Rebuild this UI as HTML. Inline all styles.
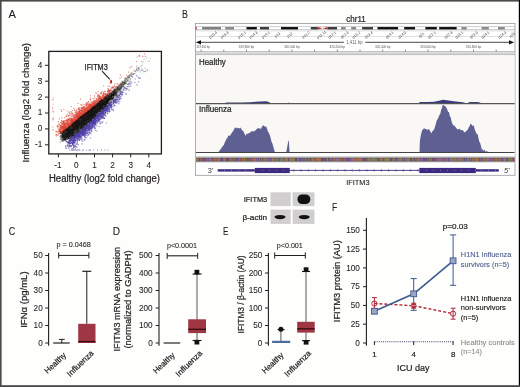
<!DOCTYPE html>
<html><head><meta charset="utf-8"><style>
html,body{margin:0;padding:0;background:#fff;}
svg{display:block;font-family:"Liberation Sans", sans-serif;will-change:transform;}
</style></head><body>
<svg width="520" height="387" viewBox="0 0 520 387">
<rect width="520" height="387" fill="#fefefd"/>
<text x="8.6" y="17.6" font-size="11.4" text-anchor="start" fill="#231f20" stroke="#231f20" stroke-width="0.1" textLength="7.4" lengthAdjust="spacingAndGlyphs" >A</text>
<rect x="48.8" y="51.4" width="112.6" height="102.5" fill="none" stroke="#231f20" stroke-width="1.3"/>
<line x1="45" y1="65.3" x2="48.8" y2="65.3" stroke="#231f20" stroke-width="1" />
<text x="42.3" y="67.75" font-size="8.2" text-anchor="end" fill="#231f20" stroke="#231f20" stroke-width="0.08" >4</text>
<line x1="45" y1="81.2" x2="48.8" y2="81.2" stroke="#231f20" stroke-width="1" />
<text x="42.3" y="83.65" font-size="8.2" text-anchor="end" fill="#231f20" stroke="#231f20" stroke-width="0.08" >3</text>
<line x1="45" y1="97.1" x2="48.8" y2="97.1" stroke="#231f20" stroke-width="1" />
<text x="42.3" y="99.55" font-size="8.2" text-anchor="end" fill="#231f20" stroke="#231f20" stroke-width="0.08" >2</text>
<line x1="45" y1="113.0" x2="48.8" y2="113.0" stroke="#231f20" stroke-width="1" />
<text x="42.3" y="115.45" font-size="8.2" text-anchor="end" fill="#231f20" stroke="#231f20" stroke-width="0.08" >1</text>
<line x1="45" y1="128.9" x2="48.8" y2="128.9" stroke="#231f20" stroke-width="1" />
<text x="42.3" y="131.35" font-size="8.2" text-anchor="end" fill="#231f20" stroke="#231f20" stroke-width="0.08" >0</text>
<line x1="45" y1="144.8" x2="48.8" y2="144.8" stroke="#231f20" stroke-width="1" />
<text x="42.3" y="147.25" font-size="8.2" text-anchor="end" fill="#231f20" stroke="#231f20" stroke-width="0.08" >-1</text>
<line x1="58.4" y1="153.7" x2="58.4" y2="157.4" stroke="#231f20" stroke-width="1" />
<text x="57.8" y="167.6" font-size="8.2" text-anchor="middle" fill="#231f20" stroke="#231f20" stroke-width="0.08" >-1</text>
<line x1="76.4" y1="153.7" x2="76.4" y2="157.4" stroke="#231f20" stroke-width="1" />
<text x="76.4" y="167.6" font-size="8.2" text-anchor="middle" fill="#231f20" stroke="#231f20" stroke-width="0.08" >0</text>
<line x1="94.5" y1="153.7" x2="94.5" y2="157.4" stroke="#231f20" stroke-width="1" />
<text x="94.5" y="167.6" font-size="8.2" text-anchor="middle" fill="#231f20" stroke="#231f20" stroke-width="0.08" >1</text>
<line x1="112.6" y1="153.7" x2="112.6" y2="157.4" stroke="#231f20" stroke-width="1" />
<text x="112.6" y="167.6" font-size="8.2" text-anchor="middle" fill="#231f20" stroke="#231f20" stroke-width="0.08" >2</text>
<line x1="130.7" y1="153.7" x2="130.7" y2="157.4" stroke="#231f20" stroke-width="1" />
<text x="130.7" y="167.6" font-size="8.2" text-anchor="middle" fill="#231f20" stroke="#231f20" stroke-width="0.08" >3</text>
<line x1="148.8" y1="153.7" x2="148.8" y2="157.4" stroke="#231f20" stroke-width="1" />
<text x="148.8" y="167.6" font-size="8.2" text-anchor="middle" fill="#231f20" stroke="#231f20" stroke-width="0.08" >4</text>
<text x="49" y="181.9" font-size="10.0" text-anchor="start" fill="#231f20" stroke="#231f20" stroke-width="0.22" textLength="111" lengthAdjust="spacingAndGlyphs" >Healthy (log2 fold change)</text>
<text x="0" y="0" font-size="9.6" text-anchor="middle" fill="#231f20" stroke="#231f20" stroke-width="0.22" textLength="119.5" lengthAdjust="spacingAndGlyphs" transform="translate(28.6,102.7) rotate(-90)">Influenza (log2 fold change)</text>
<path d="M143.6 58.8h1.1v1.1h-1.1zM128.5 76.0h1.1v1.1h-1.1zM129.4 75.0h1.1v1.1h-1.1zM133.5 69.8h1.1v1.1h-1.1zM132.8 73.2h1.1v1.1h-1.1zM148.8 60.5h1.1v1.1h-1.1zM120.6 88.8h1.1v1.1h-1.1zM129.7 78.2h1.1v1.1h-1.1zM132.7 73.9h1.1v1.1h-1.1zM136.1 65.4h1.1v1.1h-1.1zM129.3 79.5h1.1v1.1h-1.1zM142.5 61.1h1.1v1.1h-1.1zM128.7 75.2h1.1v1.1h-1.1zM128.3 76.8h1.1v1.1h-1.1zM127.2 76.1h1.1v1.1h-1.1zM120.9 83.9h1.1v1.1h-1.1zM136.0 69.3h1.1v1.1h-1.1zM124.4 82.1h1.1v1.1h-1.1zM131.1 73.6h1.1v1.1h-1.1zM128.7 76.9h1.1v1.1h-1.1zM116.0 94.7h1.1v1.1h-1.1zM124.2 82.3h1.1v1.1h-1.1zM133.7 71.2h1.1v1.1h-1.1zM124.8 82.6h1.1v1.1h-1.1zM137.5 68.4h1.1v1.1h-1.1zM138.5 67.6h1.1v1.1h-1.1zM136.6 70.1h1.1v1.1h-1.1zM137.5 67.6h1.1v1.1h-1.1zM124.5 79.9h1.1v1.1h-1.1zM132.1 76.0h1.1v1.1h-1.1zM119.0 89.8h1.1v1.1h-1.1zM126.6 80.2h1.1v1.1h-1.1zM127.7 78.4h1.1v1.1h-1.1zM138.2 70.3h1.1v1.1h-1.1zM127.2 79.0h1.1v1.1h-1.1zM122.4 85.3h1.1v1.1h-1.1zM121.0 87.0h1.1v1.1h-1.1zM128.6 86.2h1.1v1.1h-1.1zM135.0 70.6h1.1v1.1h-1.1zM132.4 73.7h1.1v1.1h-1.1zM130.8 72.3h1.1v1.1h-1.1zM149.5 57.7h1.1v1.1h-1.1zM126.2 78.3h1.1v1.1h-1.1zM121.9 83.7h1.1v1.1h-1.1zM129.2 73.9h1.1v1.1h-1.1zM130.0 73.3h1.1v1.1h-1.1zM144.4 67.4h1.1v1.1h-1.1zM122.5 84.1h1.1v1.1h-1.1zM147.4 60.9h1.1v1.1h-1.1zM133.3 71.5h1.1v1.1h-1.1zM120.3 87.7h1.1v1.1h-1.1zM133.6 72.9h1.1v1.1h-1.1zM131.9 74.1h1.1v1.1h-1.1z" fill="#6a6a6a" fill-opacity="0.45"/>
<path d="M127.6 80.9h1.1v1.1h-1.1zM120.2 86.9h1.1v1.1h-1.1zM136.8 68.9h1.1v1.1h-1.1zM131.8 74.0h1.1v1.1h-1.1zM140.7 65.6h1.1v1.1h-1.1zM133.2 73.4h1.1v1.1h-1.1zM126.5 80.6h1.1v1.1h-1.1zM134.4 73.0h1.1v1.1h-1.1zM128.4 75.8h1.1v1.1h-1.1zM135.9 68.5h1.1v1.1h-1.1zM119.9 83.7h1.1v1.1h-1.1zM138.4 68.2h1.1v1.1h-1.1zM127.6 79.5h1.1v1.1h-1.1zM146.1 57.3h1.1v1.1h-1.1zM132.5 73.8h1.1v1.1h-1.1zM132.0 73.6h1.1v1.1h-1.1zM146.6 68.9h1.1v1.1h-1.1zM131.7 75.9h1.1v1.1h-1.1zM128.5 74.7h1.1v1.1h-1.1zM141.0 61.0h1.1v1.1h-1.1zM124.0 81.9h1.1v1.1h-1.1zM137.8 67.3h1.1v1.1h-1.1zM138.9 69.0h1.1v1.1h-1.1zM135.1 71.2h1.1v1.1h-1.1zM122.7 81.6h1.1v1.1h-1.1zM134.9 70.2h1.1v1.1h-1.1zM136.0 67.3h1.1v1.1h-1.1zM123.7 83.2h1.1v1.1h-1.1zM130.8 75.3h1.1v1.1h-1.1zM139.8 71.4h1.1v1.1h-1.1zM131.1 72.4h1.1v1.1h-1.1zM130.2 74.5h1.1v1.1h-1.1zM138.4 66.8h1.1v1.1h-1.1zM129.1 76.8h1.1v1.1h-1.1zM137.6 69.6h1.1v1.1h-1.1zM137.8 67.9h1.1v1.1h-1.1zM122.7 85.9h1.1v1.1h-1.1zM129.8 73.9h1.1v1.1h-1.1zM124.3 82.2h1.1v1.1h-1.1zM124.5 83.0h1.1v1.1h-1.1zM122.8 82.2h1.1v1.1h-1.1zM124.6 83.5h1.1v1.1h-1.1zM136.3 69.7h1.1v1.1h-1.1zM140.8 64.9h1.1v1.1h-1.1zM132.0 76.5h1.1v1.1h-1.1zM141.2 68.1h1.1v1.1h-1.1zM129.4 80.4h1.1v1.1h-1.1zM131.7 73.5h1.1v1.1h-1.1zM125.5 82.0h1.1v1.1h-1.1zM118.4 89.0h1.1v1.1h-1.1zM124.4 82.9h1.1v1.1h-1.1zM118.0 88.5h1.1v1.1h-1.1zM141.9 63.4h1.1v1.1h-1.1z" fill="#6a6a6a" fill-opacity="0.45"/>
<path d="M83.6 130.2h1.1v1.1h-1.1zM84.7 133.4h1.1v1.1h-1.1zM80.4 130.5h1.1v1.1h-1.1zM118.8 94.7h1.1v1.1h-1.1zM100.9 111.6h1.1v1.1h-1.1zM117.1 95.5h1.1v1.1h-1.1zM99.9 113.5h1.1v1.1h-1.1zM101.5 113.1h1.1v1.1h-1.1zM93.2 118.1h1.1v1.1h-1.1zM107.6 105.4h1.1v1.1h-1.1zM84.2 131.5h1.1v1.1h-1.1zM89.3 126.2h1.1v1.1h-1.1zM102.0 112.0h1.1v1.1h-1.1zM119.9 93.1h1.1v1.1h-1.1zM89.4 123.2h1.1v1.1h-1.1zM84.5 133.3h1.1v1.1h-1.1zM81.8 129.1h1.1v1.1h-1.1zM95.1 120.7h1.1v1.1h-1.1zM83.5 139.3h1.1v1.1h-1.1zM96.6 121.0h1.1v1.1h-1.1zM82.6 133.7h1.1v1.1h-1.1zM102.9 110.6h1.1v1.1h-1.1zM94.0 122.9h1.1v1.1h-1.1zM73.8 137.4h1.1v1.1h-1.1zM93.5 119.2h1.1v1.1h-1.1zM102.2 110.4h1.1v1.1h-1.1zM81.8 129.2h1.1v1.1h-1.1zM83.0 131.3h1.1v1.1h-1.1zM101.5 111.2h1.1v1.1h-1.1zM97.1 118.2h1.1v1.1h-1.1zM94.1 120.1h1.1v1.1h-1.1zM93.4 120.6h1.1v1.1h-1.1zM74.3 140.2h1.1v1.1h-1.1zM69.0 143.1h1.1v1.1h-1.1zM103.5 107.9h1.1v1.1h-1.1zM85.0 129.3h1.1v1.1h-1.1zM75.1 139.9h1.1v1.1h-1.1zM74.9 140.5h1.1v1.1h-1.1zM97.7 121.2h1.1v1.1h-1.1zM79.8 132.0h1.1v1.1h-1.1zM119.2 92.1h1.1v1.1h-1.1zM83.1 130.1h1.1v1.1h-1.1zM111.5 101.1h1.1v1.1h-1.1zM101.1 116.8h1.1v1.1h-1.1zM88.5 124.9h1.1v1.1h-1.1zM79.2 130.5h1.1v1.1h-1.1zM95.6 119.3h1.1v1.1h-1.1zM89.0 125.5h1.1v1.1h-1.1zM113.3 98.8h1.1v1.1h-1.1zM83.2 128.5h1.1v1.1h-1.1zM101.6 116.9h1.1v1.1h-1.1zM71.4 139.8h1.1v1.1h-1.1zM81.4 129.5h1.1v1.1h-1.1zM88.9 128.0h1.1v1.1h-1.1zM73.4 139.0h1.1v1.1h-1.1zM93.5 120.1h1.1v1.1h-1.1zM121.6 92.2h1.1v1.1h-1.1zM104.6 112.2h1.1v1.1h-1.1zM71.5 141.8h1.1v1.1h-1.1zM96.7 116.0h1.1v1.1h-1.1zM127.3 88.4h1.1v1.1h-1.1zM104.3 108.7h1.1v1.1h-1.1zM90.4 120.7h1.1v1.1h-1.1zM112.9 101.4h1.1v1.1h-1.1zM65.1 145.4h1.1v1.1h-1.1zM85.3 128.1h1.1v1.1h-1.1zM91.8 127.2h1.1v1.1h-1.1zM86.4 124.7h1.1v1.1h-1.1zM114.5 105.3h1.1v1.1h-1.1zM108.3 106.1h1.1v1.1h-1.1zM90.2 128.1h1.1v1.1h-1.1zM72.7 140.6h1.1v1.1h-1.1zM108.8 109.5h1.1v1.1h-1.1zM74.7 139.4h1.1v1.1h-1.1zM100.4 112.0h1.1v1.1h-1.1zM95.2 118.2h1.1v1.1h-1.1zM93.3 120.4h1.1v1.1h-1.1zM91.8 123.0h1.1v1.1h-1.1zM77.1 133.8h1.1v1.1h-1.1zM73.6 137.5h1.1v1.1h-1.1zM95.6 117.9h1.1v1.1h-1.1zM136.4 84.3h1.1v1.1h-1.1zM103.0 111.4h1.1v1.1h-1.1zM114.1 99.6h1.1v1.1h-1.1zM86.5 132.2h1.1v1.1h-1.1zM69.7 139.3h1.1v1.1h-1.1zM66.1 141.4h1.1v1.1h-1.1zM91.6 123.7h1.1v1.1h-1.1zM94.8 121.5h1.1v1.1h-1.1zM99.3 112.4h1.1v1.1h-1.1zM98.9 118.4h1.1v1.1h-1.1zM85.6 127.0h1.1v1.1h-1.1zM86.2 125.8h1.1v1.1h-1.1zM92.3 128.3h1.1v1.1h-1.1zM83.5 128.3h1.1v1.1h-1.1zM103.7 118.0h1.1v1.1h-1.1zM95.7 121.2h1.1v1.1h-1.1zM106.3 105.8h1.1v1.1h-1.1zM92.9 124.1h1.1v1.1h-1.1zM77.9 135.5h1.1v1.1h-1.1zM106.1 106.1h1.1v1.1h-1.1zM90.4 121.9h1.1v1.1h-1.1zM91.8 126.8h1.1v1.1h-1.1zM86.2 127.9h1.1v1.1h-1.1zM70.8 137.4h1.1v1.1h-1.1zM89.3 122.6h1.1v1.1h-1.1zM76.3 132.7h1.1v1.1h-1.1zM70.7 142.0h1.1v1.1h-1.1zM79.0 135.7h1.1v1.1h-1.1zM88.8 123.7h1.1v1.1h-1.1zM87.4 128.4h1.1v1.1h-1.1zM108.8 108.1h1.1v1.1h-1.1zM99.0 117.8h1.1v1.1h-1.1zM78.6 133.7h1.1v1.1h-1.1zM76.9 138.9h1.1v1.1h-1.1zM89.6 124.1h1.1v1.1h-1.1zM92.5 124.8h1.1v1.1h-1.1zM96.3 116.4h1.1v1.1h-1.1zM117.3 94.2h1.1v1.1h-1.1zM99.3 113.5h1.1v1.1h-1.1zM108.3 104.2h1.1v1.1h-1.1zM78.4 131.6h1.1v1.1h-1.1zM78.5 134.0h1.1v1.1h-1.1zM87.0 125.1h1.1v1.1h-1.1zM81.2 134.6h1.1v1.1h-1.1zM77.3 136.0h1.1v1.1h-1.1zM82.6 132.6h1.1v1.1h-1.1zM86.6 125.0h1.1v1.1h-1.1zM97.1 115.6h1.1v1.1h-1.1zM89.6 127.4h1.1v1.1h-1.1zM134.6 78.4h1.1v1.1h-1.1zM75.9 136.0h1.1v1.1h-1.1zM84.8 127.6h1.1v1.1h-1.1zM90.3 133.3h1.1v1.1h-1.1zM85.0 131.6h1.1v1.1h-1.1zM76.9 133.8h1.1v1.1h-1.1zM86.1 127.0h1.1v1.1h-1.1zM86.0 127.6h1.1v1.1h-1.1zM101.2 112.1h1.1v1.1h-1.1zM91.8 125.6h1.1v1.1h-1.1zM102.5 112.8h1.1v1.1h-1.1zM105.9 107.0h1.1v1.1h-1.1zM75.2 147.7h1.1v1.1h-1.1zM106.9 108.1h1.1v1.1h-1.1zM74.9 134.7h1.1v1.1h-1.1zM85.1 128.0h1.1v1.1h-1.1zM73.9 142.5h1.1v1.1h-1.1zM88.1 123.9h1.1v1.1h-1.1zM102.2 110.5h1.1v1.1h-1.1zM71.9 142.3h1.1v1.1h-1.1zM81.4 132.2h1.1v1.1h-1.1zM85.8 127.5h1.1v1.1h-1.1zM119.3 101.2h1.1v1.1h-1.1zM106.1 107.0h1.1v1.1h-1.1zM98.5 116.0h1.1v1.1h-1.1zM91.7 124.0h1.1v1.1h-1.1zM93.8 118.7h1.1v1.1h-1.1zM73.7 139.1h1.1v1.1h-1.1zM73.2 145.1h1.1v1.1h-1.1zM89.5 125.7h1.1v1.1h-1.1zM83.7 127.7h1.1v1.1h-1.1zM112.8 106.4h1.1v1.1h-1.1zM114.4 100.0h1.1v1.1h-1.1zM67.6 141.8h1.1v1.1h-1.1zM78.4 135.3h1.1v1.1h-1.1zM100.7 114.7h1.1v1.1h-1.1zM78.8 131.4h1.1v1.1h-1.1zM100.6 115.4h1.1v1.1h-1.1zM109.8 102.5h1.1v1.1h-1.1zM79.4 130.5h1.1v1.1h-1.1zM85.9 128.1h1.1v1.1h-1.1zM77.9 144.2h1.1v1.1h-1.1zM93.3 122.6h1.1v1.1h-1.1zM95.8 117.5h1.1v1.1h-1.1zM110.9 105.4h1.1v1.1h-1.1zM86.7 135.5h1.1v1.1h-1.1zM83.8 130.5h1.1v1.1h-1.1zM127.9 83.7h1.1v1.1h-1.1zM94.8 122.5h1.1v1.1h-1.1zM94.0 118.1h1.1v1.1h-1.1zM86.2 129.3h1.1v1.1h-1.1zM74.1 135.8h1.1v1.1h-1.1zM71.6 142.8h1.1v1.1h-1.1zM110.1 107.3h1.1v1.1h-1.1zM106.6 109.0h1.1v1.1h-1.1zM100.8 111.0h1.1v1.1h-1.1zM103.2 108.8h1.1v1.1h-1.1zM83.9 130.7h1.1v1.1h-1.1zM106.0 109.2h1.1v1.1h-1.1zM104.5 112.9h1.1v1.1h-1.1zM89.6 124.1h1.1v1.1h-1.1zM74.2 140.8h1.1v1.1h-1.1zM96.4 130.4h1.1v1.1h-1.1zM75.9 133.7h1.1v1.1h-1.1zM73.4 134.8h1.1v1.1h-1.1zM80.8 137.3h1.1v1.1h-1.1zM104.4 114.2h1.1v1.1h-1.1zM107.9 104.8h1.1v1.1h-1.1zM102.8 114.3h1.1v1.1h-1.1zM126.8 88.4h1.1v1.1h-1.1zM109.6 103.9h1.1v1.1h-1.1zM90.7 130.6h1.1v1.1h-1.1zM100.6 121.5h1.1v1.1h-1.1zM90.6 128.4h1.1v1.1h-1.1zM86.3 129.8h1.1v1.1h-1.1zM89.1 128.8h1.1v1.1h-1.1zM104.4 107.2h1.1v1.1h-1.1zM65.6 147.6h1.1v1.1h-1.1zM102.5 117.4h1.1v1.1h-1.1zM72.8 147.7h1.1v1.1h-1.1zM91.7 122.2h1.1v1.1h-1.1zM84.1 128.0h1.1v1.1h-1.1zM81.8 130.3h1.1v1.1h-1.1zM109.4 107.0h1.1v1.1h-1.1zM88.2 123.8h1.1v1.1h-1.1zM95.4 116.5h1.1v1.1h-1.1zM68.8 143.6h1.1v1.1h-1.1zM103.9 108.0h1.1v1.1h-1.1zM84.0 130.2h1.1v1.1h-1.1zM115.3 103.0h1.1v1.1h-1.1zM74.0 137.6h1.1v1.1h-1.1zM76.0 133.3h1.1v1.1h-1.1zM82.2 140.7h1.1v1.1h-1.1zM76.9 132.9h1.1v1.1h-1.1zM95.8 120.5h1.1v1.1h-1.1zM103.8 110.7h1.1v1.1h-1.1zM127.0 83.9h1.1v1.1h-1.1zM90.9 128.0h1.1v1.1h-1.1zM106.4 106.6h1.1v1.1h-1.1zM88.8 122.8h1.1v1.1h-1.1zM93.3 118.5h1.1v1.1h-1.1zM94.6 116.7h1.1v1.1h-1.1zM100.0 112.8h1.1v1.1h-1.1zM105.6 109.7h1.1v1.1h-1.1zM91.2 120.1h1.1v1.1h-1.1zM102.1 110.5h1.1v1.1h-1.1zM83.0 127.8h1.1v1.1h-1.1zM87.2 125.2h1.1v1.1h-1.1zM102.2 110.2h1.1v1.1h-1.1zM91.6 122.1h1.1v1.1h-1.1zM81.5 143.3h1.1v1.1h-1.1zM81.2 133.2h1.1v1.1h-1.1zM85.9 125.5h1.1v1.1h-1.1zM91.2 121.8h1.1v1.1h-1.1zM85.8 134.3h1.1v1.1h-1.1zM82.9 128.7h1.1v1.1h-1.1zM98.3 120.5h1.1v1.1h-1.1zM72.5 143.3h1.1v1.1h-1.1zM84.3 126.9h1.1v1.1h-1.1zM81.8 131.5h1.1v1.1h-1.1zM92.4 120.5h1.1v1.1h-1.1zM96.1 117.4h1.1v1.1h-1.1zM78.3 133.9h1.1v1.1h-1.1zM84.1 135.7h1.1v1.1h-1.1zM93.1 125.4h1.1v1.1h-1.1zM113.7 99.0h1.1v1.1h-1.1zM99.9 114.1h1.1v1.1h-1.1zM71.1 137.3h1.1v1.1h-1.1zM102.2 110.8h1.1v1.1h-1.1zM71.8 142.2h1.1v1.1h-1.1zM93.8 120.3h1.1v1.1h-1.1zM91.6 120.1h1.1v1.1h-1.1zM89.4 123.7h1.1v1.1h-1.1zM94.6 117.0h1.1v1.1h-1.1zM97.1 115.6h1.1v1.1h-1.1zM87.6 125.6h1.1v1.1h-1.1zM99.0 118.6h1.1v1.1h-1.1zM101.0 110.9h1.1v1.1h-1.1zM107.3 107.4h1.1v1.1h-1.1zM115.3 99.3h1.1v1.1h-1.1zM87.6 125.8h1.1v1.1h-1.1zM110.2 104.8h1.1v1.1h-1.1zM84.3 134.2h1.1v1.1h-1.1zM81.2 132.9h1.1v1.1h-1.1zM93.3 122.6h1.1v1.1h-1.1zM82.2 129.9h1.1v1.1h-1.1zM110.5 104.3h1.1v1.1h-1.1zM103.3 110.8h1.1v1.1h-1.1zM87.5 124.2h1.1v1.1h-1.1zM83.8 131.3h1.1v1.1h-1.1zM98.8 113.5h1.1v1.1h-1.1zM100.6 110.8h1.1v1.1h-1.1zM87.5 126.0h1.1v1.1h-1.1zM85.7 131.7h1.1v1.1h-1.1zM81.3 131.7h1.1v1.1h-1.1zM78.0 134.6h1.1v1.1h-1.1zM103.7 117.1h1.1v1.1h-1.1zM82.5 131.7h1.1v1.1h-1.1zM98.6 113.1h1.1v1.1h-1.1zM96.1 116.9h1.1v1.1h-1.1zM87.5 128.6h1.1v1.1h-1.1zM96.9 115.4h1.1v1.1h-1.1zM105.2 108.7h1.1v1.1h-1.1zM101.6 116.4h1.1v1.1h-1.1zM92.6 121.1h1.1v1.1h-1.1zM93.5 124.1h1.1v1.1h-1.1zM104.6 114.6h1.1v1.1h-1.1zM71.7 143.3h1.1v1.1h-1.1zM90.4 123.2h1.1v1.1h-1.1zM84.4 127.1h1.1v1.1h-1.1zM96.9 116.1h1.1v1.1h-1.1zM85.9 127.2h1.1v1.1h-1.1zM70.6 139.1h1.1v1.1h-1.1zM113.1 100.1h1.1v1.1h-1.1zM70.2 138.7h1.1v1.1h-1.1zM75.9 139.8h1.1v1.1h-1.1zM83.1 128.5h1.1v1.1h-1.1zM100.7 111.4h1.1v1.1h-1.1zM109.3 103.9h1.1v1.1h-1.1zM93.0 121.2h1.1v1.1h-1.1zM75.2 135.9h1.1v1.1h-1.1zM76.7 138.5h1.1v1.1h-1.1zM110.6 101.7h1.1v1.1h-1.1zM100.5 115.7h1.1v1.1h-1.1zM79.8 136.7h1.1v1.1h-1.1zM87.5 123.6h1.1v1.1h-1.1zM97.1 116.3h1.1v1.1h-1.1zM102.2 114.2h1.1v1.1h-1.1zM70.1 138.5h1.1v1.1h-1.1zM96.4 117.4h1.1v1.1h-1.1zM91.7 119.6h1.1v1.1h-1.1zM69.8 146.0h1.1v1.1h-1.1zM107.1 107.0h1.1v1.1h-1.1zM79.3 131.1h1.1v1.1h-1.1zM87.0 125.4h1.1v1.1h-1.1zM89.2 125.1h1.1v1.1h-1.1zM79.3 135.5h1.1v1.1h-1.1zM88.9 130.3h1.1v1.1h-1.1zM85.0 125.4h1.1v1.1h-1.1zM73.4 140.7h1.1v1.1h-1.1zM94.1 118.1h1.1v1.1h-1.1zM73.0 135.8h1.1v1.1h-1.1zM70.3 137.9h1.1v1.1h-1.1zM99.6 114.6h1.1v1.1h-1.1zM74.0 135.1h1.1v1.1h-1.1zM83.3 126.9h1.1v1.1h-1.1zM74.4 134.0h1.1v1.1h-1.1zM78.4 134.3h1.1v1.1h-1.1zM118.1 101.1h1.1v1.1h-1.1zM96.6 117.4h1.1v1.1h-1.1zM110.8 102.5h1.1v1.1h-1.1zM105.2 108.3h1.1v1.1h-1.1zM101.6 110.5h1.1v1.1h-1.1zM81.9 128.3h1.1v1.1h-1.1zM109.7 106.4h1.1v1.1h-1.1zM104.7 109.5h1.1v1.1h-1.1zM114.6 98.2h1.1v1.1h-1.1zM74.6 135.0h1.1v1.1h-1.1zM99.1 116.6h1.1v1.1h-1.1zM80.5 130.8h1.1v1.1h-1.1zM81.7 129.7h1.1v1.1h-1.1zM107.0 105.0h1.1v1.1h-1.1zM71.5 137.3h1.1v1.1h-1.1zM97.5 121.0h1.1v1.1h-1.1zM96.3 117.1h1.1v1.1h-1.1zM76.9 133.3h1.1v1.1h-1.1zM83.8 132.2h1.1v1.1h-1.1zM97.9 115.6h1.1v1.1h-1.1zM67.3 145.7h1.1v1.1h-1.1zM74.1 137.8h1.1v1.1h-1.1zM81.8 133.6h1.1v1.1h-1.1zM106.2 109.8h1.1v1.1h-1.1zM96.1 116.5h1.1v1.1h-1.1zM70.0 139.1h1.1v1.1h-1.1zM77.4 136.0h1.1v1.1h-1.1zM71.6 137.5h1.1v1.1h-1.1zM87.3 125.9h1.1v1.1h-1.1zM89.6 129.2h1.1v1.1h-1.1zM85.2 128.4h1.1v1.1h-1.1zM77.3 132.8h1.1v1.1h-1.1zM66.6 142.0h1.1v1.1h-1.1zM79.6 130.0h1.1v1.1h-1.1zM78.8 131.3h1.1v1.1h-1.1zM95.0 118.7h1.1v1.1h-1.1zM76.6 132.9h1.1v1.1h-1.1zM73.9 146.9h1.1v1.1h-1.1zM73.9 137.0h1.1v1.1h-1.1zM88.4 123.4h1.1v1.1h-1.1zM73.2 145.5h1.1v1.1h-1.1zM119.0 98.6h1.1v1.1h-1.1zM69.9 143.1h1.1v1.1h-1.1zM113.0 99.5h1.1v1.1h-1.1zM91.5 120.2h1.1v1.1h-1.1zM73.6 142.3h1.1v1.1h-1.1zM95.7 117.4h1.1v1.1h-1.1zM72.6 143.6h1.1v1.1h-1.1zM73.8 136.0h1.1v1.1h-1.1zM86.2 132.5h1.1v1.1h-1.1zM108.9 104.9h1.1v1.1h-1.1zM97.4 113.8h1.1v1.1h-1.1zM102.1 109.3h1.1v1.1h-1.1zM93.4 124.7h1.1v1.1h-1.1zM94.7 127.9h1.1v1.1h-1.1zM81.9 128.9h1.1v1.1h-1.1zM75.9 133.1h1.1v1.1h-1.1zM85.2 130.5h1.1v1.1h-1.1zM138.9 77.8h1.1v1.1h-1.1zM86.4 124.8h1.1v1.1h-1.1zM95.3 117.6h1.1v1.1h-1.1zM96.4 117.4h1.1v1.1h-1.1zM93.6 121.4h1.1v1.1h-1.1zM84.4 128.8h1.1v1.1h-1.1zM93.2 123.0h1.1v1.1h-1.1zM92.0 120.7h1.1v1.1h-1.1zM95.1 116.1h1.1v1.1h-1.1zM74.4 140.9h1.1v1.1h-1.1zM70.8 136.9h1.1v1.1h-1.1zM108.1 106.0h1.1v1.1h-1.1zM67.4 141.9h1.1v1.1h-1.1zM76.5 139.1h1.1v1.1h-1.1zM102.5 115.8h1.1v1.1h-1.1zM88.1 124.0h1.1v1.1h-1.1zM82.5 129.3h1.1v1.1h-1.1zM74.5 142.3h1.1v1.1h-1.1zM76.9 133.1h1.1v1.1h-1.1zM94.0 117.0h1.1v1.1h-1.1zM82.4 127.7h1.1v1.1h-1.1zM125.5 93.5h1.1v1.1h-1.1zM80.4 139.5h1.1v1.1h-1.1zM104.8 107.3h1.1v1.1h-1.1zM85.9 125.0h1.1v1.1h-1.1zM108.2 104.8h1.1v1.1h-1.1zM94.3 120.8h1.1v1.1h-1.1zM71.3 139.4h1.1v1.1h-1.1zM101.2 110.2h1.1v1.1h-1.1zM106.8 106.8h1.1v1.1h-1.1zM98.5 114.8h1.1v1.1h-1.1zM84.9 126.7h1.1v1.1h-1.1zM92.7 125.0h1.1v1.1h-1.1zM98.3 119.4h1.1v1.1h-1.1zM120.1 91.8h1.1v1.1h-1.1zM82.0 134.3h1.1v1.1h-1.1zM88.0 125.1h1.1v1.1h-1.1zM104.9 112.2h1.1v1.1h-1.1zM95.3 122.6h1.1v1.1h-1.1zM81.2 137.8h1.1v1.1h-1.1zM96.1 116.5h1.1v1.1h-1.1zM81.1 134.3h1.1v1.1h-1.1zM86.5 124.6h1.1v1.1h-1.1zM105.2 107.8h1.1v1.1h-1.1zM72.3 143.9h1.1v1.1h-1.1zM85.1 135.0h1.1v1.1h-1.1zM87.8 125.8h1.1v1.1h-1.1zM85.3 131.2h1.1v1.1h-1.1zM97.5 118.2h1.1v1.1h-1.1zM93.1 120.0h1.1v1.1h-1.1zM94.1 128.1h1.1v1.1h-1.1zM84.5 130.7h1.1v1.1h-1.1zM96.4 114.9h1.1v1.1h-1.1zM68.4 147.6h1.1v1.1h-1.1zM75.6 136.2h1.1v1.1h-1.1zM80.3 132.8h1.1v1.1h-1.1zM74.3 136.2h1.1v1.1h-1.1zM102.0 113.4h1.1v1.1h-1.1zM67.0 145.3h1.1v1.1h-1.1zM81.5 128.7h1.1v1.1h-1.1zM67.7 142.5h1.1v1.1h-1.1zM104.9 108.0h1.1v1.1h-1.1zM90.3 122.3h1.1v1.1h-1.1zM111.0 101.6h1.1v1.1h-1.1zM96.1 117.1h1.1v1.1h-1.1zM88.6 131.8h1.1v1.1h-1.1zM88.3 124.1h1.1v1.1h-1.1zM79.8 131.0h1.1v1.1h-1.1zM105.9 110.0h1.1v1.1h-1.1zM79.7 131.2h1.1v1.1h-1.1zM108.2 105.0h1.1v1.1h-1.1zM90.7 125.5h1.1v1.1h-1.1zM98.5 114.8h1.1v1.1h-1.1zM117.0 101.7h1.1v1.1h-1.1zM123.3 88.9h1.1v1.1h-1.1zM102.5 113.1h1.1v1.1h-1.1zM94.1 119.6h1.1v1.1h-1.1zM116.0 98.8h1.1v1.1h-1.1zM86.7 126.0h1.1v1.1h-1.1zM88.8 126.9h1.1v1.1h-1.1zM97.7 115.1h1.1v1.1h-1.1zM104.6 109.6h1.1v1.1h-1.1zM105.4 109.1h1.1v1.1h-1.1zM79.6 135.0h1.1v1.1h-1.1zM92.0 119.9h1.1v1.1h-1.1zM101.3 110.7h1.1v1.1h-1.1zM75.9 134.4h1.1v1.1h-1.1zM101.4 110.8h1.1v1.1h-1.1zM92.5 123.3h1.1v1.1h-1.1zM91.3 122.0h1.1v1.1h-1.1zM94.5 118.6h1.1v1.1h-1.1zM107.6 109.4h1.1v1.1h-1.1zM83.1 134.7h1.1v1.1h-1.1zM82.6 130.6h1.1v1.1h-1.1zM108.9 104.0h1.1v1.1h-1.1zM83.5 133.8h1.1v1.1h-1.1zM102.4 117.7h1.1v1.1h-1.1zM84.5 137.3h1.1v1.1h-1.1zM81.7 131.4h1.1v1.1h-1.1zM122.7 91.7h1.1v1.1h-1.1zM93.7 119.5h1.1v1.1h-1.1zM89.9 127.8h1.1v1.1h-1.1zM87.8 127.4h1.1v1.1h-1.1zM85.3 128.2h1.1v1.1h-1.1zM99.8 114.9h1.1v1.1h-1.1zM80.3 131.6h1.1v1.1h-1.1zM96.7 116.3h1.1v1.1h-1.1zM105.0 109.3h1.1v1.1h-1.1zM114.7 101.8h1.1v1.1h-1.1zM95.1 120.4h1.1v1.1h-1.1zM137.7 76.8h1.1v1.1h-1.1zM94.3 123.3h1.1v1.1h-1.1zM115.0 100.6h1.1v1.1h-1.1zM109.9 106.9h1.1v1.1h-1.1zM90.0 122.7h1.1v1.1h-1.1zM105.7 109.6h1.1v1.1h-1.1zM92.0 123.1h1.1v1.1h-1.1zM102.9 117.5h1.1v1.1h-1.1zM69.7 140.5h1.1v1.1h-1.1zM113.6 98.6h1.1v1.1h-1.1zM100.6 116.2h1.1v1.1h-1.1zM99.7 114.6h1.1v1.1h-1.1zM100.0 113.4h1.1v1.1h-1.1zM84.9 129.6h1.1v1.1h-1.1zM104.1 109.7h1.1v1.1h-1.1zM123.3 90.0h1.1v1.1h-1.1zM92.3 126.5h1.1v1.1h-1.1zM79.7 134.3h1.1v1.1h-1.1zM91.9 121.5h1.1v1.1h-1.1zM76.2 133.6h1.1v1.1h-1.1zM76.0 135.0h1.1v1.1h-1.1zM86.6 127.8h1.1v1.1h-1.1zM98.2 116.0h1.1v1.1h-1.1zM68.4 142.3h1.1v1.1h-1.1zM77.1 134.5h1.1v1.1h-1.1zM128.9 82.6h1.1v1.1h-1.1zM75.5 136.7h1.1v1.1h-1.1zM94.0 126.4h1.1v1.1h-1.1zM103.8 109.8h1.1v1.1h-1.1zM128.5 82.8h1.1v1.1h-1.1zM119.6 93.2h1.1v1.1h-1.1zM78.1 135.4h1.1v1.1h-1.1zM113.9 104.5h1.1v1.1h-1.1zM93.7 122.4h1.1v1.1h-1.1zM113.0 102.3h1.1v1.1h-1.1zM81.8 129.7h1.1v1.1h-1.1zM65.3 140.5h1.1v1.1h-1.1zM77.4 137.4h1.1v1.1h-1.1zM104.3 113.7h1.1v1.1h-1.1zM89.0 129.5h1.1v1.1h-1.1zM91.7 120.6h1.1v1.1h-1.1zM105.4 108.1h1.1v1.1h-1.1zM84.7 129.6h1.1v1.1h-1.1zM85.1 126.2h1.1v1.1h-1.1zM120.5 90.7h1.1v1.1h-1.1zM75.4 133.6h1.1v1.1h-1.1zM75.6 136.3h1.1v1.1h-1.1zM93.0 120.5h1.1v1.1h-1.1zM92.0 121.0h1.1v1.1h-1.1zM109.6 110.8h1.1v1.1h-1.1zM88.9 125.5h1.1v1.1h-1.1zM77.7 137.5h1.1v1.1h-1.1zM98.0 120.1h1.1v1.1h-1.1zM84.7 133.2h1.1v1.1h-1.1zM102.2 121.3h1.1v1.1h-1.1zM103.2 113.6h1.1v1.1h-1.1zM108.8 104.5h1.1v1.1h-1.1zM72.7 137.2h1.1v1.1h-1.1zM67.0 142.5h1.1v1.1h-1.1zM98.7 125.9h1.1v1.1h-1.1zM88.9 124.2h1.1v1.1h-1.1zM85.1 126.9h1.1v1.1h-1.1zM85.0 133.0h1.1v1.1h-1.1z" fill="#35259a" fill-opacity="0.55"/>
<path d="M92.6 122.4h1.1v1.1h-1.1zM91.4 120.0h1.1v1.1h-1.1zM77.1 133.1h1.1v1.1h-1.1zM77.6 137.3h1.1v1.1h-1.1zM111.2 107.4h1.1v1.1h-1.1zM98.3 120.2h1.1v1.1h-1.1zM110.1 105.9h1.1v1.1h-1.1zM86.8 132.6h1.1v1.1h-1.1zM86.8 127.7h1.1v1.1h-1.1zM81.4 133.4h1.1v1.1h-1.1zM125.2 87.8h1.1v1.1h-1.1zM103.4 109.4h1.1v1.1h-1.1zM89.3 125.0h1.1v1.1h-1.1zM87.9 128.8h1.1v1.1h-1.1zM79.6 134.9h1.1v1.1h-1.1zM83.8 128.7h1.1v1.1h-1.1zM87.8 130.1h1.1v1.1h-1.1zM71.1 137.8h1.1v1.1h-1.1zM80.4 130.6h1.1v1.1h-1.1zM88.7 128.0h1.1v1.1h-1.1zM91.9 119.5h1.1v1.1h-1.1zM84.1 130.9h1.1v1.1h-1.1zM93.9 118.4h1.1v1.1h-1.1zM94.9 117.0h1.1v1.1h-1.1zM69.4 144.9h1.1v1.1h-1.1zM93.9 126.2h1.1v1.1h-1.1zM82.3 134.8h1.1v1.1h-1.1zM109.0 109.1h1.1v1.1h-1.1zM75.5 137.0h1.1v1.1h-1.1zM101.0 111.2h1.1v1.1h-1.1zM102.8 108.8h1.1v1.1h-1.1zM70.3 145.4h1.1v1.1h-1.1zM92.5 122.2h1.1v1.1h-1.1zM95.4 115.9h1.1v1.1h-1.1zM76.8 140.3h1.1v1.1h-1.1zM107.3 106.0h1.1v1.1h-1.1zM116.4 96.8h1.1v1.1h-1.1zM96.5 120.0h1.1v1.1h-1.1zM99.3 114.1h1.1v1.1h-1.1zM89.9 121.2h1.1v1.1h-1.1zM90.0 137.5h1.1v1.1h-1.1zM111.0 104.6h1.1v1.1h-1.1zM68.9 139.2h1.1v1.1h-1.1zM95.9 119.8h1.1v1.1h-1.1zM75.9 136.6h1.1v1.1h-1.1zM105.5 106.5h1.1v1.1h-1.1zM83.2 127.5h1.1v1.1h-1.1zM108.4 111.1h1.1v1.1h-1.1zM98.4 114.8h1.1v1.1h-1.1zM97.0 119.7h1.1v1.1h-1.1zM99.1 112.3h1.1v1.1h-1.1zM98.8 117.8h1.1v1.1h-1.1zM108.2 109.4h1.1v1.1h-1.1zM75.0 135.5h1.1v1.1h-1.1zM116.5 99.1h1.1v1.1h-1.1zM110.9 106.2h1.1v1.1h-1.1zM69.0 138.5h1.1v1.1h-1.1zM120.4 93.8h1.1v1.1h-1.1zM73.8 136.6h1.1v1.1h-1.1zM95.5 118.5h1.1v1.1h-1.1zM85.2 125.6h1.1v1.1h-1.1zM103.4 108.1h1.1v1.1h-1.1zM84.6 129.1h1.1v1.1h-1.1zM76.2 132.8h1.1v1.1h-1.1zM78.6 134.2h1.1v1.1h-1.1zM98.2 114.1h1.1v1.1h-1.1zM102.3 110.1h1.1v1.1h-1.1zM111.1 106.4h1.1v1.1h-1.1zM71.9 142.9h1.1v1.1h-1.1zM82.5 128.0h1.1v1.1h-1.1zM91.4 130.4h1.1v1.1h-1.1zM96.5 119.8h1.1v1.1h-1.1zM104.6 109.2h1.1v1.1h-1.1zM87.3 124.8h1.1v1.1h-1.1zM96.4 118.1h1.1v1.1h-1.1zM76.6 146.4h1.1v1.1h-1.1zM136.1 75.1h1.1v1.1h-1.1zM91.2 122.4h1.1v1.1h-1.1zM86.7 126.9h1.1v1.1h-1.1zM78.3 131.7h1.1v1.1h-1.1zM102.7 116.7h1.1v1.1h-1.1zM88.3 125.1h1.1v1.1h-1.1zM106.5 107.7h1.1v1.1h-1.1zM98.0 116.0h1.1v1.1h-1.1zM69.4 143.2h1.1v1.1h-1.1zM86.4 126.2h1.1v1.1h-1.1zM72.0 141.3h1.1v1.1h-1.1zM80.7 132.3h1.1v1.1h-1.1zM88.5 123.8h1.1v1.1h-1.1zM89.0 124.0h1.1v1.1h-1.1zM95.3 121.7h1.1v1.1h-1.1zM79.3 135.0h1.1v1.1h-1.1zM105.8 122.4h1.1v1.1h-1.1zM108.5 105.7h1.1v1.1h-1.1zM101.6 116.2h1.1v1.1h-1.1zM95.3 117.3h1.1v1.1h-1.1zM70.9 139.6h1.1v1.1h-1.1zM80.9 130.4h1.1v1.1h-1.1zM105.7 110.0h1.1v1.1h-1.1zM104.8 109.4h1.1v1.1h-1.1zM86.8 130.4h1.1v1.1h-1.1zM84.3 129.9h1.1v1.1h-1.1zM80.5 136.1h1.1v1.1h-1.1zM87.3 128.3h1.1v1.1h-1.1zM115.5 96.6h1.1v1.1h-1.1zM99.8 112.6h1.1v1.1h-1.1zM72.9 140.7h1.1v1.1h-1.1zM76.2 133.8h1.1v1.1h-1.1zM121.5 94.7h1.1v1.1h-1.1zM73.4 140.3h1.1v1.1h-1.1zM78.1 135.3h1.1v1.1h-1.1zM78.4 133.0h1.1v1.1h-1.1zM72.5 137.3h1.1v1.1h-1.1zM70.8 136.6h1.1v1.1h-1.1zM105.7 108.7h1.1v1.1h-1.1zM90.2 123.7h1.1v1.1h-1.1zM98.6 119.2h1.1v1.1h-1.1zM114.5 99.0h1.1v1.1h-1.1zM89.4 127.9h1.1v1.1h-1.1zM90.3 120.8h1.1v1.1h-1.1zM114.5 100.0h1.1v1.1h-1.1zM88.6 129.5h1.1v1.1h-1.1zM87.4 131.4h1.1v1.1h-1.1zM71.8 141.2h1.1v1.1h-1.1zM112.6 102.6h1.1v1.1h-1.1zM79.5 132.4h1.1v1.1h-1.1zM95.5 115.6h1.1v1.1h-1.1zM70.2 139.2h1.1v1.1h-1.1zM82.2 132.9h1.1v1.1h-1.1zM97.6 116.9h1.1v1.1h-1.1zM103.1 108.5h1.1v1.1h-1.1zM93.0 121.0h1.1v1.1h-1.1zM100.8 115.5h1.1v1.1h-1.1zM71.2 136.9h1.1v1.1h-1.1zM106.7 113.4h1.1v1.1h-1.1zM92.4 121.3h1.1v1.1h-1.1zM97.4 114.3h1.1v1.1h-1.1zM73.2 143.1h1.1v1.1h-1.1zM76.3 142.8h1.1v1.1h-1.1zM116.9 96.6h1.1v1.1h-1.1zM114.4 101.3h1.1v1.1h-1.1zM78.8 137.1h1.1v1.1h-1.1zM84.1 132.5h1.1v1.1h-1.1zM112.6 109.0h1.1v1.1h-1.1zM88.4 131.8h1.1v1.1h-1.1zM102.4 112.6h1.1v1.1h-1.1zM111.2 108.8h1.1v1.1h-1.1zM78.9 139.8h1.1v1.1h-1.1zM105.4 111.2h1.1v1.1h-1.1zM105.0 112.8h1.1v1.1h-1.1zM87.5 133.4h1.1v1.1h-1.1zM79.0 130.8h1.1v1.1h-1.1zM82.0 129.3h1.1v1.1h-1.1zM73.4 137.5h1.1v1.1h-1.1zM95.1 117.9h1.1v1.1h-1.1zM69.2 139.3h1.1v1.1h-1.1zM99.9 117.8h1.1v1.1h-1.1zM81.2 133.6h1.1v1.1h-1.1zM100.9 110.7h1.1v1.1h-1.1zM99.6 113.4h1.1v1.1h-1.1zM107.5 109.8h1.1v1.1h-1.1zM101.8 116.6h1.1v1.1h-1.1zM79.4 130.4h1.1v1.1h-1.1zM103.7 107.9h1.1v1.1h-1.1zM74.6 133.9h1.1v1.1h-1.1zM91.4 126.1h1.1v1.1h-1.1zM75.4 137.3h1.1v1.1h-1.1zM83.9 127.8h1.1v1.1h-1.1zM107.1 111.1h1.1v1.1h-1.1zM81.0 136.5h1.1v1.1h-1.1zM112.9 100.5h1.1v1.1h-1.1zM76.6 136.0h1.1v1.1h-1.1zM84.7 128.7h1.1v1.1h-1.1zM94.5 127.1h1.1v1.1h-1.1zM91.7 124.9h1.1v1.1h-1.1zM79.5 134.7h1.1v1.1h-1.1zM106.9 111.3h1.1v1.1h-1.1zM87.6 125.6h1.1v1.1h-1.1zM90.3 126.3h1.1v1.1h-1.1zM101.8 111.8h1.1v1.1h-1.1zM92.5 119.8h1.1v1.1h-1.1zM98.0 120.5h1.1v1.1h-1.1zM102.6 110.7h1.1v1.1h-1.1zM106.8 105.0h1.1v1.1h-1.1zM146.8 69.9h1.1v1.1h-1.1zM79.1 132.2h1.1v1.1h-1.1zM88.3 126.6h1.1v1.1h-1.1zM97.6 117.2h1.1v1.1h-1.1zM102.8 111.0h1.1v1.1h-1.1zM89.3 124.6h1.1v1.1h-1.1zM96.4 115.3h1.1v1.1h-1.1zM110.7 101.4h1.1v1.1h-1.1zM82.7 129.9h1.1v1.1h-1.1zM84.6 128.9h1.1v1.1h-1.1zM105.5 109.8h1.1v1.1h-1.1zM76.2 137.9h1.1v1.1h-1.1zM105.7 106.3h1.1v1.1h-1.1zM73.4 141.1h1.1v1.1h-1.1zM112.6 102.1h1.1v1.1h-1.1zM93.2 119.8h1.1v1.1h-1.1zM117.3 100.5h1.1v1.1h-1.1zM89.7 123.1h1.1v1.1h-1.1zM106.5 109.4h1.1v1.1h-1.1zM68.3 141.0h1.1v1.1h-1.1zM120.3 91.4h1.1v1.1h-1.1zM131.2 81.4h1.1v1.1h-1.1zM86.9 128.0h1.1v1.1h-1.1zM79.4 131.0h1.1v1.1h-1.1zM79.3 133.6h1.1v1.1h-1.1zM124.2 86.7h1.1v1.1h-1.1zM72.8 140.0h1.1v1.1h-1.1zM112.3 105.4h1.1v1.1h-1.1zM83.5 130.6h1.1v1.1h-1.1zM99.8 116.0h1.1v1.1h-1.1zM69.0 142.2h1.1v1.1h-1.1zM94.7 124.2h1.1v1.1h-1.1zM80.2 133.1h1.1v1.1h-1.1zM73.7 141.9h1.1v1.1h-1.1zM103.8 114.4h1.1v1.1h-1.1zM97.5 113.9h1.1v1.1h-1.1zM99.0 113.3h1.1v1.1h-1.1zM92.1 120.5h1.1v1.1h-1.1zM82.2 129.4h1.1v1.1h-1.1zM111.1 106.7h1.1v1.1h-1.1zM95.0 117.6h1.1v1.1h-1.1zM128.8 89.8h1.1v1.1h-1.1zM89.6 125.9h1.1v1.1h-1.1zM74.8 139.4h1.1v1.1h-1.1zM70.6 140.4h1.1v1.1h-1.1zM88.8 127.6h1.1v1.1h-1.1zM105.5 109.8h1.1v1.1h-1.1zM84.8 132.6h1.1v1.1h-1.1zM82.1 133.2h1.1v1.1h-1.1zM91.1 125.6h1.1v1.1h-1.1zM99.1 112.0h1.1v1.1h-1.1zM94.7 118.1h1.1v1.1h-1.1zM83.4 129.1h1.1v1.1h-1.1zM88.4 128.6h1.1v1.1h-1.1zM82.5 128.1h1.1v1.1h-1.1zM134.3 81.8h1.1v1.1h-1.1zM75.0 140.4h1.1v1.1h-1.1zM70.5 146.2h1.1v1.1h-1.1zM106.7 108.1h1.1v1.1h-1.1zM79.0 131.2h1.1v1.1h-1.1zM103.1 111.8h1.1v1.1h-1.1zM108.8 103.1h1.1v1.1h-1.1zM76.8 141.2h1.1v1.1h-1.1zM82.1 132.5h1.1v1.1h-1.1zM95.9 117.2h1.1v1.1h-1.1zM97.8 119.7h1.1v1.1h-1.1zM74.6 137.7h1.1v1.1h-1.1zM71.7 143.0h1.1v1.1h-1.1zM87.2 125.0h1.1v1.1h-1.1zM76.1 133.7h1.1v1.1h-1.1zM72.2 137.2h1.1v1.1h-1.1zM100.4 113.7h1.1v1.1h-1.1zM94.3 117.5h1.1v1.1h-1.1zM106.1 107.1h1.1v1.1h-1.1zM84.9 132.7h1.1v1.1h-1.1zM82.6 132.8h1.1v1.1h-1.1zM90.8 127.3h1.1v1.1h-1.1zM103.7 112.1h1.1v1.1h-1.1zM76.8 138.9h1.1v1.1h-1.1zM70.5 138.8h1.1v1.1h-1.1zM74.3 142.0h1.1v1.1h-1.1zM88.3 125.6h1.1v1.1h-1.1zM74.8 134.1h1.1v1.1h-1.1zM74.1 146.0h1.1v1.1h-1.1zM94.6 122.1h1.1v1.1h-1.1zM67.6 141.0h1.1v1.1h-1.1zM118.8 96.9h1.1v1.1h-1.1zM77.8 132.1h1.1v1.1h-1.1zM83.9 127.5h1.1v1.1h-1.1zM125.8 88.0h1.1v1.1h-1.1zM107.2 105.7h1.1v1.1h-1.1zM73.5 134.7h1.1v1.1h-1.1zM72.4 140.2h1.1v1.1h-1.1zM93.4 119.4h1.1v1.1h-1.1zM81.5 133.5h1.1v1.1h-1.1zM98.6 117.8h1.1v1.1h-1.1zM115.3 101.8h1.1v1.1h-1.1zM93.6 122.7h1.1v1.1h-1.1zM73.3 135.6h1.1v1.1h-1.1zM77.6 133.7h1.1v1.1h-1.1zM90.9 120.1h1.1v1.1h-1.1zM82.0 132.4h1.1v1.1h-1.1zM72.9 139.3h1.1v1.1h-1.1zM80.5 132.6h1.1v1.1h-1.1zM80.8 130.9h1.1v1.1h-1.1zM101.7 111.6h1.1v1.1h-1.1zM78.7 134.0h1.1v1.1h-1.1zM81.8 134.9h1.1v1.1h-1.1zM86.8 127.1h1.1v1.1h-1.1zM98.4 113.0h1.1v1.1h-1.1zM72.9 136.4h1.1v1.1h-1.1zM103.1 114.1h1.1v1.1h-1.1zM79.8 137.6h1.1v1.1h-1.1zM70.6 139.5h1.1v1.1h-1.1zM115.8 98.9h1.1v1.1h-1.1zM94.5 123.8h1.1v1.1h-1.1zM67.9 141.2h1.1v1.1h-1.1zM98.7 119.5h1.1v1.1h-1.1zM86.5 124.6h1.1v1.1h-1.1zM108.9 105.4h1.1v1.1h-1.1zM129.8 81.3h1.1v1.1h-1.1zM98.6 114.3h1.1v1.1h-1.1zM81.9 128.9h1.1v1.1h-1.1zM73.3 139.1h1.1v1.1h-1.1zM76.2 135.4h1.1v1.1h-1.1zM77.0 139.5h1.1v1.1h-1.1zM95.9 117.3h1.1v1.1h-1.1zM84.1 129.1h1.1v1.1h-1.1zM118.9 95.5h1.1v1.1h-1.1zM94.9 121.5h1.1v1.1h-1.1zM121.3 93.4h1.1v1.1h-1.1zM75.0 135.5h1.1v1.1h-1.1zM74.0 139.7h1.1v1.1h-1.1zM76.8 133.1h1.1v1.1h-1.1zM94.2 120.7h1.1v1.1h-1.1zM69.4 138.1h1.1v1.1h-1.1zM95.7 118.8h1.1v1.1h-1.1zM104.9 110.6h1.1v1.1h-1.1zM145.0 71.0h1.1v1.1h-1.1zM102.7 111.7h1.1v1.1h-1.1zM78.7 139.1h1.1v1.1h-1.1zM107.6 109.2h1.1v1.1h-1.1zM110.7 105.1h1.1v1.1h-1.1zM107.9 108.1h1.1v1.1h-1.1zM81.3 130.5h1.1v1.1h-1.1zM88.3 125.4h1.1v1.1h-1.1zM76.8 141.7h1.1v1.1h-1.1zM83.0 133.8h1.1v1.1h-1.1zM80.7 130.9h1.1v1.1h-1.1zM91.6 120.0h1.1v1.1h-1.1zM92.9 120.8h1.1v1.1h-1.1zM79.1 132.1h1.1v1.1h-1.1zM125.2 89.5h1.1v1.1h-1.1zM78.8 133.6h1.1v1.1h-1.1zM84.6 133.2h1.1v1.1h-1.1zM107.6 104.5h1.1v1.1h-1.1zM87.8 125.9h1.1v1.1h-1.1zM114.4 101.9h1.1v1.1h-1.1zM79.0 131.4h1.1v1.1h-1.1zM88.6 128.9h1.1v1.1h-1.1zM94.1 120.5h1.1v1.1h-1.1zM114.6 99.3h1.1v1.1h-1.1zM76.2 135.4h1.1v1.1h-1.1zM71.9 138.7h1.1v1.1h-1.1zM121.6 90.4h1.1v1.1h-1.1zM106.1 105.8h1.1v1.1h-1.1zM70.3 142.3h1.1v1.1h-1.1zM76.8 132.4h1.1v1.1h-1.1zM75.4 134.9h1.1v1.1h-1.1zM96.9 122.5h1.1v1.1h-1.1zM84.4 127.3h1.1v1.1h-1.1zM91.8 121.7h1.1v1.1h-1.1zM103.3 109.0h1.1v1.1h-1.1zM102.8 113.1h1.1v1.1h-1.1zM100.8 116.7h1.1v1.1h-1.1zM82.8 133.8h1.1v1.1h-1.1zM68.7 140.0h1.1v1.1h-1.1zM100.5 110.9h1.1v1.1h-1.1zM78.1 134.2h1.1v1.1h-1.1zM83.6 135.2h1.1v1.1h-1.1zM68.2 142.1h1.1v1.1h-1.1zM69.7 140.2h1.1v1.1h-1.1zM103.1 108.7h1.1v1.1h-1.1zM76.3 134.9h1.1v1.1h-1.1zM113.9 100.1h1.1v1.1h-1.1zM93.0 121.8h1.1v1.1h-1.1zM94.8 118.9h1.1v1.1h-1.1zM109.8 102.2h1.1v1.1h-1.1zM107.6 107.0h1.1v1.1h-1.1zM103.3 109.6h1.1v1.1h-1.1zM87.3 128.1h1.1v1.1h-1.1zM72.3 138.0h1.1v1.1h-1.1zM108.5 104.0h1.1v1.1h-1.1zM97.7 113.6h1.1v1.1h-1.1zM81.8 130.0h1.1v1.1h-1.1zM73.6 134.9h1.1v1.1h-1.1zM78.2 131.4h1.1v1.1h-1.1zM105.2 108.2h1.1v1.1h-1.1zM73.0 146.9h1.1v1.1h-1.1zM87.3 126.7h1.1v1.1h-1.1zM71.1 138.1h1.1v1.1h-1.1zM97.3 116.0h1.1v1.1h-1.1zM99.0 119.5h1.1v1.1h-1.1zM94.1 123.3h1.1v1.1h-1.1zM68.8 138.9h1.1v1.1h-1.1zM91.8 122.4h1.1v1.1h-1.1zM78.0 135.0h1.1v1.1h-1.1zM84.4 131.1h1.1v1.1h-1.1zM99.2 119.2h1.1v1.1h-1.1zM82.8 131.3h1.1v1.1h-1.1zM96.0 115.2h1.1v1.1h-1.1zM77.7 134.6h1.1v1.1h-1.1zM98.8 114.0h1.1v1.1h-1.1zM125.4 93.5h1.1v1.1h-1.1zM74.3 135.8h1.1v1.1h-1.1zM99.2 114.4h1.1v1.1h-1.1zM105.4 110.3h1.1v1.1h-1.1zM118.2 99.6h1.1v1.1h-1.1zM77.4 134.4h1.1v1.1h-1.1zM75.1 139.4h1.1v1.1h-1.1zM90.3 125.4h1.1v1.1h-1.1zM97.5 116.1h1.1v1.1h-1.1zM83.5 130.2h1.1v1.1h-1.1zM97.4 119.1h1.1v1.1h-1.1zM82.7 132.4h1.1v1.1h-1.1zM75.0 144.9h1.1v1.1h-1.1zM79.0 131.4h1.1v1.1h-1.1zM77.1 138.0h1.1v1.1h-1.1zM102.1 112.5h1.1v1.1h-1.1zM80.9 131.8h1.1v1.1h-1.1zM85.5 132.7h1.1v1.1h-1.1zM115.3 97.7h1.1v1.1h-1.1zM71.2 138.9h1.1v1.1h-1.1zM84.9 130.4h1.1v1.1h-1.1zM77.2 134.8h1.1v1.1h-1.1zM86.5 126.1h1.1v1.1h-1.1zM83.5 128.0h1.1v1.1h-1.1zM90.0 128.0h1.1v1.1h-1.1zM81.3 130.9h1.1v1.1h-1.1zM73.4 137.4h1.1v1.1h-1.1zM72.4 144.1h1.1v1.1h-1.1zM94.2 118.7h1.1v1.1h-1.1zM97.1 116.5h1.1v1.1h-1.1zM65.6 140.4h1.1v1.1h-1.1zM83.9 132.4h1.1v1.1h-1.1zM95.4 118.2h1.1v1.1h-1.1zM73.0 139.2h1.1v1.1h-1.1zM90.6 125.4h1.1v1.1h-1.1zM83.0 127.9h1.1v1.1h-1.1zM99.1 113.3h1.1v1.1h-1.1zM92.9 118.4h1.1v1.1h-1.1zM105.1 106.4h1.1v1.1h-1.1zM118.3 103.1h1.1v1.1h-1.1zM73.0 145.7h1.1v1.1h-1.1zM92.7 118.7h1.1v1.1h-1.1zM88.9 127.3h1.1v1.1h-1.1zM86.6 126.5h1.1v1.1h-1.1zM74.6 138.9h1.1v1.1h-1.1zM78.6 136.1h1.1v1.1h-1.1zM80.3 132.5h1.1v1.1h-1.1zM104.9 111.3h1.1v1.1h-1.1zM101.2 112.9h1.1v1.1h-1.1zM85.9 129.7h1.1v1.1h-1.1zM92.8 119.9h1.1v1.1h-1.1zM94.6 117.4h1.1v1.1h-1.1zM91.1 121.8h1.1v1.1h-1.1zM79.2 133.6h1.1v1.1h-1.1zM92.0 124.0h1.1v1.1h-1.1zM93.6 125.3h1.1v1.1h-1.1zM96.2 117.4h1.1v1.1h-1.1zM96.2 118.1h1.1v1.1h-1.1zM101.1 114.0h1.1v1.1h-1.1zM68.0 143.0h1.1v1.1h-1.1zM81.1 138.4h1.1v1.1h-1.1zM130.2 85.7h1.1v1.1h-1.1zM94.7 120.9h1.1v1.1h-1.1zM93.4 118.3h1.1v1.1h-1.1zM97.3 118.1h1.1v1.1h-1.1zM74.5 144.5h1.1v1.1h-1.1zM79.4 138.8h1.1v1.1h-1.1zM102.5 111.5h1.1v1.1h-1.1zM97.2 117.7h1.1v1.1h-1.1zM102.9 109.3h1.1v1.1h-1.1zM80.6 132.1h1.1v1.1h-1.1zM100.7 112.1h1.1v1.1h-1.1zM100.8 113.4h1.1v1.1h-1.1zM79.9 136.2h1.1v1.1h-1.1zM82.7 127.9h1.1v1.1h-1.1zM77.2 132.3h1.1v1.1h-1.1zM72.9 142.3h1.1v1.1h-1.1zM77.4 138.3h1.1v1.1h-1.1zM77.8 139.5h1.1v1.1h-1.1zM99.1 114.7h1.1v1.1h-1.1zM75.9 135.4h1.1v1.1h-1.1zM113.4 100.1h1.1v1.1h-1.1zM95.6 121.3h1.1v1.1h-1.1zM112.6 103.2h1.1v1.1h-1.1zM86.2 127.1h1.1v1.1h-1.1zM94.3 119.7h1.1v1.1h-1.1zM89.3 123.0h1.1v1.1h-1.1zM110.8 105.7h1.1v1.1h-1.1zM69.2 141.4h1.1v1.1h-1.1zM70.3 142.2h1.1v1.1h-1.1zM90.1 121.9h1.1v1.1h-1.1zM84.7 125.7h1.1v1.1h-1.1zM106.2 108.3h1.1v1.1h-1.1zM114.8 99.0h1.1v1.1h-1.1zM97.9 117.7h1.1v1.1h-1.1zM93.0 122.0h1.1v1.1h-1.1zM99.6 113.4h1.1v1.1h-1.1zM116.3 96.2h1.1v1.1h-1.1zM139.9 77.5h1.1v1.1h-1.1zM104.1 109.5h1.1v1.1h-1.1zM91.6 119.9h1.1v1.1h-1.1zM77.4 136.2h1.1v1.1h-1.1zM97.3 119.7h1.1v1.1h-1.1zM68.5 144.2h1.1v1.1h-1.1zM75.5 146.4h1.1v1.1h-1.1zM69.0 140.6h1.1v1.1h-1.1zM100.0 116.6h1.1v1.1h-1.1zM85.1 130.6h1.1v1.1h-1.1zM90.1 121.3h1.1v1.1h-1.1zM77.7 135.3h1.1v1.1h-1.1zM122.8 88.4h1.1v1.1h-1.1zM107.6 109.6h1.1v1.1h-1.1zM100.6 111.4h1.1v1.1h-1.1zM78.7 132.2h1.1v1.1h-1.1zM67.7 142.2h1.1v1.1h-1.1zM128.5 85.5h1.1v1.1h-1.1zM82.6 134.4h1.1v1.1h-1.1zM74.1 135.1h1.1v1.1h-1.1zM101.5 116.8h1.1v1.1h-1.1zM83.1 127.8h1.1v1.1h-1.1zM78.0 133.1h1.1v1.1h-1.1zM85.4 127.8h1.1v1.1h-1.1zM106.5 109.7h1.1v1.1h-1.1zM85.5 125.6h1.1v1.1h-1.1zM89.1 126.6h1.1v1.1h-1.1zM104.2 110.8h1.1v1.1h-1.1zM76.1 134.9h1.1v1.1h-1.1zM68.1 141.2h1.1v1.1h-1.1zM110.0 104.9h1.1v1.1h-1.1zM79.5 134.1h1.1v1.1h-1.1zM102.0 110.5h1.1v1.1h-1.1zM85.6 127.1h1.1v1.1h-1.1zM70.1 139.9h1.1v1.1h-1.1zM72.4 144.6h1.1v1.1h-1.1zM118.5 94.1h1.1v1.1h-1.1zM79.5 134.0h1.1v1.1h-1.1zM98.5 114.7h1.1v1.1h-1.1zM76.8 134.6h1.1v1.1h-1.1zM77.8 132.3h1.1v1.1h-1.1zM95.9 117.4h1.1v1.1h-1.1zM86.4 124.5h1.1v1.1h-1.1zM83.6 126.7h1.1v1.1h-1.1zM101.0 115.4h1.1v1.1h-1.1zM82.9 129.7h1.1v1.1h-1.1zM103.3 110.9h1.1v1.1h-1.1zM138.1 81.3h1.1v1.1h-1.1zM82.2 131.5h1.1v1.1h-1.1zM94.2 122.0h1.1v1.1h-1.1zM70.3 138.7h1.1v1.1h-1.1zM72.5 139.6h1.1v1.1h-1.1zM73.0 141.9h1.1v1.1h-1.1zM120.5 92.7h1.1v1.1h-1.1zM71.5 139.4h1.1v1.1h-1.1zM85.0 132.7h1.1v1.1h-1.1zM79.8 130.4h1.1v1.1h-1.1zM70.9 146.0h1.1v1.1h-1.1zM73.8 135.3h1.1v1.1h-1.1zM86.3 130.0h1.1v1.1h-1.1zM77.1 132.5h1.1v1.1h-1.1zM99.1 113.0h1.1v1.1h-1.1zM83.5 128.6h1.1v1.1h-1.1zM74.3 135.9h1.1v1.1h-1.1zM85.7 129.3h1.1v1.1h-1.1zM120.4 98.1h1.1v1.1h-1.1zM70.1 137.5h1.1v1.1h-1.1zM87.6 123.7h1.1v1.1h-1.1zM110.6 103.5h1.1v1.1h-1.1zM112.3 103.4h1.1v1.1h-1.1zM92.1 125.1h1.1v1.1h-1.1zM101.3 118.2h1.1v1.1h-1.1zM72.6 139.3h1.1v1.1h-1.1zM106.8 107.2h1.1v1.1h-1.1z" fill="#35259a" fill-opacity="0.55"/>
<path d="M128.6 83.4h1.1v1.1h-1.1zM98.9 113.0h1.1v1.1h-1.1zM101.8 111.8h1.1v1.1h-1.1zM77.0 143.5h1.1v1.1h-1.1zM126.1 88.3h1.1v1.1h-1.1zM84.7 128.4h1.1v1.1h-1.1zM102.4 111.3h1.1v1.1h-1.1zM101.9 112.8h1.1v1.1h-1.1zM122.0 93.7h1.1v1.1h-1.1zM85.2 127.6h1.1v1.1h-1.1zM105.7 106.6h1.1v1.1h-1.1zM86.4 127.3h1.1v1.1h-1.1zM81.6 129.5h1.1v1.1h-1.1zM105.7 106.6h1.1v1.1h-1.1zM105.3 115.9h1.1v1.1h-1.1zM113.8 101.7h1.1v1.1h-1.1zM96.7 115.1h1.1v1.1h-1.1zM104.8 115.0h1.1v1.1h-1.1zM90.8 126.9h1.1v1.1h-1.1zM100.2 112.3h1.1v1.1h-1.1zM98.1 117.2h1.1v1.1h-1.1zM74.1 137.7h1.1v1.1h-1.1zM104.0 114.5h1.1v1.1h-1.1zM103.8 109.8h1.1v1.1h-1.1zM87.3 125.3h1.1v1.1h-1.1zM94.8 119.5h1.1v1.1h-1.1zM94.8 121.1h1.1v1.1h-1.1zM111.6 109.3h1.1v1.1h-1.1zM89.3 132.4h1.1v1.1h-1.1zM103.1 117.4h1.1v1.1h-1.1zM68.8 139.6h1.1v1.1h-1.1zM94.4 124.3h1.1v1.1h-1.1zM72.6 139.9h1.1v1.1h-1.1zM77.6 136.5h1.1v1.1h-1.1zM74.0 135.8h1.1v1.1h-1.1zM85.1 128.1h1.1v1.1h-1.1zM93.9 117.4h1.1v1.1h-1.1zM73.1 135.5h1.1v1.1h-1.1zM96.0 116.6h1.1v1.1h-1.1zM73.3 137.7h1.1v1.1h-1.1zM94.3 118.7h1.1v1.1h-1.1zM113.7 105.0h1.1v1.1h-1.1zM124.1 87.8h1.1v1.1h-1.1zM78.1 135.0h1.1v1.1h-1.1zM91.1 122.9h1.1v1.1h-1.1zM101.4 115.8h1.1v1.1h-1.1zM112.8 101.7h1.1v1.1h-1.1zM105.7 111.3h1.1v1.1h-1.1zM94.7 119.6h1.1v1.1h-1.1zM88.2 126.7h1.1v1.1h-1.1zM78.8 132.9h1.1v1.1h-1.1zM98.2 118.0h1.1v1.1h-1.1zM85.6 125.8h1.1v1.1h-1.1zM82.8 131.5h1.1v1.1h-1.1zM82.1 128.5h1.1v1.1h-1.1zM83.9 130.7h1.1v1.1h-1.1zM88.9 123.0h1.1v1.1h-1.1zM102.2 109.8h1.1v1.1h-1.1zM90.8 130.2h1.1v1.1h-1.1zM106.4 110.9h1.1v1.1h-1.1zM82.2 128.9h1.1v1.1h-1.1zM97.7 115.4h1.1v1.1h-1.1zM81.3 131.6h1.1v1.1h-1.1zM91.5 120.7h1.1v1.1h-1.1zM109.2 107.4h1.1v1.1h-1.1zM72.5 140.6h1.1v1.1h-1.1zM83.9 126.5h1.1v1.1h-1.1zM78.9 132.7h1.1v1.1h-1.1zM78.7 138.2h1.1v1.1h-1.1zM112.6 102.0h1.1v1.1h-1.1zM79.6 130.7h1.1v1.1h-1.1zM104.9 112.0h1.1v1.1h-1.1zM88.8 126.4h1.1v1.1h-1.1zM78.6 137.3h1.1v1.1h-1.1zM84.7 128.3h1.1v1.1h-1.1zM97.1 119.6h1.1v1.1h-1.1zM110.6 104.0h1.1v1.1h-1.1zM77.8 133.0h1.1v1.1h-1.1zM102.1 114.3h1.1v1.1h-1.1zM96.1 115.8h1.1v1.1h-1.1zM129.6 84.0h1.1v1.1h-1.1zM112.8 100.5h1.1v1.1h-1.1zM77.5 137.3h1.1v1.1h-1.1zM108.2 104.7h1.1v1.1h-1.1zM77.3 136.3h1.1v1.1h-1.1zM100.4 111.8h1.1v1.1h-1.1zM68.0 142.0h1.1v1.1h-1.1zM70.9 144.9h1.1v1.1h-1.1zM74.4 137.4h1.1v1.1h-1.1zM72.3 144.5h1.1v1.1h-1.1zM93.3 126.6h1.1v1.1h-1.1zM92.9 119.1h1.1v1.1h-1.1zM95.5 116.5h1.1v1.1h-1.1zM77.5 136.3h1.1v1.1h-1.1zM100.4 112.2h1.1v1.1h-1.1zM74.5 137.5h1.1v1.1h-1.1zM97.8 118.7h1.1v1.1h-1.1zM87.1 126.1h1.1v1.1h-1.1zM75.4 138.0h1.1v1.1h-1.1zM96.7 116.5h1.1v1.1h-1.1zM73.3 139.7h1.1v1.1h-1.1zM88.3 129.4h1.1v1.1h-1.1zM81.5 139.5h1.1v1.1h-1.1zM93.5 122.4h1.1v1.1h-1.1zM82.4 129.9h1.1v1.1h-1.1zM120.5 94.3h1.1v1.1h-1.1zM76.3 136.9h1.1v1.1h-1.1zM68.0 141.6h1.1v1.1h-1.1zM69.2 141.2h1.1v1.1h-1.1zM79.4 132.3h1.1v1.1h-1.1zM114.2 99.9h1.1v1.1h-1.1zM68.4 142.1h1.1v1.1h-1.1zM78.7 134.3h1.1v1.1h-1.1zM85.9 126.9h1.1v1.1h-1.1zM75.9 135.0h1.1v1.1h-1.1zM94.9 118.5h1.1v1.1h-1.1zM84.7 129.4h1.1v1.1h-1.1zM108.3 105.3h1.1v1.1h-1.1zM77.6 132.7h1.1v1.1h-1.1zM92.8 118.5h1.1v1.1h-1.1zM93.1 118.6h1.1v1.1h-1.1zM81.1 129.0h1.1v1.1h-1.1zM90.2 120.9h1.1v1.1h-1.1zM88.9 125.6h1.1v1.1h-1.1zM102.7 109.3h1.1v1.1h-1.1zM120.5 96.1h1.1v1.1h-1.1zM101.7 112.3h1.1v1.1h-1.1zM92.1 121.5h1.1v1.1h-1.1zM95.7 117.4h1.1v1.1h-1.1zM120.4 93.7h1.1v1.1h-1.1zM92.0 124.2h1.1v1.1h-1.1zM101.9 112.6h1.1v1.1h-1.1zM100.7 114.9h1.1v1.1h-1.1zM73.5 140.9h1.1v1.1h-1.1zM95.3 119.4h1.1v1.1h-1.1zM83.8 130.2h1.1v1.1h-1.1zM101.7 111.7h1.1v1.1h-1.1zM102.1 111.0h1.1v1.1h-1.1zM103.5 109.3h1.1v1.1h-1.1zM103.5 112.8h1.1v1.1h-1.1zM82.1 129.0h1.1v1.1h-1.1zM102.1 111.2h1.1v1.1h-1.1zM67.9 146.6h1.1v1.1h-1.1zM97.4 116.7h1.1v1.1h-1.1zM117.1 96.8h1.1v1.1h-1.1zM99.5 115.8h1.1v1.1h-1.1zM106.4 108.4h1.1v1.1h-1.1zM104.1 118.0h1.1v1.1h-1.1zM65.1 145.6h1.1v1.1h-1.1zM95.6 116.3h1.1v1.1h-1.1zM93.1 120.9h1.1v1.1h-1.1zM109.6 105.3h1.1v1.1h-1.1zM100.1 112.6h1.1v1.1h-1.1zM100.2 112.7h1.1v1.1h-1.1zM88.7 133.5h1.1v1.1h-1.1zM82.0 128.3h1.1v1.1h-1.1zM95.1 129.8h1.1v1.1h-1.1zM96.8 115.6h1.1v1.1h-1.1zM121.7 91.7h1.1v1.1h-1.1zM143.5 71.1h1.1v1.1h-1.1zM72.6 138.0h1.1v1.1h-1.1zM98.9 113.5h1.1v1.1h-1.1zM90.1 123.6h1.1v1.1h-1.1zM81.4 135.7h1.1v1.1h-1.1zM81.2 134.1h1.1v1.1h-1.1zM92.4 122.6h1.1v1.1h-1.1zM66.7 144.8h1.1v1.1h-1.1zM93.8 120.9h1.1v1.1h-1.1zM73.7 136.2h1.1v1.1h-1.1zM80.6 134.0h1.1v1.1h-1.1zM73.1 139.1h1.1v1.1h-1.1zM101.8 112.3h1.1v1.1h-1.1zM92.7 119.2h1.1v1.1h-1.1zM95.9 116.3h1.1v1.1h-1.1zM81.9 134.9h1.1v1.1h-1.1zM88.7 122.6h1.1v1.1h-1.1zM73.1 140.6h1.1v1.1h-1.1zM116.5 95.6h1.1v1.1h-1.1zM102.0 111.7h1.1v1.1h-1.1zM84.5 129.6h1.1v1.1h-1.1zM93.5 119.3h1.1v1.1h-1.1zM91.7 123.6h1.1v1.1h-1.1zM106.3 105.4h1.1v1.1h-1.1zM119.4 97.4h1.1v1.1h-1.1zM67.6 141.6h1.1v1.1h-1.1zM85.2 127.8h1.1v1.1h-1.1zM94.7 124.2h1.1v1.1h-1.1zM113.2 103.0h1.1v1.1h-1.1zM101.0 115.5h1.1v1.1h-1.1zM110.5 103.2h1.1v1.1h-1.1zM69.0 146.0h1.1v1.1h-1.1zM90.7 120.5h1.1v1.1h-1.1zM105.7 109.4h1.1v1.1h-1.1zM110.7 101.9h1.1v1.1h-1.1zM83.8 126.9h1.1v1.1h-1.1zM92.8 121.1h1.1v1.1h-1.1zM85.0 127.6h1.1v1.1h-1.1zM98.8 114.8h1.1v1.1h-1.1zM90.2 131.7h1.1v1.1h-1.1zM101.9 114.8h1.1v1.1h-1.1zM79.5 136.0h1.1v1.1h-1.1zM75.8 143.8h1.1v1.1h-1.1zM71.5 137.4h1.1v1.1h-1.1zM87.1 129.9h1.1v1.1h-1.1zM72.0 143.1h1.1v1.1h-1.1zM70.0 142.8h1.1v1.1h-1.1zM84.8 132.6h1.1v1.1h-1.1zM118.4 98.9h1.1v1.1h-1.1zM74.9 134.3h1.1v1.1h-1.1zM88.8 122.6h1.1v1.1h-1.1zM90.2 121.6h1.1v1.1h-1.1zM83.4 129.5h1.1v1.1h-1.1zM93.0 122.3h1.1v1.1h-1.1zM109.1 104.9h1.1v1.1h-1.1zM91.1 125.9h1.1v1.1h-1.1zM73.1 137.4h1.1v1.1h-1.1zM93.1 119.3h1.1v1.1h-1.1zM94.4 119.0h1.1v1.1h-1.1zM85.2 133.2h1.1v1.1h-1.1zM103.0 114.5h1.1v1.1h-1.1zM119.3 93.6h1.1v1.1h-1.1zM81.6 134.3h1.1v1.1h-1.1zM69.6 145.2h1.1v1.1h-1.1zM83.8 131.7h1.1v1.1h-1.1zM105.8 106.6h1.1v1.1h-1.1zM83.1 132.6h1.1v1.1h-1.1zM85.5 125.4h1.1v1.1h-1.1zM113.1 103.0h1.1v1.1h-1.1zM95.3 119.2h1.1v1.1h-1.1zM106.8 105.5h1.1v1.1h-1.1zM95.4 117.1h1.1v1.1h-1.1zM127.4 86.0h1.1v1.1h-1.1zM70.0 137.9h1.1v1.1h-1.1zM86.9 127.3h1.1v1.1h-1.1zM65.5 147.6h1.1v1.1h-1.1zM74.1 136.2h1.1v1.1h-1.1zM85.4 131.9h1.1v1.1h-1.1zM93.2 120.5h1.1v1.1h-1.1zM90.5 128.5h1.1v1.1h-1.1zM96.9 117.1h1.1v1.1h-1.1zM96.7 121.9h1.1v1.1h-1.1zM94.8 116.7h1.1v1.1h-1.1zM105.0 108.4h1.1v1.1h-1.1zM97.3 116.7h1.1v1.1h-1.1zM90.3 122.8h1.1v1.1h-1.1zM97.9 117.2h1.1v1.1h-1.1zM101.9 111.2h1.1v1.1h-1.1zM74.3 135.3h1.1v1.1h-1.1zM87.6 134.7h1.1v1.1h-1.1zM87.7 126.4h1.1v1.1h-1.1zM109.5 104.2h1.1v1.1h-1.1zM80.4 134.0h1.1v1.1h-1.1zM106.9 106.4h1.1v1.1h-1.1zM103.8 108.1h1.1v1.1h-1.1zM72.9 135.5h1.1v1.1h-1.1zM98.1 116.0h1.1v1.1h-1.1zM96.9 115.2h1.1v1.1h-1.1zM116.3 97.2h1.1v1.1h-1.1zM83.3 129.2h1.1v1.1h-1.1zM73.3 139.8h1.1v1.1h-1.1zM73.0 140.3h1.1v1.1h-1.1zM79.5 132.2h1.1v1.1h-1.1zM73.4 135.1h1.1v1.1h-1.1zM118.0 97.2h1.1v1.1h-1.1zM73.5 139.9h1.1v1.1h-1.1zM85.9 129.0h1.1v1.1h-1.1zM115.6 101.3h1.1v1.1h-1.1zM85.5 128.5h1.1v1.1h-1.1zM80.6 131.4h1.1v1.1h-1.1zM80.1 132.7h1.1v1.1h-1.1zM73.5 135.0h1.1v1.1h-1.1zM100.7 111.3h1.1v1.1h-1.1zM80.9 135.7h1.1v1.1h-1.1zM109.2 103.2h1.1v1.1h-1.1zM106.7 107.0h1.1v1.1h-1.1zM100.9 114.5h1.1v1.1h-1.1zM102.5 115.7h1.1v1.1h-1.1zM105.6 106.8h1.1v1.1h-1.1zM75.6 133.9h1.1v1.1h-1.1zM85.1 125.9h1.1v1.1h-1.1zM75.3 133.9h1.1v1.1h-1.1zM101.2 110.9h1.1v1.1h-1.1zM85.1 128.6h1.1v1.1h-1.1zM100.5 113.6h1.1v1.1h-1.1zM70.5 139.8h1.1v1.1h-1.1zM85.9 131.8h1.1v1.1h-1.1zM87.1 125.4h1.1v1.1h-1.1zM119.4 98.7h1.1v1.1h-1.1zM93.9 118.9h1.1v1.1h-1.1zM83.3 130.1h1.1v1.1h-1.1zM83.1 131.6h1.1v1.1h-1.1zM71.0 141.4h1.1v1.1h-1.1zM93.4 123.5h1.1v1.1h-1.1zM118.1 96.1h1.1v1.1h-1.1zM117.5 97.6h1.1v1.1h-1.1zM75.5 134.2h1.1v1.1h-1.1zM109.1 103.7h1.1v1.1h-1.1zM93.4 118.5h1.1v1.1h-1.1zM90.9 125.7h1.1v1.1h-1.1zM90.5 129.6h1.1v1.1h-1.1zM102.0 112.5h1.1v1.1h-1.1zM91.9 121.0h1.1v1.1h-1.1zM102.7 115.0h1.1v1.1h-1.1zM91.7 125.0h1.1v1.1h-1.1zM106.1 107.3h1.1v1.1h-1.1zM114.1 99.8h1.1v1.1h-1.1zM88.0 126.8h1.1v1.1h-1.1zM99.3 116.0h1.1v1.1h-1.1zM93.3 121.4h1.1v1.1h-1.1zM84.4 134.3h1.1v1.1h-1.1zM94.7 122.0h1.1v1.1h-1.1zM80.1 135.6h1.1v1.1h-1.1zM87.8 134.3h1.1v1.1h-1.1zM103.6 108.2h1.1v1.1h-1.1zM95.4 123.0h1.1v1.1h-1.1zM85.3 128.0h1.1v1.1h-1.1zM98.3 119.7h1.1v1.1h-1.1zM77.5 132.1h1.1v1.1h-1.1zM95.7 115.4h1.1v1.1h-1.1zM89.3 125.0h1.1v1.1h-1.1zM77.3 135.0h1.1v1.1h-1.1zM81.5 129.3h1.1v1.1h-1.1zM109.0 107.7h1.1v1.1h-1.1zM71.5 147.9h1.1v1.1h-1.1zM75.9 133.8h1.1v1.1h-1.1zM95.3 120.0h1.1v1.1h-1.1zM94.6 125.2h1.1v1.1h-1.1zM77.7 132.6h1.1v1.1h-1.1zM74.1 134.3h1.1v1.1h-1.1zM71.6 136.1h1.1v1.1h-1.1zM91.5 123.5h1.1v1.1h-1.1zM95.7 120.0h1.1v1.1h-1.1zM78.2 135.6h1.1v1.1h-1.1zM142.2 69.8h1.1v1.1h-1.1zM88.1 127.7h1.1v1.1h-1.1zM99.2 121.3h1.1v1.1h-1.1zM82.4 129.4h1.1v1.1h-1.1zM90.0 123.3h1.1v1.1h-1.1zM101.3 111.9h1.1v1.1h-1.1zM96.6 116.5h1.1v1.1h-1.1zM77.3 132.6h1.1v1.1h-1.1zM91.0 124.1h1.1v1.1h-1.1zM94.8 122.6h1.1v1.1h-1.1zM87.3 126.2h1.1v1.1h-1.1zM79.3 133.4h1.1v1.1h-1.1zM89.4 125.5h1.1v1.1h-1.1zM106.2 109.4h1.1v1.1h-1.1zM116.1 102.4h1.1v1.1h-1.1zM102.5 109.9h1.1v1.1h-1.1zM78.3 133.8h1.1v1.1h-1.1zM108.0 107.4h1.1v1.1h-1.1zM87.0 125.8h1.1v1.1h-1.1zM94.7 118.1h1.1v1.1h-1.1zM98.3 116.5h1.1v1.1h-1.1zM81.5 130.2h1.1v1.1h-1.1zM77.7 133.0h1.1v1.1h-1.1zM92.3 126.6h1.1v1.1h-1.1zM115.6 100.1h1.1v1.1h-1.1zM81.1 133.5h1.1v1.1h-1.1zM87.7 128.0h1.1v1.1h-1.1zM124.4 87.0h1.1v1.1h-1.1zM112.6 103.6h1.1v1.1h-1.1zM75.4 136.5h1.1v1.1h-1.1zM73.4 144.7h1.1v1.1h-1.1zM77.7 133.9h1.1v1.1h-1.1zM90.0 121.5h1.1v1.1h-1.1zM78.9 136.4h1.1v1.1h-1.1zM83.4 128.1h1.1v1.1h-1.1zM72.2 137.9h1.1v1.1h-1.1zM83.3 133.6h1.1v1.1h-1.1zM84.4 127.2h1.1v1.1h-1.1zM105.5 107.5h1.1v1.1h-1.1zM80.6 131.2h1.1v1.1h-1.1zM103.3 111.4h1.1v1.1h-1.1zM97.6 116.2h1.1v1.1h-1.1zM88.3 123.5h1.1v1.1h-1.1zM81.6 128.7h1.1v1.1h-1.1zM74.9 146.0h1.1v1.1h-1.1zM71.1 142.2h1.1v1.1h-1.1zM88.9 122.0h1.1v1.1h-1.1zM112.5 100.7h1.1v1.1h-1.1zM89.7 122.7h1.1v1.1h-1.1zM89.7 126.5h1.1v1.1h-1.1zM83.4 130.1h1.1v1.1h-1.1zM94.6 116.8h1.1v1.1h-1.1zM72.9 135.4h1.1v1.1h-1.1zM80.2 130.4h1.1v1.1h-1.1zM116.6 98.7h1.1v1.1h-1.1zM109.4 103.1h1.1v1.1h-1.1zM83.9 130.2h1.1v1.1h-1.1zM107.9 107.2h1.1v1.1h-1.1zM77.2 134.4h1.1v1.1h-1.1zM97.6 114.0h1.1v1.1h-1.1zM81.7 130.7h1.1v1.1h-1.1zM72.4 139.3h1.1v1.1h-1.1zM73.9 140.2h1.1v1.1h-1.1zM73.3 141.8h1.1v1.1h-1.1zM122.1 92.2h1.1v1.1h-1.1zM92.8 123.2h1.1v1.1h-1.1zM106.5 108.7h1.1v1.1h-1.1zM95.7 115.8h1.1v1.1h-1.1zM95.4 120.5h1.1v1.1h-1.1zM69.6 138.5h1.1v1.1h-1.1zM111.0 103.7h1.1v1.1h-1.1zM101.4 122.3h1.1v1.1h-1.1zM79.0 132.1h1.1v1.1h-1.1zM102.0 115.3h1.1v1.1h-1.1zM91.3 127.1h1.1v1.1h-1.1zM87.0 133.0h1.1v1.1h-1.1zM82.0 132.2h1.1v1.1h-1.1zM110.8 103.7h1.1v1.1h-1.1zM93.8 119.2h1.1v1.1h-1.1zM69.8 140.7h1.1v1.1h-1.1zM72.8 137.3h1.1v1.1h-1.1zM93.4 118.2h1.1v1.1h-1.1zM104.6 107.9h1.1v1.1h-1.1zM109.9 104.2h1.1v1.1h-1.1zM102.7 109.5h1.1v1.1h-1.1zM108.8 111.3h1.1v1.1h-1.1zM67.1 144.3h1.1v1.1h-1.1zM84.1 134.0h1.1v1.1h-1.1zM103.2 109.7h1.1v1.1h-1.1zM95.5 120.0h1.1v1.1h-1.1zM88.7 132.9h1.1v1.1h-1.1zM68.7 140.5h1.1v1.1h-1.1zM91.4 123.0h1.1v1.1h-1.1zM91.0 122.4h1.1v1.1h-1.1zM77.3 135.7h1.1v1.1h-1.1zM73.3 137.2h1.1v1.1h-1.1zM85.9 126.6h1.1v1.1h-1.1zM94.0 118.3h1.1v1.1h-1.1zM92.0 121.7h1.1v1.1h-1.1zM72.5 136.1h1.1v1.1h-1.1zM81.7 129.1h1.1v1.1h-1.1zM72.8 138.3h1.1v1.1h-1.1zM84.3 139.1h1.1v1.1h-1.1zM91.3 125.4h1.1v1.1h-1.1zM107.0 112.7h1.1v1.1h-1.1zM119.8 96.4h1.1v1.1h-1.1zM130.6 83.0h1.1v1.1h-1.1zM97.7 114.8h1.1v1.1h-1.1zM94.0 119.9h1.1v1.1h-1.1zM79.1 134.8h1.1v1.1h-1.1zM66.0 141.0h1.1v1.1h-1.1zM85.2 125.5h1.1v1.1h-1.1zM86.9 125.0h1.1v1.1h-1.1zM88.6 122.5h1.1v1.1h-1.1zM93.6 119.7h1.1v1.1h-1.1zM93.2 118.7h1.1v1.1h-1.1zM81.2 129.2h1.1v1.1h-1.1zM84.9 136.8h1.1v1.1h-1.1zM91.5 123.0h1.1v1.1h-1.1zM98.2 114.2h1.1v1.1h-1.1zM78.8 139.4h1.1v1.1h-1.1zM120.9 91.2h1.1v1.1h-1.1zM97.5 114.1h1.1v1.1h-1.1zM75.5 138.2h1.1v1.1h-1.1zM88.3 126.8h1.1v1.1h-1.1zM86.0 128.3h1.1v1.1h-1.1zM108.9 109.3h1.1v1.1h-1.1zM117.4 94.9h1.1v1.1h-1.1zM104.5 109.8h1.1v1.1h-1.1zM94.1 119.1h1.1v1.1h-1.1zM80.1 131.8h1.1v1.1h-1.1zM109.0 104.1h1.1v1.1h-1.1zM100.2 118.8h1.1v1.1h-1.1zM72.7 138.1h1.1v1.1h-1.1zM84.1 136.1h1.1v1.1h-1.1zM93.9 120.1h1.1v1.1h-1.1zM117.3 96.0h1.1v1.1h-1.1zM90.6 120.4h1.1v1.1h-1.1zM98.3 118.7h1.1v1.1h-1.1zM80.2 132.7h1.1v1.1h-1.1zM73.9 138.3h1.1v1.1h-1.1zM91.1 121.3h1.1v1.1h-1.1zM89.0 128.5h1.1v1.1h-1.1zM103.8 109.7h1.1v1.1h-1.1zM92.6 121.1h1.1v1.1h-1.1zM88.0 129.1h1.1v1.1h-1.1zM79.8 135.7h1.1v1.1h-1.1zM93.5 118.7h1.1v1.1h-1.1zM71.3 138.5h1.1v1.1h-1.1zM83.6 126.8h1.1v1.1h-1.1zM112.9 99.8h1.1v1.1h-1.1zM126.7 86.1h1.1v1.1h-1.1zM75.9 136.7h1.1v1.1h-1.1zM110.7 107.0h1.1v1.1h-1.1zM109.1 105.7h1.1v1.1h-1.1zM99.5 116.3h1.1v1.1h-1.1zM101.8 111.8h1.1v1.1h-1.1zM86.2 137.2h1.1v1.1h-1.1zM101.2 116.7h1.1v1.1h-1.1zM86.3 127.0h1.1v1.1h-1.1zM98.1 115.9h1.1v1.1h-1.1zM93.4 123.6h1.1v1.1h-1.1zM73.7 142.1h1.1v1.1h-1.1zM103.3 109.9h1.1v1.1h-1.1zM112.9 110.2h1.1v1.1h-1.1zM95.1 116.9h1.1v1.1h-1.1zM71.9 140.3h1.1v1.1h-1.1zM90.2 123.6h1.1v1.1h-1.1zM96.3 125.3h1.1v1.1h-1.1zM77.9 132.2h1.1v1.1h-1.1zM76.8 135.6h1.1v1.1h-1.1zM75.2 136.0h1.1v1.1h-1.1zM85.6 128.3h1.1v1.1h-1.1zM78.0 134.2h1.1v1.1h-1.1zM95.5 123.9h1.1v1.1h-1.1zM86.8 124.1h1.1v1.1h-1.1zM83.4 135.2h1.1v1.1h-1.1zM102.4 109.1h1.1v1.1h-1.1zM116.2 100.8h1.1v1.1h-1.1zM92.3 121.0h1.1v1.1h-1.1zM99.6 122.6h1.1v1.1h-1.1zM83.6 126.7h1.1v1.1h-1.1zM71.6 142.2h1.1v1.1h-1.1zM87.6 134.9h1.1v1.1h-1.1zM71.4 138.0h1.1v1.1h-1.1zM78.9 131.4h1.1v1.1h-1.1zM101.5 115.7h1.1v1.1h-1.1zM79.7 131.5h1.1v1.1h-1.1zM92.6 123.3h1.1v1.1h-1.1zM81.3 131.7h1.1v1.1h-1.1zM100.7 112.4h1.1v1.1h-1.1zM73.2 142.0h1.1v1.1h-1.1zM89.7 123.2h1.1v1.1h-1.1zM123.7 87.4h1.1v1.1h-1.1zM84.7 127.5h1.1v1.1h-1.1zM106.9 105.8h1.1v1.1h-1.1zM84.6 128.0h1.1v1.1h-1.1zM78.5 137.9h1.1v1.1h-1.1zM118.3 95.1h1.1v1.1h-1.1zM69.7 139.9h1.1v1.1h-1.1zM113.6 99.4h1.1v1.1h-1.1zM75.5 136.8h1.1v1.1h-1.1zM107.7 105.3h1.1v1.1h-1.1zM97.5 115.5h1.1v1.1h-1.1zM96.6 114.8h1.1v1.1h-1.1zM113.9 101.2h1.1v1.1h-1.1zM116.2 95.4h1.1v1.1h-1.1zM106.5 107.8h1.1v1.1h-1.1zM86.6 130.3h1.1v1.1h-1.1zM80.2 134.0h1.1v1.1h-1.1zM106.0 106.6h1.1v1.1h-1.1zM74.4 135.5h1.1v1.1h-1.1zM107.9 104.0h1.1v1.1h-1.1zM101.4 117.7h1.1v1.1h-1.1zM70.7 136.7h1.1v1.1h-1.1zM98.7 114.2h1.1v1.1h-1.1zM79.8 136.6h1.1v1.1h-1.1zM91.2 120.6h1.1v1.1h-1.1zM84.3 129.5h1.1v1.1h-1.1zM94.8 119.2h1.1v1.1h-1.1zM97.5 115.1h1.1v1.1h-1.1zM82.2 131.9h1.1v1.1h-1.1zM99.7 123.3h1.1v1.1h-1.1zM116.9 98.8h1.1v1.1h-1.1zM99.3 115.0h1.1v1.1h-1.1zM76.0 133.1h1.1v1.1h-1.1zM107.4 110.7h1.1v1.1h-1.1zM109.0 103.3h1.1v1.1h-1.1zM98.4 112.7h1.1v1.1h-1.1zM68.4 144.9h1.1v1.1h-1.1zM140.8 69.9h1.1v1.1h-1.1zM111.0 105.6h1.1v1.1h-1.1zM83.3 132.8h1.1v1.1h-1.1zM85.5 125.1h1.1v1.1h-1.1zM78.2 136.2h1.1v1.1h-1.1zM78.5 135.9h1.1v1.1h-1.1z" fill="#35259a" fill-opacity="0.55"/>
<path d="M75.9 114.6h1.1v1.1h-1.1zM64.4 124.5h1.1v1.1h-1.1zM67.2 128.8h1.1v1.1h-1.1zM66.8 121.1h1.1v1.1h-1.1zM98.8 95.3h1.1v1.1h-1.1zM97.7 101.6h1.1v1.1h-1.1zM62.4 131.4h1.1v1.1h-1.1zM85.8 112.2h1.1v1.1h-1.1zM87.0 109.4h1.1v1.1h-1.1zM69.1 120.4h1.1v1.1h-1.1zM76.8 117.3h1.1v1.1h-1.1zM64.9 125.7h1.1v1.1h-1.1zM61.1 127.0h1.1v1.1h-1.1zM64.5 127.1h1.1v1.1h-1.1zM80.4 117.6h1.1v1.1h-1.1zM100.6 100.5h1.1v1.1h-1.1zM62.3 121.3h1.1v1.1h-1.1zM93.0 102.9h1.1v1.1h-1.1zM73.6 121.6h1.1v1.1h-1.1zM86.5 103.7h1.1v1.1h-1.1zM84.1 108.9h1.1v1.1h-1.1zM70.8 118.8h1.1v1.1h-1.1zM98.2 103.3h1.1v1.1h-1.1zM81.4 114.7h1.1v1.1h-1.1zM80.1 116.2h1.1v1.1h-1.1zM79.8 117.7h1.1v1.1h-1.1zM104.1 97.4h1.1v1.1h-1.1zM112.4 90.4h1.1v1.1h-1.1zM100.1 97.9h1.1v1.1h-1.1zM60.8 130.7h1.1v1.1h-1.1zM89.4 104.0h1.1v1.1h-1.1zM98.6 94.4h1.1v1.1h-1.1zM74.8 118.1h1.1v1.1h-1.1zM62.5 122.8h1.1v1.1h-1.1zM105.3 92.9h1.1v1.1h-1.1zM90.0 108.1h1.1v1.1h-1.1zM103.6 98.5h1.1v1.1h-1.1zM60.7 131.0h1.1v1.1h-1.1zM69.1 123.8h1.1v1.1h-1.1zM80.6 113.3h1.1v1.1h-1.1zM72.2 118.6h1.1v1.1h-1.1zM76.1 110.4h1.1v1.1h-1.1zM77.8 119.2h1.1v1.1h-1.1zM66.3 127.1h1.1v1.1h-1.1zM90.7 107.8h1.1v1.1h-1.1zM87.5 109.2h1.1v1.1h-1.1zM88.7 104.0h1.1v1.1h-1.1zM80.2 107.3h1.1v1.1h-1.1zM85.3 107.1h1.1v1.1h-1.1zM78.7 111.1h1.1v1.1h-1.1zM68.0 126.2h1.1v1.1h-1.1zM69.6 123.7h1.1v1.1h-1.1zM79.9 109.9h1.1v1.1h-1.1zM78.0 111.2h1.1v1.1h-1.1zM97.3 95.3h1.1v1.1h-1.1zM96.5 102.2h1.1v1.1h-1.1zM60.1 129.5h1.1v1.1h-1.1zM82.5 114.4h1.1v1.1h-1.1zM71.8 119.1h1.1v1.1h-1.1zM114.2 89.1h1.1v1.1h-1.1zM109.0 92.6h1.1v1.1h-1.1zM79.0 113.7h1.1v1.1h-1.1zM77.1 119.1h1.1v1.1h-1.1zM55.7 134.3h1.1v1.1h-1.1zM84.0 112.2h1.1v1.1h-1.1zM83.1 114.5h1.1v1.1h-1.1zM82.1 113.7h1.1v1.1h-1.1zM112.9 90.8h1.1v1.1h-1.1zM106.3 93.7h1.1v1.1h-1.1zM89.9 97.6h1.1v1.1h-1.1zM61.9 130.3h1.1v1.1h-1.1zM92.7 103.7h1.1v1.1h-1.1zM74.3 116.8h1.1v1.1h-1.1zM81.0 115.6h1.1v1.1h-1.1zM85.5 110.9h1.1v1.1h-1.1zM100.9 98.8h1.1v1.1h-1.1zM83.3 110.2h1.1v1.1h-1.1zM74.0 122.3h1.1v1.1h-1.1zM67.2 125.8h1.1v1.1h-1.1zM72.1 123.9h1.1v1.1h-1.1zM67.9 122.7h1.1v1.1h-1.1zM86.3 108.9h1.1v1.1h-1.1zM74.0 121.3h1.1v1.1h-1.1zM76.4 112.7h1.1v1.1h-1.1zM69.8 123.0h1.1v1.1h-1.1zM63.7 126.8h1.1v1.1h-1.1zM98.6 98.7h1.1v1.1h-1.1zM61.9 126.3h1.1v1.1h-1.1zM87.4 102.5h1.1v1.1h-1.1zM101.6 97.2h1.1v1.1h-1.1zM90.0 110.1h1.1v1.1h-1.1zM119.8 82.9h1.1v1.1h-1.1zM97.1 103.4h1.1v1.1h-1.1zM93.7 103.4h1.1v1.1h-1.1zM61.1 127.6h1.1v1.1h-1.1zM73.9 109.4h1.1v1.1h-1.1zM63.8 130.4h1.1v1.1h-1.1zM56.6 125.4h1.1v1.1h-1.1zM79.5 112.0h1.1v1.1h-1.1zM97.0 103.6h1.1v1.1h-1.1zM92.8 107.5h1.1v1.1h-1.1zM64.6 130.2h1.1v1.1h-1.1zM80.0 114.7h1.1v1.1h-1.1zM82.8 115.3h1.1v1.1h-1.1zM62.7 131.3h1.1v1.1h-1.1zM80.6 116.7h1.1v1.1h-1.1zM83.0 108.4h1.1v1.1h-1.1zM91.2 102.7h1.1v1.1h-1.1zM65.0 126.8h1.1v1.1h-1.1zM81.0 110.8h1.1v1.1h-1.1zM75.0 118.5h1.1v1.1h-1.1zM76.5 119.5h1.1v1.1h-1.1zM102.3 96.4h1.1v1.1h-1.1zM92.4 104.9h1.1v1.1h-1.1zM80.0 115.7h1.1v1.1h-1.1zM74.3 120.7h1.1v1.1h-1.1zM84.7 112.1h1.1v1.1h-1.1zM59.1 130.9h1.1v1.1h-1.1zM66.6 126.4h1.1v1.1h-1.1zM89.8 108.9h1.1v1.1h-1.1zM68.9 127.3h1.1v1.1h-1.1zM77.7 116.6h1.1v1.1h-1.1zM98.6 96.2h1.1v1.1h-1.1zM97.1 102.6h1.1v1.1h-1.1zM84.1 111.9h1.1v1.1h-1.1zM84.7 112.3h1.1v1.1h-1.1zM138.6 54.9h1.1v1.1h-1.1zM101.7 99.4h1.1v1.1h-1.1zM91.6 106.2h1.1v1.1h-1.1zM107.0 91.3h1.1v1.1h-1.1zM71.1 123.2h1.1v1.1h-1.1zM111.1 92.5h1.1v1.1h-1.1zM72.6 119.7h1.1v1.1h-1.1zM81.6 116.5h1.1v1.1h-1.1zM92.2 102.8h1.1v1.1h-1.1zM88.7 109.0h1.1v1.1h-1.1zM110.1 89.5h1.1v1.1h-1.1zM88.3 104.0h1.1v1.1h-1.1zM91.6 105.2h1.1v1.1h-1.1zM77.7 118.2h1.1v1.1h-1.1zM76.9 111.0h1.1v1.1h-1.1zM94.5 102.8h1.1v1.1h-1.1zM64.3 123.2h1.1v1.1h-1.1zM78.8 118.8h1.1v1.1h-1.1zM98.8 98.1h1.1v1.1h-1.1zM96.5 102.5h1.1v1.1h-1.1zM65.8 120.3h1.1v1.1h-1.1zM87.0 106.7h1.1v1.1h-1.1zM100.5 92.8h1.1v1.1h-1.1zM78.6 111.7h1.1v1.1h-1.1zM104.9 96.6h1.1v1.1h-1.1zM90.5 108.6h1.1v1.1h-1.1zM83.0 113.0h1.1v1.1h-1.1zM101.3 92.7h1.1v1.1h-1.1zM93.1 107.0h1.1v1.1h-1.1zM81.7 115.3h1.1v1.1h-1.1zM62.1 131.3h1.1v1.1h-1.1zM73.9 120.2h1.1v1.1h-1.1zM91.4 107.7h1.1v1.1h-1.1zM89.1 106.6h1.1v1.1h-1.1zM73.9 121.1h1.1v1.1h-1.1zM74.5 121.0h1.1v1.1h-1.1zM66.0 126.5h1.1v1.1h-1.1zM60.1 132.1h1.1v1.1h-1.1zM84.1 114.4h1.1v1.1h-1.1zM84.9 109.7h1.1v1.1h-1.1zM84.5 112.4h1.1v1.1h-1.1zM74.3 120.9h1.1v1.1h-1.1zM93.1 106.9h1.1v1.1h-1.1zM82.7 112.9h1.1v1.1h-1.1zM76.0 116.9h1.1v1.1h-1.1zM83.3 114.2h1.1v1.1h-1.1zM72.7 120.3h1.1v1.1h-1.1zM89.0 108.5h1.1v1.1h-1.1zM77.8 117.2h1.1v1.1h-1.1zM107.0 93.0h1.1v1.1h-1.1zM78.2 113.4h1.1v1.1h-1.1zM84.2 108.4h1.1v1.1h-1.1zM94.0 95.2h1.1v1.1h-1.1zM97.6 91.0h1.1v1.1h-1.1zM69.5 123.1h1.1v1.1h-1.1zM59.6 130.6h1.1v1.1h-1.1zM66.3 126.4h1.1v1.1h-1.1zM100.5 96.7h1.1v1.1h-1.1zM57.8 133.4h1.1v1.1h-1.1zM84.2 111.7h1.1v1.1h-1.1zM103.8 96.0h1.1v1.1h-1.1zM83.7 109.3h1.1v1.1h-1.1zM81.0 115.8h1.1v1.1h-1.1zM88.1 108.9h1.1v1.1h-1.1zM91.1 101.2h1.1v1.1h-1.1zM90.1 107.0h1.1v1.1h-1.1zM74.8 118.7h1.1v1.1h-1.1zM70.8 120.4h1.1v1.1h-1.1zM70.2 122.9h1.1v1.1h-1.1zM59.6 132.2h1.1v1.1h-1.1zM81.0 104.6h1.1v1.1h-1.1zM94.8 105.9h1.1v1.1h-1.1zM73.7 120.7h1.1v1.1h-1.1zM90.1 110.1h1.1v1.1h-1.1zM69.3 117.4h1.1v1.1h-1.1zM119.4 77.7h1.1v1.1h-1.1zM88.2 103.9h1.1v1.1h-1.1zM89.0 109.2h1.1v1.1h-1.1zM89.5 106.1h1.1v1.1h-1.1zM83.9 114.6h1.1v1.1h-1.1zM69.7 126.0h1.1v1.1h-1.1zM63.7 125.2h1.1v1.1h-1.1zM76.5 115.8h1.1v1.1h-1.1zM67.0 124.2h1.1v1.1h-1.1zM62.7 120.9h1.1v1.1h-1.1zM82.1 114.3h1.1v1.1h-1.1zM76.5 113.8h1.1v1.1h-1.1zM83.3 112.6h1.1v1.1h-1.1zM84.2 111.5h1.1v1.1h-1.1zM70.7 125.3h1.1v1.1h-1.1zM65.9 126.6h1.1v1.1h-1.1zM85.5 111.1h1.1v1.1h-1.1zM106.7 95.2h1.1v1.1h-1.1zM103.1 93.4h1.1v1.1h-1.1zM71.3 121.2h1.1v1.1h-1.1zM66.7 128.7h1.1v1.1h-1.1zM70.6 124.0h1.1v1.1h-1.1zM98.6 94.7h1.1v1.1h-1.1zM59.9 131.1h1.1v1.1h-1.1zM115.7 86.5h1.1v1.1h-1.1zM63.9 130.1h1.1v1.1h-1.1zM90.3 104.2h1.1v1.1h-1.1zM144.0 53.4h1.1v1.1h-1.1zM80.2 98.6h1.1v1.1h-1.1zM62.1 127.3h1.1v1.1h-1.1zM91.9 102.0h1.1v1.1h-1.1zM74.9 121.9h1.1v1.1h-1.1zM68.4 125.9h1.1v1.1h-1.1zM80.8 110.3h1.1v1.1h-1.1zM85.0 109.6h1.1v1.1h-1.1zM107.3 90.7h1.1v1.1h-1.1zM74.8 119.7h1.1v1.1h-1.1zM94.1 103.9h1.1v1.1h-1.1zM79.2 118.4h1.1v1.1h-1.1zM71.9 123.9h1.1v1.1h-1.1zM107.6 90.9h1.1v1.1h-1.1zM83.1 113.0h1.1v1.1h-1.1zM66.2 123.4h1.1v1.1h-1.1zM94.1 99.9h1.1v1.1h-1.1zM96.3 101.1h1.1v1.1h-1.1zM66.5 126.9h1.1v1.1h-1.1zM63.4 127.3h1.1v1.1h-1.1zM103.4 95.4h1.1v1.1h-1.1zM75.2 114.7h1.1v1.1h-1.1zM78.0 118.8h1.1v1.1h-1.1zM69.2 118.7h1.1v1.1h-1.1zM60.6 125.8h1.1v1.1h-1.1zM78.1 114.8h1.1v1.1h-1.1zM58.6 129.5h1.1v1.1h-1.1zM63.5 130.5h1.1v1.1h-1.1zM82.5 110.8h1.1v1.1h-1.1zM73.8 122.3h1.1v1.1h-1.1zM75.3 114.6h1.1v1.1h-1.1zM65.5 127.6h1.1v1.1h-1.1zM70.0 122.4h1.1v1.1h-1.1zM63.2 122.3h1.1v1.1h-1.1zM89.9 105.6h1.1v1.1h-1.1zM72.5 116.5h1.1v1.1h-1.1zM78.6 113.7h1.1v1.1h-1.1zM85.8 112.3h1.1v1.1h-1.1zM63.4 130.7h1.1v1.1h-1.1zM68.6 111.6h1.1v1.1h-1.1zM94.5 101.3h1.1v1.1h-1.1zM71.8 121.1h1.1v1.1h-1.1zM60.0 130.8h1.1v1.1h-1.1zM72.2 123.5h1.1v1.1h-1.1zM62.3 126.5h1.1v1.1h-1.1zM83.7 109.4h1.1v1.1h-1.1zM76.6 117.6h1.1v1.1h-1.1zM87.9 101.2h1.1v1.1h-1.1zM118.2 84.7h1.1v1.1h-1.1zM76.4 115.9h1.1v1.1h-1.1zM76.9 112.9h1.1v1.1h-1.1zM81.5 113.5h1.1v1.1h-1.1zM65.2 128.3h1.1v1.1h-1.1zM97.8 100.8h1.1v1.1h-1.1zM76.2 112.4h1.1v1.1h-1.1zM74.0 119.5h1.1v1.1h-1.1zM85.4 113.1h1.1v1.1h-1.1zM64.5 125.8h1.1v1.1h-1.1zM65.8 115.7h1.1v1.1h-1.1zM71.2 122.0h1.1v1.1h-1.1zM85.3 112.5h1.1v1.1h-1.1zM63.9 126.2h1.1v1.1h-1.1zM71.6 120.2h1.1v1.1h-1.1zM113.4 88.4h1.1v1.1h-1.1zM72.6 122.4h1.1v1.1h-1.1zM108.0 92.1h1.1v1.1h-1.1zM59.4 130.2h1.1v1.1h-1.1zM90.3 107.1h1.1v1.1h-1.1zM100.4 92.3h1.1v1.1h-1.1zM90.0 109.2h1.1v1.1h-1.1zM89.6 106.5h1.1v1.1h-1.1zM91.9 108.3h1.1v1.1h-1.1zM104.1 98.1h1.1v1.1h-1.1zM82.8 110.8h1.1v1.1h-1.1zM65.2 128.1h1.1v1.1h-1.1zM93.8 102.1h1.1v1.1h-1.1zM88.9 110.8h1.1v1.1h-1.1zM72.9 121.3h1.1v1.1h-1.1zM138.6 55.6h1.1v1.1h-1.1zM63.5 121.4h1.1v1.1h-1.1zM69.7 123.1h1.1v1.1h-1.1zM90.5 106.9h1.1v1.1h-1.1zM67.0 124.2h1.1v1.1h-1.1zM60.1 130.4h1.1v1.1h-1.1zM62.8 128.4h1.1v1.1h-1.1zM79.3 117.3h1.1v1.1h-1.1zM74.5 120.8h1.1v1.1h-1.1zM108.7 90.1h1.1v1.1h-1.1zM72.7 115.1h1.1v1.1h-1.1zM94.8 103.2h1.1v1.1h-1.1zM86.2 105.1h1.1v1.1h-1.1zM81.9 113.7h1.1v1.1h-1.1zM83.7 109.8h1.1v1.1h-1.1zM72.3 123.2h1.1v1.1h-1.1zM84.4 114.3h1.1v1.1h-1.1zM72.7 123.1h1.1v1.1h-1.1zM112.5 86.8h1.1v1.1h-1.1zM75.6 119.6h1.1v1.1h-1.1zM90.8 106.7h1.1v1.1h-1.1zM83.8 108.1h1.1v1.1h-1.1zM98.1 101.1h1.1v1.1h-1.1zM89.2 108.7h1.1v1.1h-1.1zM74.5 120.2h1.1v1.1h-1.1zM110.5 90.8h1.1v1.1h-1.1zM70.1 120.2h1.1v1.1h-1.1zM94.7 103.7h1.1v1.1h-1.1zM62.8 121.1h1.1v1.1h-1.1zM73.4 119.1h1.1v1.1h-1.1zM79.2 113.3h1.1v1.1h-1.1zM78.9 114.2h1.1v1.1h-1.1zM64.0 125.4h1.1v1.1h-1.1zM79.3 118.0h1.1v1.1h-1.1zM66.0 124.0h1.1v1.1h-1.1zM81.9 113.2h1.1v1.1h-1.1zM77.3 119.0h1.1v1.1h-1.1zM75.9 121.1h1.1v1.1h-1.1zM97.6 102.2h1.1v1.1h-1.1zM90.2 105.8h1.1v1.1h-1.1zM83.1 106.5h1.1v1.1h-1.1zM79.3 115.3h1.1v1.1h-1.1zM69.4 126.9h1.1v1.1h-1.1zM80.6 114.3h1.1v1.1h-1.1zM71.6 118.9h1.1v1.1h-1.1zM79.7 114.8h1.1v1.1h-1.1zM64.7 129.1h1.1v1.1h-1.1zM83.8 111.6h1.1v1.1h-1.1zM62.7 123.3h1.1v1.1h-1.1zM89.0 105.8h1.1v1.1h-1.1zM98.3 96.8h1.1v1.1h-1.1zM70.9 120.6h1.1v1.1h-1.1zM90.3 105.6h1.1v1.1h-1.1zM89.4 103.6h1.1v1.1h-1.1zM61.8 127.3h1.1v1.1h-1.1zM72.5 117.7h1.1v1.1h-1.1zM88.2 108.3h1.1v1.1h-1.1zM76.8 114.3h1.1v1.1h-1.1zM93.8 101.2h1.1v1.1h-1.1zM74.3 122.0h1.1v1.1h-1.1zM88.4 106.5h1.1v1.1h-1.1zM98.0 99.1h1.1v1.1h-1.1zM76.2 121.0h1.1v1.1h-1.1zM82.3 107.1h1.1v1.1h-1.1zM68.4 118.8h1.1v1.1h-1.1zM82.7 112.3h1.1v1.1h-1.1zM66.6 125.2h1.1v1.1h-1.1zM92.8 101.1h1.1v1.1h-1.1zM76.0 114.0h1.1v1.1h-1.1zM96.1 98.8h1.1v1.1h-1.1zM66.2 127.6h1.1v1.1h-1.1zM86.4 109.9h1.1v1.1h-1.1zM92.6 98.4h1.1v1.1h-1.1zM70.0 119.9h1.1v1.1h-1.1zM100.4 99.7h1.1v1.1h-1.1zM87.5 110.4h1.1v1.1h-1.1zM85.6 113.0h1.1v1.1h-1.1zM102.3 94.4h1.1v1.1h-1.1zM81.1 112.8h1.1v1.1h-1.1zM80.2 113.1h1.1v1.1h-1.1zM88.4 110.3h1.1v1.1h-1.1zM94.5 105.1h1.1v1.1h-1.1zM58.0 134.2h1.1v1.1h-1.1zM92.0 106.7h1.1v1.1h-1.1zM82.3 109.7h1.1v1.1h-1.1zM76.2 117.6h1.1v1.1h-1.1zM102.9 96.3h1.1v1.1h-1.1zM86.5 111.7h1.1v1.1h-1.1zM89.3 107.8h1.1v1.1h-1.1zM84.8 111.1h1.1v1.1h-1.1zM67.7 122.2h1.1v1.1h-1.1zM59.4 125.4h1.1v1.1h-1.1zM69.5 120.5h1.1v1.1h-1.1zM76.3 117.8h1.1v1.1h-1.1zM94.3 102.5h1.1v1.1h-1.1zM91.7 108.6h1.1v1.1h-1.1zM89.6 108.4h1.1v1.1h-1.1zM84.8 113.8h1.1v1.1h-1.1zM79.8 117.3h1.1v1.1h-1.1zM77.6 102.9h1.1v1.1h-1.1zM81.2 108.0h1.1v1.1h-1.1zM63.0 126.0h1.1v1.1h-1.1zM81.5 113.9h1.1v1.1h-1.1zM89.8 108.5h1.1v1.1h-1.1zM60.8 127.0h1.1v1.1h-1.1zM90.9 105.5h1.1v1.1h-1.1zM62.5 131.3h1.1v1.1h-1.1zM78.0 113.5h1.1v1.1h-1.1zM107.3 95.9h1.1v1.1h-1.1zM76.2 120.6h1.1v1.1h-1.1zM90.3 104.7h1.1v1.1h-1.1zM96.8 99.8h1.1v1.1h-1.1zM89.9 107.0h1.1v1.1h-1.1zM82.6 114.4h1.1v1.1h-1.1zM89.9 110.1h1.1v1.1h-1.1zM122.3 81.8h1.1v1.1h-1.1zM93.7 103.2h1.1v1.1h-1.1zM86.0 112.6h1.1v1.1h-1.1zM94.3 96.4h1.1v1.1h-1.1zM94.8 102.4h1.1v1.1h-1.1zM74.8 116.2h1.1v1.1h-1.1zM105.7 95.3h1.1v1.1h-1.1zM86.6 111.0h1.1v1.1h-1.1zM100.9 97.8h1.1v1.1h-1.1zM102.6 94.8h1.1v1.1h-1.1zM61.4 123.3h1.1v1.1h-1.1zM86.4 112.6h1.1v1.1h-1.1zM79.7 116.3h1.1v1.1h-1.1zM95.8 101.1h1.1v1.1h-1.1zM126.2 74.6h1.1v1.1h-1.1zM83.5 110.0h1.1v1.1h-1.1zM89.3 105.2h1.1v1.1h-1.1zM79.7 116.8h1.1v1.1h-1.1zM64.1 127.6h1.1v1.1h-1.1zM74.5 120.7h1.1v1.1h-1.1zM95.5 103.6h1.1v1.1h-1.1zM78.4 113.9h1.1v1.1h-1.1zM70.2 123.0h1.1v1.1h-1.1zM77.8 112.9h1.1v1.1h-1.1zM70.2 123.2h1.1v1.1h-1.1zM72.3 115.4h1.1v1.1h-1.1zM58.5 133.0h1.1v1.1h-1.1zM64.7 129.6h1.1v1.1h-1.1zM91.9 105.5h1.1v1.1h-1.1zM106.4 94.4h1.1v1.1h-1.1zM85.9 113.3h1.1v1.1h-1.1zM66.2 123.4h1.1v1.1h-1.1zM85.4 108.1h1.1v1.1h-1.1zM96.2 102.4h1.1v1.1h-1.1zM68.6 124.9h1.1v1.1h-1.1zM68.8 124.8h1.1v1.1h-1.1zM70.8 122.7h1.1v1.1h-1.1zM91.5 105.9h1.1v1.1h-1.1zM82.5 113.0h1.1v1.1h-1.1zM78.9 108.7h1.1v1.1h-1.1zM66.3 126.6h1.1v1.1h-1.1zM78.1 114.2h1.1v1.1h-1.1zM59.0 125.6h1.1v1.1h-1.1zM90.1 106.3h1.1v1.1h-1.1zM70.4 117.7h1.1v1.1h-1.1zM90.2 108.6h1.1v1.1h-1.1zM67.1 126.2h1.1v1.1h-1.1zM84.4 104.0h1.1v1.1h-1.1zM90.2 109.8h1.1v1.1h-1.1zM87.8 109.2h1.1v1.1h-1.1zM74.4 122.5h1.1v1.1h-1.1zM80.4 107.4h1.1v1.1h-1.1zM63.3 124.0h1.1v1.1h-1.1zM113.0 88.7h1.1v1.1h-1.1zM58.0 131.4h1.1v1.1h-1.1zM97.6 103.8h1.1v1.1h-1.1zM58.7 133.0h1.1v1.1h-1.1zM89.3 110.3h1.1v1.1h-1.1zM80.7 114.8h1.1v1.1h-1.1zM86.0 102.3h1.1v1.1h-1.1zM77.9 108.7h1.1v1.1h-1.1zM85.7 110.6h1.1v1.1h-1.1zM55.6 135.4h1.1v1.1h-1.1zM66.3 126.3h1.1v1.1h-1.1zM77.4 116.4h1.1v1.1h-1.1zM77.6 118.6h1.1v1.1h-1.1zM77.8 119.3h1.1v1.1h-1.1zM67.0 124.7h1.1v1.1h-1.1zM74.6 119.2h1.1v1.1h-1.1zM70.1 122.1h1.1v1.1h-1.1zM63.0 123.8h1.1v1.1h-1.1zM86.0 108.9h1.1v1.1h-1.1zM100.3 93.5h1.1v1.1h-1.1zM67.2 123.5h1.1v1.1h-1.1zM82.8 113.5h1.1v1.1h-1.1zM81.4 109.5h1.1v1.1h-1.1zM64.6 122.3h1.1v1.1h-1.1zM68.6 117.7h1.1v1.1h-1.1zM77.5 119.0h1.1v1.1h-1.1zM88.8 103.0h1.1v1.1h-1.1zM77.3 113.5h1.1v1.1h-1.1zM98.8 97.8h1.1v1.1h-1.1zM67.4 121.6h1.1v1.1h-1.1zM69.5 121.7h1.1v1.1h-1.1zM74.3 114.6h1.1v1.1h-1.1zM82.4 104.3h1.1v1.1h-1.1zM76.9 117.5h1.1v1.1h-1.1zM90.0 104.6h1.1v1.1h-1.1zM68.0 124.5h1.1v1.1h-1.1zM100.0 95.7h1.1v1.1h-1.1zM71.1 121.1h1.1v1.1h-1.1zM61.0 110.8h1.1v1.1h-1.1zM75.1 115.6h1.1v1.1h-1.1zM97.1 101.9h1.1v1.1h-1.1zM77.9 117.3h1.1v1.1h-1.1zM92.7 105.0h1.1v1.1h-1.1zM82.7 113.8h1.1v1.1h-1.1zM65.9 122.9h1.1v1.1h-1.1zM59.8 129.0h1.1v1.1h-1.1zM59.3 124.2h1.1v1.1h-1.1zM67.9 128.2h1.1v1.1h-1.1zM88.2 108.0h1.1v1.1h-1.1zM73.6 123.1h1.1v1.1h-1.1zM79.1 110.9h1.1v1.1h-1.1zM83.9 111.7h1.1v1.1h-1.1zM67.5 118.3h1.1v1.1h-1.1zM68.3 127.7h1.1v1.1h-1.1zM65.9 123.6h1.1v1.1h-1.1zM79.9 113.5h1.1v1.1h-1.1zM63.9 127.5h1.1v1.1h-1.1zM60.0 130.1h1.1v1.1h-1.1zM68.3 125.0h1.1v1.1h-1.1zM98.0 101.2h1.1v1.1h-1.1zM71.0 121.1h1.1v1.1h-1.1zM69.3 122.4h1.1v1.1h-1.1zM75.8 118.2h1.1v1.1h-1.1zM88.1 111.5h1.1v1.1h-1.1zM80.9 114.7h1.1v1.1h-1.1zM89.7 106.5h1.1v1.1h-1.1zM65.1 130.1h1.1v1.1h-1.1zM63.8 127.3h1.1v1.1h-1.1zM103.0 85.5h1.1v1.1h-1.1zM86.2 112.7h1.1v1.1h-1.1zM90.5 105.1h1.1v1.1h-1.1zM84.7 109.0h1.1v1.1h-1.1zM109.6 82.7h1.1v1.1h-1.1zM62.1 129.7h1.1v1.1h-1.1zM80.5 112.9h1.1v1.1h-1.1zM93.0 106.7h1.1v1.1h-1.1zM74.2 121.0h1.1v1.1h-1.1zM93.5 98.1h1.1v1.1h-1.1zM77.3 119.6h1.1v1.1h-1.1zM99.0 100.6h1.1v1.1h-1.1zM83.7 114.4h1.1v1.1h-1.1zM77.9 116.7h1.1v1.1h-1.1zM72.7 123.1h1.1v1.1h-1.1zM67.0 123.8h1.1v1.1h-1.1zM77.0 114.9h1.1v1.1h-1.1zM75.0 116.1h1.1v1.1h-1.1zM69.7 124.2h1.1v1.1h-1.1zM74.0 119.3h1.1v1.1h-1.1zM78.2 108.6h1.1v1.1h-1.1zM66.8 126.4h1.1v1.1h-1.1zM105.4 94.1h1.1v1.1h-1.1zM64.4 125.5h1.1v1.1h-1.1zM71.8 118.3h1.1v1.1h-1.1zM75.3 118.1h1.1v1.1h-1.1zM86.1 103.3h1.1v1.1h-1.1zM95.2 100.2h1.1v1.1h-1.1zM129.4 67.1h1.1v1.1h-1.1z" fill="#d82c1c" fill-opacity="0.55"/>
<path d="M69.0 123.2h1.1v1.1h-1.1zM81.8 114.0h1.1v1.1h-1.1zM78.9 114.7h1.1v1.1h-1.1zM77.7 114.1h1.1v1.1h-1.1zM80.2 117.1h1.1v1.1h-1.1zM71.2 123.3h1.1v1.1h-1.1zM87.0 106.5h1.1v1.1h-1.1zM81.7 107.3h1.1v1.1h-1.1zM77.8 119.3h1.1v1.1h-1.1zM71.6 121.2h1.1v1.1h-1.1zM76.6 118.3h1.1v1.1h-1.1zM100.1 97.7h1.1v1.1h-1.1zM71.1 123.6h1.1v1.1h-1.1zM63.2 125.2h1.1v1.1h-1.1zM80.0 115.7h1.1v1.1h-1.1zM78.8 110.9h1.1v1.1h-1.1zM87.6 109.8h1.1v1.1h-1.1zM68.3 119.5h1.1v1.1h-1.1zM61.5 128.7h1.1v1.1h-1.1zM119.9 74.6h1.1v1.1h-1.1zM73.9 115.1h1.1v1.1h-1.1zM86.2 104.6h1.1v1.1h-1.1zM102.5 95.0h1.1v1.1h-1.1zM68.3 120.4h1.1v1.1h-1.1zM76.5 108.5h1.1v1.1h-1.1zM70.7 116.4h1.1v1.1h-1.1zM87.3 111.6h1.1v1.1h-1.1zM63.5 120.3h1.1v1.1h-1.1zM81.1 107.1h1.1v1.1h-1.1zM62.5 129.3h1.1v1.1h-1.1zM83.9 111.3h1.1v1.1h-1.1zM131.1 66.1h1.1v1.1h-1.1zM60.3 126.1h1.1v1.1h-1.1zM59.5 128.6h1.1v1.1h-1.1zM69.7 124.0h1.1v1.1h-1.1zM62.3 128.9h1.1v1.1h-1.1zM65.8 115.3h1.1v1.1h-1.1zM101.4 91.0h1.1v1.1h-1.1zM81.0 109.6h1.1v1.1h-1.1zM65.4 125.2h1.1v1.1h-1.1zM68.3 126.1h1.1v1.1h-1.1zM59.3 130.9h1.1v1.1h-1.1zM58.2 129.2h1.1v1.1h-1.1zM88.7 106.6h1.1v1.1h-1.1zM90.9 106.3h1.1v1.1h-1.1zM76.3 112.1h1.1v1.1h-1.1zM71.0 116.5h1.1v1.1h-1.1zM69.6 121.9h1.1v1.1h-1.1zM84.6 113.0h1.1v1.1h-1.1zM82.5 115.5h1.1v1.1h-1.1zM119.9 83.9h1.1v1.1h-1.1zM80.5 115.5h1.1v1.1h-1.1zM79.2 111.1h1.1v1.1h-1.1zM88.3 104.5h1.1v1.1h-1.1zM81.3 109.8h1.1v1.1h-1.1zM75.5 119.3h1.1v1.1h-1.1zM82.2 114.2h1.1v1.1h-1.1zM83.0 112.5h1.1v1.1h-1.1zM76.4 120.8h1.1v1.1h-1.1zM89.8 107.6h1.1v1.1h-1.1zM97.3 103.2h1.1v1.1h-1.1zM93.3 103.3h1.1v1.1h-1.1zM62.5 125.8h1.1v1.1h-1.1zM81.8 113.7h1.1v1.1h-1.1zM101.6 99.8h1.1v1.1h-1.1zM79.2 112.8h1.1v1.1h-1.1zM66.5 127.7h1.1v1.1h-1.1zM71.5 123.4h1.1v1.1h-1.1zM91.0 109.3h1.1v1.1h-1.1zM60.4 131.5h1.1v1.1h-1.1zM79.5 115.4h1.1v1.1h-1.1zM75.2 119.4h1.1v1.1h-1.1zM76.6 117.5h1.1v1.1h-1.1zM87.8 110.8h1.1v1.1h-1.1zM102.5 96.1h1.1v1.1h-1.1zM94.0 103.9h1.1v1.1h-1.1zM66.7 126.3h1.1v1.1h-1.1zM75.2 121.1h1.1v1.1h-1.1zM70.6 121.0h1.1v1.1h-1.1zM61.0 127.5h1.1v1.1h-1.1zM108.1 94.7h1.1v1.1h-1.1zM78.9 114.2h1.1v1.1h-1.1zM79.7 116.3h1.1v1.1h-1.1zM93.5 103.1h1.1v1.1h-1.1zM60.3 128.7h1.1v1.1h-1.1zM105.1 94.8h1.1v1.1h-1.1zM73.2 123.4h1.1v1.1h-1.1zM85.8 110.2h1.1v1.1h-1.1zM87.9 106.4h1.1v1.1h-1.1zM97.7 102.2h1.1v1.1h-1.1zM76.6 113.5h1.1v1.1h-1.1zM79.8 114.1h1.1v1.1h-1.1zM58.2 129.6h1.1v1.1h-1.1zM77.6 119.7h1.1v1.1h-1.1zM65.8 120.0h1.1v1.1h-1.1zM67.8 118.7h1.1v1.1h-1.1zM72.0 120.0h1.1v1.1h-1.1zM63.6 125.7h1.1v1.1h-1.1zM90.7 107.4h1.1v1.1h-1.1zM60.7 122.3h1.1v1.1h-1.1zM91.4 107.2h1.1v1.1h-1.1zM86.7 109.2h1.1v1.1h-1.1zM71.9 124.3h1.1v1.1h-1.1zM91.9 105.9h1.1v1.1h-1.1zM59.2 130.8h1.1v1.1h-1.1zM65.0 125.8h1.1v1.1h-1.1zM92.1 105.3h1.1v1.1h-1.1zM76.5 119.1h1.1v1.1h-1.1zM80.8 113.2h1.1v1.1h-1.1zM78.8 114.2h1.1v1.1h-1.1zM64.3 128.5h1.1v1.1h-1.1zM87.1 107.4h1.1v1.1h-1.1zM105.1 93.4h1.1v1.1h-1.1zM55.7 134.0h1.1v1.1h-1.1zM65.7 127.7h1.1v1.1h-1.1zM97.6 103.9h1.1v1.1h-1.1zM62.7 120.7h1.1v1.1h-1.1zM144.7 55.8h1.1v1.1h-1.1zM68.4 125.1h1.1v1.1h-1.1zM107.4 87.9h1.1v1.1h-1.1zM110.6 92.8h1.1v1.1h-1.1zM99.0 98.3h1.1v1.1h-1.1zM66.9 120.7h1.1v1.1h-1.1zM80.3 112.2h1.1v1.1h-1.1zM71.2 121.6h1.1v1.1h-1.1zM80.1 117.3h1.1v1.1h-1.1zM93.9 106.6h1.1v1.1h-1.1zM95.0 105.1h1.1v1.1h-1.1zM88.0 109.1h1.1v1.1h-1.1zM89.9 98.9h1.1v1.1h-1.1zM90.7 106.5h1.1v1.1h-1.1zM95.2 105.4h1.1v1.1h-1.1zM81.6 107.7h1.1v1.1h-1.1zM84.4 113.8h1.1v1.1h-1.1zM73.6 116.9h1.1v1.1h-1.1zM70.4 125.8h1.1v1.1h-1.1zM102.9 94.3h1.1v1.1h-1.1zM97.0 103.2h1.1v1.1h-1.1zM75.2 113.7h1.1v1.1h-1.1zM64.4 127.1h1.1v1.1h-1.1zM70.6 119.2h1.1v1.1h-1.1zM69.3 124.4h1.1v1.1h-1.1zM66.1 127.6h1.1v1.1h-1.1zM74.1 117.3h1.1v1.1h-1.1zM102.3 95.7h1.1v1.1h-1.1zM63.1 129.7h1.1v1.1h-1.1zM59.6 132.2h1.1v1.1h-1.1zM68.7 123.1h1.1v1.1h-1.1zM87.4 107.3h1.1v1.1h-1.1zM89.2 107.6h1.1v1.1h-1.1zM77.1 116.7h1.1v1.1h-1.1zM91.9 107.6h1.1v1.1h-1.1zM88.2 108.6h1.1v1.1h-1.1zM60.0 132.4h1.1v1.1h-1.1zM104.6 96.7h1.1v1.1h-1.1zM84.3 110.5h1.1v1.1h-1.1zM107.6 93.1h1.1v1.1h-1.1zM63.4 123.6h1.1v1.1h-1.1zM62.8 129.3h1.1v1.1h-1.1zM70.8 121.7h1.1v1.1h-1.1zM63.9 125.0h1.1v1.1h-1.1zM114.6 86.8h1.1v1.1h-1.1zM66.3 126.5h1.1v1.1h-1.1zM92.1 107.3h1.1v1.1h-1.1zM77.7 108.7h1.1v1.1h-1.1zM105.5 96.4h1.1v1.1h-1.1zM78.8 111.1h1.1v1.1h-1.1zM72.0 120.4h1.1v1.1h-1.1zM62.6 130.4h1.1v1.1h-1.1zM74.4 120.2h1.1v1.1h-1.1zM92.2 104.2h1.1v1.1h-1.1zM81.9 114.1h1.1v1.1h-1.1zM107.6 90.3h1.1v1.1h-1.1zM57.6 130.9h1.1v1.1h-1.1zM64.9 120.2h1.1v1.1h-1.1zM74.2 109.8h1.1v1.1h-1.1zM78.7 118.0h1.1v1.1h-1.1zM88.4 107.3h1.1v1.1h-1.1zM76.2 115.2h1.1v1.1h-1.1zM57.0 134.7h1.1v1.1h-1.1zM93.8 106.5h1.1v1.1h-1.1zM79.3 110.1h1.1v1.1h-1.1zM104.2 90.8h1.1v1.1h-1.1zM79.0 110.7h1.1v1.1h-1.1zM61.0 125.9h1.1v1.1h-1.1zM69.1 125.6h1.1v1.1h-1.1zM84.2 105.8h1.1v1.1h-1.1zM73.7 122.6h1.1v1.1h-1.1zM81.4 109.9h1.1v1.1h-1.1zM87.0 109.3h1.1v1.1h-1.1zM70.8 111.3h1.1v1.1h-1.1zM62.3 125.5h1.1v1.1h-1.1zM68.5 124.9h1.1v1.1h-1.1zM86.3 105.5h1.1v1.1h-1.1zM60.4 125.5h1.1v1.1h-1.1zM90.4 106.4h1.1v1.1h-1.1zM100.2 98.9h1.1v1.1h-1.1zM106.8 93.6h1.1v1.1h-1.1zM81.6 108.8h1.1v1.1h-1.1zM81.5 113.0h1.1v1.1h-1.1zM68.6 111.4h1.1v1.1h-1.1zM80.7 112.1h1.1v1.1h-1.1zM92.7 106.5h1.1v1.1h-1.1zM86.4 111.8h1.1v1.1h-1.1zM88.5 107.7h1.1v1.1h-1.1zM97.2 98.3h1.1v1.1h-1.1zM107.8 89.6h1.1v1.1h-1.1zM120.7 82.4h1.1v1.1h-1.1zM65.1 126.7h1.1v1.1h-1.1zM64.8 129.2h1.1v1.1h-1.1zM77.7 119.7h1.1v1.1h-1.1zM60.2 127.4h1.1v1.1h-1.1zM69.7 125.3h1.1v1.1h-1.1zM78.5 115.7h1.1v1.1h-1.1zM82.6 111.4h1.1v1.1h-1.1zM65.0 123.4h1.1v1.1h-1.1zM61.0 130.5h1.1v1.1h-1.1zM79.6 114.6h1.1v1.1h-1.1zM62.7 127.4h1.1v1.1h-1.1zM92.4 106.3h1.1v1.1h-1.1zM109.3 86.0h1.1v1.1h-1.1zM81.2 114.4h1.1v1.1h-1.1zM78.4 116.4h1.1v1.1h-1.1zM61.4 130.5h1.1v1.1h-1.1zM112.8 87.2h1.1v1.1h-1.1zM73.6 121.7h1.1v1.1h-1.1zM84.8 111.9h1.1v1.1h-1.1zM85.7 112.2h1.1v1.1h-1.1zM93.7 105.7h1.1v1.1h-1.1zM65.0 124.1h1.1v1.1h-1.1zM78.6 115.8h1.1v1.1h-1.1zM55.9 130.9h1.1v1.1h-1.1zM80.4 115.3h1.1v1.1h-1.1zM94.5 103.2h1.1v1.1h-1.1zM76.7 115.9h1.1v1.1h-1.1zM70.6 123.8h1.1v1.1h-1.1zM73.7 114.8h1.1v1.1h-1.1zM120.9 76.7h1.1v1.1h-1.1zM112.9 87.5h1.1v1.1h-1.1zM62.1 131.5h1.1v1.1h-1.1zM104.4 93.8h1.1v1.1h-1.1zM94.9 92.5h1.1v1.1h-1.1zM79.7 115.0h1.1v1.1h-1.1zM71.3 123.7h1.1v1.1h-1.1zM78.9 115.0h1.1v1.1h-1.1zM67.1 122.5h1.1v1.1h-1.1zM79.0 116.6h1.1v1.1h-1.1zM78.7 111.8h1.1v1.1h-1.1zM79.2 114.9h1.1v1.1h-1.1zM69.5 125.9h1.1v1.1h-1.1zM78.1 115.8h1.1v1.1h-1.1zM97.7 102.1h1.1v1.1h-1.1zM92.6 102.9h1.1v1.1h-1.1zM65.2 125.2h1.1v1.1h-1.1zM77.8 113.0h1.1v1.1h-1.1zM93.6 102.3h1.1v1.1h-1.1zM87.4 108.1h1.1v1.1h-1.1zM75.0 121.8h1.1v1.1h-1.1zM77.5 116.7h1.1v1.1h-1.1zM67.2 123.3h1.1v1.1h-1.1zM78.7 109.5h1.1v1.1h-1.1zM62.0 125.0h1.1v1.1h-1.1zM92.6 104.6h1.1v1.1h-1.1zM100.4 93.4h1.1v1.1h-1.1zM86.3 111.6h1.1v1.1h-1.1zM81.8 110.7h1.1v1.1h-1.1zM81.9 113.9h1.1v1.1h-1.1zM58.9 131.5h1.1v1.1h-1.1zM62.3 124.9h1.1v1.1h-1.1zM98.2 100.8h1.1v1.1h-1.1zM97.7 100.3h1.1v1.1h-1.1zM63.1 125.3h1.1v1.1h-1.1zM64.7 129.4h1.1v1.1h-1.1zM78.9 118.5h1.1v1.1h-1.1zM98.0 100.7h1.1v1.1h-1.1zM79.5 116.5h1.1v1.1h-1.1zM97.9 98.3h1.1v1.1h-1.1zM80.0 114.2h1.1v1.1h-1.1zM82.4 114.1h1.1v1.1h-1.1zM64.9 119.8h1.1v1.1h-1.1zM94.2 104.8h1.1v1.1h-1.1zM103.8 97.7h1.1v1.1h-1.1zM68.6 114.6h1.1v1.1h-1.1zM71.9 120.7h1.1v1.1h-1.1zM81.8 107.3h1.1v1.1h-1.1zM111.0 90.0h1.1v1.1h-1.1zM67.9 114.9h1.1v1.1h-1.1zM99.0 98.0h1.1v1.1h-1.1zM69.6 125.1h1.1v1.1h-1.1zM72.2 122.3h1.1v1.1h-1.1zM71.0 125.3h1.1v1.1h-1.1zM80.0 113.9h1.1v1.1h-1.1zM74.1 120.2h1.1v1.1h-1.1zM87.8 110.0h1.1v1.1h-1.1zM63.7 128.9h1.1v1.1h-1.1zM74.4 115.3h1.1v1.1h-1.1zM87.7 109.5h1.1v1.1h-1.1zM62.7 122.9h1.1v1.1h-1.1zM62.8 127.0h1.1v1.1h-1.1zM90.0 105.8h1.1v1.1h-1.1zM66.7 127.3h1.1v1.1h-1.1zM60.5 109.3h1.1v1.1h-1.1zM73.9 118.4h1.1v1.1h-1.1zM61.5 130.3h1.1v1.1h-1.1zM93.8 105.4h1.1v1.1h-1.1zM109.9 92.8h1.1v1.1h-1.1zM71.2 122.2h1.1v1.1h-1.1zM60.5 122.1h1.1v1.1h-1.1zM80.2 104.3h1.1v1.1h-1.1zM96.4 100.9h1.1v1.1h-1.1zM65.8 124.6h1.1v1.1h-1.1zM57.2 126.0h1.1v1.1h-1.1zM87.8 111.3h1.1v1.1h-1.1zM103.1 96.8h1.1v1.1h-1.1zM80.0 114.9h1.1v1.1h-1.1zM114.1 89.3h1.1v1.1h-1.1zM70.6 120.2h1.1v1.1h-1.1zM63.3 127.5h1.1v1.1h-1.1zM98.9 97.0h1.1v1.1h-1.1zM62.1 124.3h1.1v1.1h-1.1zM93.6 101.7h1.1v1.1h-1.1zM61.4 126.9h1.1v1.1h-1.1zM81.5 115.2h1.1v1.1h-1.1zM88.4 105.4h1.1v1.1h-1.1zM83.0 109.5h1.1v1.1h-1.1zM79.1 115.1h1.1v1.1h-1.1zM64.6 128.0h1.1v1.1h-1.1zM75.7 115.7h1.1v1.1h-1.1zM89.2 107.8h1.1v1.1h-1.1zM63.7 129.7h1.1v1.1h-1.1zM76.3 119.1h1.1v1.1h-1.1zM74.1 120.3h1.1v1.1h-1.1zM94.9 103.8h1.1v1.1h-1.1zM80.1 114.2h1.1v1.1h-1.1zM110.2 93.0h1.1v1.1h-1.1zM82.8 109.1h1.1v1.1h-1.1zM78.6 114.8h1.1v1.1h-1.1zM72.7 122.1h1.1v1.1h-1.1zM59.7 132.6h1.1v1.1h-1.1zM75.3 121.5h1.1v1.1h-1.1zM69.6 119.9h1.1v1.1h-1.1zM75.3 120.0h1.1v1.1h-1.1zM74.1 121.1h1.1v1.1h-1.1zM77.0 118.2h1.1v1.1h-1.1zM81.7 112.6h1.1v1.1h-1.1zM81.9 113.3h1.1v1.1h-1.1zM89.5 108.3h1.1v1.1h-1.1zM97.1 94.5h1.1v1.1h-1.1zM79.0 116.3h1.1v1.1h-1.1zM101.1 92.2h1.1v1.1h-1.1zM75.0 110.6h1.1v1.1h-1.1zM84.0 112.0h1.1v1.1h-1.1zM65.2 124.8h1.1v1.1h-1.1zM68.7 124.3h1.1v1.1h-1.1zM68.7 120.7h1.1v1.1h-1.1zM66.5 120.5h1.1v1.1h-1.1zM98.3 101.7h1.1v1.1h-1.1zM103.1 95.7h1.1v1.1h-1.1zM75.9 116.3h1.1v1.1h-1.1zM73.6 122.5h1.1v1.1h-1.1zM70.3 122.4h1.1v1.1h-1.1zM109.2 89.6h1.1v1.1h-1.1zM98.8 102.3h1.1v1.1h-1.1zM77.3 118.0h1.1v1.1h-1.1zM89.2 108.4h1.1v1.1h-1.1zM86.5 110.0h1.1v1.1h-1.1zM91.6 106.1h1.1v1.1h-1.1zM61.3 125.2h1.1v1.1h-1.1zM80.5 114.4h1.1v1.1h-1.1zM107.6 85.7h1.1v1.1h-1.1zM103.2 95.2h1.1v1.1h-1.1zM96.9 101.1h1.1v1.1h-1.1zM57.1 125.3h1.1v1.1h-1.1zM100.2 100.7h1.1v1.1h-1.1zM89.6 108.2h1.1v1.1h-1.1zM78.6 114.9h1.1v1.1h-1.1zM87.1 107.7h1.1v1.1h-1.1zM86.1 113.0h1.1v1.1h-1.1zM69.0 127.5h1.1v1.1h-1.1zM80.0 113.5h1.1v1.1h-1.1zM60.1 125.3h1.1v1.1h-1.1zM68.6 125.1h1.1v1.1h-1.1zM94.1 101.2h1.1v1.1h-1.1zM72.0 122.0h1.1v1.1h-1.1zM73.0 122.0h1.1v1.1h-1.1zM88.6 108.1h1.1v1.1h-1.1zM62.7 121.4h1.1v1.1h-1.1zM83.8 108.6h1.1v1.1h-1.1zM77.8 118.1h1.1v1.1h-1.1zM85.7 112.4h1.1v1.1h-1.1zM73.6 120.9h1.1v1.1h-1.1zM83.9 107.4h1.1v1.1h-1.1zM89.9 103.8h1.1v1.1h-1.1zM101.2 98.4h1.1v1.1h-1.1zM77.8 119.2h1.1v1.1h-1.1zM70.5 115.5h1.1v1.1h-1.1zM90.3 105.0h1.1v1.1h-1.1zM86.1 107.3h1.1v1.1h-1.1zM71.2 122.9h1.1v1.1h-1.1zM99.8 98.9h1.1v1.1h-1.1zM99.7 96.8h1.1v1.1h-1.1zM71.4 118.0h1.1v1.1h-1.1zM69.5 121.6h1.1v1.1h-1.1zM86.4 110.0h1.1v1.1h-1.1zM90.7 104.6h1.1v1.1h-1.1zM90.5 105.1h1.1v1.1h-1.1zM98.8 99.6h1.1v1.1h-1.1zM80.9 115.2h1.1v1.1h-1.1zM94.5 105.0h1.1v1.1h-1.1zM73.9 117.3h1.1v1.1h-1.1zM66.8 126.5h1.1v1.1h-1.1zM83.2 108.5h1.1v1.1h-1.1zM71.7 122.3h1.1v1.1h-1.1zM77.9 112.9h1.1v1.1h-1.1zM73.6 117.0h1.1v1.1h-1.1zM106.0 94.4h1.1v1.1h-1.1zM84.0 111.5h1.1v1.1h-1.1zM87.9 106.6h1.1v1.1h-1.1zM82.8 110.9h1.1v1.1h-1.1zM85.5 107.3h1.1v1.1h-1.1zM70.7 120.9h1.1v1.1h-1.1zM90.3 105.5h1.1v1.1h-1.1zM61.3 117.1h1.1v1.1h-1.1zM102.9 92.9h1.1v1.1h-1.1zM84.0 109.8h1.1v1.1h-1.1zM80.2 115.3h1.1v1.1h-1.1zM91.9 103.1h1.1v1.1h-1.1zM57.7 125.4h1.1v1.1h-1.1zM115.1 86.2h1.1v1.1h-1.1zM60.1 128.2h1.1v1.1h-1.1zM102.0 95.3h1.1v1.1h-1.1zM57.3 126.3h1.1v1.1h-1.1zM78.3 107.8h1.1v1.1h-1.1zM84.0 112.7h1.1v1.1h-1.1zM70.2 125.3h1.1v1.1h-1.1zM78.1 119.2h1.1v1.1h-1.1zM64.7 122.5h1.1v1.1h-1.1zM83.5 111.3h1.1v1.1h-1.1zM105.6 94.1h1.1v1.1h-1.1zM79.9 116.0h1.1v1.1h-1.1zM97.7 93.7h1.1v1.1h-1.1zM71.2 121.3h1.1v1.1h-1.1zM90.7 106.3h1.1v1.1h-1.1zM76.5 120.5h1.1v1.1h-1.1zM87.1 108.1h1.1v1.1h-1.1zM81.5 112.7h1.1v1.1h-1.1zM64.2 123.4h1.1v1.1h-1.1zM66.7 128.1h1.1v1.1h-1.1zM78.2 114.5h1.1v1.1h-1.1zM102.7 97.8h1.1v1.1h-1.1zM66.2 127.2h1.1v1.1h-1.1zM64.2 129.3h1.1v1.1h-1.1zM59.0 129.0h1.1v1.1h-1.1zM63.1 128.3h1.1v1.1h-1.1zM66.8 126.1h1.1v1.1h-1.1zM108.9 90.5h1.1v1.1h-1.1zM84.8 110.1h1.1v1.1h-1.1zM84.8 114.2h1.1v1.1h-1.1zM92.0 105.1h1.1v1.1h-1.1zM88.4 110.2h1.1v1.1h-1.1zM97.8 96.8h1.1v1.1h-1.1zM81.0 114.5h1.1v1.1h-1.1zM95.2 103.6h1.1v1.1h-1.1zM87.3 106.1h1.1v1.1h-1.1zM104.0 96.7h1.1v1.1h-1.1zM72.0 113.2h1.1v1.1h-1.1zM74.7 121.1h1.1v1.1h-1.1zM73.1 118.9h1.1v1.1h-1.1zM66.7 124.7h1.1v1.1h-1.1zM90.1 108.9h1.1v1.1h-1.1zM98.0 98.8h1.1v1.1h-1.1zM84.9 108.5h1.1v1.1h-1.1zM106.9 94.5h1.1v1.1h-1.1zM102.0 96.5h1.1v1.1h-1.1zM101.0 99.3h1.1v1.1h-1.1zM61.5 120.9h1.1v1.1h-1.1zM81.9 114.4h1.1v1.1h-1.1zM64.5 123.8h1.1v1.1h-1.1zM102.8 96.3h1.1v1.1h-1.1zM65.4 122.8h1.1v1.1h-1.1zM104.2 92.9h1.1v1.1h-1.1zM79.3 116.1h1.1v1.1h-1.1zM90.0 105.2h1.1v1.1h-1.1zM68.8 127.1h1.1v1.1h-1.1zM92.6 104.2h1.1v1.1h-1.1zM64.0 129.3h1.1v1.1h-1.1zM70.8 124.4h1.1v1.1h-1.1zM88.3 110.5h1.1v1.1h-1.1zM101.3 98.3h1.1v1.1h-1.1zM61.2 127.6h1.1v1.1h-1.1zM96.2 101.5h1.1v1.1h-1.1zM58.4 129.8h1.1v1.1h-1.1zM85.9 104.8h1.1v1.1h-1.1zM80.5 117.1h1.1v1.1h-1.1zM89.9 110.0h1.1v1.1h-1.1zM58.7 127.5h1.1v1.1h-1.1zM70.5 124.7h1.1v1.1h-1.1zM95.1 102.0h1.1v1.1h-1.1zM63.7 127.9h1.1v1.1h-1.1zM76.0 116.5h1.1v1.1h-1.1zM77.6 119.2h1.1v1.1h-1.1zM85.3 106.5h1.1v1.1h-1.1zM63.5 130.7h1.1v1.1h-1.1zM71.1 120.6h1.1v1.1h-1.1zM68.1 124.9h1.1v1.1h-1.1zM90.9 106.3h1.1v1.1h-1.1zM61.5 126.3h1.1v1.1h-1.1zM90.3 107.0h1.1v1.1h-1.1zM107.2 95.3h1.1v1.1h-1.1zM107.0 95.4h1.1v1.1h-1.1zM111.4 87.1h1.1v1.1h-1.1zM108.2 94.6h1.1v1.1h-1.1zM103.0 91.8h1.1v1.1h-1.1zM105.8 97.1h1.1v1.1h-1.1zM66.7 120.2h1.1v1.1h-1.1zM77.1 113.7h1.1v1.1h-1.1zM65.2 127.0h1.1v1.1h-1.1zM70.7 106.0h1.1v1.1h-1.1zM78.3 118.9h1.1v1.1h-1.1zM64.9 125.9h1.1v1.1h-1.1zM71.6 124.5h1.1v1.1h-1.1zM65.2 128.9h1.1v1.1h-1.1zM63.3 129.9h1.1v1.1h-1.1zM106.1 95.6h1.1v1.1h-1.1zM78.1 117.6h1.1v1.1h-1.1zM128.1 71.6h1.1v1.1h-1.1zM61.1 120.4h1.1v1.1h-1.1zM100.9 97.9h1.1v1.1h-1.1zM67.5 126.8h1.1v1.1h-1.1zM71.0 118.9h1.1v1.1h-1.1zM71.8 110.1h1.1v1.1h-1.1zM67.0 113.4h1.1v1.1h-1.1zM61.7 128.3h1.1v1.1h-1.1zM76.1 121.0h1.1v1.1h-1.1zM101.4 96.6h1.1v1.1h-1.1zM85.1 112.9h1.1v1.1h-1.1zM70.5 122.9h1.1v1.1h-1.1zM68.6 126.6h1.1v1.1h-1.1zM94.3 103.1h1.1v1.1h-1.1zM78.6 118.1h1.1v1.1h-1.1zM77.1 113.3h1.1v1.1h-1.1zM110.6 91.9h1.1v1.1h-1.1zM64.9 127.3h1.1v1.1h-1.1zM64.9 122.6h1.1v1.1h-1.1zM63.7 123.6h1.1v1.1h-1.1zM79.7 116.0h1.1v1.1h-1.1zM70.6 119.6h1.1v1.1h-1.1zM68.1 127.0h1.1v1.1h-1.1zM95.9 100.8h1.1v1.1h-1.1zM77.5 116.5h1.1v1.1h-1.1zM94.6 102.2h1.1v1.1h-1.1zM66.5 120.6h1.1v1.1h-1.1zM67.7 128.5h1.1v1.1h-1.1zM73.3 118.6h1.1v1.1h-1.1zM62.9 128.0h1.1v1.1h-1.1zM73.6 119.9h1.1v1.1h-1.1zM89.7 110.2h1.1v1.1h-1.1zM62.9 130.7h1.1v1.1h-1.1zM75.6 113.1h1.1v1.1h-1.1zM79.4 117.1h1.1v1.1h-1.1zM85.2 111.8h1.1v1.1h-1.1zM86.3 111.4h1.1v1.1h-1.1zM102.2 99.0h1.1v1.1h-1.1zM109.5 90.8h1.1v1.1h-1.1zM69.3 124.6h1.1v1.1h-1.1zM79.3 117.5h1.1v1.1h-1.1zM95.8 100.7h1.1v1.1h-1.1zM64.4 129.3h1.1v1.1h-1.1zM70.2 126.1h1.1v1.1h-1.1zM76.1 110.6h1.1v1.1h-1.1zM112.3 86.1h1.1v1.1h-1.1z" fill="#d82c1c" fill-opacity="0.55"/>
<path d="M55.4 131.1h1.1v1.1h-1.1zM60.9 123.6h1.1v1.1h-1.1zM82.5 112.8h1.1v1.1h-1.1zM89.1 110.3h1.1v1.1h-1.1zM73.2 123.4h1.1v1.1h-1.1zM88.3 105.9h1.1v1.1h-1.1zM65.2 128.3h1.1v1.1h-1.1zM80.6 113.9h1.1v1.1h-1.1zM69.9 121.6h1.1v1.1h-1.1zM77.7 118.2h1.1v1.1h-1.1zM74.8 120.2h1.1v1.1h-1.1zM71.6 124.2h1.1v1.1h-1.1zM70.2 118.8h1.1v1.1h-1.1zM77.6 117.3h1.1v1.1h-1.1zM111.8 87.6h1.1v1.1h-1.1zM88.3 105.0h1.1v1.1h-1.1zM77.6 115.8h1.1v1.1h-1.1zM84.2 113.9h1.1v1.1h-1.1zM62.5 126.8h1.1v1.1h-1.1zM82.0 106.4h1.1v1.1h-1.1zM86.4 112.7h1.1v1.1h-1.1zM74.4 117.5h1.1v1.1h-1.1zM104.0 97.8h1.1v1.1h-1.1zM83.1 106.0h1.1v1.1h-1.1zM75.5 115.7h1.1v1.1h-1.1zM97.7 100.7h1.1v1.1h-1.1zM99.4 100.9h1.1v1.1h-1.1zM77.7 119.4h1.1v1.1h-1.1zM82.4 115.0h1.1v1.1h-1.1zM62.9 125.8h1.1v1.1h-1.1zM91.7 107.5h1.1v1.1h-1.1zM62.7 125.6h1.1v1.1h-1.1zM59.1 130.3h1.1v1.1h-1.1zM69.8 126.6h1.1v1.1h-1.1zM78.5 109.6h1.1v1.1h-1.1zM82.8 112.2h1.1v1.1h-1.1zM87.9 106.5h1.1v1.1h-1.1zM66.7 121.6h1.1v1.1h-1.1zM67.9 122.7h1.1v1.1h-1.1zM66.2 122.1h1.1v1.1h-1.1zM108.6 91.3h1.1v1.1h-1.1zM70.5 125.3h1.1v1.1h-1.1zM61.0 126.0h1.1v1.1h-1.1zM80.7 113.4h1.1v1.1h-1.1zM93.9 106.6h1.1v1.1h-1.1zM63.2 129.0h1.1v1.1h-1.1zM76.3 119.7h1.1v1.1h-1.1zM67.6 119.7h1.1v1.1h-1.1zM83.9 107.0h1.1v1.1h-1.1zM67.0 123.5h1.1v1.1h-1.1zM76.4 114.8h1.1v1.1h-1.1zM66.0 126.6h1.1v1.1h-1.1zM65.4 129.2h1.1v1.1h-1.1zM79.8 112.2h1.1v1.1h-1.1zM63.8 123.9h1.1v1.1h-1.1zM77.0 117.4h1.1v1.1h-1.1zM74.7 116.5h1.1v1.1h-1.1zM71.9 121.9h1.1v1.1h-1.1zM99.5 98.7h1.1v1.1h-1.1zM64.1 128.9h1.1v1.1h-1.1zM92.2 106.8h1.1v1.1h-1.1zM69.4 118.3h1.1v1.1h-1.1zM71.6 120.0h1.1v1.1h-1.1zM74.8 121.3h1.1v1.1h-1.1zM83.9 111.1h1.1v1.1h-1.1zM85.1 111.0h1.1v1.1h-1.1zM81.8 113.9h1.1v1.1h-1.1zM91.4 107.1h1.1v1.1h-1.1zM63.3 129.8h1.1v1.1h-1.1zM60.2 126.8h1.1v1.1h-1.1zM58.9 131.0h1.1v1.1h-1.1zM73.4 114.0h1.1v1.1h-1.1zM103.0 93.2h1.1v1.1h-1.1zM62.6 128.8h1.1v1.1h-1.1zM76.3 119.2h1.1v1.1h-1.1zM64.7 124.6h1.1v1.1h-1.1zM78.5 107.0h1.1v1.1h-1.1zM71.5 112.2h1.1v1.1h-1.1zM75.7 120.8h1.1v1.1h-1.1zM64.3 127.1h1.1v1.1h-1.1zM85.3 110.7h1.1v1.1h-1.1zM74.9 117.2h1.1v1.1h-1.1zM57.8 121.1h1.1v1.1h-1.1zM105.1 94.6h1.1v1.1h-1.1zM86.6 103.6h1.1v1.1h-1.1zM82.2 116.3h1.1v1.1h-1.1zM118.8 84.6h1.1v1.1h-1.1zM83.8 107.2h1.1v1.1h-1.1zM74.1 120.0h1.1v1.1h-1.1zM62.9 127.3h1.1v1.1h-1.1zM76.3 116.2h1.1v1.1h-1.1zM91.0 105.4h1.1v1.1h-1.1zM71.0 122.1h1.1v1.1h-1.1zM73.2 107.9h1.1v1.1h-1.1zM81.2 111.5h1.1v1.1h-1.1zM92.9 106.1h1.1v1.1h-1.1zM104.7 91.3h1.1v1.1h-1.1zM59.4 127.5h1.1v1.1h-1.1zM60.2 128.6h1.1v1.1h-1.1zM56.5 131.6h1.1v1.1h-1.1zM81.3 116.5h1.1v1.1h-1.1zM80.3 111.3h1.1v1.1h-1.1zM70.0 123.5h1.1v1.1h-1.1zM63.5 121.0h1.1v1.1h-1.1zM93.1 100.8h1.1v1.1h-1.1zM75.8 117.6h1.1v1.1h-1.1zM99.4 97.5h1.1v1.1h-1.1zM72.7 121.4h1.1v1.1h-1.1zM67.6 120.7h1.1v1.1h-1.1zM67.2 127.0h1.1v1.1h-1.1zM83.1 115.4h1.1v1.1h-1.1zM89.8 105.8h1.1v1.1h-1.1zM79.8 116.2h1.1v1.1h-1.1zM81.7 107.9h1.1v1.1h-1.1zM86.1 107.9h1.1v1.1h-1.1zM90.4 108.5h1.1v1.1h-1.1zM86.3 112.3h1.1v1.1h-1.1zM87.1 108.6h1.1v1.1h-1.1zM98.5 102.4h1.1v1.1h-1.1zM88.8 103.4h1.1v1.1h-1.1zM60.9 127.5h1.1v1.1h-1.1zM105.3 95.9h1.1v1.1h-1.1zM74.2 121.1h1.1v1.1h-1.1zM67.3 127.5h1.1v1.1h-1.1zM99.6 96.0h1.1v1.1h-1.1zM88.3 105.0h1.1v1.1h-1.1zM82.0 115.1h1.1v1.1h-1.1zM87.1 112.4h1.1v1.1h-1.1zM69.1 124.2h1.1v1.1h-1.1zM86.0 112.2h1.1v1.1h-1.1zM87.3 112.4h1.1v1.1h-1.1zM108.0 90.3h1.1v1.1h-1.1zM80.8 110.7h1.1v1.1h-1.1zM60.4 131.7h1.1v1.1h-1.1zM84.8 113.4h1.1v1.1h-1.1zM67.0 128.5h1.1v1.1h-1.1zM74.3 119.1h1.1v1.1h-1.1zM95.3 100.6h1.1v1.1h-1.1zM100.3 98.6h1.1v1.1h-1.1zM61.5 127.8h1.1v1.1h-1.1zM72.0 121.9h1.1v1.1h-1.1zM89.3 104.0h1.1v1.1h-1.1zM58.0 123.5h1.1v1.1h-1.1zM77.5 117.0h1.1v1.1h-1.1zM63.3 122.5h1.1v1.1h-1.1zM79.2 118.5h1.1v1.1h-1.1zM91.5 108.4h1.1v1.1h-1.1zM59.7 133.0h1.1v1.1h-1.1zM84.7 109.9h1.1v1.1h-1.1zM104.0 98.3h1.1v1.1h-1.1zM136.1 60.9h1.1v1.1h-1.1zM86.9 107.8h1.1v1.1h-1.1zM88.3 109.4h1.1v1.1h-1.1zM89.6 99.6h1.1v1.1h-1.1zM86.1 111.7h1.1v1.1h-1.1zM89.9 109.4h1.1v1.1h-1.1zM98.8 96.6h1.1v1.1h-1.1zM86.6 109.6h1.1v1.1h-1.1zM83.1 113.8h1.1v1.1h-1.1zM92.2 107.9h1.1v1.1h-1.1zM73.7 121.2h1.1v1.1h-1.1zM80.6 113.4h1.1v1.1h-1.1zM75.0 119.7h1.1v1.1h-1.1zM109.4 92.9h1.1v1.1h-1.1zM81.9 116.4h1.1v1.1h-1.1zM90.6 105.3h1.1v1.1h-1.1zM66.8 128.0h1.1v1.1h-1.1zM76.5 116.7h1.1v1.1h-1.1zM95.5 102.8h1.1v1.1h-1.1zM92.0 104.7h1.1v1.1h-1.1zM89.9 110.3h1.1v1.1h-1.1zM82.9 113.4h1.1v1.1h-1.1zM86.1 111.1h1.1v1.1h-1.1zM96.9 96.1h1.1v1.1h-1.1zM61.0 119.8h1.1v1.1h-1.1zM96.2 97.9h1.1v1.1h-1.1zM76.4 119.0h1.1v1.1h-1.1zM65.4 121.4h1.1v1.1h-1.1zM85.0 110.3h1.1v1.1h-1.1zM60.7 131.6h1.1v1.1h-1.1zM77.4 115.5h1.1v1.1h-1.1zM77.3 112.1h1.1v1.1h-1.1zM73.7 122.6h1.1v1.1h-1.1zM70.2 123.8h1.1v1.1h-1.1zM82.5 109.5h1.1v1.1h-1.1zM67.0 124.2h1.1v1.1h-1.1zM64.0 126.3h1.1v1.1h-1.1zM73.4 117.0h1.1v1.1h-1.1zM95.5 103.2h1.1v1.1h-1.1zM75.5 113.3h1.1v1.1h-1.1zM77.2 118.3h1.1v1.1h-1.1zM111.4 86.7h1.1v1.1h-1.1zM88.3 111.2h1.1v1.1h-1.1zM90.7 104.1h1.1v1.1h-1.1zM136.7 56.5h1.1v1.1h-1.1zM67.9 122.6h1.1v1.1h-1.1zM74.4 120.7h1.1v1.1h-1.1zM99.9 101.2h1.1v1.1h-1.1zM81.9 114.6h1.1v1.1h-1.1zM106.0 95.0h1.1v1.1h-1.1zM75.6 114.7h1.1v1.1h-1.1zM85.5 110.4h1.1v1.1h-1.1zM57.5 127.7h1.1v1.1h-1.1zM78.3 116.0h1.1v1.1h-1.1zM88.5 109.9h1.1v1.1h-1.1zM71.7 120.4h1.1v1.1h-1.1zM87.7 104.4h1.1v1.1h-1.1zM102.2 98.7h1.1v1.1h-1.1zM58.6 123.4h1.1v1.1h-1.1zM88.0 111.7h1.1v1.1h-1.1zM91.5 104.1h1.1v1.1h-1.1zM110.7 89.6h1.1v1.1h-1.1zM84.4 112.8h1.1v1.1h-1.1zM91.0 105.6h1.1v1.1h-1.1zM86.4 109.2h1.1v1.1h-1.1zM124.5 77.3h1.1v1.1h-1.1zM86.5 107.3h1.1v1.1h-1.1zM73.0 116.0h1.1v1.1h-1.1zM71.5 120.9h1.1v1.1h-1.1zM77.6 118.7h1.1v1.1h-1.1zM61.8 131.8h1.1v1.1h-1.1zM89.9 95.2h1.1v1.1h-1.1zM79.0 115.2h1.1v1.1h-1.1zM78.6 107.6h1.1v1.1h-1.1zM112.1 90.4h1.1v1.1h-1.1zM83.7 110.9h1.1v1.1h-1.1zM101.9 98.3h1.1v1.1h-1.1zM97.1 102.5h1.1v1.1h-1.1zM114.1 83.8h1.1v1.1h-1.1zM61.5 127.1h1.1v1.1h-1.1zM75.8 116.1h1.1v1.1h-1.1zM91.1 103.6h1.1v1.1h-1.1zM77.7 115.7h1.1v1.1h-1.1zM75.3 121.3h1.1v1.1h-1.1zM64.5 125.7h1.1v1.1h-1.1zM102.9 99.1h1.1v1.1h-1.1zM87.8 107.2h1.1v1.1h-1.1zM81.5 116.2h1.1v1.1h-1.1zM90.1 104.4h1.1v1.1h-1.1zM91.1 108.6h1.1v1.1h-1.1zM87.0 108.1h1.1v1.1h-1.1zM66.6 118.8h1.1v1.1h-1.1zM85.1 109.9h1.1v1.1h-1.1zM70.5 119.4h1.1v1.1h-1.1zM85.4 103.3h1.1v1.1h-1.1zM61.8 123.2h1.1v1.1h-1.1zM110.4 87.9h1.1v1.1h-1.1zM62.4 128.9h1.1v1.1h-1.1zM94.4 103.9h1.1v1.1h-1.1zM95.6 101.0h1.1v1.1h-1.1zM75.4 119.1h1.1v1.1h-1.1zM69.7 126.4h1.1v1.1h-1.1zM61.5 130.2h1.1v1.1h-1.1zM86.6 111.3h1.1v1.1h-1.1zM95.8 103.0h1.1v1.1h-1.1zM62.9 122.1h1.1v1.1h-1.1zM79.2 113.8h1.1v1.1h-1.1zM109.2 90.5h1.1v1.1h-1.1zM64.3 130.4h1.1v1.1h-1.1zM92.7 105.4h1.1v1.1h-1.1zM82.0 107.7h1.1v1.1h-1.1zM75.8 117.4h1.1v1.1h-1.1zM92.6 101.2h1.1v1.1h-1.1zM66.5 110.2h1.1v1.1h-1.1zM66.5 127.4h1.1v1.1h-1.1zM82.3 112.5h1.1v1.1h-1.1zM77.2 116.5h1.1v1.1h-1.1zM91.0 109.1h1.1v1.1h-1.1zM99.5 97.2h1.1v1.1h-1.1zM72.7 121.4h1.1v1.1h-1.1zM97.7 100.5h1.1v1.1h-1.1zM69.4 112.8h1.1v1.1h-1.1zM67.9 126.6h1.1v1.1h-1.1zM95.8 98.1h1.1v1.1h-1.1zM67.3 119.4h1.1v1.1h-1.1zM67.9 125.2h1.1v1.1h-1.1zM80.8 115.8h1.1v1.1h-1.1zM67.7 123.2h1.1v1.1h-1.1zM84.1 114.8h1.1v1.1h-1.1zM63.3 130.0h1.1v1.1h-1.1zM63.5 125.0h1.1v1.1h-1.1zM90.5 105.6h1.1v1.1h-1.1zM66.0 115.5h1.1v1.1h-1.1zM71.2 119.9h1.1v1.1h-1.1zM69.4 126.6h1.1v1.1h-1.1zM95.8 102.7h1.1v1.1h-1.1zM74.2 116.4h1.1v1.1h-1.1zM72.4 112.9h1.1v1.1h-1.1zM60.4 128.7h1.1v1.1h-1.1zM87.3 111.8h1.1v1.1h-1.1zM67.9 123.3h1.1v1.1h-1.1zM71.3 113.7h1.1v1.1h-1.1zM85.9 110.0h1.1v1.1h-1.1zM87.1 107.6h1.1v1.1h-1.1zM66.3 127.4h1.1v1.1h-1.1zM83.9 114.0h1.1v1.1h-1.1zM93.2 101.9h1.1v1.1h-1.1zM69.8 121.4h1.1v1.1h-1.1zM92.8 101.7h1.1v1.1h-1.1zM65.0 125.0h1.1v1.1h-1.1zM101.8 95.1h1.1v1.1h-1.1zM58.9 131.0h1.1v1.1h-1.1zM98.8 95.2h1.1v1.1h-1.1zM78.4 118.8h1.1v1.1h-1.1zM68.3 119.0h1.1v1.1h-1.1zM81.8 111.2h1.1v1.1h-1.1zM80.6 117.2h1.1v1.1h-1.1zM63.8 127.8h1.1v1.1h-1.1zM60.4 131.6h1.1v1.1h-1.1zM94.6 105.4h1.1v1.1h-1.1zM65.4 129.4h1.1v1.1h-1.1zM85.3 108.6h1.1v1.1h-1.1zM76.1 118.8h1.1v1.1h-1.1zM106.5 94.6h1.1v1.1h-1.1zM78.5 112.9h1.1v1.1h-1.1zM92.5 103.3h1.1v1.1h-1.1zM76.6 120.2h1.1v1.1h-1.1zM72.9 121.8h1.1v1.1h-1.1zM109.1 89.8h1.1v1.1h-1.1zM83.9 111.7h1.1v1.1h-1.1zM71.2 125.5h1.1v1.1h-1.1zM67.1 124.0h1.1v1.1h-1.1zM64.1 122.7h1.1v1.1h-1.1zM81.5 114.7h1.1v1.1h-1.1zM57.4 125.5h1.1v1.1h-1.1zM70.2 114.5h1.1v1.1h-1.1zM72.2 119.9h1.1v1.1h-1.1zM86.4 111.6h1.1v1.1h-1.1zM62.2 130.5h1.1v1.1h-1.1zM89.7 105.7h1.1v1.1h-1.1zM75.0 121.6h1.1v1.1h-1.1zM73.3 121.2h1.1v1.1h-1.1zM63.3 108.9h1.1v1.1h-1.1zM113.2 90.8h1.1v1.1h-1.1zM86.4 104.0h1.1v1.1h-1.1zM91.1 105.9h1.1v1.1h-1.1zM61.7 127.5h1.1v1.1h-1.1zM68.6 125.7h1.1v1.1h-1.1zM78.0 115.1h1.1v1.1h-1.1zM69.0 126.3h1.1v1.1h-1.1zM87.9 110.9h1.1v1.1h-1.1zM77.5 119.8h1.1v1.1h-1.1zM74.2 116.4h1.1v1.1h-1.1zM74.2 122.4h1.1v1.1h-1.1zM95.3 104.4h1.1v1.1h-1.1zM64.6 129.4h1.1v1.1h-1.1zM74.1 121.9h1.1v1.1h-1.1zM142.3 55.8h1.1v1.1h-1.1zM74.1 120.6h1.1v1.1h-1.1zM99.0 100.0h1.1v1.1h-1.1zM85.6 104.8h1.1v1.1h-1.1zM116.9 83.1h1.1v1.1h-1.1zM72.5 120.6h1.1v1.1h-1.1zM113.6 85.9h1.1v1.1h-1.1zM94.0 99.9h1.1v1.1h-1.1zM88.9 105.6h1.1v1.1h-1.1zM75.6 111.9h1.1v1.1h-1.1zM78.5 112.3h1.1v1.1h-1.1zM60.0 127.6h1.1v1.1h-1.1zM85.8 108.0h1.1v1.1h-1.1zM76.3 117.9h1.1v1.1h-1.1zM55.9 134.0h1.1v1.1h-1.1zM64.4 125.7h1.1v1.1h-1.1zM81.4 108.4h1.1v1.1h-1.1zM69.2 123.5h1.1v1.1h-1.1zM87.5 107.3h1.1v1.1h-1.1zM107.7 88.8h1.1v1.1h-1.1zM93.0 104.5h1.1v1.1h-1.1zM69.5 125.7h1.1v1.1h-1.1zM113.8 85.6h1.1v1.1h-1.1zM74.1 118.5h1.1v1.1h-1.1zM90.5 105.7h1.1v1.1h-1.1zM65.2 127.2h1.1v1.1h-1.1zM59.6 128.9h1.1v1.1h-1.1zM80.5 116.7h1.1v1.1h-1.1zM66.1 122.9h1.1v1.1h-1.1zM62.8 126.2h1.1v1.1h-1.1zM71.1 121.7h1.1v1.1h-1.1zM87.7 110.4h1.1v1.1h-1.1zM68.2 124.3h1.1v1.1h-1.1zM88.2 101.4h1.1v1.1h-1.1zM68.2 119.7h1.1v1.1h-1.1zM63.5 119.9h1.1v1.1h-1.1zM139.0 55.3h1.1v1.1h-1.1zM75.2 121.1h1.1v1.1h-1.1zM83.0 106.1h1.1v1.1h-1.1zM73.9 116.2h1.1v1.1h-1.1zM95.0 103.3h1.1v1.1h-1.1zM71.5 118.1h1.1v1.1h-1.1zM116.4 83.5h1.1v1.1h-1.1zM87.9 109.6h1.1v1.1h-1.1zM103.8 94.3h1.1v1.1h-1.1zM67.3 127.7h1.1v1.1h-1.1zM79.4 116.5h1.1v1.1h-1.1zM95.5 100.4h1.1v1.1h-1.1zM73.0 121.8h1.1v1.1h-1.1zM92.0 105.0h1.1v1.1h-1.1zM67.4 121.8h1.1v1.1h-1.1zM101.9 97.9h1.1v1.1h-1.1zM66.9 119.5h1.1v1.1h-1.1zM97.0 102.8h1.1v1.1h-1.1zM80.0 109.7h1.1v1.1h-1.1zM87.1 110.8h1.1v1.1h-1.1zM83.9 110.7h1.1v1.1h-1.1zM74.2 119.5h1.1v1.1h-1.1zM77.9 115.4h1.1v1.1h-1.1zM89.2 108.3h1.1v1.1h-1.1zM72.3 122.8h1.1v1.1h-1.1zM85.9 112.5h1.1v1.1h-1.1zM63.7 128.3h1.1v1.1h-1.1zM108.9 91.0h1.1v1.1h-1.1zM63.2 128.0h1.1v1.1h-1.1zM69.3 123.7h1.1v1.1h-1.1zM79.1 115.8h1.1v1.1h-1.1zM89.8 110.4h1.1v1.1h-1.1zM85.7 112.6h1.1v1.1h-1.1zM78.6 114.4h1.1v1.1h-1.1zM64.7 129.8h1.1v1.1h-1.1zM74.4 116.4h1.1v1.1h-1.1zM73.6 118.7h1.1v1.1h-1.1zM79.4 115.9h1.1v1.1h-1.1zM74.5 111.9h1.1v1.1h-1.1zM102.4 97.4h1.1v1.1h-1.1zM70.9 125.1h1.1v1.1h-1.1zM85.7 112.9h1.1v1.1h-1.1zM106.3 94.7h1.1v1.1h-1.1zM60.2 124.8h1.1v1.1h-1.1zM87.3 110.9h1.1v1.1h-1.1zM72.4 114.7h1.1v1.1h-1.1zM82.7 111.6h1.1v1.1h-1.1zM62.5 127.4h1.1v1.1h-1.1zM87.3 109.4h1.1v1.1h-1.1zM65.0 129.3h1.1v1.1h-1.1zM92.7 103.9h1.1v1.1h-1.1zM105.0 96.3h1.1v1.1h-1.1zM78.9 116.7h1.1v1.1h-1.1zM69.4 125.3h1.1v1.1h-1.1zM61.9 129.7h1.1v1.1h-1.1zM90.5 106.8h1.1v1.1h-1.1zM66.0 119.3h1.1v1.1h-1.1zM58.8 118.1h1.1v1.1h-1.1zM67.3 124.3h1.1v1.1h-1.1zM107.1 90.8h1.1v1.1h-1.1zM66.6 124.3h1.1v1.1h-1.1zM93.0 106.3h1.1v1.1h-1.1zM82.8 114.5h1.1v1.1h-1.1zM81.1 111.3h1.1v1.1h-1.1zM98.1 102.2h1.1v1.1h-1.1zM67.2 123.0h1.1v1.1h-1.1zM77.5 114.9h1.1v1.1h-1.1zM71.6 120.3h1.1v1.1h-1.1zM93.2 101.2h1.1v1.1h-1.1zM77.8 117.3h1.1v1.1h-1.1zM71.8 124.3h1.1v1.1h-1.1zM89.2 103.5h1.1v1.1h-1.1zM66.8 123.6h1.1v1.1h-1.1zM85.4 110.5h1.1v1.1h-1.1zM89.5 109.1h1.1v1.1h-1.1zM82.5 111.9h1.1v1.1h-1.1zM79.6 116.2h1.1v1.1h-1.1zM97.4 99.0h1.1v1.1h-1.1zM62.7 129.5h1.1v1.1h-1.1zM95.5 100.2h1.1v1.1h-1.1zM64.1 117.1h1.1v1.1h-1.1zM101.4 100.1h1.1v1.1h-1.1zM73.7 120.7h1.1v1.1h-1.1zM92.3 105.8h1.1v1.1h-1.1zM73.6 122.7h1.1v1.1h-1.1zM78.2 118.0h1.1v1.1h-1.1zM108.4 92.8h1.1v1.1h-1.1zM62.4 128.0h1.1v1.1h-1.1zM79.9 109.3h1.1v1.1h-1.1zM89.6 104.7h1.1v1.1h-1.1zM86.1 111.4h1.1v1.1h-1.1zM96.0 92.6h1.1v1.1h-1.1zM94.8 106.1h1.1v1.1h-1.1zM92.4 103.0h1.1v1.1h-1.1zM83.4 114.4h1.1v1.1h-1.1zM90.1 107.2h1.1v1.1h-1.1zM85.0 110.1h1.1v1.1h-1.1zM87.0 101.9h1.1v1.1h-1.1zM71.5 122.9h1.1v1.1h-1.1zM79.2 117.0h1.1v1.1h-1.1zM60.2 129.7h1.1v1.1h-1.1zM72.0 121.9h1.1v1.1h-1.1zM63.0 129.8h1.1v1.1h-1.1zM64.8 122.3h1.1v1.1h-1.1zM100.5 97.6h1.1v1.1h-1.1zM69.9 125.6h1.1v1.1h-1.1zM63.5 126.6h1.1v1.1h-1.1zM74.4 121.3h1.1v1.1h-1.1zM68.1 128.2h1.1v1.1h-1.1zM78.5 118.1h1.1v1.1h-1.1zM72.0 118.9h1.1v1.1h-1.1zM77.8 112.8h1.1v1.1h-1.1zM89.8 106.7h1.1v1.1h-1.1zM75.2 121.1h1.1v1.1h-1.1zM82.6 112.8h1.1v1.1h-1.1zM63.0 121.7h1.1v1.1h-1.1zM60.4 122.1h1.1v1.1h-1.1zM69.1 124.5h1.1v1.1h-1.1zM96.3 104.5h1.1v1.1h-1.1zM71.3 122.2h1.1v1.1h-1.1zM90.6 108.1h1.1v1.1h-1.1zM69.1 125.9h1.1v1.1h-1.1zM99.7 99.3h1.1v1.1h-1.1zM92.7 106.2h1.1v1.1h-1.1zM70.3 112.9h1.1v1.1h-1.1zM68.7 114.7h1.1v1.1h-1.1zM92.6 106.2h1.1v1.1h-1.1zM70.1 122.5h1.1v1.1h-1.1zM83.8 112.5h1.1v1.1h-1.1zM61.7 121.2h1.1v1.1h-1.1zM101.5 98.8h1.1v1.1h-1.1zM86.7 112.4h1.1v1.1h-1.1zM65.4 129.8h1.1v1.1h-1.1zM66.2 126.6h1.1v1.1h-1.1zM67.6 115.8h1.1v1.1h-1.1zM76.6 116.5h1.1v1.1h-1.1zM63.8 129.8h1.1v1.1h-1.1zM98.0 100.7h1.1v1.1h-1.1zM79.5 116.3h1.1v1.1h-1.1zM62.6 127.6h1.1v1.1h-1.1zM62.2 130.4h1.1v1.1h-1.1zM75.9 117.6h1.1v1.1h-1.1zM80.3 115.9h1.1v1.1h-1.1zM64.3 127.1h1.1v1.1h-1.1zM106.2 94.4h1.1v1.1h-1.1zM101.5 99.7h1.1v1.1h-1.1zM83.7 107.7h1.1v1.1h-1.1zM96.2 99.5h1.1v1.1h-1.1zM77.0 117.8h1.1v1.1h-1.1zM68.0 127.0h1.1v1.1h-1.1zM62.1 130.4h1.1v1.1h-1.1zM59.6 130.7h1.1v1.1h-1.1zM63.2 130.6h1.1v1.1h-1.1zM67.7 128.2h1.1v1.1h-1.1zM104.0 96.1h1.1v1.1h-1.1zM73.4 117.2h1.1v1.1h-1.1zM88.2 109.3h1.1v1.1h-1.1zM69.8 124.7h1.1v1.1h-1.1zM74.3 117.4h1.1v1.1h-1.1zM90.5 101.8h1.1v1.1h-1.1zM82.0 115.6h1.1v1.1h-1.1zM79.1 111.0h1.1v1.1h-1.1zM97.9 102.2h1.1v1.1h-1.1zM82.6 107.4h1.1v1.1h-1.1zM86.4 110.9h1.1v1.1h-1.1zM60.6 132.2h1.1v1.1h-1.1zM76.9 118.3h1.1v1.1h-1.1zM93.5 104.2h1.1v1.1h-1.1zM66.6 119.9h1.1v1.1h-1.1zM78.8 111.1h1.1v1.1h-1.1zM87.4 108.5h1.1v1.1h-1.1zM92.3 105.7h1.1v1.1h-1.1zM66.0 129.5h1.1v1.1h-1.1zM84.9 109.6h1.1v1.1h-1.1zM91.2 104.6h1.1v1.1h-1.1zM62.6 127.8h1.1v1.1h-1.1zM75.2 121.9h1.1v1.1h-1.1zM90.5 106.0h1.1v1.1h-1.1zM91.4 109.0h1.1v1.1h-1.1zM81.0 109.8h1.1v1.1h-1.1zM68.5 125.4h1.1v1.1h-1.1zM64.2 127.8h1.1v1.1h-1.1zM69.5 125.5h1.1v1.1h-1.1zM97.6 95.2h1.1v1.1h-1.1zM108.0 89.4h1.1v1.1h-1.1zM104.8 97.0h1.1v1.1h-1.1zM80.8 112.6h1.1v1.1h-1.1zM62.2 130.8h1.1v1.1h-1.1z" fill="#d82c1c" fill-opacity="0.55"/>
<path d="M107.2 94.6h1.1v1.1h-1.1zM115.4 94.3h1.1v1.1h-1.1zM105.0 96.3h1.1v1.1h-1.1zM113.3 92.2h1.1v1.1h-1.1zM100.5 100.3h1.1v1.1h-1.1zM77.2 132.0h1.1v1.1h-1.1zM84.2 124.9h1.1v1.1h-1.1zM83.7 114.8h1.1v1.1h-1.1zM73.2 134.1h1.1v1.1h-1.1zM75.1 121.5h1.1v1.1h-1.1zM93.2 115.9h1.1v1.1h-1.1zM104.3 106.5h1.1v1.1h-1.1zM98.8 110.7h1.1v1.1h-1.1zM109.3 98.4h1.1v1.1h-1.1zM107.9 98.9h1.1v1.1h-1.1zM126.4 82.7h1.1v1.1h-1.1zM120.7 86.5h1.1v1.1h-1.1zM105.1 96.9h1.1v1.1h-1.1zM65.4 138.2h1.1v1.1h-1.1zM89.8 109.1h1.1v1.1h-1.1zM112.1 91.6h1.1v1.1h-1.1zM101.2 100.4h1.1v1.1h-1.1zM69.7 136.6h1.1v1.1h-1.1zM110.0 96.9h1.1v1.1h-1.1zM93.0 116.3h1.1v1.1h-1.1zM113.6 93.1h1.1v1.1h-1.1zM118.2 88.6h1.1v1.1h-1.1zM117.9 89.2h1.1v1.1h-1.1zM119.2 90.1h1.1v1.1h-1.1zM87.3 111.8h1.1v1.1h-1.1zM118.0 91.1h1.1v1.1h-1.1zM101.5 105.3h1.1v1.1h-1.1zM109.9 98.3h1.1v1.1h-1.1zM91.0 109.0h1.1v1.1h-1.1zM71.2 125.8h1.1v1.1h-1.1zM113.0 90.7h1.1v1.1h-1.1zM72.5 133.4h1.1v1.1h-1.1zM109.3 98.9h1.1v1.1h-1.1zM111.8 91.1h1.1v1.1h-1.1zM96.5 112.6h1.1v1.1h-1.1zM71.2 124.0h1.1v1.1h-1.1zM120.7 87.6h1.1v1.1h-1.1zM117.1 92.0h1.1v1.1h-1.1zM69.2 126.0h1.1v1.1h-1.1zM85.1 123.7h1.1v1.1h-1.1zM122.5 84.2h1.1v1.1h-1.1zM103.7 102.2h1.1v1.1h-1.1zM107.8 96.5h1.1v1.1h-1.1zM113.0 95.4h1.1v1.1h-1.1zM88.6 121.6h1.1v1.1h-1.1zM116.3 91.2h1.1v1.1h-1.1zM112.7 91.5h1.1v1.1h-1.1zM123.4 82.2h1.1v1.1h-1.1zM121.6 84.2h1.1v1.1h-1.1zM112.5 95.5h1.1v1.1h-1.1zM122.4 85.6h1.1v1.1h-1.1zM64.8 138.4h1.1v1.1h-1.1zM111.3 94.8h1.1v1.1h-1.1zM114.0 91.9h1.1v1.1h-1.1zM110.8 93.6h1.1v1.1h-1.1zM122.5 82.3h1.1v1.1h-1.1zM69.6 125.9h1.1v1.1h-1.1zM101.0 105.1h1.1v1.1h-1.1zM94.3 114.6h1.1v1.1h-1.1zM115.9 94.8h1.1v1.1h-1.1zM116.5 91.3h1.1v1.1h-1.1zM77.8 130.5h1.1v1.1h-1.1zM92.2 107.0h1.1v1.1h-1.1zM116.9 88.8h1.1v1.1h-1.1zM76.9 132.0h1.1v1.1h-1.1zM114.5 89.9h1.1v1.1h-1.1zM77.5 118.5h1.1v1.1h-1.1zM93.9 115.3h1.1v1.1h-1.1zM113.5 93.0h1.1v1.1h-1.1zM89.8 109.6h1.1v1.1h-1.1zM122.7 82.0h1.1v1.1h-1.1zM113.1 97.1h1.1v1.1h-1.1zM120.4 86.7h1.1v1.1h-1.1zM119.6 86.9h1.1v1.1h-1.1zM103.8 101.7h1.1v1.1h-1.1zM87.1 112.4h1.1v1.1h-1.1zM110.0 96.5h1.1v1.1h-1.1zM68.3 137.5h1.1v1.1h-1.1zM113.4 93.8h1.1v1.1h-1.1zM113.8 88.9h1.1v1.1h-1.1zM109.3 96.3h1.1v1.1h-1.1zM118.5 88.1h1.1v1.1h-1.1zM122.0 84.1h1.1v1.1h-1.1zM112.0 97.6h1.1v1.1h-1.1zM98.0 103.5h1.1v1.1h-1.1zM121.2 83.8h1.1v1.1h-1.1zM115.6 87.7h1.1v1.1h-1.1zM90.9 109.0h1.1v1.1h-1.1zM86.4 113.0h1.1v1.1h-1.1zM107.8 102.4h1.1v1.1h-1.1zM71.9 135.3h1.1v1.1h-1.1zM72.6 133.2h1.1v1.1h-1.1zM82.6 125.1h1.1v1.1h-1.1zM67.2 138.7h1.1v1.1h-1.1zM82.4 127.1h1.1v1.1h-1.1zM88.4 109.9h1.1v1.1h-1.1zM105.8 96.5h1.1v1.1h-1.1zM116.7 90.1h1.1v1.1h-1.1zM99.7 109.5h1.1v1.1h-1.1zM88.0 122.0h1.1v1.1h-1.1zM91.3 118.9h1.1v1.1h-1.1zM127.1 75.8h1.1v1.1h-1.1zM109.2 95.9h1.1v1.1h-1.1zM73.1 134.2h1.1v1.1h-1.1zM100.8 107.0h1.1v1.1h-1.1zM98.1 103.5h1.1v1.1h-1.1zM67.0 128.5h1.1v1.1h-1.1zM123.7 81.8h1.1v1.1h-1.1zM66.6 137.5h1.1v1.1h-1.1zM115.6 93.6h1.1v1.1h-1.1zM111.2 94.7h1.1v1.1h-1.1zM114.7 92.5h1.1v1.1h-1.1zM60.9 132.1h1.1v1.1h-1.1zM81.5 115.6h1.1v1.1h-1.1zM123.6 84.4h1.1v1.1h-1.1zM83.3 115.6h1.1v1.1h-1.1zM119.9 85.7h1.1v1.1h-1.1zM88.4 120.3h1.1v1.1h-1.1zM73.3 133.3h1.1v1.1h-1.1zM119.6 88.6h1.1v1.1h-1.1zM79.5 117.6h1.1v1.1h-1.1zM92.7 116.4h1.1v1.1h-1.1zM113.6 93.5h1.1v1.1h-1.1zM62.2 140.9h1.1v1.1h-1.1zM96.0 104.6h1.1v1.1h-1.1zM111.7 99.6h1.1v1.1h-1.1zM85.8 113.1h1.1v1.1h-1.1zM116.7 89.9h1.1v1.1h-1.1zM67.2 128.3h1.1v1.1h-1.1zM112.6 93.4h1.1v1.1h-1.1zM111.8 91.6h1.1v1.1h-1.1zM103.3 97.7h1.1v1.1h-1.1zM69.7 136.1h1.1v1.1h-1.1zM104.6 101.6h1.1v1.1h-1.1zM117.4 88.9h1.1v1.1h-1.1zM81.2 126.6h1.1v1.1h-1.1zM115.8 94.2h1.1v1.1h-1.1zM92.3 108.0h1.1v1.1h-1.1zM117.0 86.8h1.1v1.1h-1.1zM103.7 106.9h1.1v1.1h-1.1zM62.2 140.1h1.1v1.1h-1.1zM104.4 104.2h1.1v1.1h-1.1zM123.7 82.5h1.1v1.1h-1.1zM124.5 79.8h1.1v1.1h-1.1zM84.6 123.4h1.1v1.1h-1.1zM110.4 97.7h1.1v1.1h-1.1zM113.1 95.6h1.1v1.1h-1.1zM86.0 113.6h1.1v1.1h-1.1zM84.0 125.4h1.1v1.1h-1.1zM76.3 121.1h1.1v1.1h-1.1zM108.4 98.8h1.1v1.1h-1.1zM112.4 90.5h1.1v1.1h-1.1zM107.1 99.7h1.1v1.1h-1.1zM101.3 109.1h1.1v1.1h-1.1zM69.5 135.7h1.1v1.1h-1.1zM106.8 100.9h1.1v1.1h-1.1zM121.5 84.2h1.1v1.1h-1.1zM65.1 138.7h1.1v1.1h-1.1zM97.9 102.1h1.1v1.1h-1.1zM111.0 99.6h1.1v1.1h-1.1zM80.6 128.3h1.1v1.1h-1.1zM77.9 129.6h1.1v1.1h-1.1zM119.7 87.9h1.1v1.1h-1.1zM78.5 129.7h1.1v1.1h-1.1zM91.0 108.7h1.1v1.1h-1.1zM100.3 100.0h1.1v1.1h-1.1zM86.5 122.4h1.1v1.1h-1.1zM114.0 88.8h1.1v1.1h-1.1zM110.6 95.6h1.1v1.1h-1.1zM84.9 123.5h1.1v1.1h-1.1zM115.6 94.3h1.1v1.1h-1.1zM90.8 109.4h1.1v1.1h-1.1zM117.9 85.1h1.1v1.1h-1.1zM109.9 95.7h1.1v1.1h-1.1zM120.0 86.2h1.1v1.1h-1.1zM100.7 100.8h1.1v1.1h-1.1zM69.0 136.5h1.1v1.1h-1.1zM111.0 93.8h1.1v1.1h-1.1zM69.0 136.1h1.1v1.1h-1.1zM110.1 98.2h1.1v1.1h-1.1zM82.1 114.7h1.1v1.1h-1.1zM70.4 126.0h1.1v1.1h-1.1zM124.7 78.3h1.1v1.1h-1.1zM114.9 88.7h1.1v1.1h-1.1zM105.6 98.7h1.1v1.1h-1.1zM75.0 121.5h1.1v1.1h-1.1zM70.8 125.8h1.1v1.1h-1.1zM93.9 106.1h1.1v1.1h-1.1zM119.3 83.6h1.1v1.1h-1.1zM113.4 91.9h1.1v1.1h-1.1zM114.2 90.5h1.1v1.1h-1.1zM113.6 95.3h1.1v1.1h-1.1zM113.4 94.3h1.1v1.1h-1.1zM105.0 97.6h1.1v1.1h-1.1zM96.4 103.0h1.1v1.1h-1.1zM121.3 85.4h1.1v1.1h-1.1zM63.7 139.0h1.1v1.1h-1.1zM119.3 90.2h1.1v1.1h-1.1zM64.2 138.5h1.1v1.1h-1.1zM78.8 119.0h1.1v1.1h-1.1zM123.6 80.6h1.1v1.1h-1.1zM102.4 107.0h1.1v1.1h-1.1zM87.6 112.0h1.1v1.1h-1.1zM101.7 99.7h1.1v1.1h-1.1zM120.4 84.9h1.1v1.1h-1.1zM117.3 86.2h1.1v1.1h-1.1zM89.7 109.8h1.1v1.1h-1.1zM115.5 91.4h1.1v1.1h-1.1zM115.7 91.9h1.1v1.1h-1.1zM84.7 124.6h1.1v1.1h-1.1zM86.4 112.0h1.1v1.1h-1.1zM106.7 95.7h1.1v1.1h-1.1zM112.5 95.8h1.1v1.1h-1.1zM99.9 101.2h1.1v1.1h-1.1zM117.8 92.5h1.1v1.1h-1.1zM71.1 134.8h1.1v1.1h-1.1zM81.4 127.5h1.1v1.1h-1.1zM119.0 90.5h1.1v1.1h-1.1zM116.0 90.7h1.1v1.1h-1.1zM115.4 94.1h1.1v1.1h-1.1zM123.0 82.9h1.1v1.1h-1.1zM101.0 109.5h1.1v1.1h-1.1zM111.4 96.0h1.1v1.1h-1.1zM101.5 100.1h1.1v1.1h-1.1zM110.3 94.7h1.1v1.1h-1.1zM81.3 117.4h1.1v1.1h-1.1z" fill="#303030" fill-opacity="0.36"/>
<path d="M119.0 86.7h1.1v1.1h-1.1zM96.6 104.6h1.1v1.1h-1.1zM69.9 126.1h1.1v1.1h-1.1zM112.5 90.8h1.1v1.1h-1.1zM113.6 94.9h1.1v1.1h-1.1zM114.0 94.8h1.1v1.1h-1.1zM113.8 94.6h1.1v1.1h-1.1zM116.3 89.0h1.1v1.1h-1.1zM106.2 98.8h1.1v1.1h-1.1zM110.9 92.5h1.1v1.1h-1.1zM105.1 105.9h1.1v1.1h-1.1zM67.3 128.0h1.1v1.1h-1.1zM111.8 98.3h1.1v1.1h-1.1zM116.2 90.9h1.1v1.1h-1.1zM99.1 105.9h1.1v1.1h-1.1zM90.4 118.5h1.1v1.1h-1.1zM111.5 94.1h1.1v1.1h-1.1zM100.3 110.0h1.1v1.1h-1.1zM91.4 117.4h1.1v1.1h-1.1zM115.4 89.2h1.1v1.1h-1.1zM97.6 102.5h1.1v1.1h-1.1zM111.1 94.8h1.1v1.1h-1.1zM69.1 127.2h1.1v1.1h-1.1zM72.2 122.8h1.1v1.1h-1.1zM110.2 92.5h1.1v1.1h-1.1zM61.3 132.3h1.1v1.1h-1.1zM115.5 92.4h1.1v1.1h-1.1zM119.7 90.5h1.1v1.1h-1.1zM81.3 116.3h1.1v1.1h-1.1zM109.6 93.4h1.1v1.1h-1.1zM66.3 128.0h1.1v1.1h-1.1zM121.8 81.0h1.1v1.1h-1.1zM102.2 107.3h1.1v1.1h-1.1zM119.6 87.1h1.1v1.1h-1.1zM88.6 121.0h1.1v1.1h-1.1zM114.3 92.9h1.1v1.1h-1.1zM91.1 119.0h1.1v1.1h-1.1zM124.8 81.0h1.1v1.1h-1.1zM74.6 131.8h1.1v1.1h-1.1zM107.7 94.6h1.1v1.1h-1.1zM110.3 95.1h1.1v1.1h-1.1zM100.2 100.6h1.1v1.1h-1.1zM122.2 85.4h1.1v1.1h-1.1zM115.6 91.2h1.1v1.1h-1.1zM80.4 118.0h1.1v1.1h-1.1zM83.8 114.9h1.1v1.1h-1.1zM111.4 94.8h1.1v1.1h-1.1zM77.5 131.4h1.1v1.1h-1.1zM112.1 92.5h1.1v1.1h-1.1zM96.9 103.5h1.1v1.1h-1.1zM109.3 97.0h1.1v1.1h-1.1zM113.5 91.7h1.1v1.1h-1.1zM92.4 117.3h1.1v1.1h-1.1zM69.1 127.4h1.1v1.1h-1.1zM127.7 77.1h1.1v1.1h-1.1zM117.2 91.4h1.1v1.1h-1.1zM71.8 134.5h1.1v1.1h-1.1zM94.8 104.7h1.1v1.1h-1.1zM107.5 101.3h1.1v1.1h-1.1zM105.3 104.4h1.1v1.1h-1.1zM113.1 92.3h1.1v1.1h-1.1zM79.9 128.3h1.1v1.1h-1.1zM75.2 121.9h1.1v1.1h-1.1zM69.1 127.1h1.1v1.1h-1.1zM114.6 89.8h1.1v1.1h-1.1zM95.4 114.6h1.1v1.1h-1.1zM82.3 127.3h1.1v1.1h-1.1zM85.4 123.0h1.1v1.1h-1.1zM120.2 84.1h1.1v1.1h-1.1zM112.7 93.3h1.1v1.1h-1.1zM106.1 96.6h1.1v1.1h-1.1zM129.5 75.4h1.1v1.1h-1.1zM110.9 96.4h1.1v1.1h-1.1zM86.0 122.4h1.1v1.1h-1.1zM101.9 107.5h1.1v1.1h-1.1zM122.4 84.2h1.1v1.1h-1.1zM117.9 88.9h1.1v1.1h-1.1zM101.5 100.3h1.1v1.1h-1.1zM68.4 127.4h1.1v1.1h-1.1zM123.6 81.3h1.1v1.1h-1.1zM86.8 122.4h1.1v1.1h-1.1zM127.4 77.5h1.1v1.1h-1.1zM74.9 132.6h1.1v1.1h-1.1zM80.3 117.1h1.1v1.1h-1.1zM82.7 125.6h1.1v1.1h-1.1zM92.6 117.7h1.1v1.1h-1.1zM116.7 86.0h1.1v1.1h-1.1zM90.3 118.6h1.1v1.1h-1.1zM105.9 97.3h1.1v1.1h-1.1zM99.8 111.1h1.1v1.1h-1.1zM113.3 95.3h1.1v1.1h-1.1zM102.3 100.0h1.1v1.1h-1.1zM71.8 133.9h1.1v1.1h-1.1zM103.1 100.0h1.1v1.1h-1.1zM103.1 104.4h1.1v1.1h-1.1zM125.8 82.8h1.1v1.1h-1.1zM78.2 118.5h1.1v1.1h-1.1zM110.8 94.6h1.1v1.1h-1.1zM95.2 104.8h1.1v1.1h-1.1zM106.3 100.7h1.1v1.1h-1.1zM114.4 93.0h1.1v1.1h-1.1zM91.3 108.4h1.1v1.1h-1.1zM110.9 93.1h1.1v1.1h-1.1zM113.9 90.6h1.1v1.1h-1.1zM109.6 98.8h1.1v1.1h-1.1zM121.5 86.9h1.1v1.1h-1.1zM100.3 109.4h1.1v1.1h-1.1zM110.5 97.5h1.1v1.1h-1.1zM130.9 76.5h1.1v1.1h-1.1zM90.4 110.1h1.1v1.1h-1.1zM78.1 129.5h1.1v1.1h-1.1zM113.4 93.4h1.1v1.1h-1.1zM117.1 90.9h1.1v1.1h-1.1zM112.2 94.6h1.1v1.1h-1.1zM71.0 135.8h1.1v1.1h-1.1zM107.0 103.2h1.1v1.1h-1.1zM112.3 95.0h1.1v1.1h-1.1zM82.8 125.4h1.1v1.1h-1.1zM65.9 129.4h1.1v1.1h-1.1zM113.1 93.2h1.1v1.1h-1.1zM105.6 97.7h1.1v1.1h-1.1zM118.3 89.3h1.1v1.1h-1.1zM111.0 95.8h1.1v1.1h-1.1zM111.8 98.1h1.1v1.1h-1.1zM121.1 87.4h1.1v1.1h-1.1zM123.4 86.1h1.1v1.1h-1.1zM108.7 101.2h1.1v1.1h-1.1zM118.1 88.7h1.1v1.1h-1.1zM108.9 102.5h1.1v1.1h-1.1zM85.1 124.8h1.1v1.1h-1.1zM130.6 75.3h1.1v1.1h-1.1zM85.8 124.6h1.1v1.1h-1.1zM114.1 94.6h1.1v1.1h-1.1zM122.9 84.2h1.1v1.1h-1.1zM100.4 108.9h1.1v1.1h-1.1zM105.1 102.0h1.1v1.1h-1.1zM86.4 123.5h1.1v1.1h-1.1zM114.7 93.1h1.1v1.1h-1.1zM116.4 93.5h1.1v1.1h-1.1zM110.2 99.7h1.1v1.1h-1.1zM102.5 106.9h1.1v1.1h-1.1zM120.3 84.9h1.1v1.1h-1.1zM90.3 120.1h1.1v1.1h-1.1zM112.3 92.6h1.1v1.1h-1.1zM84.3 124.0h1.1v1.1h-1.1zM78.2 128.9h1.1v1.1h-1.1zM113.5 93.9h1.1v1.1h-1.1zM76.0 131.2h1.1v1.1h-1.1zM114.1 92.7h1.1v1.1h-1.1zM118.4 87.0h1.1v1.1h-1.1zM69.2 125.7h1.1v1.1h-1.1zM88.7 111.0h1.1v1.1h-1.1zM97.5 111.5h1.1v1.1h-1.1zM116.0 94.4h1.1v1.1h-1.1zM89.4 110.4h1.1v1.1h-1.1zM62.7 130.5h1.1v1.1h-1.1zM72.6 133.8h1.1v1.1h-1.1zM118.8 86.6h1.1v1.1h-1.1zM121.4 85.4h1.1v1.1h-1.1zM112.6 97.4h1.1v1.1h-1.1zM114.3 90.0h1.1v1.1h-1.1zM121.3 84.8h1.1v1.1h-1.1zM93.7 106.1h1.1v1.1h-1.1zM108.8 102.2h1.1v1.1h-1.1zM121.7 82.7h1.1v1.1h-1.1zM67.9 137.8h1.1v1.1h-1.1zM124.1 84.0h1.1v1.1h-1.1zM124.9 78.1h1.1v1.1h-1.1zM111.2 96.3h1.1v1.1h-1.1zM88.2 121.2h1.1v1.1h-1.1zM107.8 103.1h1.1v1.1h-1.1zM127.7 77.3h1.1v1.1h-1.1zM86.6 122.6h1.1v1.1h-1.1zM121.5 84.9h1.1v1.1h-1.1zM72.9 133.4h1.1v1.1h-1.1zM107.0 96.6h1.1v1.1h-1.1zM99.3 101.0h1.1v1.1h-1.1zM89.2 121.5h1.1v1.1h-1.1zM67.7 128.7h1.1v1.1h-1.1zM71.8 124.6h1.1v1.1h-1.1zM100.1 101.3h1.1v1.1h-1.1zM108.0 96.6h1.1v1.1h-1.1zM103.1 106.7h1.1v1.1h-1.1zM100.1 109.6h1.1v1.1h-1.1zM117.8 89.0h1.1v1.1h-1.1zM82.8 116.2h1.1v1.1h-1.1zM66.6 128.2h1.1v1.1h-1.1zM90.0 119.4h1.1v1.1h-1.1zM65.4 139.3h1.1v1.1h-1.1zM107.2 96.8h1.1v1.1h-1.1zM70.5 136.1h1.1v1.1h-1.1zM87.2 111.3h1.1v1.1h-1.1zM101.0 108.6h1.1v1.1h-1.1zM98.0 103.5h1.1v1.1h-1.1zM112.5 98.0h1.1v1.1h-1.1zM123.4 85.2h1.1v1.1h-1.1zM110.1 95.1h1.1v1.1h-1.1zM117.2 90.6h1.1v1.1h-1.1zM80.7 127.6h1.1v1.1h-1.1zM106.3 101.2h1.1v1.1h-1.1zM115.9 92.3h1.1v1.1h-1.1zM97.3 102.6h1.1v1.1h-1.1zM109.7 92.4h1.1v1.1h-1.1zM120.8 87.6h1.1v1.1h-1.1zM86.6 112.8h1.1v1.1h-1.1zM99.9 107.2h1.1v1.1h-1.1zM108.4 99.3h1.1v1.1h-1.1zM115.4 95.4h1.1v1.1h-1.1zM121.5 85.3h1.1v1.1h-1.1zM90.9 118.3h1.1v1.1h-1.1zM75.1 121.8h1.1v1.1h-1.1zM121.5 82.4h1.1v1.1h-1.1zM126.6 79.8h1.1v1.1h-1.1zM117.5 87.4h1.1v1.1h-1.1zM95.6 114.1h1.1v1.1h-1.1zM80.1 116.2h1.1v1.1h-1.1zM79.4 118.2h1.1v1.1h-1.1zM115.0 95.4h1.1v1.1h-1.1zM118.2 91.0h1.1v1.1h-1.1zM68.4 136.7h1.1v1.1h-1.1zM123.5 81.7h1.1v1.1h-1.1zM75.1 121.7h1.1v1.1h-1.1zM110.1 93.0h1.1v1.1h-1.1zM112.5 94.6h1.1v1.1h-1.1zM78.0 117.9h1.1v1.1h-1.1zM101.3 105.2h1.1v1.1h-1.1zM87.0 112.7h1.1v1.1h-1.1zM121.1 86.0h1.1v1.1h-1.1zM89.8 119.8h1.1v1.1h-1.1zM107.1 94.9h1.1v1.1h-1.1zM124.1 83.6h1.1v1.1h-1.1z" fill="#303030" fill-opacity="0.36"/>
<path d="M117.9 89.3h1.1v1.1h-1.1zM80.5 116.4h1.1v1.1h-1.1zM79.2 128.5h1.1v1.1h-1.1zM96.8 113.4h1.1v1.1h-1.1zM67.8 136.8h1.1v1.1h-1.1zM111.4 99.0h1.1v1.1h-1.1zM85.3 113.4h1.1v1.1h-1.1zM110.8 94.9h1.1v1.1h-1.1zM86.1 113.6h1.1v1.1h-1.1zM98.7 101.9h1.1v1.1h-1.1zM72.5 134.7h1.1v1.1h-1.1zM110.0 98.4h1.1v1.1h-1.1zM84.9 124.2h1.1v1.1h-1.1zM103.4 98.5h1.1v1.1h-1.1zM123.3 82.0h1.1v1.1h-1.1zM95.8 104.9h1.1v1.1h-1.1zM111.3 93.2h1.1v1.1h-1.1zM87.5 123.1h1.1v1.1h-1.1zM119.0 88.3h1.1v1.1h-1.1zM115.2 92.5h1.1v1.1h-1.1zM85.8 124.1h1.1v1.1h-1.1zM101.4 100.7h1.1v1.1h-1.1zM106.0 100.0h1.1v1.1h-1.1zM125.1 79.5h1.1v1.1h-1.1zM91.2 108.1h1.1v1.1h-1.1zM71.4 135.5h1.1v1.1h-1.1zM94.0 116.5h1.1v1.1h-1.1zM72.4 134.4h1.1v1.1h-1.1zM82.1 125.8h1.1v1.1h-1.1zM69.7 135.3h1.1v1.1h-1.1zM115.0 90.0h1.1v1.1h-1.1zM73.9 133.8h1.1v1.1h-1.1zM119.0 89.5h1.1v1.1h-1.1zM104.9 97.1h1.1v1.1h-1.1zM121.6 86.0h1.1v1.1h-1.1zM70.3 125.8h1.1v1.1h-1.1zM77.3 119.8h1.1v1.1h-1.1zM108.4 97.9h1.1v1.1h-1.1zM79.5 116.7h1.1v1.1h-1.1zM113.4 94.3h1.1v1.1h-1.1zM84.8 112.9h1.1v1.1h-1.1zM88.1 121.8h1.1v1.1h-1.1zM105.5 105.1h1.1v1.1h-1.1zM111.9 93.3h1.1v1.1h-1.1zM112.9 92.3h1.1v1.1h-1.1zM84.3 114.1h1.1v1.1h-1.1zM87.8 121.1h1.1v1.1h-1.1zM66.8 129.4h1.1v1.1h-1.1zM62.6 140.1h1.1v1.1h-1.1zM129.9 78.4h1.1v1.1h-1.1zM119.6 86.1h1.1v1.1h-1.1zM108.8 94.2h1.1v1.1h-1.1zM80.8 128.5h1.1v1.1h-1.1zM113.4 92.6h1.1v1.1h-1.1zM106.9 99.5h1.1v1.1h-1.1zM65.0 129.8h1.1v1.1h-1.1zM76.6 118.9h1.1v1.1h-1.1zM85.5 123.1h1.1v1.1h-1.1zM104.5 105.8h1.1v1.1h-1.1zM120.8 85.9h1.1v1.1h-1.1zM113.4 91.6h1.1v1.1h-1.1zM64.9 138.5h1.1v1.1h-1.1zM106.6 103.4h1.1v1.1h-1.1zM107.5 99.1h1.1v1.1h-1.1zM119.1 87.8h1.1v1.1h-1.1zM121.2 88.4h1.1v1.1h-1.1zM105.0 104.5h1.1v1.1h-1.1zM101.9 103.2h1.1v1.1h-1.1zM111.4 96.7h1.1v1.1h-1.1zM115.1 95.9h1.1v1.1h-1.1zM103.7 99.7h1.1v1.1h-1.1zM111.0 95.2h1.1v1.1h-1.1zM114.8 91.8h1.1v1.1h-1.1zM66.8 138.7h1.1v1.1h-1.1zM76.0 120.0h1.1v1.1h-1.1zM102.1 108.3h1.1v1.1h-1.1zM127.5 80.1h1.1v1.1h-1.1zM91.6 117.4h1.1v1.1h-1.1zM88.6 110.9h1.1v1.1h-1.1zM119.7 90.5h1.1v1.1h-1.1zM98.7 101.5h1.1v1.1h-1.1zM107.4 97.4h1.1v1.1h-1.1zM68.7 126.8h1.1v1.1h-1.1zM111.8 91.0h1.1v1.1h-1.1zM121.2 84.8h1.1v1.1h-1.1zM118.5 84.8h1.1v1.1h-1.1zM122.6 82.8h1.1v1.1h-1.1zM104.0 101.6h1.1v1.1h-1.1zM105.6 95.9h1.1v1.1h-1.1zM103.5 100.6h1.1v1.1h-1.1zM110.3 97.3h1.1v1.1h-1.1zM75.8 120.1h1.1v1.1h-1.1zM112.4 92.4h1.1v1.1h-1.1zM79.9 117.3h1.1v1.1h-1.1zM117.4 88.9h1.1v1.1h-1.1zM84.4 124.8h1.1v1.1h-1.1zM94.0 106.8h1.1v1.1h-1.1zM117.8 85.0h1.1v1.1h-1.1zM116.0 91.7h1.1v1.1h-1.1zM71.3 135.7h1.1v1.1h-1.1zM107.1 102.9h1.1v1.1h-1.1zM90.4 108.5h1.1v1.1h-1.1zM121.2 83.4h1.1v1.1h-1.1zM120.1 85.7h1.1v1.1h-1.1zM110.7 92.7h1.1v1.1h-1.1zM61.3 141.0h1.1v1.1h-1.1zM69.3 137.2h1.1v1.1h-1.1zM117.2 87.3h1.1v1.1h-1.1zM70.5 135.2h1.1v1.1h-1.1zM107.3 95.2h1.1v1.1h-1.1zM92.5 106.7h1.1v1.1h-1.1zM109.8 93.0h1.1v1.1h-1.1zM88.4 111.4h1.1v1.1h-1.1zM114.1 94.0h1.1v1.1h-1.1zM66.6 127.9h1.1v1.1h-1.1zM103.1 98.4h1.1v1.1h-1.1zM123.8 83.2h1.1v1.1h-1.1zM73.7 133.5h1.1v1.1h-1.1zM85.9 111.7h1.1v1.1h-1.1zM107.5 102.3h1.1v1.1h-1.1zM104.5 97.9h1.1v1.1h-1.1zM92.5 108.2h1.1v1.1h-1.1zM121.1 87.1h1.1v1.1h-1.1zM107.8 99.4h1.1v1.1h-1.1zM105.2 100.3h1.1v1.1h-1.1zM123.7 83.1h1.1v1.1h-1.1zM110.9 96.6h1.1v1.1h-1.1zM115.3 91.7h1.1v1.1h-1.1zM94.8 104.4h1.1v1.1h-1.1zM123.6 81.9h1.1v1.1h-1.1zM77.2 129.7h1.1v1.1h-1.1zM118.1 90.1h1.1v1.1h-1.1zM116.3 90.7h1.1v1.1h-1.1zM72.6 123.2h1.1v1.1h-1.1zM106.7 101.2h1.1v1.1h-1.1zM114.9 89.1h1.1v1.1h-1.1zM79.6 128.2h1.1v1.1h-1.1zM94.5 104.8h1.1v1.1h-1.1zM115.1 90.7h1.1v1.1h-1.1zM119.7 87.8h1.1v1.1h-1.1zM115.9 94.2h1.1v1.1h-1.1zM111.8 96.7h1.1v1.1h-1.1zM120.9 85.4h1.1v1.1h-1.1zM85.4 123.8h1.1v1.1h-1.1zM77.1 131.5h1.1v1.1h-1.1zM105.9 99.7h1.1v1.1h-1.1zM109.1 93.9h1.1v1.1h-1.1zM120.0 89.6h1.1v1.1h-1.1zM113.2 90.7h1.1v1.1h-1.1zM94.9 115.5h1.1v1.1h-1.1zM108.2 94.9h1.1v1.1h-1.1zM99.5 109.8h1.1v1.1h-1.1zM106.2 103.8h1.1v1.1h-1.1zM113.4 91.9h1.1v1.1h-1.1zM83.5 126.2h1.1v1.1h-1.1zM81.2 128.2h1.1v1.1h-1.1zM119.3 86.3h1.1v1.1h-1.1zM111.5 97.5h1.1v1.1h-1.1zM117.7 86.6h1.1v1.1h-1.1zM102.3 99.0h1.1v1.1h-1.1zM110.5 97.0h1.1v1.1h-1.1zM117.3 89.2h1.1v1.1h-1.1zM78.3 118.1h1.1v1.1h-1.1zM110.8 97.0h1.1v1.1h-1.1zM67.4 138.1h1.1v1.1h-1.1zM69.1 135.9h1.1v1.1h-1.1zM81.0 117.0h1.1v1.1h-1.1zM116.1 92.8h1.1v1.1h-1.1zM119.7 85.8h1.1v1.1h-1.1zM121.0 87.1h1.1v1.1h-1.1zM112.9 94.4h1.1v1.1h-1.1zM125.1 83.3h1.1v1.1h-1.1zM111.0 97.5h1.1v1.1h-1.1zM126.5 77.3h1.1v1.1h-1.1zM89.5 119.0h1.1v1.1h-1.1zM106.5 104.5h1.1v1.1h-1.1zM111.7 90.8h1.1v1.1h-1.1zM102.0 108.1h1.1v1.1h-1.1zM79.0 130.1h1.1v1.1h-1.1zM119.2 88.5h1.1v1.1h-1.1zM113.5 96.8h1.1v1.1h-1.1zM71.8 123.5h1.1v1.1h-1.1zM115.1 87.9h1.1v1.1h-1.1zM73.2 133.3h1.1v1.1h-1.1zM125.2 81.4h1.1v1.1h-1.1zM97.2 112.2h1.1v1.1h-1.1zM121.3 81.7h1.1v1.1h-1.1zM116.8 88.2h1.1v1.1h-1.1zM109.3 98.3h1.1v1.1h-1.1zM124.4 82.1h1.1v1.1h-1.1zM109.6 101.3h1.1v1.1h-1.1zM106.0 99.6h1.1v1.1h-1.1zM101.9 103.6h1.1v1.1h-1.1zM117.7 89.1h1.1v1.1h-1.1zM103.5 98.1h1.1v1.1h-1.1zM114.2 91.6h1.1v1.1h-1.1zM100.8 108.5h1.1v1.1h-1.1zM118.8 88.1h1.1v1.1h-1.1zM94.8 105.0h1.1v1.1h-1.1zM70.2 135.2h1.1v1.1h-1.1zM122.1 81.5h1.1v1.1h-1.1zM82.5 126.0h1.1v1.1h-1.1zM70.5 136.2h1.1v1.1h-1.1zM118.3 89.5h1.1v1.1h-1.1zM120.7 83.6h1.1v1.1h-1.1zM112.4 95.8h1.1v1.1h-1.1zM117.6 88.4h1.1v1.1h-1.1zM73.0 133.4h1.1v1.1h-1.1zM80.4 127.6h1.1v1.1h-1.1zM110.0 98.0h1.1v1.1h-1.1zM119.0 89.4h1.1v1.1h-1.1zM76.7 120.9h1.1v1.1h-1.1zM70.0 135.0h1.1v1.1h-1.1zM114.0 92.9h1.1v1.1h-1.1zM67.8 137.2h1.1v1.1h-1.1zM111.0 94.5h1.1v1.1h-1.1zM119.1 89.0h1.1v1.1h-1.1zM74.0 133.2h1.1v1.1h-1.1zM122.3 86.4h1.1v1.1h-1.1zM102.8 103.2h1.1v1.1h-1.1zM117.9 89.1h1.1v1.1h-1.1zM89.2 110.4h1.1v1.1h-1.1zM71.5 123.9h1.1v1.1h-1.1zM114.5 88.6h1.1v1.1h-1.1zM88.6 110.8h1.1v1.1h-1.1zM94.1 106.9h1.1v1.1h-1.1zM104.6 96.6h1.1v1.1h-1.1zM120.8 84.2h1.1v1.1h-1.1zM124.6 83.1h1.1v1.1h-1.1zM84.2 124.1h1.1v1.1h-1.1zM122.8 84.0h1.1v1.1h-1.1z" fill="#303030" fill-opacity="0.36"/>
<path d="M101.7 99.4h1.1v1.1h-1.1zM122.3 83.3h1.1v1.1h-1.1zM109.7 93.9h1.1v1.1h-1.1zM82.5 116.3h1.1v1.1h-1.1zM63.0 131.5h1.1v1.1h-1.1zM118.8 90.0h1.1v1.1h-1.1zM82.4 127.2h1.1v1.1h-1.1zM126.1 78.1h1.1v1.1h-1.1zM98.2 111.8h1.1v1.1h-1.1zM102.2 99.9h1.1v1.1h-1.1zM90.4 108.2h1.1v1.1h-1.1zM124.7 81.3h1.1v1.1h-1.1zM101.6 100.4h1.1v1.1h-1.1zM89.5 120.6h1.1v1.1h-1.1zM112.5 95.0h1.1v1.1h-1.1zM121.1 83.9h1.1v1.1h-1.1zM120.4 87.2h1.1v1.1h-1.1zM116.5 89.5h1.1v1.1h-1.1zM132.7 73.9h1.1v1.1h-1.1zM76.7 120.8h1.1v1.1h-1.1zM84.2 114.1h1.1v1.1h-1.1zM83.4 125.4h1.1v1.1h-1.1zM82.0 125.6h1.1v1.1h-1.1zM116.2 92.6h1.1v1.1h-1.1zM112.1 94.0h1.1v1.1h-1.1zM111.0 98.4h1.1v1.1h-1.1zM96.0 103.6h1.1v1.1h-1.1zM68.9 137.6h1.1v1.1h-1.1zM89.7 120.9h1.1v1.1h-1.1zM106.8 100.1h1.1v1.1h-1.1zM76.1 120.7h1.1v1.1h-1.1zM74.2 121.5h1.1v1.1h-1.1zM96.4 104.7h1.1v1.1h-1.1zM123.8 83.0h1.1v1.1h-1.1zM120.0 85.8h1.1v1.1h-1.1zM119.2 88.9h1.1v1.1h-1.1zM98.9 110.4h1.1v1.1h-1.1zM96.5 103.7h1.1v1.1h-1.1zM67.6 137.8h1.1v1.1h-1.1zM81.0 116.9h1.1v1.1h-1.1zM97.9 111.6h1.1v1.1h-1.1zM112.2 94.4h1.1v1.1h-1.1zM113.4 94.0h1.1v1.1h-1.1zM125.8 78.8h1.1v1.1h-1.1zM114.1 91.0h1.1v1.1h-1.1zM111.9 97.6h1.1v1.1h-1.1zM113.0 93.3h1.1v1.1h-1.1zM115.1 93.1h1.1v1.1h-1.1zM113.3 96.9h1.1v1.1h-1.1zM118.3 86.3h1.1v1.1h-1.1zM119.5 89.7h1.1v1.1h-1.1zM93.6 106.1h1.1v1.1h-1.1zM114.8 89.7h1.1v1.1h-1.1zM68.5 136.2h1.1v1.1h-1.1zM118.2 86.8h1.1v1.1h-1.1zM68.2 127.6h1.1v1.1h-1.1zM109.3 97.5h1.1v1.1h-1.1zM65.5 128.8h1.1v1.1h-1.1zM124.2 79.2h1.1v1.1h-1.1zM116.0 94.3h1.1v1.1h-1.1zM114.0 93.4h1.1v1.1h-1.1zM117.1 86.8h1.1v1.1h-1.1zM117.7 89.7h1.1v1.1h-1.1zM75.0 132.9h1.1v1.1h-1.1zM116.0 90.8h1.1v1.1h-1.1zM102.2 99.4h1.1v1.1h-1.1zM104.5 104.6h1.1v1.1h-1.1zM76.2 120.2h1.1v1.1h-1.1zM109.5 92.7h1.1v1.1h-1.1zM63.7 138.6h1.1v1.1h-1.1zM81.6 115.7h1.1v1.1h-1.1zM112.9 91.2h1.1v1.1h-1.1zM119.4 86.8h1.1v1.1h-1.1zM106.7 103.8h1.1v1.1h-1.1zM100.5 101.0h1.1v1.1h-1.1zM94.3 115.8h1.1v1.1h-1.1zM105.9 101.2h1.1v1.1h-1.1zM128.4 76.9h1.1v1.1h-1.1zM93.4 117.2h1.1v1.1h-1.1zM110.7 95.1h1.1v1.1h-1.1zM114.9 89.1h1.1v1.1h-1.1zM72.4 133.4h1.1v1.1h-1.1zM105.6 104.7h1.1v1.1h-1.1zM74.0 123.2h1.1v1.1h-1.1zM121.2 82.9h1.1v1.1h-1.1zM104.4 104.4h1.1v1.1h-1.1zM85.2 123.3h1.1v1.1h-1.1zM79.8 116.4h1.1v1.1h-1.1zM75.5 132.3h1.1v1.1h-1.1zM127.7 77.4h1.1v1.1h-1.1zM94.9 115.2h1.1v1.1h-1.1zM116.3 92.8h1.1v1.1h-1.1zM72.0 124.0h1.1v1.1h-1.1zM96.5 104.5h1.1v1.1h-1.1zM79.9 128.5h1.1v1.1h-1.1zM128.5 75.1h1.1v1.1h-1.1zM76.9 120.4h1.1v1.1h-1.1zM109.2 93.0h1.1v1.1h-1.1zM88.6 120.7h1.1v1.1h-1.1zM107.2 99.0h1.1v1.1h-1.1zM83.2 125.4h1.1v1.1h-1.1zM70.1 136.3h1.1v1.1h-1.1zM111.9 94.8h1.1v1.1h-1.1zM102.2 106.6h1.1v1.1h-1.1zM109.8 99.5h1.1v1.1h-1.1zM113.3 94.7h1.1v1.1h-1.1zM118.1 89.6h1.1v1.1h-1.1zM111.3 94.8h1.1v1.1h-1.1zM107.5 101.9h1.1v1.1h-1.1zM92.9 115.9h1.1v1.1h-1.1zM68.3 136.4h1.1v1.1h-1.1zM64.4 138.3h1.1v1.1h-1.1zM121.0 86.9h1.1v1.1h-1.1zM106.1 95.7h1.1v1.1h-1.1zM121.4 84.4h1.1v1.1h-1.1zM83.9 114.4h1.1v1.1h-1.1zM79.5 117.2h1.1v1.1h-1.1zM121.7 80.8h1.1v1.1h-1.1zM112.1 91.3h1.1v1.1h-1.1zM117.0 92.2h1.1v1.1h-1.1zM120.7 85.4h1.1v1.1h-1.1zM99.0 110.5h1.1v1.1h-1.1zM73.4 134.0h1.1v1.1h-1.1zM68.3 136.3h1.1v1.1h-1.1zM113.5 91.8h1.1v1.1h-1.1zM91.4 108.5h1.1v1.1h-1.1zM110.3 95.7h1.1v1.1h-1.1zM62.7 140.5h1.1v1.1h-1.1zM120.1 86.3h1.1v1.1h-1.1zM128.9 76.5h1.1v1.1h-1.1zM72.1 134.6h1.1v1.1h-1.1zM90.3 118.8h1.1v1.1h-1.1zM112.2 96.4h1.1v1.1h-1.1zM118.7 88.6h1.1v1.1h-1.1zM65.2 130.2h1.1v1.1h-1.1zM118.7 89.1h1.1v1.1h-1.1zM85.7 124.4h1.1v1.1h-1.1zM68.5 136.1h1.1v1.1h-1.1zM115.0 93.4h1.1v1.1h-1.1zM125.6 81.2h1.1v1.1h-1.1zM83.8 113.2h1.1v1.1h-1.1zM113.2 89.9h1.1v1.1h-1.1zM105.6 101.5h1.1v1.1h-1.1zM109.5 97.9h1.1v1.1h-1.1zM119.6 89.3h1.1v1.1h-1.1zM112.7 96.6h1.1v1.1h-1.1zM87.1 112.5h1.1v1.1h-1.1zM123.0 85.7h1.1v1.1h-1.1zM117.0 89.0h1.1v1.1h-1.1zM124.1 82.3h1.1v1.1h-1.1zM120.9 86.1h1.1v1.1h-1.1zM112.3 94.7h1.1v1.1h-1.1zM125.2 77.8h1.1v1.1h-1.1zM62.5 131.1h1.1v1.1h-1.1zM118.8 89.8h1.1v1.1h-1.1zM74.6 132.4h1.1v1.1h-1.1zM118.6 87.2h1.1v1.1h-1.1zM95.1 114.5h1.1v1.1h-1.1zM99.0 111.0h1.1v1.1h-1.1zM120.7 87.7h1.1v1.1h-1.1zM96.9 113.1h1.1v1.1h-1.1zM113.5 94.5h1.1v1.1h-1.1zM116.3 88.1h1.1v1.1h-1.1zM85.2 123.2h1.1v1.1h-1.1zM65.1 139.3h1.1v1.1h-1.1zM110.9 92.5h1.1v1.1h-1.1zM108.5 98.6h1.1v1.1h-1.1zM90.0 109.4h1.1v1.1h-1.1zM114.5 91.9h1.1v1.1h-1.1zM119.0 88.3h1.1v1.1h-1.1zM118.1 87.4h1.1v1.1h-1.1zM78.7 130.4h1.1v1.1h-1.1zM116.4 86.9h1.1v1.1h-1.1zM111.1 95.2h1.1v1.1h-1.1zM115.1 87.4h1.1v1.1h-1.1zM125.7 80.3h1.1v1.1h-1.1zM126.6 77.3h1.1v1.1h-1.1zM122.0 81.5h1.1v1.1h-1.1zM122.3 82.6h1.1v1.1h-1.1zM77.2 129.8h1.1v1.1h-1.1zM107.6 94.3h1.1v1.1h-1.1zM111.2 96.3h1.1v1.1h-1.1zM98.7 102.8h1.1v1.1h-1.1zM118.6 89.3h1.1v1.1h-1.1zM127.5 77.0h1.1v1.1h-1.1zM116.6 93.4h1.1v1.1h-1.1zM63.6 129.9h1.1v1.1h-1.1zM102.7 103.5h1.1v1.1h-1.1zM125.9 78.9h1.1v1.1h-1.1zM95.8 114.6h1.1v1.1h-1.1zM80.2 117.8h1.1v1.1h-1.1zM93.6 116.9h1.1v1.1h-1.1zM117.3 91.8h1.1v1.1h-1.1zM68.1 128.4h1.1v1.1h-1.1zM67.8 137.0h1.1v1.1h-1.1zM77.4 131.5h1.1v1.1h-1.1zM94.5 114.4h1.1v1.1h-1.1zM108.6 95.9h1.1v1.1h-1.1zM113.8 92.5h1.1v1.1h-1.1zM114.8 92.8h1.1v1.1h-1.1zM110.3 97.2h1.1v1.1h-1.1zM123.8 80.6h1.1v1.1h-1.1zM70.9 135.7h1.1v1.1h-1.1zM96.4 103.7h1.1v1.1h-1.1zM111.2 95.3h1.1v1.1h-1.1zM102.8 107.3h1.1v1.1h-1.1zM91.4 107.3h1.1v1.1h-1.1zM86.3 122.4h1.1v1.1h-1.1zM114.3 89.6h1.1v1.1h-1.1zM120.7 86.0h1.1v1.1h-1.1zM121.2 85.6h1.1v1.1h-1.1zM71.8 124.2h1.1v1.1h-1.1zM120.5 82.6h1.1v1.1h-1.1zM110.4 94.9h1.1v1.1h-1.1zM71.9 124.7h1.1v1.1h-1.1zM73.3 133.2h1.1v1.1h-1.1zM86.0 122.3h1.1v1.1h-1.1zM74.0 122.6h1.1v1.1h-1.1zM77.3 130.5h1.1v1.1h-1.1zM90.7 118.1h1.1v1.1h-1.1zM90.5 109.2h1.1v1.1h-1.1zM108.2 95.1h1.1v1.1h-1.1zM114.9 90.7h1.1v1.1h-1.1zM70.7 135.2h1.1v1.1h-1.1zM68.6 136.3h1.1v1.1h-1.1zM88.0 121.4h1.1v1.1h-1.1zM119.6 87.3h1.1v1.1h-1.1zM90.8 119.0h1.1v1.1h-1.1zM120.0 84.2h1.1v1.1h-1.1zM115.7 91.2h1.1v1.1h-1.1z" fill="#303030" fill-opacity="0.36"/>
<path d="M62.5 136.4h1.1v1.1h-1.1zM77.1 124.4h1.1v1.1h-1.1zM102.0 103.6h1.1v1.1h-1.1zM68.7 131.6h1.1v1.1h-1.1zM87.8 115.8h1.1v1.1h-1.1zM91.0 113.8h1.1v1.1h-1.1zM106.9 101.2h1.1v1.1h-1.1zM80.1 118.4h1.1v1.1h-1.1zM82.8 121.0h1.1v1.1h-1.1zM105.4 103.1h1.1v1.1h-1.1zM83.7 117.0h1.1v1.1h-1.1zM97.7 109.9h1.1v1.1h-1.1zM75.9 122.0h1.1v1.1h-1.1zM88.0 114.0h1.1v1.1h-1.1zM96.2 106.7h1.1v1.1h-1.1zM71.3 130.7h1.1v1.1h-1.1zM78.4 120.8h1.1v1.1h-1.1zM65.6 128.5h1.1v1.1h-1.1zM97.2 112.3h1.1v1.1h-1.1zM72.9 130.4h1.1v1.1h-1.1zM81.7 119.6h1.1v1.1h-1.1zM75.9 126.2h1.1v1.1h-1.1zM73.2 127.0h1.1v1.1h-1.1zM72.0 130.0h1.1v1.1h-1.1zM78.4 128.9h1.1v1.1h-1.1zM72.0 128.7h1.1v1.1h-1.1zM78.3 121.9h1.1v1.1h-1.1zM89.6 111.1h1.1v1.1h-1.1zM67.3 132.7h1.1v1.1h-1.1zM117.2 87.4h1.1v1.1h-1.1zM95.2 107.9h1.1v1.1h-1.1zM88.7 115.0h1.1v1.1h-1.1zM71.3 126.5h1.1v1.1h-1.1zM90.5 115.6h1.1v1.1h-1.1zM87.7 115.7h1.1v1.1h-1.1zM101.8 100.6h1.1v1.1h-1.1zM91.4 115.0h1.1v1.1h-1.1zM93.5 110.1h1.1v1.1h-1.1zM111.5 93.9h1.1v1.1h-1.1zM92.9 110.8h1.1v1.1h-1.1zM94.8 111.6h1.1v1.1h-1.1zM100.6 102.3h1.1v1.1h-1.1zM63.6 138.1h1.1v1.1h-1.1zM83.5 119.8h1.1v1.1h-1.1zM91.3 117.0h1.1v1.1h-1.1zM76.4 126.7h1.1v1.1h-1.1zM84.9 121.8h1.1v1.1h-1.1zM72.8 124.9h1.1v1.1h-1.1zM95.6 109.9h1.1v1.1h-1.1zM96.4 105.6h1.1v1.1h-1.1zM94.9 106.4h1.1v1.1h-1.1zM90.5 116.9h1.1v1.1h-1.1zM99.9 102.4h1.1v1.1h-1.1zM93.4 113.4h1.1v1.1h-1.1zM69.9 134.3h1.1v1.1h-1.1zM99.6 103.8h1.1v1.1h-1.1zM113.0 94.3h1.1v1.1h-1.1zM63.8 136.7h1.1v1.1h-1.1zM90.0 116.1h1.1v1.1h-1.1zM88.5 114.4h1.1v1.1h-1.1zM75.1 123.3h1.1v1.1h-1.1zM79.8 118.9h1.1v1.1h-1.1zM75.9 124.7h1.1v1.1h-1.1zM94.4 110.0h1.1v1.1h-1.1zM94.3 114.3h1.1v1.1h-1.1zM103.8 105.3h1.1v1.1h-1.1zM89.4 118.2h1.1v1.1h-1.1zM82.2 121.5h1.1v1.1h-1.1zM72.1 128.5h1.1v1.1h-1.1zM101.2 105.4h1.1v1.1h-1.1zM89.9 112.1h1.1v1.1h-1.1zM94.1 108.9h1.1v1.1h-1.1zM87.3 118.7h1.1v1.1h-1.1zM77.0 123.4h1.1v1.1h-1.1zM68.5 132.8h1.1v1.1h-1.1zM97.4 110.1h1.1v1.1h-1.1zM102.8 105.0h1.1v1.1h-1.1zM106.9 102.4h1.1v1.1h-1.1zM108.1 97.7h1.1v1.1h-1.1zM93.9 108.9h1.1v1.1h-1.1zM91.2 112.7h1.1v1.1h-1.1zM77.2 124.4h1.1v1.1h-1.1zM85.7 116.0h1.1v1.1h-1.1zM96.6 111.7h1.1v1.1h-1.1zM99.4 106.0h1.1v1.1h-1.1zM89.0 120.3h1.1v1.1h-1.1zM102.8 104.4h1.1v1.1h-1.1zM104.7 104.6h1.1v1.1h-1.1zM82.2 124.3h1.1v1.1h-1.1zM86.8 120.7h1.1v1.1h-1.1zM96.4 109.2h1.1v1.1h-1.1zM93.4 109.6h1.1v1.1h-1.1zM76.0 126.9h1.1v1.1h-1.1zM93.0 113.9h1.1v1.1h-1.1zM66.5 132.3h1.1v1.1h-1.1zM89.3 112.7h1.1v1.1h-1.1zM79.4 119.6h1.1v1.1h-1.1zM68.5 126.5h1.1v1.1h-1.1zM80.2 120.3h1.1v1.1h-1.1zM66.1 129.5h1.1v1.1h-1.1zM82.8 123.4h1.1v1.1h-1.1zM69.5 133.1h1.1v1.1h-1.1zM64.4 131.4h1.1v1.1h-1.1zM86.8 118.8h1.1v1.1h-1.1zM70.9 127.9h1.1v1.1h-1.1zM76.2 122.7h1.1v1.1h-1.1zM80.9 128.5h1.1v1.1h-1.1zM73.8 131.2h1.1v1.1h-1.1zM75.2 126.1h1.1v1.1h-1.1zM85.0 119.1h1.1v1.1h-1.1zM100.3 108.0h1.1v1.1h-1.1zM96.9 104.9h1.1v1.1h-1.1zM83.2 118.6h1.1v1.1h-1.1zM68.1 131.6h1.1v1.1h-1.1zM76.2 124.3h1.1v1.1h-1.1zM101.0 103.9h1.1v1.1h-1.1zM82.2 124.0h1.1v1.1h-1.1zM68.4 135.7h1.1v1.1h-1.1zM92.1 114.5h1.1v1.1h-1.1zM91.1 114.3h1.1v1.1h-1.1zM103.6 103.0h1.1v1.1h-1.1zM92.6 115.5h1.1v1.1h-1.1zM78.0 121.6h1.1v1.1h-1.1zM100.2 108.8h1.1v1.1h-1.1zM80.4 124.5h1.1v1.1h-1.1zM84.8 118.4h1.1v1.1h-1.1zM82.0 126.7h1.1v1.1h-1.1zM92.3 117.1h1.1v1.1h-1.1zM69.4 133.0h1.1v1.1h-1.1zM74.6 129.6h1.1v1.1h-1.1zM104.2 98.8h1.1v1.1h-1.1zM92.5 109.1h1.1v1.1h-1.1zM74.6 127.0h1.1v1.1h-1.1zM72.8 129.4h1.1v1.1h-1.1zM95.9 112.2h1.1v1.1h-1.1zM99.7 108.0h1.1v1.1h-1.1zM91.6 116.2h1.1v1.1h-1.1zM68.9 132.1h1.1v1.1h-1.1zM72.0 131.6h1.1v1.1h-1.1zM76.9 122.8h1.1v1.1h-1.1zM66.6 129.9h1.1v1.1h-1.1zM63.1 136.7h1.1v1.1h-1.1zM67.6 127.9h1.1v1.1h-1.1zM85.6 120.6h1.1v1.1h-1.1zM95.3 111.8h1.1v1.1h-1.1zM70.3 130.9h1.1v1.1h-1.1zM89.7 115.7h1.1v1.1h-1.1zM92.9 110.9h1.1v1.1h-1.1zM84.4 118.9h1.1v1.1h-1.1zM64.3 137.6h1.1v1.1h-1.1zM100.3 104.2h1.1v1.1h-1.1zM104.4 102.3h1.1v1.1h-1.1zM73.0 122.3h1.1v1.1h-1.1zM69.1 127.9h1.1v1.1h-1.1zM67.0 133.4h1.1v1.1h-1.1zM95.5 108.1h1.1v1.1h-1.1zM97.7 103.4h1.1v1.1h-1.1zM87.0 119.1h1.1v1.1h-1.1zM94.6 115.3h1.1v1.1h-1.1zM71.3 130.1h1.1v1.1h-1.1zM103.9 103.2h1.1v1.1h-1.1zM75.0 123.1h1.1v1.1h-1.1zM101.3 101.2h1.1v1.1h-1.1zM107.3 100.1h1.1v1.1h-1.1zM100.6 103.3h1.1v1.1h-1.1zM92.4 115.3h1.1v1.1h-1.1zM68.2 135.9h1.1v1.1h-1.1zM84.2 119.9h1.1v1.1h-1.1zM110.2 98.8h1.1v1.1h-1.1zM113.3 90.3h1.1v1.1h-1.1zM97.9 105.4h1.1v1.1h-1.1zM91.4 114.6h1.1v1.1h-1.1zM75.6 123.3h1.1v1.1h-1.1zM70.0 129.4h1.1v1.1h-1.1zM76.8 125.4h1.1v1.1h-1.1zM108.3 95.3h1.1v1.1h-1.1zM106.9 96.7h1.1v1.1h-1.1zM85.6 116.9h1.1v1.1h-1.1zM70.5 131.6h1.1v1.1h-1.1zM92.4 108.1h1.1v1.1h-1.1zM80.5 124.1h1.1v1.1h-1.1zM82.6 119.1h1.1v1.1h-1.1zM80.3 116.1h1.1v1.1h-1.1zM92.4 113.7h1.1v1.1h-1.1zM65.0 132.4h1.1v1.1h-1.1zM100.2 106.0h1.1v1.1h-1.1zM82.5 124.8h1.1v1.1h-1.1zM101.0 101.8h1.1v1.1h-1.1zM105.4 99.9h1.1v1.1h-1.1zM114.2 91.7h1.1v1.1h-1.1zM75.7 127.3h1.1v1.1h-1.1zM68.4 128.6h1.1v1.1h-1.1zM91.8 111.0h1.1v1.1h-1.1zM99.3 110.0h1.1v1.1h-1.1zM99.5 101.6h1.1v1.1h-1.1zM99.7 102.9h1.1v1.1h-1.1zM60.7 133.0h1.1v1.1h-1.1zM77.0 121.1h1.1v1.1h-1.1zM64.1 139.1h1.1v1.1h-1.1zM105.5 102.8h1.1v1.1h-1.1zM84.0 121.8h1.1v1.1h-1.1zM107.7 95.3h1.1v1.1h-1.1zM95.4 112.2h1.1v1.1h-1.1zM75.6 127.4h1.1v1.1h-1.1zM106.6 100.0h1.1v1.1h-1.1zM62.3 134.4h1.1v1.1h-1.1zM94.7 105.9h1.1v1.1h-1.1zM83.1 120.9h1.1v1.1h-1.1zM86.7 121.3h1.1v1.1h-1.1zM82.4 121.3h1.1v1.1h-1.1zM68.7 131.1h1.1v1.1h-1.1zM96.4 109.6h1.1v1.1h-1.1zM98.2 107.5h1.1v1.1h-1.1zM73.1 125.8h1.1v1.1h-1.1zM86.6 114.3h1.1v1.1h-1.1zM85.0 116.9h1.1v1.1h-1.1zM100.7 106.1h1.1v1.1h-1.1zM106.1 101.8h1.1v1.1h-1.1zM114.8 91.5h1.1v1.1h-1.1zM96.4 107.9h1.1v1.1h-1.1zM89.4 116.2h1.1v1.1h-1.1zM115.1 90.5h1.1v1.1h-1.1zM89.2 111.7h1.1v1.1h-1.1zM100.1 108.4h1.1v1.1h-1.1zM95.9 110.3h1.1v1.1h-1.1zM69.1 134.0h1.1v1.1h-1.1zM73.1 127.6h1.1v1.1h-1.1zM83.3 118.7h1.1v1.1h-1.1zM93.9 112.1h1.1v1.1h-1.1zM86.0 115.5h1.1v1.1h-1.1zM63.4 136.7h1.1v1.1h-1.1zM107.3 98.3h1.1v1.1h-1.1zM86.2 118.3h1.1v1.1h-1.1zM64.9 129.3h1.1v1.1h-1.1zM95.0 110.7h1.1v1.1h-1.1zM84.7 113.0h1.1v1.1h-1.1zM96.2 108.9h1.1v1.1h-1.1zM79.0 123.2h1.1v1.1h-1.1zM101.5 102.0h1.1v1.1h-1.1zM76.2 121.4h1.1v1.1h-1.1zM91.0 110.3h1.1v1.1h-1.1zM83.3 114.2h1.1v1.1h-1.1zM63.5 134.3h1.1v1.1h-1.1zM73.8 132.0h1.1v1.1h-1.1zM105.5 99.9h1.1v1.1h-1.1zM66.8 133.5h1.1v1.1h-1.1zM101.8 100.8h1.1v1.1h-1.1zM93.6 109.7h1.1v1.1h-1.1zM64.4 132.3h1.1v1.1h-1.1zM95.4 112.5h1.1v1.1h-1.1zM81.3 123.1h1.1v1.1h-1.1zM69.9 133.3h1.1v1.1h-1.1zM100.1 109.4h1.1v1.1h-1.1zM68.3 130.3h1.1v1.1h-1.1zM94.0 106.9h1.1v1.1h-1.1zM113.7 90.9h1.1v1.1h-1.1zM105.3 98.2h1.1v1.1h-1.1zM84.0 121.0h1.1v1.1h-1.1zM81.8 121.1h1.1v1.1h-1.1zM82.3 118.4h1.1v1.1h-1.1zM80.8 121.0h1.1v1.1h-1.1zM66.1 133.7h1.1v1.1h-1.1zM90.7 112.9h1.1v1.1h-1.1zM68.0 133.5h1.1v1.1h-1.1zM68.0 130.4h1.1v1.1h-1.1zM95.0 110.8h1.1v1.1h-1.1zM92.1 111.2h1.1v1.1h-1.1zM85.2 118.8h1.1v1.1h-1.1zM92.1 109.8h1.1v1.1h-1.1zM86.3 118.5h1.1v1.1h-1.1zM92.2 115.9h1.1v1.1h-1.1zM88.8 118.0h1.1v1.1h-1.1zM91.3 110.1h1.1v1.1h-1.1zM97.4 110.0h1.1v1.1h-1.1zM80.5 126.5h1.1v1.1h-1.1zM63.4 132.0h1.1v1.1h-1.1zM87.4 114.5h1.1v1.1h-1.1zM97.7 109.1h1.1v1.1h-1.1zM68.3 132.7h1.1v1.1h-1.1zM92.9 111.8h1.1v1.1h-1.1zM107.1 98.0h1.1v1.1h-1.1zM83.2 116.8h1.1v1.1h-1.1zM99.3 100.6h1.1v1.1h-1.1zM100.4 108.0h1.1v1.1h-1.1zM109.6 98.5h1.1v1.1h-1.1zM85.3 116.0h1.1v1.1h-1.1zM94.9 109.8h1.1v1.1h-1.1zM64.3 130.0h1.1v1.1h-1.1zM90.9 115.5h1.1v1.1h-1.1zM80.6 123.4h1.1v1.1h-1.1zM62.9 137.3h1.1v1.1h-1.1zM87.7 110.6h1.1v1.1h-1.1zM94.5 110.2h1.1v1.1h-1.1zM64.7 129.3h1.1v1.1h-1.1zM78.6 122.7h1.1v1.1h-1.1zM87.3 114.3h1.1v1.1h-1.1zM105.7 102.3h1.1v1.1h-1.1zM63.9 131.8h1.1v1.1h-1.1zM103.9 104.0h1.1v1.1h-1.1zM74.2 124.0h1.1v1.1h-1.1zM94.1 110.9h1.1v1.1h-1.1zM93.5 113.9h1.1v1.1h-1.1zM101.6 105.8h1.1v1.1h-1.1zM103.1 105.6h1.1v1.1h-1.1zM90.5 109.3h1.1v1.1h-1.1zM79.5 124.0h1.1v1.1h-1.1zM67.7 133.0h1.1v1.1h-1.1zM102.7 99.6h1.1v1.1h-1.1zM91.4 112.0h1.1v1.1h-1.1zM85.4 116.7h1.1v1.1h-1.1zM65.1 137.1h1.1v1.1h-1.1zM71.8 124.3h1.1v1.1h-1.1zM101.3 101.1h1.1v1.1h-1.1zM81.1 121.9h1.1v1.1h-1.1zM94.7 109.5h1.1v1.1h-1.1zM99.6 108.4h1.1v1.1h-1.1zM104.3 99.3h1.1v1.1h-1.1zM92.9 112.0h1.1v1.1h-1.1zM76.1 121.2h1.1v1.1h-1.1zM84.8 118.9h1.1v1.1h-1.1zM65.9 133.3h1.1v1.1h-1.1zM76.5 125.8h1.1v1.1h-1.1zM76.8 127.7h1.1v1.1h-1.1zM67.3 136.5h1.1v1.1h-1.1zM83.1 122.6h1.1v1.1h-1.1zM66.7 138.9h1.1v1.1h-1.1zM85.7 121.4h1.1v1.1h-1.1zM93.7 115.4h1.1v1.1h-1.1zM69.1 134.9h1.1v1.1h-1.1zM68.7 133.9h1.1v1.1h-1.1zM83.3 124.0h1.1v1.1h-1.1zM104.5 102.3h1.1v1.1h-1.1zM88.6 112.9h1.1v1.1h-1.1zM83.5 122.8h1.1v1.1h-1.1zM77.3 121.1h1.1v1.1h-1.1zM75.8 130.9h1.1v1.1h-1.1zM95.4 114.8h1.1v1.1h-1.1zM67.0 133.4h1.1v1.1h-1.1zM76.0 125.9h1.1v1.1h-1.1zM82.4 122.6h1.1v1.1h-1.1zM72.6 131.5h1.1v1.1h-1.1zM107.6 98.4h1.1v1.1h-1.1zM99.9 108.1h1.1v1.1h-1.1zM69.0 132.6h1.1v1.1h-1.1zM78.0 124.7h1.1v1.1h-1.1zM77.0 129.0h1.1v1.1h-1.1zM81.6 119.7h1.1v1.1h-1.1zM66.1 133.9h1.1v1.1h-1.1zM74.4 124.5h1.1v1.1h-1.1zM81.7 116.8h1.1v1.1h-1.1zM83.1 121.6h1.1v1.1h-1.1zM82.0 121.9h1.1v1.1h-1.1zM79.7 126.4h1.1v1.1h-1.1zM84.6 123.1h1.1v1.1h-1.1zM91.2 114.8h1.1v1.1h-1.1zM77.2 126.5h1.1v1.1h-1.1zM82.7 117.4h1.1v1.1h-1.1zM75.8 127.3h1.1v1.1h-1.1zM82.7 124.2h1.1v1.1h-1.1zM93.7 110.6h1.1v1.1h-1.1zM92.7 114.0h1.1v1.1h-1.1zM92.9 112.9h1.1v1.1h-1.1zM78.2 124.2h1.1v1.1h-1.1zM93.8 111.0h1.1v1.1h-1.1zM97.2 107.6h1.1v1.1h-1.1zM72.1 128.8h1.1v1.1h-1.1zM99.8 100.5h1.1v1.1h-1.1zM67.1 135.2h1.1v1.1h-1.1zM62.9 133.9h1.1v1.1h-1.1zM69.6 134.3h1.1v1.1h-1.1zM80.7 119.9h1.1v1.1h-1.1zM86.8 117.4h1.1v1.1h-1.1zM66.9 133.7h1.1v1.1h-1.1zM102.4 106.7h1.1v1.1h-1.1zM65.9 130.9h1.1v1.1h-1.1zM97.0 105.5h1.1v1.1h-1.1zM72.7 132.8h1.1v1.1h-1.1zM81.4 117.3h1.1v1.1h-1.1zM70.4 132.9h1.1v1.1h-1.1zM62.7 131.8h1.1v1.1h-1.1zM107.1 99.0h1.1v1.1h-1.1zM70.0 130.5h1.1v1.1h-1.1zM99.3 105.9h1.1v1.1h-1.1zM81.6 121.9h1.1v1.1h-1.1zM105.4 99.0h1.1v1.1h-1.1zM106.3 99.1h1.1v1.1h-1.1zM77.3 125.4h1.1v1.1h-1.1zM84.1 122.8h1.1v1.1h-1.1zM68.6 128.9h1.1v1.1h-1.1zM79.6 123.5h1.1v1.1h-1.1zM59.9 134.8h1.1v1.1h-1.1zM81.0 125.8h1.1v1.1h-1.1zM77.4 121.0h1.1v1.1h-1.1zM113.5 92.5h1.1v1.1h-1.1zM95.4 107.1h1.1v1.1h-1.1zM87.8 112.7h1.1v1.1h-1.1zM94.6 112.6h1.1v1.1h-1.1zM97.4 111.3h1.1v1.1h-1.1zM83.8 118.3h1.1v1.1h-1.1zM75.4 123.4h1.1v1.1h-1.1zM106.6 101.2h1.1v1.1h-1.1zM63.8 130.5h1.1v1.1h-1.1zM68.7 130.8h1.1v1.1h-1.1zM69.1 132.0h1.1v1.1h-1.1zM88.2 117.2h1.1v1.1h-1.1zM76.9 128.6h1.1v1.1h-1.1zM79.0 124.2h1.1v1.1h-1.1zM61.8 134.7h1.1v1.1h-1.1zM72.5 129.5h1.1v1.1h-1.1zM107.1 101.8h1.1v1.1h-1.1zM64.0 135.9h1.1v1.1h-1.1zM101.9 106.4h1.1v1.1h-1.1zM69.2 135.0h1.1v1.1h-1.1zM68.5 132.1h1.1v1.1h-1.1zM81.4 124.0h1.1v1.1h-1.1zM82.3 119.2h1.1v1.1h-1.1zM84.9 114.8h1.1v1.1h-1.1zM72.2 126.9h1.1v1.1h-1.1zM93.3 115.3h1.1v1.1h-1.1zM91.6 113.8h1.1v1.1h-1.1zM101.3 102.2h1.1v1.1h-1.1zM86.9 121.3h1.1v1.1h-1.1zM89.5 113.3h1.1v1.1h-1.1zM82.9 120.1h1.1v1.1h-1.1zM77.8 127.1h1.1v1.1h-1.1zM96.5 106.1h1.1v1.1h-1.1zM96.1 113.3h1.1v1.1h-1.1zM79.2 124.4h1.1v1.1h-1.1zM74.0 130.9h1.1v1.1h-1.1zM106.5 100.9h1.1v1.1h-1.1zM64.0 134.0h1.1v1.1h-1.1zM93.8 109.6h1.1v1.1h-1.1zM83.9 121.6h1.1v1.1h-1.1zM99.7 107.4h1.1v1.1h-1.1zM78.6 118.7h1.1v1.1h-1.1zM68.6 126.9h1.1v1.1h-1.1zM77.3 130.0h1.1v1.1h-1.1zM80.0 121.1h1.1v1.1h-1.1zM72.1 135.2h1.1v1.1h-1.1zM98.6 108.6h1.1v1.1h-1.1zM103.6 97.7h1.1v1.1h-1.1zM106.8 99.7h1.1v1.1h-1.1zM66.1 137.6h1.1v1.1h-1.1zM99.7 104.0h1.1v1.1h-1.1zM89.4 111.7h1.1v1.1h-1.1zM70.7 135.2h1.1v1.1h-1.1zM74.9 125.2h1.1v1.1h-1.1zM78.3 121.9h1.1v1.1h-1.1zM67.9 128.2h1.1v1.1h-1.1zM62.8 138.7h1.1v1.1h-1.1zM72.9 130.3h1.1v1.1h-1.1zM101.3 103.5h1.1v1.1h-1.1zM100.3 102.1h1.1v1.1h-1.1zM102.1 101.9h1.1v1.1h-1.1zM100.8 103.7h1.1v1.1h-1.1zM95.9 108.5h1.1v1.1h-1.1zM86.4 118.1h1.1v1.1h-1.1zM92.7 107.6h1.1v1.1h-1.1zM75.9 126.8h1.1v1.1h-1.1zM75.6 123.0h1.1v1.1h-1.1zM94.5 114.1h1.1v1.1h-1.1zM99.4 106.0h1.1v1.1h-1.1zM84.9 119.8h1.1v1.1h-1.1zM73.5 128.6h1.1v1.1h-1.1zM88.8 115.0h1.1v1.1h-1.1zM106.6 103.0h1.1v1.1h-1.1zM86.5 116.4h1.1v1.1h-1.1zM95.0 107.8h1.1v1.1h-1.1zM83.7 119.1h1.1v1.1h-1.1zM89.0 117.5h1.1v1.1h-1.1zM83.0 124.4h1.1v1.1h-1.1zM77.6 122.6h1.1v1.1h-1.1zM103.6 102.5h1.1v1.1h-1.1zM97.7 112.3h1.1v1.1h-1.1zM67.6 134.6h1.1v1.1h-1.1zM110.6 95.9h1.1v1.1h-1.1zM91.9 110.0h1.1v1.1h-1.1zM82.4 120.9h1.1v1.1h-1.1zM87.7 115.3h1.1v1.1h-1.1zM64.7 135.2h1.1v1.1h-1.1zM79.3 123.7h1.1v1.1h-1.1zM92.9 117.1h1.1v1.1h-1.1zM77.2 123.0h1.1v1.1h-1.1zM91.6 113.1h1.1v1.1h-1.1zM91.5 111.5h1.1v1.1h-1.1zM91.1 110.5h1.1v1.1h-1.1zM98.2 108.2h1.1v1.1h-1.1zM76.2 125.2h1.1v1.1h-1.1zM99.9 108.8h1.1v1.1h-1.1zM68.9 132.2h1.1v1.1h-1.1zM76.2 128.2h1.1v1.1h-1.1zM101.2 102.9h1.1v1.1h-1.1zM91.6 109.7h1.1v1.1h-1.1zM96.0 105.3h1.1v1.1h-1.1zM99.8 106.7h1.1v1.1h-1.1zM113.2 94.6h1.1v1.1h-1.1zM102.6 100.6h1.1v1.1h-1.1zM66.0 135.9h1.1v1.1h-1.1zM79.9 127.7h1.1v1.1h-1.1zM61.4 137.3h1.1v1.1h-1.1zM76.1 128.1h1.1v1.1h-1.1zM93.9 110.5h1.1v1.1h-1.1zM95.2 106.9h1.1v1.1h-1.1zM61.8 134.4h1.1v1.1h-1.1zM98.4 110.3h1.1v1.1h-1.1zM86.8 113.4h1.1v1.1h-1.1zM65.4 133.8h1.1v1.1h-1.1zM96.0 108.9h1.1v1.1h-1.1zM85.9 121.9h1.1v1.1h-1.1zM72.5 123.0h1.1v1.1h-1.1zM87.4 116.4h1.1v1.1h-1.1zM100.1 103.7h1.1v1.1h-1.1zM80.3 124.9h1.1v1.1h-1.1zM106.4 99.9h1.1v1.1h-1.1zM100.8 104.7h1.1v1.1h-1.1zM103.5 106.7h1.1v1.1h-1.1zM95.4 109.9h1.1v1.1h-1.1zM71.9 125.5h1.1v1.1h-1.1zM96.4 108.6h1.1v1.1h-1.1zM75.3 125.3h1.1v1.1h-1.1zM68.4 132.1h1.1v1.1h-1.1zM84.0 117.2h1.1v1.1h-1.1zM99.7 102.1h1.1v1.1h-1.1zM87.7 118.5h1.1v1.1h-1.1zM98.4 109.2h1.1v1.1h-1.1zM91.2 109.2h1.1v1.1h-1.1zM90.9 113.8h1.1v1.1h-1.1zM87.6 117.7h1.1v1.1h-1.1zM70.5 127.6h1.1v1.1h-1.1zM75.7 124.3h1.1v1.1h-1.1zM81.9 124.0h1.1v1.1h-1.1zM80.0 121.6h1.1v1.1h-1.1zM65.4 136.2h1.1v1.1h-1.1zM66.0 132.9h1.1v1.1h-1.1zM74.3 130.0h1.1v1.1h-1.1zM71.2 127.1h1.1v1.1h-1.1zM88.2 114.4h1.1v1.1h-1.1zM99.9 106.4h1.1v1.1h-1.1zM94.1 115.1h1.1v1.1h-1.1zM92.4 111.8h1.1v1.1h-1.1zM78.9 123.9h1.1v1.1h-1.1zM75.8 126.2h1.1v1.1h-1.1zM108.6 102.5h1.1v1.1h-1.1zM115.2 94.7h1.1v1.1h-1.1zM83.9 118.1h1.1v1.1h-1.1zM92.1 117.8h1.1v1.1h-1.1zM83.4 120.8h1.1v1.1h-1.1zM66.8 132.1h1.1v1.1h-1.1zM78.2 120.4h1.1v1.1h-1.1zM62.8 135.6h1.1v1.1h-1.1zM80.3 121.9h1.1v1.1h-1.1zM79.9 120.3h1.1v1.1h-1.1zM109.1 93.7h1.1v1.1h-1.1zM77.0 123.2h1.1v1.1h-1.1zM70.5 133.4h1.1v1.1h-1.1zM101.8 102.2h1.1v1.1h-1.1zM67.1 131.5h1.1v1.1h-1.1zM67.5 128.5h1.1v1.1h-1.1zM75.3 128.8h1.1v1.1h-1.1zM78.0 125.2h1.1v1.1h-1.1zM90.4 119.8h1.1v1.1h-1.1zM92.5 112.0h1.1v1.1h-1.1zM76.6 122.2h1.1v1.1h-1.1zM66.1 135.6h1.1v1.1h-1.1zM101.1 102.5h1.1v1.1h-1.1zM69.2 132.6h1.1v1.1h-1.1zM90.9 111.4h1.1v1.1h-1.1zM86.0 114.5h1.1v1.1h-1.1zM98.9 109.9h1.1v1.1h-1.1zM106.8 102.4h1.1v1.1h-1.1zM73.5 129.5h1.1v1.1h-1.1zM111.7 98.0h1.1v1.1h-1.1zM82.4 124.8h1.1v1.1h-1.1zM80.9 121.3h1.1v1.1h-1.1zM80.1 124.1h1.1v1.1h-1.1zM87.6 118.2h1.1v1.1h-1.1zM85.2 117.7h1.1v1.1h-1.1zM82.5 121.2h1.1v1.1h-1.1zM101.8 104.2h1.1v1.1h-1.1zM78.2 120.8h1.1v1.1h-1.1zM86.1 116.6h1.1v1.1h-1.1zM98.5 107.1h1.1v1.1h-1.1zM80.8 121.4h1.1v1.1h-1.1zM100.2 108.2h1.1v1.1h-1.1zM96.2 110.7h1.1v1.1h-1.1zM85.6 118.4h1.1v1.1h-1.1zM68.9 131.2h1.1v1.1h-1.1zM93.1 114.7h1.1v1.1h-1.1zM77.0 126.6h1.1v1.1h-1.1zM98.5 106.9h1.1v1.1h-1.1zM78.4 128.0h1.1v1.1h-1.1zM63.2 138.1h1.1v1.1h-1.1zM82.7 118.7h1.1v1.1h-1.1zM80.6 122.9h1.1v1.1h-1.1zM62.5 133.4h1.1v1.1h-1.1zM87.2 115.8h1.1v1.1h-1.1zM80.6 119.2h1.1v1.1h-1.1zM99.6 106.0h1.1v1.1h-1.1zM91.0 114.0h1.1v1.1h-1.1zM72.7 127.7h1.1v1.1h-1.1zM78.9 121.9h1.1v1.1h-1.1zM69.4 131.6h1.1v1.1h-1.1zM106.5 102.0h1.1v1.1h-1.1zM79.5 123.8h1.1v1.1h-1.1zM69.2 131.3h1.1v1.1h-1.1zM84.5 115.5h1.1v1.1h-1.1zM78.6 126.2h1.1v1.1h-1.1zM66.9 131.7h1.1v1.1h-1.1zM66.6 131.8h1.1v1.1h-1.1zM101.0 106.9h1.1v1.1h-1.1zM72.8 124.5h1.1v1.1h-1.1zM101.6 100.6h1.1v1.1h-1.1zM112.8 97.9h1.1v1.1h-1.1zM90.3 114.6h1.1v1.1h-1.1zM84.5 118.0h1.1v1.1h-1.1zM95.0 107.9h1.1v1.1h-1.1zM100.3 107.8h1.1v1.1h-1.1zM88.6 119.6h1.1v1.1h-1.1zM98.2 109.4h1.1v1.1h-1.1zM105.8 100.2h1.1v1.1h-1.1zM74.1 129.9h1.1v1.1h-1.1zM96.5 108.7h1.1v1.1h-1.1zM98.6 105.3h1.1v1.1h-1.1zM61.2 133.1h1.1v1.1h-1.1zM99.1 109.2h1.1v1.1h-1.1zM72.1 130.6h1.1v1.1h-1.1zM94.0 111.5h1.1v1.1h-1.1zM116.1 90.2h1.1v1.1h-1.1zM102.0 108.3h1.1v1.1h-1.1zM87.4 112.4h1.1v1.1h-1.1zM76.1 129.0h1.1v1.1h-1.1zM67.7 127.1h1.1v1.1h-1.1zM81.7 126.9h1.1v1.1h-1.1zM95.2 111.8h1.1v1.1h-1.1zM74.1 124.1h1.1v1.1h-1.1zM98.3 108.7h1.1v1.1h-1.1zM65.0 133.2h1.1v1.1h-1.1zM77.6 126.4h1.1v1.1h-1.1zM96.8 104.1h1.1v1.1h-1.1zM99.3 105.1h1.1v1.1h-1.1zM107.1 101.7h1.1v1.1h-1.1zM85.7 118.7h1.1v1.1h-1.1zM85.4 117.2h1.1v1.1h-1.1zM104.8 102.7h1.1v1.1h-1.1zM67.6 134.7h1.1v1.1h-1.1zM87.6 117.9h1.1v1.1h-1.1zM77.7 120.6h1.1v1.1h-1.1zM63.8 134.3h1.1v1.1h-1.1zM96.0 109.0h1.1v1.1h-1.1zM99.4 103.7h1.1v1.1h-1.1zM78.2 127.7h1.1v1.1h-1.1zM80.5 126.0h1.1v1.1h-1.1zM80.7 120.6h1.1v1.1h-1.1zM74.6 129.7h1.1v1.1h-1.1zM70.5 130.8h1.1v1.1h-1.1zM96.7 106.1h1.1v1.1h-1.1zM94.6 109.5h1.1v1.1h-1.1zM80.7 121.4h1.1v1.1h-1.1zM71.8 128.1h1.1v1.1h-1.1zM94.3 106.5h1.1v1.1h-1.1zM100.5 105.0h1.1v1.1h-1.1zM101.7 105.6h1.1v1.1h-1.1zM67.5 129.6h1.1v1.1h-1.1zM99.2 103.0h1.1v1.1h-1.1zM67.7 130.1h1.1v1.1h-1.1zM69.6 132.5h1.1v1.1h-1.1zM70.9 130.5h1.1v1.1h-1.1zM59.6 136.5h1.1v1.1h-1.1zM104.5 102.1h1.1v1.1h-1.1zM92.8 113.6h1.1v1.1h-1.1zM77.1 124.4h1.1v1.1h-1.1zM73.2 127.9h1.1v1.1h-1.1zM105.4 103.4h1.1v1.1h-1.1zM98.8 106.9h1.1v1.1h-1.1zM72.3 133.6h1.1v1.1h-1.1zM99.5 101.0h1.1v1.1h-1.1zM76.4 124.8h1.1v1.1h-1.1zM107.3 97.1h1.1v1.1h-1.1zM81.8 124.0h1.1v1.1h-1.1zM93.7 111.1h1.1v1.1h-1.1zM68.0 133.6h1.1v1.1h-1.1zM112.5 95.2h1.1v1.1h-1.1zM88.2 116.3h1.1v1.1h-1.1zM98.4 110.1h1.1v1.1h-1.1zM101.2 106.6h1.1v1.1h-1.1zM68.1 131.3h1.1v1.1h-1.1zM101.5 101.6h1.1v1.1h-1.1zM64.8 134.4h1.1v1.1h-1.1zM75.9 127.5h1.1v1.1h-1.1zM69.6 134.4h1.1v1.1h-1.1zM69.7 134.5h1.1v1.1h-1.1zM93.0 113.4h1.1v1.1h-1.1zM66.9 131.1h1.1v1.1h-1.1zM66.3 136.2h1.1v1.1h-1.1zM81.8 124.8h1.1v1.1h-1.1zM84.6 117.0h1.1v1.1h-1.1zM83.3 121.4h1.1v1.1h-1.1zM103.5 104.4h1.1v1.1h-1.1zM80.0 125.3h1.1v1.1h-1.1zM115.6 91.9h1.1v1.1h-1.1zM91.3 117.9h1.1v1.1h-1.1zM93.3 111.5h1.1v1.1h-1.1zM66.7 130.1h1.1v1.1h-1.1zM102.4 106.5h1.1v1.1h-1.1zM86.7 116.1h1.1v1.1h-1.1zM67.1 133.5h1.1v1.1h-1.1zM75.4 125.1h1.1v1.1h-1.1zM96.8 105.2h1.1v1.1h-1.1zM91.0 110.2h1.1v1.1h-1.1zM72.4 135.1h1.1v1.1h-1.1zM111.0 95.2h1.1v1.1h-1.1zM98.2 107.9h1.1v1.1h-1.1zM96.4 114.0h1.1v1.1h-1.1zM76.3 123.7h1.1v1.1h-1.1zM64.0 135.8h1.1v1.1h-1.1zM97.9 104.9h1.1v1.1h-1.1zM112.2 94.6h1.1v1.1h-1.1zM73.2 130.2h1.1v1.1h-1.1zM64.3 137.4h1.1v1.1h-1.1zM111.7 95.0h1.1v1.1h-1.1zM72.4 126.1h1.1v1.1h-1.1zM98.8 103.4h1.1v1.1h-1.1zM84.0 115.0h1.1v1.1h-1.1zM68.9 134.4h1.1v1.1h-1.1zM92.9 111.4h1.1v1.1h-1.1zM107.3 100.8h1.1v1.1h-1.1zM75.9 122.8h1.1v1.1h-1.1zM65.8 135.8h1.1v1.1h-1.1zM80.1 117.9h1.1v1.1h-1.1zM103.2 102.9h1.1v1.1h-1.1zM63.1 135.6h1.1v1.1h-1.1zM83.5 120.7h1.1v1.1h-1.1zM93.3 108.1h1.1v1.1h-1.1zM106.2 96.4h1.1v1.1h-1.1zM71.4 133.8h1.1v1.1h-1.1zM77.2 120.0h1.1v1.1h-1.1zM64.1 135.9h1.1v1.1h-1.1zM75.7 127.3h1.1v1.1h-1.1zM83.7 114.8h1.1v1.1h-1.1zM86.1 119.8h1.1v1.1h-1.1zM74.0 130.9h1.1v1.1h-1.1zM101.5 104.3h1.1v1.1h-1.1zM85.6 116.9h1.1v1.1h-1.1zM65.0 133.2h1.1v1.1h-1.1zM95.7 109.9h1.1v1.1h-1.1zM78.9 119.9h1.1v1.1h-1.1zM97.2 113.0h1.1v1.1h-1.1zM112.9 94.0h1.1v1.1h-1.1zM87.3 110.9h1.1v1.1h-1.1zM79.9 122.3h1.1v1.1h-1.1zM98.2 109.4h1.1v1.1h-1.1zM77.6 128.2h1.1v1.1h-1.1zM70.5 128.3h1.1v1.1h-1.1zM107.8 99.6h1.1v1.1h-1.1zM65.3 133.5h1.1v1.1h-1.1zM79.5 122.4h1.1v1.1h-1.1zM93.4 109.6h1.1v1.1h-1.1zM105.6 100.7h1.1v1.1h-1.1zM89.3 116.1h1.1v1.1h-1.1zM65.8 136.9h1.1v1.1h-1.1zM79.6 123.0h1.1v1.1h-1.1zM69.5 127.7h1.1v1.1h-1.1zM88.2 116.2h1.1v1.1h-1.1zM96.6 105.0h1.1v1.1h-1.1zM103.1 102.9h1.1v1.1h-1.1zM116.3 88.9h1.1v1.1h-1.1zM72.2 131.0h1.1v1.1h-1.1zM94.3 108.8h1.1v1.1h-1.1zM105.6 102.7h1.1v1.1h-1.1zM93.5 113.1h1.1v1.1h-1.1zM104.9 106.0h1.1v1.1h-1.1zM69.8 131.3h1.1v1.1h-1.1zM81.6 122.9h1.1v1.1h-1.1zM75.1 125.7h1.1v1.1h-1.1zM95.8 111.7h1.1v1.1h-1.1zM79.6 121.2h1.1v1.1h-1.1zM72.7 131.3h1.1v1.1h-1.1zM90.0 114.2h1.1v1.1h-1.1zM114.4 89.8h1.1v1.1h-1.1zM79.7 123.9h1.1v1.1h-1.1zM61.6 135.7h1.1v1.1h-1.1zM79.7 122.9h1.1v1.1h-1.1zM79.4 120.3h1.1v1.1h-1.1zM86.8 118.2h1.1v1.1h-1.1zM69.5 131.7h1.1v1.1h-1.1zM99.3 106.1h1.1v1.1h-1.1zM91.9 109.3h1.1v1.1h-1.1zM80.7 120.0h1.1v1.1h-1.1zM67.5 132.8h1.1v1.1h-1.1zM72.5 126.7h1.1v1.1h-1.1zM98.9 106.3h1.1v1.1h-1.1zM76.0 121.9h1.1v1.1h-1.1zM84.9 118.7h1.1v1.1h-1.1zM79.0 121.4h1.1v1.1h-1.1zM79.7 123.6h1.1v1.1h-1.1zM71.5 127.9h1.1v1.1h-1.1zM79.9 122.2h1.1v1.1h-1.1zM97.8 109.7h1.1v1.1h-1.1zM93.7 105.6h1.1v1.1h-1.1zM85.9 120.9h1.1v1.1h-1.1zM98.5 110.4h1.1v1.1h-1.1zM84.1 120.9h1.1v1.1h-1.1zM81.3 124.2h1.1v1.1h-1.1zM99.2 107.2h1.1v1.1h-1.1zM71.7 129.3h1.1v1.1h-1.1zM94.5 114.4h1.1v1.1h-1.1zM65.2 133.6h1.1v1.1h-1.1zM99.7 110.0h1.1v1.1h-1.1zM101.2 106.2h1.1v1.1h-1.1zM76.4 125.9h1.1v1.1h-1.1zM79.6 125.4h1.1v1.1h-1.1zM92.6 111.3h1.1v1.1h-1.1zM64.8 134.9h1.1v1.1h-1.1zM82.0 119.8h1.1v1.1h-1.1zM92.9 110.8h1.1v1.1h-1.1zM94.9 112.6h1.1v1.1h-1.1zM84.9 118.4h1.1v1.1h-1.1zM93.9 106.2h1.1v1.1h-1.1zM96.4 106.4h1.1v1.1h-1.1zM75.2 123.8h1.1v1.1h-1.1zM82.1 122.1h1.1v1.1h-1.1zM96.7 106.0h1.1v1.1h-1.1zM92.4 106.9h1.1v1.1h-1.1zM71.4 130.7h1.1v1.1h-1.1zM89.7 116.2h1.1v1.1h-1.1zM93.4 106.7h1.1v1.1h-1.1zM71.7 130.1h1.1v1.1h-1.1zM96.9 106.5h1.1v1.1h-1.1zM93.6 111.9h1.1v1.1h-1.1zM89.1 112.4h1.1v1.1h-1.1zM97.7 109.0h1.1v1.1h-1.1zM80.0 121.7h1.1v1.1h-1.1zM73.1 127.2h1.1v1.1h-1.1zM82.0 125.0h1.1v1.1h-1.1zM101.9 102.8h1.1v1.1h-1.1zM82.2 120.6h1.1v1.1h-1.1zM72.2 128.9h1.1v1.1h-1.1zM79.1 122.9h1.1v1.1h-1.1zM85.1 119.9h1.1v1.1h-1.1zM97.6 105.9h1.1v1.1h-1.1z" fill="#000000" fill-opacity="0.4"/>
<path d="M91.9 110.3h1.1v1.1h-1.1zM75.2 121.6h1.1v1.1h-1.1zM83.9 117.0h1.1v1.1h-1.1zM92.6 114.7h1.1v1.1h-1.1zM96.6 106.7h1.1v1.1h-1.1zM88.1 117.3h1.1v1.1h-1.1zM68.0 135.8h1.1v1.1h-1.1zM88.8 115.6h1.1v1.1h-1.1zM83.4 121.1h1.1v1.1h-1.1zM104.3 103.1h1.1v1.1h-1.1zM65.8 130.3h1.1v1.1h-1.1zM76.4 127.8h1.1v1.1h-1.1zM101.9 103.8h1.1v1.1h-1.1zM84.5 122.6h1.1v1.1h-1.1zM71.7 126.9h1.1v1.1h-1.1zM95.9 109.3h1.1v1.1h-1.1zM77.7 121.9h1.1v1.1h-1.1zM94.5 112.0h1.1v1.1h-1.1zM72.5 126.6h1.1v1.1h-1.1zM82.2 120.1h1.1v1.1h-1.1zM103.6 103.0h1.1v1.1h-1.1zM77.7 125.3h1.1v1.1h-1.1zM75.6 129.4h1.1v1.1h-1.1zM93.0 109.9h1.1v1.1h-1.1zM82.6 121.3h1.1v1.1h-1.1zM78.9 116.8h1.1v1.1h-1.1zM76.2 123.8h1.1v1.1h-1.1zM91.6 112.2h1.1v1.1h-1.1zM82.5 118.4h1.1v1.1h-1.1zM87.9 120.4h1.1v1.1h-1.1zM81.1 125.2h1.1v1.1h-1.1zM63.1 132.1h1.1v1.1h-1.1zM81.8 125.6h1.1v1.1h-1.1zM80.1 124.5h1.1v1.1h-1.1zM67.4 135.6h1.1v1.1h-1.1zM107.1 99.4h1.1v1.1h-1.1zM103.9 103.0h1.1v1.1h-1.1zM91.2 114.6h1.1v1.1h-1.1zM108.6 96.7h1.1v1.1h-1.1zM103.9 98.8h1.1v1.1h-1.1zM70.0 134.9h1.1v1.1h-1.1zM81.8 117.8h1.1v1.1h-1.1zM102.2 107.8h1.1v1.1h-1.1zM86.8 117.4h1.1v1.1h-1.1zM102.5 104.8h1.1v1.1h-1.1zM74.3 129.4h1.1v1.1h-1.1zM95.0 111.8h1.1v1.1h-1.1zM98.5 109.2h1.1v1.1h-1.1zM83.7 124.1h1.1v1.1h-1.1zM109.2 94.4h1.1v1.1h-1.1zM91.6 113.1h1.1v1.1h-1.1zM104.1 103.4h1.1v1.1h-1.1zM78.4 120.8h1.1v1.1h-1.1zM85.9 120.1h1.1v1.1h-1.1zM93.1 112.6h1.1v1.1h-1.1zM71.2 128.9h1.1v1.1h-1.1zM78.3 122.0h1.1v1.1h-1.1zM108.8 96.7h1.1v1.1h-1.1zM62.5 136.0h1.1v1.1h-1.1zM99.0 103.5h1.1v1.1h-1.1zM106.8 100.0h1.1v1.1h-1.1zM101.1 101.7h1.1v1.1h-1.1zM105.6 100.0h1.1v1.1h-1.1zM64.6 130.5h1.1v1.1h-1.1zM67.2 129.9h1.1v1.1h-1.1zM82.7 119.7h1.1v1.1h-1.1zM69.5 130.3h1.1v1.1h-1.1zM83.5 120.7h1.1v1.1h-1.1zM92.5 117.2h1.1v1.1h-1.1zM97.5 107.0h1.1v1.1h-1.1zM82.9 114.8h1.1v1.1h-1.1zM107.1 99.1h1.1v1.1h-1.1zM64.1 135.4h1.1v1.1h-1.1zM92.6 115.4h1.1v1.1h-1.1zM96.8 108.1h1.1v1.1h-1.1zM87.6 119.4h1.1v1.1h-1.1zM98.0 109.4h1.1v1.1h-1.1zM85.6 118.8h1.1v1.1h-1.1zM90.2 114.0h1.1v1.1h-1.1zM75.4 125.3h1.1v1.1h-1.1zM83.4 117.5h1.1v1.1h-1.1zM75.4 127.3h1.1v1.1h-1.1zM90.6 116.1h1.1v1.1h-1.1zM107.7 96.8h1.1v1.1h-1.1zM82.9 116.5h1.1v1.1h-1.1zM97.6 105.0h1.1v1.1h-1.1zM76.3 129.8h1.1v1.1h-1.1zM90.9 116.5h1.1v1.1h-1.1zM108.5 99.7h1.1v1.1h-1.1zM88.3 117.1h1.1v1.1h-1.1zM72.2 128.9h1.1v1.1h-1.1zM86.3 117.6h1.1v1.1h-1.1zM90.1 112.6h1.1v1.1h-1.1zM107.6 99.5h1.1v1.1h-1.1zM79.7 124.7h1.1v1.1h-1.1zM64.6 133.1h1.1v1.1h-1.1zM71.2 130.8h1.1v1.1h-1.1zM88.3 117.9h1.1v1.1h-1.1zM80.8 123.2h1.1v1.1h-1.1zM77.0 123.4h1.1v1.1h-1.1zM75.3 127.8h1.1v1.1h-1.1zM94.4 108.0h1.1v1.1h-1.1zM70.4 130.0h1.1v1.1h-1.1zM106.0 98.5h1.1v1.1h-1.1zM89.8 118.7h1.1v1.1h-1.1zM75.1 127.4h1.1v1.1h-1.1zM71.0 130.0h1.1v1.1h-1.1zM84.0 119.3h1.1v1.1h-1.1zM82.0 121.5h1.1v1.1h-1.1zM101.9 106.8h1.1v1.1h-1.1zM104.1 103.8h1.1v1.1h-1.1zM87.9 115.5h1.1v1.1h-1.1zM117.8 87.5h1.1v1.1h-1.1zM96.8 107.3h1.1v1.1h-1.1zM97.0 109.2h1.1v1.1h-1.1zM94.7 109.4h1.1v1.1h-1.1zM80.9 124.1h1.1v1.1h-1.1zM73.4 127.1h1.1v1.1h-1.1zM89.2 112.3h1.1v1.1h-1.1zM90.1 116.6h1.1v1.1h-1.1zM114.9 92.7h1.1v1.1h-1.1zM98.5 103.7h1.1v1.1h-1.1zM72.0 132.7h1.1v1.1h-1.1zM81.6 123.2h1.1v1.1h-1.1zM104.5 103.0h1.1v1.1h-1.1zM91.0 114.0h1.1v1.1h-1.1zM70.6 125.3h1.1v1.1h-1.1zM76.2 119.9h1.1v1.1h-1.1zM107.5 99.2h1.1v1.1h-1.1zM111.5 92.2h1.1v1.1h-1.1zM94.8 111.2h1.1v1.1h-1.1zM69.9 128.3h1.1v1.1h-1.1zM63.4 131.1h1.1v1.1h-1.1zM91.9 111.3h1.1v1.1h-1.1zM79.7 123.4h1.1v1.1h-1.1zM90.6 115.9h1.1v1.1h-1.1zM82.5 125.6h1.1v1.1h-1.1zM96.7 110.0h1.1v1.1h-1.1zM78.7 120.2h1.1v1.1h-1.1zM108.7 97.2h1.1v1.1h-1.1zM67.9 132.2h1.1v1.1h-1.1zM71.4 129.9h1.1v1.1h-1.1zM88.8 113.8h1.1v1.1h-1.1zM77.4 122.4h1.1v1.1h-1.1zM69.2 135.4h1.1v1.1h-1.1zM72.6 131.3h1.1v1.1h-1.1zM67.3 134.8h1.1v1.1h-1.1zM89.6 115.0h1.1v1.1h-1.1zM84.2 115.8h1.1v1.1h-1.1zM98.5 108.5h1.1v1.1h-1.1zM90.1 113.4h1.1v1.1h-1.1zM81.9 117.6h1.1v1.1h-1.1zM106.0 99.7h1.1v1.1h-1.1zM84.0 116.2h1.1v1.1h-1.1zM106.1 101.2h1.1v1.1h-1.1zM75.0 125.9h1.1v1.1h-1.1zM91.4 116.2h1.1v1.1h-1.1zM93.5 112.4h1.1v1.1h-1.1zM68.3 128.3h1.1v1.1h-1.1zM74.9 126.1h1.1v1.1h-1.1zM119.2 88.5h1.1v1.1h-1.1zM100.5 105.3h1.1v1.1h-1.1zM77.6 125.6h1.1v1.1h-1.1zM113.4 96.6h1.1v1.1h-1.1zM89.6 115.5h1.1v1.1h-1.1zM72.2 132.7h1.1v1.1h-1.1zM80.1 120.2h1.1v1.1h-1.1zM78.0 126.3h1.1v1.1h-1.1zM82.0 119.7h1.1v1.1h-1.1zM116.6 89.7h1.1v1.1h-1.1zM81.2 120.1h1.1v1.1h-1.1zM71.0 130.4h1.1v1.1h-1.1zM99.3 108.6h1.1v1.1h-1.1zM67.2 131.6h1.1v1.1h-1.1zM90.4 114.8h1.1v1.1h-1.1zM71.3 127.0h1.1v1.1h-1.1zM92.1 107.0h1.1v1.1h-1.1zM99.5 106.1h1.1v1.1h-1.1zM96.0 111.4h1.1v1.1h-1.1zM66.5 132.3h1.1v1.1h-1.1zM64.4 133.9h1.1v1.1h-1.1zM84.7 119.5h1.1v1.1h-1.1zM93.4 111.0h1.1v1.1h-1.1zM87.7 117.0h1.1v1.1h-1.1zM74.1 127.4h1.1v1.1h-1.1zM87.8 114.3h1.1v1.1h-1.1zM82.1 127.0h1.1v1.1h-1.1zM78.9 119.5h1.1v1.1h-1.1zM67.6 132.8h1.1v1.1h-1.1zM72.5 130.1h1.1v1.1h-1.1zM89.6 115.9h1.1v1.1h-1.1zM73.7 126.1h1.1v1.1h-1.1zM67.8 130.7h1.1v1.1h-1.1zM96.5 108.9h1.1v1.1h-1.1zM68.9 133.8h1.1v1.1h-1.1zM99.0 106.3h1.1v1.1h-1.1zM81.0 123.6h1.1v1.1h-1.1zM67.4 130.5h1.1v1.1h-1.1zM81.9 115.2h1.1v1.1h-1.1zM79.6 122.3h1.1v1.1h-1.1zM94.5 107.7h1.1v1.1h-1.1zM80.9 122.4h1.1v1.1h-1.1zM72.1 130.9h1.1v1.1h-1.1zM104.3 100.5h1.1v1.1h-1.1zM62.9 136.5h1.1v1.1h-1.1zM74.6 127.7h1.1v1.1h-1.1zM70.3 130.7h1.1v1.1h-1.1zM81.6 122.6h1.1v1.1h-1.1zM69.3 129.9h1.1v1.1h-1.1zM102.8 105.1h1.1v1.1h-1.1zM63.1 133.8h1.1v1.1h-1.1zM85.6 121.6h1.1v1.1h-1.1zM65.2 136.0h1.1v1.1h-1.1zM65.6 134.9h1.1v1.1h-1.1zM90.1 115.6h1.1v1.1h-1.1zM104.4 100.8h1.1v1.1h-1.1zM90.1 115.1h1.1v1.1h-1.1zM97.9 107.5h1.1v1.1h-1.1zM70.7 132.4h1.1v1.1h-1.1zM91.2 115.8h1.1v1.1h-1.1zM76.0 127.2h1.1v1.1h-1.1zM90.6 114.2h1.1v1.1h-1.1zM63.1 134.5h1.1v1.1h-1.1zM95.6 110.2h1.1v1.1h-1.1zM76.1 124.0h1.1v1.1h-1.1zM91.0 109.8h1.1v1.1h-1.1zM88.9 115.8h1.1v1.1h-1.1zM94.6 112.4h1.1v1.1h-1.1zM90.4 118.9h1.1v1.1h-1.1zM81.9 118.9h1.1v1.1h-1.1zM63.4 135.7h1.1v1.1h-1.1zM93.5 112.0h1.1v1.1h-1.1zM73.2 127.6h1.1v1.1h-1.1zM98.5 109.9h1.1v1.1h-1.1zM99.7 101.2h1.1v1.1h-1.1zM72.2 129.1h1.1v1.1h-1.1zM69.8 130.1h1.1v1.1h-1.1zM81.8 123.9h1.1v1.1h-1.1zM96.1 110.0h1.1v1.1h-1.1zM95.0 105.0h1.1v1.1h-1.1zM103.7 102.1h1.1v1.1h-1.1zM65.3 132.2h1.1v1.1h-1.1zM91.5 112.1h1.1v1.1h-1.1zM93.9 108.7h1.1v1.1h-1.1zM87.4 116.2h1.1v1.1h-1.1zM83.1 122.0h1.1v1.1h-1.1zM78.0 121.9h1.1v1.1h-1.1zM73.8 127.4h1.1v1.1h-1.1zM96.0 109.8h1.1v1.1h-1.1zM89.9 112.5h1.1v1.1h-1.1zM86.7 116.7h1.1v1.1h-1.1zM90.2 114.8h1.1v1.1h-1.1zM99.0 104.9h1.1v1.1h-1.1zM78.0 124.8h1.1v1.1h-1.1zM99.9 109.4h1.1v1.1h-1.1zM72.7 124.7h1.1v1.1h-1.1zM70.4 126.4h1.1v1.1h-1.1zM113.3 93.2h1.1v1.1h-1.1zM70.2 128.5h1.1v1.1h-1.1zM101.0 106.8h1.1v1.1h-1.1zM67.2 133.9h1.1v1.1h-1.1zM85.0 115.0h1.1v1.1h-1.1zM110.5 93.6h1.1v1.1h-1.1zM95.9 111.8h1.1v1.1h-1.1zM88.7 114.0h1.1v1.1h-1.1zM100.7 103.9h1.1v1.1h-1.1zM108.9 98.1h1.1v1.1h-1.1zM82.9 121.3h1.1v1.1h-1.1zM91.9 114.3h1.1v1.1h-1.1zM82.7 123.4h1.1v1.1h-1.1zM91.8 108.2h1.1v1.1h-1.1zM74.5 127.3h1.1v1.1h-1.1zM70.1 130.5h1.1v1.1h-1.1zM99.2 105.8h1.1v1.1h-1.1zM74.6 123.5h1.1v1.1h-1.1zM74.5 132.7h1.1v1.1h-1.1zM72.5 125.2h1.1v1.1h-1.1zM73.2 124.9h1.1v1.1h-1.1zM86.6 117.9h1.1v1.1h-1.1zM106.7 101.5h1.1v1.1h-1.1zM86.0 119.7h1.1v1.1h-1.1zM94.9 110.0h1.1v1.1h-1.1zM92.2 115.9h1.1v1.1h-1.1zM94.3 109.5h1.1v1.1h-1.1zM72.1 124.8h1.1v1.1h-1.1zM91.0 113.4h1.1v1.1h-1.1zM86.3 119.0h1.1v1.1h-1.1zM84.6 113.4h1.1v1.1h-1.1zM91.6 114.4h1.1v1.1h-1.1zM88.2 119.3h1.1v1.1h-1.1zM65.9 132.7h1.1v1.1h-1.1zM82.9 120.8h1.1v1.1h-1.1zM70.8 134.4h1.1v1.1h-1.1zM84.6 120.7h1.1v1.1h-1.1zM92.5 113.2h1.1v1.1h-1.1zM87.3 115.0h1.1v1.1h-1.1zM85.5 122.1h1.1v1.1h-1.1zM64.3 139.2h1.1v1.1h-1.1zM77.0 129.1h1.1v1.1h-1.1zM79.4 125.0h1.1v1.1h-1.1zM77.2 125.3h1.1v1.1h-1.1zM89.8 116.0h1.1v1.1h-1.1zM70.6 130.7h1.1v1.1h-1.1zM95.7 109.2h1.1v1.1h-1.1zM80.4 117.4h1.1v1.1h-1.1zM70.8 130.1h1.1v1.1h-1.1zM96.5 111.2h1.1v1.1h-1.1zM86.0 112.0h1.1v1.1h-1.1zM98.8 103.8h1.1v1.1h-1.1zM62.4 138.9h1.1v1.1h-1.1zM77.8 123.9h1.1v1.1h-1.1zM71.6 130.9h1.1v1.1h-1.1zM83.5 115.6h1.1v1.1h-1.1zM87.9 116.6h1.1v1.1h-1.1zM79.3 124.1h1.1v1.1h-1.1zM85.2 114.8h1.1v1.1h-1.1zM106.9 100.5h1.1v1.1h-1.1zM92.1 112.4h1.1v1.1h-1.1zM119.0 88.4h1.1v1.1h-1.1zM73.7 130.0h1.1v1.1h-1.1zM95.6 104.9h1.1v1.1h-1.1zM101.8 105.0h1.1v1.1h-1.1zM88.0 111.0h1.1v1.1h-1.1zM76.4 125.9h1.1v1.1h-1.1zM66.3 130.7h1.1v1.1h-1.1zM90.9 119.4h1.1v1.1h-1.1zM71.3 133.2h1.1v1.1h-1.1zM98.7 108.6h1.1v1.1h-1.1zM100.6 105.2h1.1v1.1h-1.1zM72.4 130.8h1.1v1.1h-1.1zM92.3 114.3h1.1v1.1h-1.1zM72.6 129.8h1.1v1.1h-1.1zM65.9 134.3h1.1v1.1h-1.1zM91.7 116.5h1.1v1.1h-1.1zM62.3 135.1h1.1v1.1h-1.1zM80.4 126.1h1.1v1.1h-1.1zM85.5 114.6h1.1v1.1h-1.1zM66.6 134.2h1.1v1.1h-1.1zM97.8 106.1h1.1v1.1h-1.1zM85.5 117.9h1.1v1.1h-1.1zM84.7 118.0h1.1v1.1h-1.1zM79.9 120.9h1.1v1.1h-1.1zM75.9 121.8h1.1v1.1h-1.1zM72.1 135.2h1.1v1.1h-1.1zM107.7 98.8h1.1v1.1h-1.1zM65.7 130.5h1.1v1.1h-1.1zM77.7 123.6h1.1v1.1h-1.1zM100.4 104.3h1.1v1.1h-1.1zM78.2 120.9h1.1v1.1h-1.1zM62.0 136.7h1.1v1.1h-1.1zM84.7 121.9h1.1v1.1h-1.1zM92.3 112.0h1.1v1.1h-1.1zM96.8 109.1h1.1v1.1h-1.1zM111.0 94.1h1.1v1.1h-1.1zM72.2 127.9h1.1v1.1h-1.1zM73.7 122.1h1.1v1.1h-1.1zM93.6 110.6h1.1v1.1h-1.1zM68.5 128.7h1.1v1.1h-1.1zM77.5 123.5h1.1v1.1h-1.1zM76.8 124.0h1.1v1.1h-1.1zM83.1 122.3h1.1v1.1h-1.1zM67.7 131.5h1.1v1.1h-1.1zM86.6 121.6h1.1v1.1h-1.1zM80.6 118.7h1.1v1.1h-1.1zM92.9 113.4h1.1v1.1h-1.1zM81.5 126.4h1.1v1.1h-1.1zM66.1 135.0h1.1v1.1h-1.1zM92.9 112.5h1.1v1.1h-1.1zM66.7 133.8h1.1v1.1h-1.1zM88.2 115.3h1.1v1.1h-1.1zM89.9 112.5h1.1v1.1h-1.1zM98.7 104.0h1.1v1.1h-1.1zM82.2 125.1h1.1v1.1h-1.1zM117.2 89.2h1.1v1.1h-1.1zM76.2 129.6h1.1v1.1h-1.1zM81.8 125.7h1.1v1.1h-1.1zM77.3 126.5h1.1v1.1h-1.1zM97.0 106.0h1.1v1.1h-1.1zM90.3 114.3h1.1v1.1h-1.1zM112.6 92.3h1.1v1.1h-1.1zM90.3 108.8h1.1v1.1h-1.1zM77.5 125.8h1.1v1.1h-1.1zM73.5 129.6h1.1v1.1h-1.1zM73.3 134.8h1.1v1.1h-1.1zM90.9 116.1h1.1v1.1h-1.1zM90.3 111.9h1.1v1.1h-1.1zM89.6 113.1h1.1v1.1h-1.1zM78.2 124.6h1.1v1.1h-1.1zM95.9 109.1h1.1v1.1h-1.1zM90.0 112.0h1.1v1.1h-1.1zM95.8 110.7h1.1v1.1h-1.1zM76.0 122.6h1.1v1.1h-1.1zM105.6 101.2h1.1v1.1h-1.1zM67.0 134.7h1.1v1.1h-1.1zM88.8 114.1h1.1v1.1h-1.1zM91.1 114.6h1.1v1.1h-1.1zM63.0 138.5h1.1v1.1h-1.1zM100.7 104.8h1.1v1.1h-1.1zM77.7 125.3h1.1v1.1h-1.1zM80.9 122.5h1.1v1.1h-1.1zM83.5 118.6h1.1v1.1h-1.1zM62.7 134.0h1.1v1.1h-1.1zM69.7 137.0h1.1v1.1h-1.1zM83.7 124.1h1.1v1.1h-1.1zM111.4 98.0h1.1v1.1h-1.1zM72.5 125.8h1.1v1.1h-1.1zM104.4 97.7h1.1v1.1h-1.1zM76.6 126.0h1.1v1.1h-1.1zM102.7 104.0h1.1v1.1h-1.1zM84.6 122.4h1.1v1.1h-1.1zM101.8 102.9h1.1v1.1h-1.1zM71.7 130.4h1.1v1.1h-1.1zM81.2 118.5h1.1v1.1h-1.1zM68.5 130.1h1.1v1.1h-1.1zM67.3 136.6h1.1v1.1h-1.1zM64.0 135.2h1.1v1.1h-1.1zM100.6 107.0h1.1v1.1h-1.1zM70.7 128.9h1.1v1.1h-1.1zM99.6 110.1h1.1v1.1h-1.1zM106.4 101.5h1.1v1.1h-1.1zM106.5 100.0h1.1v1.1h-1.1zM71.0 133.9h1.1v1.1h-1.1zM94.5 114.5h1.1v1.1h-1.1zM96.3 105.3h1.1v1.1h-1.1zM71.8 126.0h1.1v1.1h-1.1zM84.5 121.6h1.1v1.1h-1.1zM76.8 122.6h1.1v1.1h-1.1zM73.2 130.0h1.1v1.1h-1.1zM75.2 126.0h1.1v1.1h-1.1zM101.5 104.1h1.1v1.1h-1.1zM81.9 121.1h1.1v1.1h-1.1zM97.4 106.3h1.1v1.1h-1.1zM95.7 109.8h1.1v1.1h-1.1zM103.7 99.9h1.1v1.1h-1.1zM73.1 123.5h1.1v1.1h-1.1zM97.7 109.8h1.1v1.1h-1.1zM69.4 130.9h1.1v1.1h-1.1zM66.4 129.2h1.1v1.1h-1.1zM85.3 120.3h1.1v1.1h-1.1zM105.6 100.3h1.1v1.1h-1.1zM64.1 134.4h1.1v1.1h-1.1zM77.9 120.0h1.1v1.1h-1.1zM104.1 106.5h1.1v1.1h-1.1zM60.6 135.8h1.1v1.1h-1.1zM83.1 121.8h1.1v1.1h-1.1zM105.4 102.8h1.1v1.1h-1.1zM67.5 131.7h1.1v1.1h-1.1zM67.5 129.9h1.1v1.1h-1.1zM71.8 131.7h1.1v1.1h-1.1zM76.6 126.7h1.1v1.1h-1.1zM92.9 112.8h1.1v1.1h-1.1zM66.2 128.7h1.1v1.1h-1.1zM65.0 136.1h1.1v1.1h-1.1zM80.5 120.4h1.1v1.1h-1.1zM86.5 115.0h1.1v1.1h-1.1zM72.2 132.3h1.1v1.1h-1.1zM67.8 129.4h1.1v1.1h-1.1zM72.8 127.3h1.1v1.1h-1.1zM64.3 132.9h1.1v1.1h-1.1zM64.1 133.7h1.1v1.1h-1.1zM87.0 116.3h1.1v1.1h-1.1zM97.6 110.7h1.1v1.1h-1.1zM74.2 124.1h1.1v1.1h-1.1zM71.6 126.4h1.1v1.1h-1.1zM88.9 116.5h1.1v1.1h-1.1zM77.2 128.9h1.1v1.1h-1.1zM100.4 105.7h1.1v1.1h-1.1zM68.5 131.0h1.1v1.1h-1.1zM103.3 98.7h1.1v1.1h-1.1zM74.9 124.0h1.1v1.1h-1.1zM91.2 117.4h1.1v1.1h-1.1zM86.1 115.8h1.1v1.1h-1.1zM79.6 122.5h1.1v1.1h-1.1zM90.5 112.3h1.1v1.1h-1.1zM104.9 103.0h1.1v1.1h-1.1zM68.5 131.1h1.1v1.1h-1.1zM76.2 124.6h1.1v1.1h-1.1zM94.1 112.3h1.1v1.1h-1.1zM95.6 111.3h1.1v1.1h-1.1zM111.9 94.3h1.1v1.1h-1.1zM93.0 113.1h1.1v1.1h-1.1zM103.3 103.4h1.1v1.1h-1.1zM64.0 135.1h1.1v1.1h-1.1zM79.5 118.5h1.1v1.1h-1.1zM81.9 122.1h1.1v1.1h-1.1zM70.7 132.4h1.1v1.1h-1.1zM100.3 102.8h1.1v1.1h-1.1zM74.4 129.9h1.1v1.1h-1.1zM101.3 103.7h1.1v1.1h-1.1zM95.6 108.3h1.1v1.1h-1.1zM72.6 132.7h1.1v1.1h-1.1zM99.1 106.9h1.1v1.1h-1.1zM93.0 112.6h1.1v1.1h-1.1zM70.6 129.0h1.1v1.1h-1.1zM94.4 109.1h1.1v1.1h-1.1zM105.1 102.1h1.1v1.1h-1.1zM71.6 130.9h1.1v1.1h-1.1zM86.1 123.4h1.1v1.1h-1.1zM107.2 100.2h1.1v1.1h-1.1zM108.6 98.2h1.1v1.1h-1.1zM81.5 121.6h1.1v1.1h-1.1zM83.9 117.4h1.1v1.1h-1.1zM79.6 124.9h1.1v1.1h-1.1zM63.7 133.3h1.1v1.1h-1.1zM83.8 122.5h1.1v1.1h-1.1zM95.3 107.1h1.1v1.1h-1.1zM88.4 116.6h1.1v1.1h-1.1zM64.6 136.2h1.1v1.1h-1.1zM94.5 112.1h1.1v1.1h-1.1zM79.5 119.8h1.1v1.1h-1.1zM63.6 136.5h1.1v1.1h-1.1zM92.1 113.9h1.1v1.1h-1.1zM101.2 100.5h1.1v1.1h-1.1zM69.6 132.1h1.1v1.1h-1.1zM112.3 94.6h1.1v1.1h-1.1zM73.9 128.5h1.1v1.1h-1.1zM72.2 129.2h1.1v1.1h-1.1zM75.4 128.8h1.1v1.1h-1.1zM102.4 102.3h1.1v1.1h-1.1zM92.5 110.9h1.1v1.1h-1.1zM99.6 107.9h1.1v1.1h-1.1zM81.9 125.2h1.1v1.1h-1.1zM69.5 133.4h1.1v1.1h-1.1zM92.7 111.7h1.1v1.1h-1.1zM73.9 131.7h1.1v1.1h-1.1zM88.2 114.3h1.1v1.1h-1.1zM77.9 125.3h1.1v1.1h-1.1zM110.5 96.7h1.1v1.1h-1.1zM92.5 110.6h1.1v1.1h-1.1zM96.8 110.3h1.1v1.1h-1.1zM99.0 104.6h1.1v1.1h-1.1zM109.7 92.6h1.1v1.1h-1.1zM77.8 123.2h1.1v1.1h-1.1zM82.7 117.6h1.1v1.1h-1.1zM103.1 102.0h1.1v1.1h-1.1zM102.0 105.0h1.1v1.1h-1.1zM62.7 135.4h1.1v1.1h-1.1zM65.3 132.9h1.1v1.1h-1.1zM104.2 101.6h1.1v1.1h-1.1zM89.0 112.0h1.1v1.1h-1.1zM98.9 106.7h1.1v1.1h-1.1zM63.8 134.5h1.1v1.1h-1.1zM108.7 97.2h1.1v1.1h-1.1zM92.6 108.5h1.1v1.1h-1.1zM68.7 132.4h1.1v1.1h-1.1zM92.5 116.3h1.1v1.1h-1.1zM108.0 98.8h1.1v1.1h-1.1zM103.5 98.9h1.1v1.1h-1.1zM93.9 114.1h1.1v1.1h-1.1zM78.8 120.7h1.1v1.1h-1.1zM62.9 133.9h1.1v1.1h-1.1zM88.1 117.5h1.1v1.1h-1.1zM103.9 106.4h1.1v1.1h-1.1zM96.0 110.8h1.1v1.1h-1.1zM66.0 133.8h1.1v1.1h-1.1zM64.3 138.1h1.1v1.1h-1.1zM76.2 124.5h1.1v1.1h-1.1zM105.2 104.1h1.1v1.1h-1.1zM98.7 105.6h1.1v1.1h-1.1zM63.5 134.6h1.1v1.1h-1.1zM92.1 109.4h1.1v1.1h-1.1zM75.7 125.6h1.1v1.1h-1.1zM73.7 126.3h1.1v1.1h-1.1zM78.8 120.2h1.1v1.1h-1.1zM101.1 100.1h1.1v1.1h-1.1zM100.3 105.9h1.1v1.1h-1.1zM78.5 123.9h1.1v1.1h-1.1zM90.0 113.2h1.1v1.1h-1.1zM90.1 112.1h1.1v1.1h-1.1zM103.4 99.9h1.1v1.1h-1.1zM82.8 121.6h1.1v1.1h-1.1zM82.3 124.2h1.1v1.1h-1.1zM70.0 132.8h1.1v1.1h-1.1zM97.2 109.8h1.1v1.1h-1.1zM81.8 120.4h1.1v1.1h-1.1zM71.6 133.3h1.1v1.1h-1.1zM94.1 109.9h1.1v1.1h-1.1zM93.8 110.7h1.1v1.1h-1.1zM95.2 108.1h1.1v1.1h-1.1zM68.4 133.0h1.1v1.1h-1.1zM99.6 109.3h1.1v1.1h-1.1zM69.0 126.1h1.1v1.1h-1.1zM70.4 132.9h1.1v1.1h-1.1zM66.6 135.5h1.1v1.1h-1.1zM80.2 127.1h1.1v1.1h-1.1zM94.7 111.2h1.1v1.1h-1.1zM89.8 118.8h1.1v1.1h-1.1zM88.6 113.8h1.1v1.1h-1.1zM63.0 132.9h1.1v1.1h-1.1zM93.4 108.6h1.1v1.1h-1.1zM88.9 111.7h1.1v1.1h-1.1zM70.9 128.0h1.1v1.1h-1.1zM70.7 125.7h1.1v1.1h-1.1zM61.8 134.7h1.1v1.1h-1.1zM78.2 123.1h1.1v1.1h-1.1zM94.0 110.5h1.1v1.1h-1.1zM99.4 104.3h1.1v1.1h-1.1zM83.5 120.0h1.1v1.1h-1.1zM74.3 125.7h1.1v1.1h-1.1zM96.0 109.7h1.1v1.1h-1.1zM95.4 110.3h1.1v1.1h-1.1zM89.5 113.8h1.1v1.1h-1.1zM92.3 110.9h1.1v1.1h-1.1zM66.3 137.1h1.1v1.1h-1.1zM99.5 103.6h1.1v1.1h-1.1zM80.1 119.7h1.1v1.1h-1.1zM80.9 118.6h1.1v1.1h-1.1zM86.7 113.8h1.1v1.1h-1.1zM77.6 121.3h1.1v1.1h-1.1zM68.4 130.3h1.1v1.1h-1.1zM89.0 117.7h1.1v1.1h-1.1zM64.5 136.5h1.1v1.1h-1.1zM82.3 120.3h1.1v1.1h-1.1zM64.5 137.8h1.1v1.1h-1.1zM78.6 123.4h1.1v1.1h-1.1zM65.5 136.7h1.1v1.1h-1.1zM98.3 108.1h1.1v1.1h-1.1zM95.1 109.2h1.1v1.1h-1.1zM75.3 124.1h1.1v1.1h-1.1zM79.9 124.3h1.1v1.1h-1.1zM95.9 110.8h1.1v1.1h-1.1zM73.1 127.2h1.1v1.1h-1.1zM77.0 121.6h1.1v1.1h-1.1zM103.2 104.7h1.1v1.1h-1.1zM76.0 131.6h1.1v1.1h-1.1zM124.3 83.2h1.1v1.1h-1.1zM101.7 107.6h1.1v1.1h-1.1zM96.4 107.0h1.1v1.1h-1.1zM101.4 105.6h1.1v1.1h-1.1zM77.2 125.2h1.1v1.1h-1.1zM100.2 107.3h1.1v1.1h-1.1zM92.5 109.1h1.1v1.1h-1.1zM68.8 134.7h1.1v1.1h-1.1zM73.4 128.2h1.1v1.1h-1.1zM93.9 107.4h1.1v1.1h-1.1zM90.1 111.9h1.1v1.1h-1.1zM65.8 132.7h1.1v1.1h-1.1zM106.4 103.2h1.1v1.1h-1.1zM96.8 105.7h1.1v1.1h-1.1zM83.1 123.5h1.1v1.1h-1.1zM110.8 93.5h1.1v1.1h-1.1zM64.5 132.2h1.1v1.1h-1.1zM95.7 109.6h1.1v1.1h-1.1zM73.4 130.0h1.1v1.1h-1.1zM85.3 119.7h1.1v1.1h-1.1zM93.3 111.5h1.1v1.1h-1.1zM82.1 122.0h1.1v1.1h-1.1zM88.3 120.4h1.1v1.1h-1.1zM79.1 125.1h1.1v1.1h-1.1zM74.5 128.1h1.1v1.1h-1.1zM100.6 104.5h1.1v1.1h-1.1zM106.3 100.0h1.1v1.1h-1.1zM69.2 129.7h1.1v1.1h-1.1zM82.7 119.2h1.1v1.1h-1.1zM82.9 119.8h1.1v1.1h-1.1zM102.4 102.1h1.1v1.1h-1.1zM71.6 129.8h1.1v1.1h-1.1zM74.4 122.2h1.1v1.1h-1.1zM63.9 135.3h1.1v1.1h-1.1zM73.8 126.1h1.1v1.1h-1.1zM76.8 127.3h1.1v1.1h-1.1zM89.8 111.9h1.1v1.1h-1.1zM87.7 114.4h1.1v1.1h-1.1zM84.2 120.2h1.1v1.1h-1.1zM81.8 123.8h1.1v1.1h-1.1zM67.0 135.1h1.1v1.1h-1.1zM100.3 109.8h1.1v1.1h-1.1zM76.9 127.8h1.1v1.1h-1.1zM98.8 108.6h1.1v1.1h-1.1zM97.8 110.5h1.1v1.1h-1.1zM80.3 121.1h1.1v1.1h-1.1zM84.6 123.9h1.1v1.1h-1.1zM103.4 102.5h1.1v1.1h-1.1zM69.4 129.1h1.1v1.1h-1.1zM63.2 138.6h1.1v1.1h-1.1zM86.4 119.1h1.1v1.1h-1.1zM86.4 119.0h1.1v1.1h-1.1zM69.3 128.7h1.1v1.1h-1.1zM72.1 127.4h1.1v1.1h-1.1zM97.0 109.9h1.1v1.1h-1.1zM96.1 109.3h1.1v1.1h-1.1zM92.4 114.4h1.1v1.1h-1.1zM102.9 103.1h1.1v1.1h-1.1zM94.8 113.4h1.1v1.1h-1.1zM69.3 133.8h1.1v1.1h-1.1zM72.1 128.8h1.1v1.1h-1.1zM96.7 106.5h1.1v1.1h-1.1zM75.5 124.3h1.1v1.1h-1.1zM79.1 125.5h1.1v1.1h-1.1zM67.7 132.2h1.1v1.1h-1.1zM77.7 126.6h1.1v1.1h-1.1zM84.5 121.7h1.1v1.1h-1.1zM75.2 129.6h1.1v1.1h-1.1zM89.1 111.4h1.1v1.1h-1.1zM85.0 113.2h1.1v1.1h-1.1zM101.8 103.9h1.1v1.1h-1.1zM91.5 111.8h1.1v1.1h-1.1zM73.9 130.5h1.1v1.1h-1.1zM104.3 99.7h1.1v1.1h-1.1zM88.2 117.1h1.1v1.1h-1.1zM87.1 113.3h1.1v1.1h-1.1zM79.9 125.1h1.1v1.1h-1.1zM67.9 129.9h1.1v1.1h-1.1zM68.9 129.8h1.1v1.1h-1.1zM102.1 101.6h1.1v1.1h-1.1zM75.9 124.0h1.1v1.1h-1.1zM94.5 111.0h1.1v1.1h-1.1zM102.9 103.7h1.1v1.1h-1.1zM83.5 118.5h1.1v1.1h-1.1zM75.6 124.9h1.1v1.1h-1.1zM96.9 106.1h1.1v1.1h-1.1zM73.6 125.1h1.1v1.1h-1.1zM71.1 126.1h1.1v1.1h-1.1zM59.9 138.4h1.1v1.1h-1.1zM103.9 105.3h1.1v1.1h-1.1zM85.1 120.3h1.1v1.1h-1.1zM105.0 102.0h1.1v1.1h-1.1zM109.0 98.7h1.1v1.1h-1.1zM90.1 117.0h1.1v1.1h-1.1zM85.7 123.0h1.1v1.1h-1.1zM95.5 109.0h1.1v1.1h-1.1zM104.2 99.5h1.1v1.1h-1.1zM112.5 93.5h1.1v1.1h-1.1zM110.9 95.5h1.1v1.1h-1.1zM74.2 125.3h1.1v1.1h-1.1zM84.0 115.1h1.1v1.1h-1.1zM95.1 115.3h1.1v1.1h-1.1zM92.0 114.1h1.1v1.1h-1.1zM116.3 86.3h1.1v1.1h-1.1zM98.9 108.0h1.1v1.1h-1.1zM83.1 114.5h1.1v1.1h-1.1zM103.2 102.1h1.1v1.1h-1.1zM102.9 104.1h1.1v1.1h-1.1zM87.6 112.5h1.1v1.1h-1.1zM68.0 133.2h1.1v1.1h-1.1zM104.2 105.7h1.1v1.1h-1.1zM88.0 114.4h1.1v1.1h-1.1zM70.5 129.6h1.1v1.1h-1.1zM98.5 107.2h1.1v1.1h-1.1zM98.2 111.2h1.1v1.1h-1.1zM105.7 105.1h1.1v1.1h-1.1zM75.7 126.3h1.1v1.1h-1.1zM77.6 131.1h1.1v1.1h-1.1zM90.7 111.7h1.1v1.1h-1.1zM71.3 131.2h1.1v1.1h-1.1zM76.1 125.1h1.1v1.1h-1.1zM101.0 106.8h1.1v1.1h-1.1zM76.5 123.9h1.1v1.1h-1.1zM84.6 114.8h1.1v1.1h-1.1zM81.0 122.2h1.1v1.1h-1.1zM90.8 111.2h1.1v1.1h-1.1zM95.7 110.4h1.1v1.1h-1.1zM101.5 104.9h1.1v1.1h-1.1zM103.3 104.8h1.1v1.1h-1.1zM77.1 129.7h1.1v1.1h-1.1zM106.8 99.0h1.1v1.1h-1.1zM69.9 132.1h1.1v1.1h-1.1zM81.9 125.3h1.1v1.1h-1.1zM96.3 112.3h1.1v1.1h-1.1zM80.4 120.2h1.1v1.1h-1.1zM81.4 119.1h1.1v1.1h-1.1zM72.7 127.7h1.1v1.1h-1.1zM97.4 103.7h1.1v1.1h-1.1zM74.3 128.8h1.1v1.1h-1.1zM83.8 122.2h1.1v1.1h-1.1zM106.1 101.3h1.1v1.1h-1.1zM92.5 110.6h1.1v1.1h-1.1zM68.2 132.2h1.1v1.1h-1.1zM92.8 112.8h1.1v1.1h-1.1zM93.2 114.7h1.1v1.1h-1.1zM80.6 115.9h1.1v1.1h-1.1zM84.0 114.6h1.1v1.1h-1.1zM67.1 133.8h1.1v1.1h-1.1zM64.4 132.5h1.1v1.1h-1.1zM86.3 122.1h1.1v1.1h-1.1zM69.5 132.5h1.1v1.1h-1.1zM72.0 130.7h1.1v1.1h-1.1zM82.3 119.9h1.1v1.1h-1.1zM113.2 94.4h1.1v1.1h-1.1zM89.2 116.3h1.1v1.1h-1.1zM69.4 132.5h1.1v1.1h-1.1zM63.7 134.8h1.1v1.1h-1.1zM101.1 105.4h1.1v1.1h-1.1zM103.0 106.7h1.1v1.1h-1.1zM80.1 121.0h1.1v1.1h-1.1zM71.4 132.6h1.1v1.1h-1.1zM96.7 105.6h1.1v1.1h-1.1zM78.5 124.1h1.1v1.1h-1.1zM83.6 121.0h1.1v1.1h-1.1zM101.4 104.8h1.1v1.1h-1.1zM88.1 113.7h1.1v1.1h-1.1zM113.8 89.8h1.1v1.1h-1.1zM74.1 127.8h1.1v1.1h-1.1zM88.0 119.1h1.1v1.1h-1.1zM109.2 96.8h1.1v1.1h-1.1zM72.6 129.6h1.1v1.1h-1.1zM88.4 116.8h1.1v1.1h-1.1zM83.6 119.5h1.1v1.1h-1.1zM75.9 126.8h1.1v1.1h-1.1zM93.6 112.7h1.1v1.1h-1.1zM76.4 124.2h1.1v1.1h-1.1zM69.0 135.5h1.1v1.1h-1.1zM96.5 106.4h1.1v1.1h-1.1zM83.4 113.7h1.1v1.1h-1.1zM61.8 136.0h1.1v1.1h-1.1zM91.2 114.2h1.1v1.1h-1.1zM89.4 111.8h1.1v1.1h-1.1zM81.4 121.3h1.1v1.1h-1.1zM98.2 102.7h1.1v1.1h-1.1zM71.7 128.3h1.1v1.1h-1.1zM67.3 134.0h1.1v1.1h-1.1zM89.8 116.8h1.1v1.1h-1.1zM98.8 109.6h1.1v1.1h-1.1zM81.8 122.8h1.1v1.1h-1.1zM98.9 103.1h1.1v1.1h-1.1zM101.7 103.6h1.1v1.1h-1.1zM96.2 110.6h1.1v1.1h-1.1zM74.7 124.3h1.1v1.1h-1.1zM87.5 115.3h1.1v1.1h-1.1zM91.2 109.0h1.1v1.1h-1.1zM78.0 124.9h1.1v1.1h-1.1zM77.5 130.0h1.1v1.1h-1.1zM66.5 134.8h1.1v1.1h-1.1zM59.7 135.9h1.1v1.1h-1.1zM109.6 96.7h1.1v1.1h-1.1zM99.6 105.5h1.1v1.1h-1.1zM76.7 124.9h1.1v1.1h-1.1zM98.7 107.2h1.1v1.1h-1.1zM82.7 122.6h1.1v1.1h-1.1zM94.9 107.1h1.1v1.1h-1.1zM71.6 132.6h1.1v1.1h-1.1zM80.9 125.4h1.1v1.1h-1.1zM85.6 115.3h1.1v1.1h-1.1zM78.4 128.3h1.1v1.1h-1.1zM70.5 128.4h1.1v1.1h-1.1zM79.9 124.7h1.1v1.1h-1.1zM101.1 107.6h1.1v1.1h-1.1zM80.3 121.1h1.1v1.1h-1.1zM88.6 114.7h1.1v1.1h-1.1zM76.9 130.2h1.1v1.1h-1.1z" fill="#000000" fill-opacity="0.4"/>
<path d="M106.7 98.7h1.1v1.1h-1.1zM87.9 113.0h1.1v1.1h-1.1zM73.1 132.9h1.1v1.1h-1.1zM116.2 88.3h1.1v1.1h-1.1zM90.1 119.4h1.1v1.1h-1.1zM63.5 130.9h1.1v1.1h-1.1zM75.5 122.6h1.1v1.1h-1.1zM93.9 111.1h1.1v1.1h-1.1zM76.9 124.0h1.1v1.1h-1.1zM66.5 136.4h1.1v1.1h-1.1zM93.8 112.0h1.1v1.1h-1.1zM71.5 135.0h1.1v1.1h-1.1zM72.6 135.2h1.1v1.1h-1.1zM87.5 117.8h1.1v1.1h-1.1zM88.3 118.1h1.1v1.1h-1.1zM103.8 103.2h1.1v1.1h-1.1zM101.3 103.9h1.1v1.1h-1.1zM92.1 115.1h1.1v1.1h-1.1zM89.1 117.5h1.1v1.1h-1.1zM100.0 104.6h1.1v1.1h-1.1zM86.8 122.1h1.1v1.1h-1.1zM77.8 124.8h1.1v1.1h-1.1zM69.0 131.5h1.1v1.1h-1.1zM72.1 128.7h1.1v1.1h-1.1zM73.4 127.6h1.1v1.1h-1.1zM93.1 110.7h1.1v1.1h-1.1zM108.8 96.3h1.1v1.1h-1.1zM64.2 137.0h1.1v1.1h-1.1zM105.9 99.9h1.1v1.1h-1.1zM74.8 127.0h1.1v1.1h-1.1zM79.5 124.3h1.1v1.1h-1.1zM101.3 105.0h1.1v1.1h-1.1zM91.8 112.4h1.1v1.1h-1.1zM88.3 113.9h1.1v1.1h-1.1zM86.3 118.2h1.1v1.1h-1.1zM89.7 109.6h1.1v1.1h-1.1zM69.7 128.4h1.1v1.1h-1.1zM97.3 105.4h1.1v1.1h-1.1zM80.9 121.7h1.1v1.1h-1.1zM94.2 107.3h1.1v1.1h-1.1zM79.6 122.8h1.1v1.1h-1.1zM93.3 108.5h1.1v1.1h-1.1zM84.6 117.6h1.1v1.1h-1.1zM108.0 100.0h1.1v1.1h-1.1zM81.7 122.7h1.1v1.1h-1.1zM70.8 127.8h1.1v1.1h-1.1zM75.2 125.8h1.1v1.1h-1.1zM86.9 117.8h1.1v1.1h-1.1zM67.4 130.7h1.1v1.1h-1.1zM67.0 131.0h1.1v1.1h-1.1zM71.0 128.5h1.1v1.1h-1.1zM79.4 124.5h1.1v1.1h-1.1zM90.0 116.0h1.1v1.1h-1.1zM76.5 124.1h1.1v1.1h-1.1zM72.2 129.3h1.1v1.1h-1.1zM72.4 131.1h1.1v1.1h-1.1zM69.0 129.0h1.1v1.1h-1.1zM94.4 113.4h1.1v1.1h-1.1zM88.4 115.3h1.1v1.1h-1.1zM106.8 102.0h1.1v1.1h-1.1zM66.1 135.8h1.1v1.1h-1.1zM99.6 101.3h1.1v1.1h-1.1zM75.4 122.5h1.1v1.1h-1.1zM69.6 132.5h1.1v1.1h-1.1zM99.3 107.7h1.1v1.1h-1.1zM84.2 117.8h1.1v1.1h-1.1zM78.1 125.3h1.1v1.1h-1.1zM72.6 129.5h1.1v1.1h-1.1zM68.5 126.8h1.1v1.1h-1.1zM60.9 137.0h1.1v1.1h-1.1zM70.3 130.0h1.1v1.1h-1.1zM93.8 112.9h1.1v1.1h-1.1zM73.3 131.9h1.1v1.1h-1.1zM91.6 110.4h1.1v1.1h-1.1zM90.4 115.7h1.1v1.1h-1.1zM91.4 114.6h1.1v1.1h-1.1zM75.0 126.2h1.1v1.1h-1.1zM86.6 118.5h1.1v1.1h-1.1zM61.9 133.4h1.1v1.1h-1.1zM76.1 125.0h1.1v1.1h-1.1zM86.2 118.1h1.1v1.1h-1.1zM105.1 101.4h1.1v1.1h-1.1zM87.9 114.9h1.1v1.1h-1.1zM66.2 136.9h1.1v1.1h-1.1zM72.9 123.4h1.1v1.1h-1.1zM78.1 122.2h1.1v1.1h-1.1zM87.0 118.7h1.1v1.1h-1.1zM109.7 95.7h1.1v1.1h-1.1zM84.1 121.6h1.1v1.1h-1.1zM70.1 130.4h1.1v1.1h-1.1zM103.4 101.4h1.1v1.1h-1.1zM74.2 125.0h1.1v1.1h-1.1zM77.9 122.0h1.1v1.1h-1.1zM85.4 114.5h1.1v1.1h-1.1zM107.8 96.2h1.1v1.1h-1.1zM83.6 116.0h1.1v1.1h-1.1zM77.6 123.6h1.1v1.1h-1.1zM64.7 138.4h1.1v1.1h-1.1zM110.9 94.9h1.1v1.1h-1.1zM66.1 132.5h1.1v1.1h-1.1zM105.7 103.7h1.1v1.1h-1.1zM65.3 134.5h1.1v1.1h-1.1zM100.7 105.7h1.1v1.1h-1.1zM82.4 117.7h1.1v1.1h-1.1zM94.7 106.6h1.1v1.1h-1.1zM82.0 120.6h1.1v1.1h-1.1zM110.9 97.7h1.1v1.1h-1.1zM105.3 96.7h1.1v1.1h-1.1zM69.3 131.0h1.1v1.1h-1.1zM82.8 119.0h1.1v1.1h-1.1zM69.3 130.8h1.1v1.1h-1.1zM81.4 123.1h1.1v1.1h-1.1zM101.9 103.9h1.1v1.1h-1.1zM100.1 104.5h1.1v1.1h-1.1zM74.4 129.7h1.1v1.1h-1.1zM87.5 118.9h1.1v1.1h-1.1zM68.3 132.6h1.1v1.1h-1.1zM97.9 107.3h1.1v1.1h-1.1zM93.2 108.2h1.1v1.1h-1.1zM88.7 112.5h1.1v1.1h-1.1zM80.8 117.1h1.1v1.1h-1.1zM91.6 115.1h1.1v1.1h-1.1zM97.4 108.2h1.1v1.1h-1.1zM67.5 133.6h1.1v1.1h-1.1zM68.2 136.2h1.1v1.1h-1.1zM101.3 102.6h1.1v1.1h-1.1zM68.0 133.6h1.1v1.1h-1.1zM85.6 117.9h1.1v1.1h-1.1zM104.8 105.9h1.1v1.1h-1.1zM83.1 122.8h1.1v1.1h-1.1zM87.2 120.2h1.1v1.1h-1.1zM77.7 128.3h1.1v1.1h-1.1zM108.5 99.5h1.1v1.1h-1.1zM81.5 122.0h1.1v1.1h-1.1zM100.4 102.5h1.1v1.1h-1.1zM95.6 108.8h1.1v1.1h-1.1zM95.0 109.1h1.1v1.1h-1.1zM90.6 111.2h1.1v1.1h-1.1zM85.8 117.5h1.1v1.1h-1.1zM81.3 126.6h1.1v1.1h-1.1zM68.5 132.7h1.1v1.1h-1.1zM83.0 124.7h1.1v1.1h-1.1zM95.4 109.6h1.1v1.1h-1.1zM77.1 120.9h1.1v1.1h-1.1zM66.7 135.0h1.1v1.1h-1.1zM114.6 94.6h1.1v1.1h-1.1zM70.2 131.2h1.1v1.1h-1.1zM97.1 108.7h1.1v1.1h-1.1zM75.5 123.6h1.1v1.1h-1.1zM88.4 111.7h1.1v1.1h-1.1zM84.9 117.3h1.1v1.1h-1.1zM73.4 125.8h1.1v1.1h-1.1zM83.0 118.7h1.1v1.1h-1.1zM88.5 117.8h1.1v1.1h-1.1zM73.8 121.4h1.1v1.1h-1.1zM91.8 112.9h1.1v1.1h-1.1zM102.9 101.6h1.1v1.1h-1.1zM116.4 89.3h1.1v1.1h-1.1zM70.4 128.9h1.1v1.1h-1.1zM76.9 122.9h1.1v1.1h-1.1zM111.8 94.4h1.1v1.1h-1.1zM70.1 130.0h1.1v1.1h-1.1zM72.8 125.8h1.1v1.1h-1.1zM83.8 120.5h1.1v1.1h-1.1zM74.9 127.9h1.1v1.1h-1.1zM68.0 132.4h1.1v1.1h-1.1zM100.8 100.7h1.1v1.1h-1.1zM68.1 131.9h1.1v1.1h-1.1zM65.6 129.8h1.1v1.1h-1.1zM64.5 135.6h1.1v1.1h-1.1zM91.4 117.2h1.1v1.1h-1.1zM86.4 120.7h1.1v1.1h-1.1zM66.1 136.4h1.1v1.1h-1.1zM105.3 97.5h1.1v1.1h-1.1zM66.0 134.9h1.1v1.1h-1.1zM71.9 132.3h1.1v1.1h-1.1zM80.4 124.2h1.1v1.1h-1.1zM91.0 112.9h1.1v1.1h-1.1zM66.4 134.1h1.1v1.1h-1.1zM82.5 124.4h1.1v1.1h-1.1zM69.1 134.3h1.1v1.1h-1.1zM113.6 92.9h1.1v1.1h-1.1zM100.5 99.9h1.1v1.1h-1.1zM101.4 102.8h1.1v1.1h-1.1zM95.8 108.9h1.1v1.1h-1.1zM67.9 131.3h1.1v1.1h-1.1zM90.6 118.4h1.1v1.1h-1.1zM105.9 102.9h1.1v1.1h-1.1zM66.2 132.9h1.1v1.1h-1.1zM71.7 128.9h1.1v1.1h-1.1zM100.3 107.0h1.1v1.1h-1.1zM83.4 124.5h1.1v1.1h-1.1zM82.6 117.9h1.1v1.1h-1.1zM105.7 104.1h1.1v1.1h-1.1zM94.6 110.1h1.1v1.1h-1.1zM98.7 108.5h1.1v1.1h-1.1zM107.4 94.4h1.1v1.1h-1.1zM68.9 133.3h1.1v1.1h-1.1zM96.6 110.1h1.1v1.1h-1.1zM63.9 139.2h1.1v1.1h-1.1zM77.3 121.1h1.1v1.1h-1.1zM102.9 102.0h1.1v1.1h-1.1zM75.1 127.8h1.1v1.1h-1.1zM67.7 135.7h1.1v1.1h-1.1zM74.8 122.7h1.1v1.1h-1.1zM94.4 115.7h1.1v1.1h-1.1zM88.7 113.5h1.1v1.1h-1.1zM92.8 110.5h1.1v1.1h-1.1zM88.9 116.9h1.1v1.1h-1.1zM77.7 124.8h1.1v1.1h-1.1zM106.6 101.6h1.1v1.1h-1.1zM81.3 121.4h1.1v1.1h-1.1zM82.7 123.6h1.1v1.1h-1.1zM88.8 110.3h1.1v1.1h-1.1zM95.7 107.6h1.1v1.1h-1.1zM114.7 92.3h1.1v1.1h-1.1zM71.4 129.8h1.1v1.1h-1.1zM90.5 111.5h1.1v1.1h-1.1zM103.7 104.3h1.1v1.1h-1.1zM95.4 105.2h1.1v1.1h-1.1zM69.6 129.5h1.1v1.1h-1.1zM99.6 101.3h1.1v1.1h-1.1zM88.1 119.4h1.1v1.1h-1.1zM84.4 116.3h1.1v1.1h-1.1zM78.5 126.3h1.1v1.1h-1.1zM102.0 102.5h1.1v1.1h-1.1zM72.1 128.9h1.1v1.1h-1.1zM111.7 94.6h1.1v1.1h-1.1zM84.9 120.3h1.1v1.1h-1.1zM82.5 121.3h1.1v1.1h-1.1zM89.2 111.3h1.1v1.1h-1.1zM73.9 124.3h1.1v1.1h-1.1zM93.2 109.2h1.1v1.1h-1.1zM85.6 114.4h1.1v1.1h-1.1zM114.0 88.9h1.1v1.1h-1.1zM93.6 106.7h1.1v1.1h-1.1zM82.9 124.0h1.1v1.1h-1.1zM110.3 98.3h1.1v1.1h-1.1zM70.0 127.1h1.1v1.1h-1.1zM64.4 135.3h1.1v1.1h-1.1zM87.1 118.0h1.1v1.1h-1.1zM63.4 135.4h1.1v1.1h-1.1zM86.4 117.0h1.1v1.1h-1.1zM70.8 129.6h1.1v1.1h-1.1zM102.3 104.4h1.1v1.1h-1.1zM93.9 107.7h1.1v1.1h-1.1zM86.5 118.5h1.1v1.1h-1.1zM67.5 129.6h1.1v1.1h-1.1zM101.2 107.4h1.1v1.1h-1.1zM85.0 117.0h1.1v1.1h-1.1zM84.0 122.7h1.1v1.1h-1.1zM83.8 120.5h1.1v1.1h-1.1zM98.6 105.2h1.1v1.1h-1.1zM86.6 115.9h1.1v1.1h-1.1zM91.4 114.1h1.1v1.1h-1.1zM64.6 135.2h1.1v1.1h-1.1zM103.9 107.2h1.1v1.1h-1.1zM72.0 133.4h1.1v1.1h-1.1zM78.6 121.1h1.1v1.1h-1.1zM110.2 97.6h1.1v1.1h-1.1zM71.9 129.9h1.1v1.1h-1.1zM94.2 105.9h1.1v1.1h-1.1zM88.9 117.9h1.1v1.1h-1.1zM70.7 128.9h1.1v1.1h-1.1zM73.0 129.2h1.1v1.1h-1.1zM93.7 111.6h1.1v1.1h-1.1zM100.7 108.2h1.1v1.1h-1.1zM76.5 130.6h1.1v1.1h-1.1zM102.4 103.5h1.1v1.1h-1.1zM85.9 120.8h1.1v1.1h-1.1zM92.7 116.4h1.1v1.1h-1.1zM77.2 126.4h1.1v1.1h-1.1zM81.9 122.1h1.1v1.1h-1.1zM77.3 127.6h1.1v1.1h-1.1zM103.7 102.7h1.1v1.1h-1.1zM98.9 105.4h1.1v1.1h-1.1zM80.9 127.3h1.1v1.1h-1.1zM84.7 120.0h1.1v1.1h-1.1zM73.5 129.1h1.1v1.1h-1.1zM71.0 130.2h1.1v1.1h-1.1zM69.1 133.1h1.1v1.1h-1.1zM87.8 119.4h1.1v1.1h-1.1zM107.3 100.0h1.1v1.1h-1.1zM80.4 126.3h1.1v1.1h-1.1zM94.3 110.7h1.1v1.1h-1.1zM79.0 127.1h1.1v1.1h-1.1zM113.0 94.4h1.1v1.1h-1.1zM84.9 119.8h1.1v1.1h-1.1zM88.9 117.4h1.1v1.1h-1.1zM89.5 118.6h1.1v1.1h-1.1zM88.4 112.9h1.1v1.1h-1.1zM101.2 106.4h1.1v1.1h-1.1zM93.8 114.2h1.1v1.1h-1.1zM85.1 117.8h1.1v1.1h-1.1zM78.9 123.3h1.1v1.1h-1.1zM94.8 110.4h1.1v1.1h-1.1zM81.7 122.4h1.1v1.1h-1.1zM101.1 102.3h1.1v1.1h-1.1zM69.5 127.8h1.1v1.1h-1.1zM96.3 108.3h1.1v1.1h-1.1zM75.6 123.7h1.1v1.1h-1.1zM70.8 130.4h1.1v1.1h-1.1zM65.5 133.8h1.1v1.1h-1.1zM70.0 131.2h1.1v1.1h-1.1zM108.0 96.2h1.1v1.1h-1.1zM71.5 128.9h1.1v1.1h-1.1zM79.5 124.2h1.1v1.1h-1.1zM105.4 105.4h1.1v1.1h-1.1zM87.5 121.3h1.1v1.1h-1.1zM90.8 114.3h1.1v1.1h-1.1zM76.8 122.8h1.1v1.1h-1.1zM65.8 132.5h1.1v1.1h-1.1zM83.6 118.9h1.1v1.1h-1.1zM67.8 132.8h1.1v1.1h-1.1zM100.2 106.2h1.1v1.1h-1.1zM86.3 113.0h1.1v1.1h-1.1zM81.1 120.8h1.1v1.1h-1.1zM83.6 118.8h1.1v1.1h-1.1zM66.5 135.4h1.1v1.1h-1.1zM78.8 122.2h1.1v1.1h-1.1zM88.4 113.3h1.1v1.1h-1.1zM67.1 132.5h1.1v1.1h-1.1zM77.4 130.4h1.1v1.1h-1.1zM92.5 112.0h1.1v1.1h-1.1zM82.3 122.4h1.1v1.1h-1.1zM70.5 134.3h1.1v1.1h-1.1zM83.2 118.7h1.1v1.1h-1.1zM103.4 102.5h1.1v1.1h-1.1zM83.0 123.7h1.1v1.1h-1.1zM74.9 122.9h1.1v1.1h-1.1zM110.2 96.2h1.1v1.1h-1.1zM68.9 130.6h1.1v1.1h-1.1zM67.6 134.4h1.1v1.1h-1.1zM105.8 101.2h1.1v1.1h-1.1zM90.2 113.8h1.1v1.1h-1.1zM79.5 123.4h1.1v1.1h-1.1zM100.7 102.2h1.1v1.1h-1.1zM73.6 127.7h1.1v1.1h-1.1zM103.6 103.6h1.1v1.1h-1.1zM75.6 123.5h1.1v1.1h-1.1zM100.2 104.1h1.1v1.1h-1.1zM98.9 103.5h1.1v1.1h-1.1zM65.1 139.0h1.1v1.1h-1.1zM79.2 126.8h1.1v1.1h-1.1zM75.7 124.6h1.1v1.1h-1.1zM92.1 110.5h1.1v1.1h-1.1zM88.7 115.6h1.1v1.1h-1.1zM63.4 137.0h1.1v1.1h-1.1zM64.3 134.7h1.1v1.1h-1.1zM108.3 96.6h1.1v1.1h-1.1zM67.3 129.6h1.1v1.1h-1.1zM103.8 101.1h1.1v1.1h-1.1zM76.2 129.6h1.1v1.1h-1.1zM77.3 121.1h1.1v1.1h-1.1zM112.5 92.5h1.1v1.1h-1.1zM104.1 100.6h1.1v1.1h-1.1zM63.9 135.4h1.1v1.1h-1.1zM88.5 121.5h1.1v1.1h-1.1zM61.9 134.9h1.1v1.1h-1.1zM70.7 130.7h1.1v1.1h-1.1zM92.5 112.9h1.1v1.1h-1.1zM81.8 123.2h1.1v1.1h-1.1zM93.2 110.4h1.1v1.1h-1.1zM84.9 116.4h1.1v1.1h-1.1zM61.9 133.8h1.1v1.1h-1.1zM99.1 107.7h1.1v1.1h-1.1zM62.6 133.5h1.1v1.1h-1.1zM66.2 133.7h1.1v1.1h-1.1zM69.4 131.3h1.1v1.1h-1.1zM76.0 124.6h1.1v1.1h-1.1zM94.9 107.6h1.1v1.1h-1.1zM88.7 119.6h1.1v1.1h-1.1zM72.9 126.6h1.1v1.1h-1.1zM81.0 122.3h1.1v1.1h-1.1zM109.2 98.7h1.1v1.1h-1.1zM66.8 134.9h1.1v1.1h-1.1zM84.2 119.9h1.1v1.1h-1.1zM87.5 112.1h1.1v1.1h-1.1zM71.4 128.9h1.1v1.1h-1.1zM98.3 110.9h1.1v1.1h-1.1zM83.4 126.1h1.1v1.1h-1.1zM89.0 116.9h1.1v1.1h-1.1zM101.4 105.1h1.1v1.1h-1.1zM90.0 117.3h1.1v1.1h-1.1zM83.6 116.6h1.1v1.1h-1.1zM88.1 114.7h1.1v1.1h-1.1zM66.7 133.6h1.1v1.1h-1.1zM77.7 125.9h1.1v1.1h-1.1zM97.1 103.3h1.1v1.1h-1.1zM73.1 127.8h1.1v1.1h-1.1zM77.0 123.2h1.1v1.1h-1.1zM77.7 123.2h1.1v1.1h-1.1zM88.9 118.4h1.1v1.1h-1.1zM73.4 126.7h1.1v1.1h-1.1zM74.4 122.0h1.1v1.1h-1.1zM83.3 118.9h1.1v1.1h-1.1zM75.7 130.5h1.1v1.1h-1.1zM75.4 127.9h1.1v1.1h-1.1zM81.0 121.6h1.1v1.1h-1.1zM91.9 114.8h1.1v1.1h-1.1zM88.0 120.0h1.1v1.1h-1.1zM105.7 100.9h1.1v1.1h-1.1zM91.2 111.3h1.1v1.1h-1.1zM83.7 120.7h1.1v1.1h-1.1zM62.8 136.7h1.1v1.1h-1.1zM79.3 121.4h1.1v1.1h-1.1zM78.8 124.9h1.1v1.1h-1.1zM90.5 110.4h1.1v1.1h-1.1zM84.0 122.3h1.1v1.1h-1.1zM96.4 108.9h1.1v1.1h-1.1zM92.9 111.6h1.1v1.1h-1.1zM111.0 93.5h1.1v1.1h-1.1zM74.6 121.4h1.1v1.1h-1.1zM68.5 135.5h1.1v1.1h-1.1zM88.8 116.1h1.1v1.1h-1.1zM73.0 124.6h1.1v1.1h-1.1zM76.4 126.2h1.1v1.1h-1.1zM107.3 98.3h1.1v1.1h-1.1zM68.7 129.7h1.1v1.1h-1.1zM74.7 127.9h1.1v1.1h-1.1zM64.1 139.8h1.1v1.1h-1.1zM95.6 112.4h1.1v1.1h-1.1zM76.7 125.8h1.1v1.1h-1.1zM90.2 115.7h1.1v1.1h-1.1zM92.8 113.0h1.1v1.1h-1.1zM83.0 114.6h1.1v1.1h-1.1zM64.4 138.9h1.1v1.1h-1.1zM65.8 137.1h1.1v1.1h-1.1zM87.0 116.3h1.1v1.1h-1.1zM74.8 130.2h1.1v1.1h-1.1zM75.0 129.8h1.1v1.1h-1.1zM72.6 131.8h1.1v1.1h-1.1zM67.5 131.3h1.1v1.1h-1.1zM91.2 108.6h1.1v1.1h-1.1zM104.5 102.5h1.1v1.1h-1.1zM94.6 112.2h1.1v1.1h-1.1zM104.9 102.5h1.1v1.1h-1.1zM74.4 127.1h1.1v1.1h-1.1zM72.6 125.6h1.1v1.1h-1.1zM76.7 128.7h1.1v1.1h-1.1zM93.5 109.6h1.1v1.1h-1.1zM106.6 97.8h1.1v1.1h-1.1zM104.1 101.9h1.1v1.1h-1.1zM82.8 123.7h1.1v1.1h-1.1zM90.5 109.3h1.1v1.1h-1.1zM91.7 107.5h1.1v1.1h-1.1zM63.7 135.5h1.1v1.1h-1.1zM73.5 131.8h1.1v1.1h-1.1zM74.0 127.2h1.1v1.1h-1.1zM105.1 101.4h1.1v1.1h-1.1zM101.4 103.7h1.1v1.1h-1.1zM65.1 136.6h1.1v1.1h-1.1zM107.6 96.2h1.1v1.1h-1.1zM88.9 115.2h1.1v1.1h-1.1zM88.1 115.5h1.1v1.1h-1.1zM78.0 128.8h1.1v1.1h-1.1zM89.9 115.0h1.1v1.1h-1.1zM94.8 111.1h1.1v1.1h-1.1zM105.6 97.8h1.1v1.1h-1.1zM98.2 103.8h1.1v1.1h-1.1zM89.7 113.1h1.1v1.1h-1.1zM92.6 107.8h1.1v1.1h-1.1zM92.3 114.4h1.1v1.1h-1.1zM88.2 119.3h1.1v1.1h-1.1zM73.2 132.0h1.1v1.1h-1.1zM82.7 124.2h1.1v1.1h-1.1zM61.4 139.7h1.1v1.1h-1.1zM66.9 134.2h1.1v1.1h-1.1zM106.9 100.2h1.1v1.1h-1.1zM92.4 113.2h1.1v1.1h-1.1zM87.4 120.6h1.1v1.1h-1.1zM90.4 114.7h1.1v1.1h-1.1zM68.0 130.2h1.1v1.1h-1.1zM68.9 129.2h1.1v1.1h-1.1zM91.0 116.8h1.1v1.1h-1.1zM96.7 108.0h1.1v1.1h-1.1zM92.2 117.7h1.1v1.1h-1.1zM83.9 117.8h1.1v1.1h-1.1zM71.9 126.2h1.1v1.1h-1.1zM94.0 113.6h1.1v1.1h-1.1zM112.4 93.9h1.1v1.1h-1.1zM107.5 100.6h1.1v1.1h-1.1zM103.0 101.2h1.1v1.1h-1.1zM76.3 124.9h1.1v1.1h-1.1zM75.1 130.2h1.1v1.1h-1.1zM74.1 125.0h1.1v1.1h-1.1zM78.4 122.4h1.1v1.1h-1.1zM85.5 114.3h1.1v1.1h-1.1zM74.1 125.8h1.1v1.1h-1.1zM93.8 110.5h1.1v1.1h-1.1zM65.8 136.1h1.1v1.1h-1.1zM84.3 120.3h1.1v1.1h-1.1zM70.6 131.2h1.1v1.1h-1.1zM67.0 129.8h1.1v1.1h-1.1zM102.4 100.6h1.1v1.1h-1.1zM91.9 113.1h1.1v1.1h-1.1zM67.1 133.9h1.1v1.1h-1.1zM75.5 123.4h1.1v1.1h-1.1zM110.0 95.1h1.1v1.1h-1.1zM95.5 107.2h1.1v1.1h-1.1zM105.4 103.4h1.1v1.1h-1.1zM107.5 103.0h1.1v1.1h-1.1zM80.8 123.5h1.1v1.1h-1.1zM66.2 128.8h1.1v1.1h-1.1zM74.7 122.8h1.1v1.1h-1.1zM97.6 107.4h1.1v1.1h-1.1zM96.3 112.2h1.1v1.1h-1.1zM96.7 107.4h1.1v1.1h-1.1zM82.0 116.3h1.1v1.1h-1.1zM83.8 125.4h1.1v1.1h-1.1zM76.5 123.7h1.1v1.1h-1.1zM67.7 134.3h1.1v1.1h-1.1zM67.7 136.2h1.1v1.1h-1.1zM81.1 118.3h1.1v1.1h-1.1zM106.4 98.7h1.1v1.1h-1.1zM91.3 113.4h1.1v1.1h-1.1zM103.5 101.8h1.1v1.1h-1.1zM93.5 110.7h1.1v1.1h-1.1zM82.0 120.8h1.1v1.1h-1.1zM100.5 102.8h1.1v1.1h-1.1zM73.9 128.7h1.1v1.1h-1.1zM90.2 111.8h1.1v1.1h-1.1zM92.2 112.2h1.1v1.1h-1.1zM62.8 135.8h1.1v1.1h-1.1zM101.6 102.2h1.1v1.1h-1.1zM98.9 105.7h1.1v1.1h-1.1zM82.5 120.3h1.1v1.1h-1.1zM63.4 130.4h1.1v1.1h-1.1zM105.5 100.2h1.1v1.1h-1.1zM90.1 119.3h1.1v1.1h-1.1zM89.7 112.4h1.1v1.1h-1.1zM91.8 111.9h1.1v1.1h-1.1zM67.7 137.9h1.1v1.1h-1.1zM90.6 117.0h1.1v1.1h-1.1zM83.2 119.4h1.1v1.1h-1.1zM76.9 124.3h1.1v1.1h-1.1zM87.4 114.9h1.1v1.1h-1.1zM78.5 127.5h1.1v1.1h-1.1zM67.4 131.7h1.1v1.1h-1.1zM96.2 111.3h1.1v1.1h-1.1zM104.9 101.9h1.1v1.1h-1.1zM106.9 98.7h1.1v1.1h-1.1zM101.9 108.5h1.1v1.1h-1.1zM91.0 115.6h1.1v1.1h-1.1zM101.4 101.8h1.1v1.1h-1.1zM99.6 107.9h1.1v1.1h-1.1zM69.0 129.6h1.1v1.1h-1.1zM75.8 120.7h1.1v1.1h-1.1zM87.3 115.8h1.1v1.1h-1.1zM102.2 102.3h1.1v1.1h-1.1zM65.1 135.8h1.1v1.1h-1.1zM62.7 134.3h1.1v1.1h-1.1zM93.4 113.3h1.1v1.1h-1.1zM96.9 107.3h1.1v1.1h-1.1zM95.6 108.0h1.1v1.1h-1.1zM74.9 127.3h1.1v1.1h-1.1zM64.2 134.1h1.1v1.1h-1.1zM74.7 123.3h1.1v1.1h-1.1zM70.0 129.9h1.1v1.1h-1.1zM68.4 131.2h1.1v1.1h-1.1zM87.2 116.5h1.1v1.1h-1.1zM66.7 132.7h1.1v1.1h-1.1zM95.6 109.2h1.1v1.1h-1.1zM92.0 110.7h1.1v1.1h-1.1zM84.1 117.9h1.1v1.1h-1.1zM96.5 110.3h1.1v1.1h-1.1zM70.8 131.0h1.1v1.1h-1.1zM81.3 122.0h1.1v1.1h-1.1zM93.0 109.2h1.1v1.1h-1.1zM99.0 106.4h1.1v1.1h-1.1zM68.5 128.3h1.1v1.1h-1.1zM77.9 121.6h1.1v1.1h-1.1zM90.0 117.0h1.1v1.1h-1.1zM95.1 114.8h1.1v1.1h-1.1zM109.4 96.6h1.1v1.1h-1.1zM75.6 122.1h1.1v1.1h-1.1zM76.3 127.0h1.1v1.1h-1.1zM74.7 127.5h1.1v1.1h-1.1zM78.3 123.1h1.1v1.1h-1.1zM95.2 107.6h1.1v1.1h-1.1zM80.5 117.6h1.1v1.1h-1.1zM70.0 130.6h1.1v1.1h-1.1zM96.6 111.6h1.1v1.1h-1.1zM78.7 122.9h1.1v1.1h-1.1zM84.0 120.3h1.1v1.1h-1.1zM95.1 111.2h1.1v1.1h-1.1zM92.2 110.8h1.1v1.1h-1.1zM88.0 119.4h1.1v1.1h-1.1zM102.1 101.6h1.1v1.1h-1.1zM93.8 111.4h1.1v1.1h-1.1zM65.1 129.5h1.1v1.1h-1.1zM85.6 115.3h1.1v1.1h-1.1zM85.9 113.0h1.1v1.1h-1.1zM73.5 132.1h1.1v1.1h-1.1zM76.1 127.4h1.1v1.1h-1.1zM102.0 103.5h1.1v1.1h-1.1zM88.3 119.4h1.1v1.1h-1.1zM95.9 110.3h1.1v1.1h-1.1zM77.0 124.8h1.1v1.1h-1.1zM85.1 116.8h1.1v1.1h-1.1zM85.6 115.0h1.1v1.1h-1.1zM100.0 104.7h1.1v1.1h-1.1zM92.9 110.7h1.1v1.1h-1.1zM93.9 108.8h1.1v1.1h-1.1zM82.4 124.2h1.1v1.1h-1.1zM79.5 124.1h1.1v1.1h-1.1zM82.0 122.8h1.1v1.1h-1.1zM75.6 127.8h1.1v1.1h-1.1zM92.1 112.9h1.1v1.1h-1.1zM107.4 100.9h1.1v1.1h-1.1zM106.4 98.2h1.1v1.1h-1.1zM84.4 117.9h1.1v1.1h-1.1zM81.3 128.1h1.1v1.1h-1.1zM96.2 107.5h1.1v1.1h-1.1zM91.4 108.5h1.1v1.1h-1.1zM84.6 123.8h1.1v1.1h-1.1zM69.5 129.7h1.1v1.1h-1.1zM97.7 108.3h1.1v1.1h-1.1zM90.2 115.8h1.1v1.1h-1.1zM69.5 129.3h1.1v1.1h-1.1zM100.2 104.6h1.1v1.1h-1.1zM95.6 109.4h1.1v1.1h-1.1zM82.6 124.3h1.1v1.1h-1.1zM91.7 113.1h1.1v1.1h-1.1zM69.2 128.2h1.1v1.1h-1.1zM95.4 110.1h1.1v1.1h-1.1zM76.0 126.3h1.1v1.1h-1.1zM80.0 116.5h1.1v1.1h-1.1zM110.6 95.9h1.1v1.1h-1.1zM91.0 118.5h1.1v1.1h-1.1zM94.9 112.3h1.1v1.1h-1.1zM86.5 117.8h1.1v1.1h-1.1zM64.5 133.4h1.1v1.1h-1.1zM109.0 99.0h1.1v1.1h-1.1zM65.4 135.0h1.1v1.1h-1.1zM63.4 134.5h1.1v1.1h-1.1zM74.2 131.7h1.1v1.1h-1.1zM64.3 138.2h1.1v1.1h-1.1zM66.1 134.5h1.1v1.1h-1.1zM71.6 124.6h1.1v1.1h-1.1zM100.5 109.2h1.1v1.1h-1.1zM90.8 114.7h1.1v1.1h-1.1zM102.0 106.5h1.1v1.1h-1.1zM93.3 109.8h1.1v1.1h-1.1zM67.3 134.8h1.1v1.1h-1.1zM98.8 105.7h1.1v1.1h-1.1zM76.8 121.3h1.1v1.1h-1.1zM82.3 115.2h1.1v1.1h-1.1zM74.0 124.0h1.1v1.1h-1.1zM92.1 116.0h1.1v1.1h-1.1zM77.6 125.8h1.1v1.1h-1.1zM95.0 111.5h1.1v1.1h-1.1zM75.1 125.8h1.1v1.1h-1.1zM96.4 108.4h1.1v1.1h-1.1zM104.1 103.8h1.1v1.1h-1.1zM102.6 107.4h1.1v1.1h-1.1zM65.0 131.5h1.1v1.1h-1.1zM89.6 117.4h1.1v1.1h-1.1zM75.0 127.9h1.1v1.1h-1.1zM92.4 114.6h1.1v1.1h-1.1zM104.8 104.4h1.1v1.1h-1.1zM93.7 114.6h1.1v1.1h-1.1zM103.3 102.6h1.1v1.1h-1.1zM76.3 123.6h1.1v1.1h-1.1zM76.7 127.7h1.1v1.1h-1.1zM104.1 99.8h1.1v1.1h-1.1zM95.2 108.8h1.1v1.1h-1.1zM96.5 105.1h1.1v1.1h-1.1zM104.9 101.7h1.1v1.1h-1.1zM86.5 119.3h1.1v1.1h-1.1zM95.0 111.8h1.1v1.1h-1.1zM71.7 127.8h1.1v1.1h-1.1zM69.0 130.5h1.1v1.1h-1.1zM107.3 100.8h1.1v1.1h-1.1zM84.3 114.0h1.1v1.1h-1.1zM86.8 116.8h1.1v1.1h-1.1zM85.8 122.1h1.1v1.1h-1.1zM62.0 136.5h1.1v1.1h-1.1zM111.5 92.8h1.1v1.1h-1.1zM112.4 93.7h1.1v1.1h-1.1zM70.8 132.9h1.1v1.1h-1.1zM105.7 101.2h1.1v1.1h-1.1zM78.6 123.3h1.1v1.1h-1.1zM68.0 130.0h1.1v1.1h-1.1zM75.9 124.7h1.1v1.1h-1.1zM71.0 132.1h1.1v1.1h-1.1zM73.6 128.1h1.1v1.1h-1.1zM101.5 101.3h1.1v1.1h-1.1zM64.5 133.9h1.1v1.1h-1.1zM88.6 116.6h1.1v1.1h-1.1zM66.7 136.0h1.1v1.1h-1.1zM80.9 124.1h1.1v1.1h-1.1zM62.3 132.6h1.1v1.1h-1.1zM67.7 133.8h1.1v1.1h-1.1zM98.7 106.6h1.1v1.1h-1.1zM64.3 134.1h1.1v1.1h-1.1zM85.9 119.1h1.1v1.1h-1.1zM95.3 112.2h1.1v1.1h-1.1zM108.6 99.6h1.1v1.1h-1.1zM80.6 120.2h1.1v1.1h-1.1zM86.2 116.8h1.1v1.1h-1.1zM79.4 122.6h1.1v1.1h-1.1zM82.7 123.9h1.1v1.1h-1.1zM100.0 105.2h1.1v1.1h-1.1zM79.8 124.3h1.1v1.1h-1.1zM86.8 119.8h1.1v1.1h-1.1zM92.3 118.0h1.1v1.1h-1.1zM70.9 130.3h1.1v1.1h-1.1zM62.1 134.6h1.1v1.1h-1.1zM100.8 106.9h1.1v1.1h-1.1zM90.4 111.4h1.1v1.1h-1.1zM78.9 125.4h1.1v1.1h-1.1zM66.8 130.8h1.1v1.1h-1.1zM87.6 113.6h1.1v1.1h-1.1zM93.1 114.2h1.1v1.1h-1.1zM96.5 108.9h1.1v1.1h-1.1zM88.1 115.2h1.1v1.1h-1.1zM98.9 108.9h1.1v1.1h-1.1zM108.1 98.4h1.1v1.1h-1.1zM103.1 106.7h1.1v1.1h-1.1zM95.4 114.9h1.1v1.1h-1.1zM82.1 119.3h1.1v1.1h-1.1zM94.5 113.2h1.1v1.1h-1.1zM68.4 133.4h1.1v1.1h-1.1zM70.0 129.7h1.1v1.1h-1.1zM68.0 134.3h1.1v1.1h-1.1zM75.5 128.2h1.1v1.1h-1.1zM95.4 107.3h1.1v1.1h-1.1zM97.6 107.7h1.1v1.1h-1.1zM90.4 111.6h1.1v1.1h-1.1zM95.1 108.1h1.1v1.1h-1.1zM88.4 121.8h1.1v1.1h-1.1zM79.5 129.0h1.1v1.1h-1.1zM77.0 131.9h1.1v1.1h-1.1zM82.7 118.0h1.1v1.1h-1.1zM93.2 111.7h1.1v1.1h-1.1zM96.2 109.8h1.1v1.1h-1.1zM79.5 120.5h1.1v1.1h-1.1zM80.7 125.9h1.1v1.1h-1.1zM69.4 129.7h1.1v1.1h-1.1zM101.0 102.5h1.1v1.1h-1.1zM72.4 129.3h1.1v1.1h-1.1zM103.5 99.9h1.1v1.1h-1.1zM82.1 118.3h1.1v1.1h-1.1zM68.2 136.2h1.1v1.1h-1.1zM115.4 93.2h1.1v1.1h-1.1zM95.7 111.9h1.1v1.1h-1.1zM69.0 135.7h1.1v1.1h-1.1zM89.3 114.4h1.1v1.1h-1.1zM83.3 121.8h1.1v1.1h-1.1zM64.6 133.4h1.1v1.1h-1.1zM101.1 105.5h1.1v1.1h-1.1zM104.3 100.9h1.1v1.1h-1.1zM67.0 130.3h1.1v1.1h-1.1zM66.9 132.2h1.1v1.1h-1.1zM65.7 137.5h1.1v1.1h-1.1zM109.0 95.8h1.1v1.1h-1.1zM79.8 122.7h1.1v1.1h-1.1zM84.8 115.0h1.1v1.1h-1.1zM69.1 133.7h1.1v1.1h-1.1zM90.4 111.5h1.1v1.1h-1.1zM100.6 104.6h1.1v1.1h-1.1zM108.7 97.6h1.1v1.1h-1.1zM77.5 129.8h1.1v1.1h-1.1zM93.4 107.7h1.1v1.1h-1.1zM69.4 131.3h1.1v1.1h-1.1zM68.9 128.4h1.1v1.1h-1.1zM98.2 104.4h1.1v1.1h-1.1zM67.3 136.8h1.1v1.1h-1.1zM105.1 101.8h1.1v1.1h-1.1zM91.2 111.8h1.1v1.1h-1.1zM76.6 130.9h1.1v1.1h-1.1zM92.9 107.6h1.1v1.1h-1.1zM81.4 117.3h1.1v1.1h-1.1zM100.7 103.6h1.1v1.1h-1.1zM84.2 117.5h1.1v1.1h-1.1zM93.3 113.2h1.1v1.1h-1.1zM101.6 100.2h1.1v1.1h-1.1zM76.8 124.2h1.1v1.1h-1.1zM97.1 105.6h1.1v1.1h-1.1zM103.0 101.6h1.1v1.1h-1.1zM76.9 126.1h1.1v1.1h-1.1zM87.2 117.6h1.1v1.1h-1.1zM63.8 135.5h1.1v1.1h-1.1zM95.8 109.6h1.1v1.1h-1.1zM98.9 106.6h1.1v1.1h-1.1zM71.6 131.3h1.1v1.1h-1.1zM99.1 108.1h1.1v1.1h-1.1zM87.8 113.3h1.1v1.1h-1.1zM88.6 115.9h1.1v1.1h-1.1zM104.1 103.7h1.1v1.1h-1.1zM83.1 121.0h1.1v1.1h-1.1zM96.3 109.5h1.1v1.1h-1.1zM82.2 120.8h1.1v1.1h-1.1zM78.7 123.2h1.1v1.1h-1.1zM75.7 130.3h1.1v1.1h-1.1zM73.6 128.4h1.1v1.1h-1.1zM69.7 130.7h1.1v1.1h-1.1zM88.4 117.9h1.1v1.1h-1.1zM74.3 123.3h1.1v1.1h-1.1zM78.8 125.5h1.1v1.1h-1.1zM84.8 113.4h1.1v1.1h-1.1zM77.9 126.5h1.1v1.1h-1.1zM69.2 133.0h1.1v1.1h-1.1zM94.7 110.5h1.1v1.1h-1.1zM108.5 100.3h1.1v1.1h-1.1zM83.9 120.2h1.1v1.1h-1.1zM70.7 132.9h1.1v1.1h-1.1zM79.3 127.9h1.1v1.1h-1.1zM94.1 111.1h1.1v1.1h-1.1zM82.6 126.4h1.1v1.1h-1.1zM75.6 127.0h1.1v1.1h-1.1zM93.1 116.5h1.1v1.1h-1.1zM93.1 113.9h1.1v1.1h-1.1zM92.1 109.1h1.1v1.1h-1.1zM99.4 104.4h1.1v1.1h-1.1zM85.6 117.1h1.1v1.1h-1.1zM104.6 103.6h1.1v1.1h-1.1zM62.2 140.3h1.1v1.1h-1.1zM94.8 107.7h1.1v1.1h-1.1zM77.8 120.8h1.1v1.1h-1.1zM87.1 118.7h1.1v1.1h-1.1zM82.4 119.0h1.1v1.1h-1.1zM80.9 122.8h1.1v1.1h-1.1zM99.4 107.6h1.1v1.1h-1.1zM105.1 96.3h1.1v1.1h-1.1zM98.2 105.6h1.1v1.1h-1.1zM65.0 137.0h1.1v1.1h-1.1zM61.0 137.7h1.1v1.1h-1.1zM66.6 133.0h1.1v1.1h-1.1zM98.0 111.1h1.1v1.1h-1.1zM68.3 132.2h1.1v1.1h-1.1zM69.2 129.3h1.1v1.1h-1.1zM65.4 135.0h1.1v1.1h-1.1zM94.0 116.2h1.1v1.1h-1.1zM68.8 131.4h1.1v1.1h-1.1zM83.6 121.2h1.1v1.1h-1.1zM96.8 105.8h1.1v1.1h-1.1zM72.6 132.4h1.1v1.1h-1.1zM93.5 113.3h1.1v1.1h-1.1z" fill="#000000" fill-opacity="0.4"/>
<path d="M69.5 130.6h1.1v1.1h-1.1zM101.4 103.8h1.1v1.1h-1.1zM107.7 102.7h1.1v1.1h-1.1zM84.3 120.9h1.1v1.1h-1.1zM78.2 118.1h1.1v1.1h-1.1zM82.5 116.0h1.1v1.1h-1.1zM70.0 131.2h1.1v1.1h-1.1zM60.1 137.5h1.1v1.1h-1.1zM76.9 125.0h1.1v1.1h-1.1zM65.4 136.8h1.1v1.1h-1.1zM104.3 97.8h1.1v1.1h-1.1zM71.7 130.2h1.1v1.1h-1.1zM75.7 127.8h1.1v1.1h-1.1zM78.8 119.7h1.1v1.1h-1.1zM84.8 116.6h1.1v1.1h-1.1zM82.1 119.1h1.1v1.1h-1.1zM75.3 126.5h1.1v1.1h-1.1zM88.8 116.2h1.1v1.1h-1.1zM78.1 123.4h1.1v1.1h-1.1zM77.7 125.3h1.1v1.1h-1.1zM99.5 107.9h1.1v1.1h-1.1zM102.8 102.4h1.1v1.1h-1.1zM65.3 137.8h1.1v1.1h-1.1zM91.6 116.6h1.1v1.1h-1.1zM69.8 132.3h1.1v1.1h-1.1zM82.8 122.6h1.1v1.1h-1.1zM81.7 124.4h1.1v1.1h-1.1zM71.7 128.4h1.1v1.1h-1.1zM99.2 106.6h1.1v1.1h-1.1zM73.4 128.0h1.1v1.1h-1.1zM73.9 127.4h1.1v1.1h-1.1zM65.9 131.0h1.1v1.1h-1.1zM98.9 106.4h1.1v1.1h-1.1zM86.1 119.2h1.1v1.1h-1.1zM92.5 110.6h1.1v1.1h-1.1zM89.4 111.4h1.1v1.1h-1.1zM80.0 122.3h1.1v1.1h-1.1zM85.7 120.0h1.1v1.1h-1.1zM68.6 130.3h1.1v1.1h-1.1zM99.1 106.0h1.1v1.1h-1.1zM61.6 136.0h1.1v1.1h-1.1zM65.9 134.3h1.1v1.1h-1.1zM88.8 117.8h1.1v1.1h-1.1zM100.5 103.0h1.1v1.1h-1.1zM86.1 112.1h1.1v1.1h-1.1zM106.0 99.8h1.1v1.1h-1.1zM100.5 103.4h1.1v1.1h-1.1zM90.0 117.7h1.1v1.1h-1.1zM83.2 120.1h1.1v1.1h-1.1zM68.8 133.2h1.1v1.1h-1.1zM90.7 115.1h1.1v1.1h-1.1zM74.6 126.5h1.1v1.1h-1.1zM80.7 125.1h1.1v1.1h-1.1zM69.3 133.2h1.1v1.1h-1.1zM110.8 96.3h1.1v1.1h-1.1zM71.4 131.5h1.1v1.1h-1.1zM72.1 129.7h1.1v1.1h-1.1zM80.1 119.6h1.1v1.1h-1.1zM113.0 97.6h1.1v1.1h-1.1zM85.8 118.3h1.1v1.1h-1.1zM65.0 134.3h1.1v1.1h-1.1zM84.3 120.4h1.1v1.1h-1.1zM73.5 127.0h1.1v1.1h-1.1zM86.1 116.1h1.1v1.1h-1.1zM108.6 98.6h1.1v1.1h-1.1zM96.9 105.2h1.1v1.1h-1.1zM101.9 103.1h1.1v1.1h-1.1zM89.7 114.2h1.1v1.1h-1.1zM83.4 116.4h1.1v1.1h-1.1zM74.7 130.6h1.1v1.1h-1.1zM86.1 121.1h1.1v1.1h-1.1zM65.2 136.4h1.1v1.1h-1.1zM69.7 130.2h1.1v1.1h-1.1zM91.0 107.7h1.1v1.1h-1.1zM99.0 102.9h1.1v1.1h-1.1zM106.3 102.0h1.1v1.1h-1.1zM71.9 129.3h1.1v1.1h-1.1zM95.8 108.0h1.1v1.1h-1.1zM67.3 131.9h1.1v1.1h-1.1zM70.9 132.4h1.1v1.1h-1.1zM103.8 104.5h1.1v1.1h-1.1zM96.3 110.0h1.1v1.1h-1.1zM99.0 108.7h1.1v1.1h-1.1zM73.8 121.9h1.1v1.1h-1.1zM84.2 115.7h1.1v1.1h-1.1zM100.0 104.1h1.1v1.1h-1.1zM95.1 107.4h1.1v1.1h-1.1zM78.6 125.7h1.1v1.1h-1.1zM90.7 110.4h1.1v1.1h-1.1zM63.8 136.5h1.1v1.1h-1.1zM68.2 132.6h1.1v1.1h-1.1zM68.2 134.0h1.1v1.1h-1.1zM73.7 127.3h1.1v1.1h-1.1zM75.1 132.6h1.1v1.1h-1.1zM69.4 131.0h1.1v1.1h-1.1zM89.9 116.3h1.1v1.1h-1.1zM93.3 108.6h1.1v1.1h-1.1zM97.1 105.6h1.1v1.1h-1.1zM82.5 120.7h1.1v1.1h-1.1zM80.5 122.8h1.1v1.1h-1.1zM85.8 116.3h1.1v1.1h-1.1zM66.2 138.9h1.1v1.1h-1.1zM100.2 104.2h1.1v1.1h-1.1zM65.3 133.7h1.1v1.1h-1.1zM99.7 107.1h1.1v1.1h-1.1zM81.0 120.7h1.1v1.1h-1.1zM80.5 126.6h1.1v1.1h-1.1zM88.4 111.5h1.1v1.1h-1.1zM81.8 122.0h1.1v1.1h-1.1zM62.7 134.2h1.1v1.1h-1.1zM84.9 118.1h1.1v1.1h-1.1zM106.6 96.8h1.1v1.1h-1.1zM96.6 104.2h1.1v1.1h-1.1zM93.7 111.0h1.1v1.1h-1.1zM95.5 109.5h1.1v1.1h-1.1zM105.7 103.1h1.1v1.1h-1.1zM83.4 121.8h1.1v1.1h-1.1zM99.3 105.2h1.1v1.1h-1.1zM105.6 103.5h1.1v1.1h-1.1zM77.7 127.1h1.1v1.1h-1.1zM89.0 114.7h1.1v1.1h-1.1zM99.0 109.0h1.1v1.1h-1.1zM87.3 113.8h1.1v1.1h-1.1zM70.6 129.9h1.1v1.1h-1.1zM100.9 104.2h1.1v1.1h-1.1zM75.0 128.3h1.1v1.1h-1.1zM87.5 116.8h1.1v1.1h-1.1zM99.3 110.2h1.1v1.1h-1.1zM90.1 115.3h1.1v1.1h-1.1zM82.7 119.3h1.1v1.1h-1.1zM65.2 137.7h1.1v1.1h-1.1zM100.2 103.4h1.1v1.1h-1.1zM92.1 116.2h1.1v1.1h-1.1zM80.7 124.5h1.1v1.1h-1.1zM104.1 100.7h1.1v1.1h-1.1zM64.7 133.4h1.1v1.1h-1.1zM86.2 116.7h1.1v1.1h-1.1zM87.8 114.5h1.1v1.1h-1.1zM83.4 119.4h1.1v1.1h-1.1zM101.1 106.8h1.1v1.1h-1.1zM71.2 132.6h1.1v1.1h-1.1zM75.4 127.0h1.1v1.1h-1.1zM79.0 123.8h1.1v1.1h-1.1zM78.5 120.5h1.1v1.1h-1.1zM86.3 116.8h1.1v1.1h-1.1zM66.1 134.1h1.1v1.1h-1.1zM96.3 110.6h1.1v1.1h-1.1zM95.4 109.6h1.1v1.1h-1.1zM92.5 113.1h1.1v1.1h-1.1zM68.7 131.8h1.1v1.1h-1.1zM96.3 109.0h1.1v1.1h-1.1zM74.0 129.0h1.1v1.1h-1.1zM98.5 106.5h1.1v1.1h-1.1zM91.1 118.8h1.1v1.1h-1.1zM82.0 121.1h1.1v1.1h-1.1zM73.8 125.6h1.1v1.1h-1.1zM83.9 121.0h1.1v1.1h-1.1zM91.9 114.2h1.1v1.1h-1.1zM65.0 136.0h1.1v1.1h-1.1zM82.5 125.1h1.1v1.1h-1.1zM89.1 113.8h1.1v1.1h-1.1zM86.6 121.3h1.1v1.1h-1.1zM95.2 108.7h1.1v1.1h-1.1zM73.6 128.7h1.1v1.1h-1.1zM71.8 131.8h1.1v1.1h-1.1zM98.4 109.5h1.1v1.1h-1.1zM80.4 126.3h1.1v1.1h-1.1zM64.9 137.3h1.1v1.1h-1.1zM106.7 102.0h1.1v1.1h-1.1zM97.6 106.3h1.1v1.1h-1.1zM68.8 128.4h1.1v1.1h-1.1zM78.0 121.3h1.1v1.1h-1.1zM100.8 106.3h1.1v1.1h-1.1zM92.3 113.3h1.1v1.1h-1.1zM74.3 130.7h1.1v1.1h-1.1zM67.2 131.2h1.1v1.1h-1.1zM62.5 138.9h1.1v1.1h-1.1zM100.9 102.0h1.1v1.1h-1.1zM74.7 123.2h1.1v1.1h-1.1zM98.4 106.8h1.1v1.1h-1.1zM93.6 111.0h1.1v1.1h-1.1zM97.1 109.6h1.1v1.1h-1.1zM83.0 114.5h1.1v1.1h-1.1zM70.9 126.9h1.1v1.1h-1.1zM105.7 98.3h1.1v1.1h-1.1zM98.6 103.8h1.1v1.1h-1.1zM104.8 98.7h1.1v1.1h-1.1zM85.6 122.5h1.1v1.1h-1.1zM64.9 131.7h1.1v1.1h-1.1zM68.0 133.0h1.1v1.1h-1.1zM77.3 125.3h1.1v1.1h-1.1zM75.0 126.1h1.1v1.1h-1.1zM65.1 135.4h1.1v1.1h-1.1zM84.7 118.3h1.1v1.1h-1.1zM111.4 98.1h1.1v1.1h-1.1zM94.9 109.4h1.1v1.1h-1.1zM72.6 129.3h1.1v1.1h-1.1zM61.8 133.6h1.1v1.1h-1.1zM66.8 132.5h1.1v1.1h-1.1zM81.4 115.2h1.1v1.1h-1.1zM92.9 114.0h1.1v1.1h-1.1zM89.6 114.0h1.1v1.1h-1.1zM66.5 132.0h1.1v1.1h-1.1zM84.2 122.3h1.1v1.1h-1.1zM107.3 97.7h1.1v1.1h-1.1zM90.6 115.0h1.1v1.1h-1.1zM76.7 125.3h1.1v1.1h-1.1zM86.8 116.7h1.1v1.1h-1.1zM85.3 122.5h1.1v1.1h-1.1zM67.7 133.8h1.1v1.1h-1.1zM106.1 101.8h1.1v1.1h-1.1zM84.8 118.5h1.1v1.1h-1.1zM98.5 101.7h1.1v1.1h-1.1zM83.4 123.2h1.1v1.1h-1.1zM69.4 132.2h1.1v1.1h-1.1zM71.9 129.1h1.1v1.1h-1.1zM72.4 130.4h1.1v1.1h-1.1zM69.9 132.8h1.1v1.1h-1.1zM95.5 111.5h1.1v1.1h-1.1zM76.5 126.0h1.1v1.1h-1.1zM86.7 113.8h1.1v1.1h-1.1zM93.0 114.6h1.1v1.1h-1.1zM109.2 93.9h1.1v1.1h-1.1zM97.1 110.5h1.1v1.1h-1.1zM73.0 127.4h1.1v1.1h-1.1zM70.8 130.6h1.1v1.1h-1.1zM101.9 103.6h1.1v1.1h-1.1zM98.9 106.4h1.1v1.1h-1.1zM119.1 85.5h1.1v1.1h-1.1zM101.0 106.3h1.1v1.1h-1.1zM84.2 118.5h1.1v1.1h-1.1zM92.2 111.4h1.1v1.1h-1.1zM80.6 126.8h1.1v1.1h-1.1zM63.6 132.2h1.1v1.1h-1.1zM68.8 132.0h1.1v1.1h-1.1zM85.5 119.4h1.1v1.1h-1.1zM108.1 96.1h1.1v1.1h-1.1zM65.8 136.5h1.1v1.1h-1.1zM103.3 104.9h1.1v1.1h-1.1zM99.9 105.2h1.1v1.1h-1.1zM99.1 108.0h1.1v1.1h-1.1zM88.9 118.2h1.1v1.1h-1.1zM95.2 109.9h1.1v1.1h-1.1zM66.6 130.4h1.1v1.1h-1.1zM84.4 122.2h1.1v1.1h-1.1zM88.2 114.6h1.1v1.1h-1.1zM78.4 127.3h1.1v1.1h-1.1zM93.1 106.1h1.1v1.1h-1.1zM107.1 97.6h1.1v1.1h-1.1zM90.7 110.3h1.1v1.1h-1.1zM96.5 107.7h1.1v1.1h-1.1zM89.2 113.4h1.1v1.1h-1.1zM61.9 137.7h1.1v1.1h-1.1zM96.2 111.5h1.1v1.1h-1.1zM73.1 128.9h1.1v1.1h-1.1zM107.6 98.8h1.1v1.1h-1.1zM103.0 101.8h1.1v1.1h-1.1zM95.3 110.6h1.1v1.1h-1.1zM105.8 101.5h1.1v1.1h-1.1zM93.0 111.3h1.1v1.1h-1.1zM100.5 103.8h1.1v1.1h-1.1zM68.6 129.3h1.1v1.1h-1.1zM88.4 119.9h1.1v1.1h-1.1zM85.4 122.7h1.1v1.1h-1.1zM68.9 135.2h1.1v1.1h-1.1zM63.2 132.7h1.1v1.1h-1.1zM108.4 99.6h1.1v1.1h-1.1zM97.4 110.5h1.1v1.1h-1.1zM83.5 122.2h1.1v1.1h-1.1zM111.1 99.3h1.1v1.1h-1.1zM113.8 93.6h1.1v1.1h-1.1zM74.2 126.6h1.1v1.1h-1.1zM88.7 121.1h1.1v1.1h-1.1zM62.9 137.3h1.1v1.1h-1.1zM84.2 119.2h1.1v1.1h-1.1zM70.5 130.9h1.1v1.1h-1.1zM92.9 112.5h1.1v1.1h-1.1zM65.1 135.6h1.1v1.1h-1.1zM96.0 105.0h1.1v1.1h-1.1zM96.3 106.6h1.1v1.1h-1.1zM63.2 139.4h1.1v1.1h-1.1zM89.9 115.9h1.1v1.1h-1.1zM89.6 117.0h1.1v1.1h-1.1zM91.6 114.3h1.1v1.1h-1.1zM99.1 104.3h1.1v1.1h-1.1zM67.0 130.9h1.1v1.1h-1.1zM90.8 112.7h1.1v1.1h-1.1zM64.2 133.5h1.1v1.1h-1.1zM81.4 118.8h1.1v1.1h-1.1zM74.1 127.6h1.1v1.1h-1.1zM75.0 124.3h1.1v1.1h-1.1zM82.1 124.2h1.1v1.1h-1.1zM82.4 125.4h1.1v1.1h-1.1zM100.6 106.2h1.1v1.1h-1.1zM85.4 122.2h1.1v1.1h-1.1zM99.3 108.2h1.1v1.1h-1.1zM64.4 137.4h1.1v1.1h-1.1zM76.3 129.5h1.1v1.1h-1.1zM100.8 99.8h1.1v1.1h-1.1zM77.8 127.8h1.1v1.1h-1.1zM105.9 97.7h1.1v1.1h-1.1zM77.8 124.8h1.1v1.1h-1.1zM67.9 133.6h1.1v1.1h-1.1zM72.3 125.6h1.1v1.1h-1.1zM99.8 105.2h1.1v1.1h-1.1zM83.6 118.4h1.1v1.1h-1.1zM70.2 129.8h1.1v1.1h-1.1zM85.7 114.3h1.1v1.1h-1.1zM69.0 128.3h1.1v1.1h-1.1zM88.3 118.6h1.1v1.1h-1.1zM101.3 105.1h1.1v1.1h-1.1zM72.9 132.5h1.1v1.1h-1.1zM65.6 129.0h1.1v1.1h-1.1zM70.2 132.6h1.1v1.1h-1.1zM85.0 119.3h1.1v1.1h-1.1zM105.9 98.9h1.1v1.1h-1.1zM97.2 106.9h1.1v1.1h-1.1zM102.6 103.2h1.1v1.1h-1.1zM79.0 123.5h1.1v1.1h-1.1zM78.0 124.0h1.1v1.1h-1.1zM86.7 117.0h1.1v1.1h-1.1zM94.2 114.4h1.1v1.1h-1.1zM105.6 100.2h1.1v1.1h-1.1zM80.9 125.7h1.1v1.1h-1.1zM71.8 129.4h1.1v1.1h-1.1zM106.3 100.1h1.1v1.1h-1.1zM64.7 134.3h1.1v1.1h-1.1zM103.6 100.6h1.1v1.1h-1.1zM78.8 120.9h1.1v1.1h-1.1zM75.7 120.2h1.1v1.1h-1.1zM106.3 100.0h1.1v1.1h-1.1zM65.2 133.0h1.1v1.1h-1.1zM95.8 108.6h1.1v1.1h-1.1zM92.7 115.5h1.1v1.1h-1.1zM96.1 111.0h1.1v1.1h-1.1zM97.9 105.2h1.1v1.1h-1.1zM107.8 96.7h1.1v1.1h-1.1zM79.8 123.0h1.1v1.1h-1.1zM86.7 119.8h1.1v1.1h-1.1zM73.7 127.9h1.1v1.1h-1.1zM87.1 118.2h1.1v1.1h-1.1zM100.8 106.1h1.1v1.1h-1.1zM102.1 104.0h1.1v1.1h-1.1zM83.5 116.7h1.1v1.1h-1.1zM83.3 123.8h1.1v1.1h-1.1zM92.4 110.2h1.1v1.1h-1.1zM82.8 121.1h1.1v1.1h-1.1zM99.9 102.8h1.1v1.1h-1.1zM64.0 134.7h1.1v1.1h-1.1zM109.6 100.9h1.1v1.1h-1.1zM99.1 102.7h1.1v1.1h-1.1zM67.3 132.1h1.1v1.1h-1.1zM84.7 118.8h1.1v1.1h-1.1zM86.4 120.6h1.1v1.1h-1.1zM94.4 108.6h1.1v1.1h-1.1zM69.6 129.8h1.1v1.1h-1.1zM79.6 123.9h1.1v1.1h-1.1zM72.0 126.7h1.1v1.1h-1.1zM62.3 132.1h1.1v1.1h-1.1zM83.3 116.1h1.1v1.1h-1.1zM88.5 113.3h1.1v1.1h-1.1zM64.7 132.0h1.1v1.1h-1.1zM66.6 133.4h1.1v1.1h-1.1zM77.5 118.8h1.1v1.1h-1.1zM91.2 115.9h1.1v1.1h-1.1zM90.7 117.8h1.1v1.1h-1.1zM100.7 105.7h1.1v1.1h-1.1zM76.6 122.0h1.1v1.1h-1.1zM81.4 127.1h1.1v1.1h-1.1zM105.9 100.0h1.1v1.1h-1.1zM94.3 113.7h1.1v1.1h-1.1zM86.1 119.1h1.1v1.1h-1.1zM83.0 118.7h1.1v1.1h-1.1zM75.6 126.4h1.1v1.1h-1.1zM74.9 128.2h1.1v1.1h-1.1zM80.7 121.1h1.1v1.1h-1.1zM75.2 121.7h1.1v1.1h-1.1zM66.2 136.0h1.1v1.1h-1.1zM77.8 128.5h1.1v1.1h-1.1zM73.5 128.3h1.1v1.1h-1.1zM90.5 116.7h1.1v1.1h-1.1zM85.4 116.3h1.1v1.1h-1.1zM67.4 134.9h1.1v1.1h-1.1zM89.2 118.0h1.1v1.1h-1.1zM74.3 125.3h1.1v1.1h-1.1zM94.8 108.7h1.1v1.1h-1.1zM62.9 135.8h1.1v1.1h-1.1zM67.2 133.5h1.1v1.1h-1.1zM98.1 106.3h1.1v1.1h-1.1zM98.6 103.2h1.1v1.1h-1.1zM71.3 130.2h1.1v1.1h-1.1zM78.1 124.2h1.1v1.1h-1.1zM70.7 125.8h1.1v1.1h-1.1zM74.4 123.9h1.1v1.1h-1.1zM96.4 105.9h1.1v1.1h-1.1zM102.0 108.8h1.1v1.1h-1.1zM85.9 115.3h1.1v1.1h-1.1zM80.8 126.4h1.1v1.1h-1.1zM72.7 131.0h1.1v1.1h-1.1zM66.7 132.1h1.1v1.1h-1.1zM88.0 113.3h1.1v1.1h-1.1zM103.1 101.7h1.1v1.1h-1.1zM91.1 109.2h1.1v1.1h-1.1zM109.7 98.3h1.1v1.1h-1.1zM106.8 100.1h1.1v1.1h-1.1zM64.6 135.2h1.1v1.1h-1.1zM84.4 115.1h1.1v1.1h-1.1zM113.0 93.8h1.1v1.1h-1.1zM86.4 114.2h1.1v1.1h-1.1zM89.4 117.7h1.1v1.1h-1.1zM69.4 128.7h1.1v1.1h-1.1zM63.3 131.6h1.1v1.1h-1.1zM86.9 114.5h1.1v1.1h-1.1zM71.6 132.7h1.1v1.1h-1.1zM102.4 99.7h1.1v1.1h-1.1zM84.1 120.4h1.1v1.1h-1.1zM69.7 128.6h1.1v1.1h-1.1zM87.9 116.8h1.1v1.1h-1.1zM71.2 131.2h1.1v1.1h-1.1zM108.4 98.4h1.1v1.1h-1.1zM90.3 115.5h1.1v1.1h-1.1zM75.6 126.2h1.1v1.1h-1.1zM65.5 134.2h1.1v1.1h-1.1zM106.2 99.0h1.1v1.1h-1.1zM107.5 99.8h1.1v1.1h-1.1zM100.8 104.9h1.1v1.1h-1.1zM98.9 109.6h1.1v1.1h-1.1zM62.9 131.6h1.1v1.1h-1.1zM75.6 127.6h1.1v1.1h-1.1zM72.1 128.7h1.1v1.1h-1.1zM100.0 100.9h1.1v1.1h-1.1zM64.1 135.6h1.1v1.1h-1.1zM106.2 100.9h1.1v1.1h-1.1zM111.4 94.7h1.1v1.1h-1.1zM88.1 120.4h1.1v1.1h-1.1zM97.3 108.0h1.1v1.1h-1.1zM88.5 119.5h1.1v1.1h-1.1zM88.1 110.4h1.1v1.1h-1.1zM62.0 138.1h1.1v1.1h-1.1zM70.0 134.2h1.1v1.1h-1.1zM100.6 104.1h1.1v1.1h-1.1zM72.0 128.8h1.1v1.1h-1.1zM106.6 99.9h1.1v1.1h-1.1zM81.6 124.8h1.1v1.1h-1.1zM101.3 104.0h1.1v1.1h-1.1zM82.4 117.7h1.1v1.1h-1.1zM75.4 126.3h1.1v1.1h-1.1zM91.1 111.2h1.1v1.1h-1.1zM83.1 119.0h1.1v1.1h-1.1zM67.4 133.0h1.1v1.1h-1.1zM101.2 103.6h1.1v1.1h-1.1zM66.5 135.3h1.1v1.1h-1.1zM62.7 132.1h1.1v1.1h-1.1zM90.0 119.3h1.1v1.1h-1.1zM96.9 105.9h1.1v1.1h-1.1zM74.6 123.0h1.1v1.1h-1.1zM90.6 115.4h1.1v1.1h-1.1zM71.5 127.6h1.1v1.1h-1.1zM67.4 133.1h1.1v1.1h-1.1zM89.7 115.1h1.1v1.1h-1.1zM91.5 115.4h1.1v1.1h-1.1zM94.5 112.0h1.1v1.1h-1.1zM67.8 138.0h1.1v1.1h-1.1zM77.4 125.1h1.1v1.1h-1.1zM91.1 111.6h1.1v1.1h-1.1zM85.8 120.1h1.1v1.1h-1.1zM95.1 107.9h1.1v1.1h-1.1zM89.3 115.4h1.1v1.1h-1.1zM80.7 120.1h1.1v1.1h-1.1zM100.0 102.5h1.1v1.1h-1.1zM83.8 124.0h1.1v1.1h-1.1zM96.0 103.8h1.1v1.1h-1.1zM71.9 131.1h1.1v1.1h-1.1zM69.9 133.6h1.1v1.1h-1.1zM105.3 105.7h1.1v1.1h-1.1zM84.4 118.4h1.1v1.1h-1.1zM97.5 106.5h1.1v1.1h-1.1zM92.7 114.0h1.1v1.1h-1.1zM78.7 120.7h1.1v1.1h-1.1zM89.8 118.1h1.1v1.1h-1.1zM76.1 126.3h1.1v1.1h-1.1zM72.4 129.9h1.1v1.1h-1.1zM67.3 134.2h1.1v1.1h-1.1zM71.3 129.5h1.1v1.1h-1.1zM76.2 126.9h1.1v1.1h-1.1zM70.9 124.7h1.1v1.1h-1.1zM89.7 112.8h1.1v1.1h-1.1zM91.9 114.3h1.1v1.1h-1.1zM82.3 116.4h1.1v1.1h-1.1zM99.5 100.8h1.1v1.1h-1.1zM94.0 111.2h1.1v1.1h-1.1zM86.7 122.2h1.1v1.1h-1.1zM70.9 132.6h1.1v1.1h-1.1zM70.4 131.8h1.1v1.1h-1.1zM98.7 107.9h1.1v1.1h-1.1zM94.3 107.8h1.1v1.1h-1.1zM79.0 121.2h1.1v1.1h-1.1zM75.7 125.8h1.1v1.1h-1.1zM73.1 131.7h1.1v1.1h-1.1zM69.9 129.9h1.1v1.1h-1.1zM85.0 118.1h1.1v1.1h-1.1zM99.9 102.9h1.1v1.1h-1.1zM71.7 133.4h1.1v1.1h-1.1zM79.7 123.8h1.1v1.1h-1.1zM97.4 103.7h1.1v1.1h-1.1zM94.7 111.9h1.1v1.1h-1.1zM89.9 112.5h1.1v1.1h-1.1zM78.8 125.4h1.1v1.1h-1.1zM82.9 120.6h1.1v1.1h-1.1zM86.4 118.6h1.1v1.1h-1.1zM79.2 123.0h1.1v1.1h-1.1zM91.3 114.4h1.1v1.1h-1.1zM74.9 127.3h1.1v1.1h-1.1zM107.0 98.9h1.1v1.1h-1.1zM80.3 124.9h1.1v1.1h-1.1zM73.2 128.2h1.1v1.1h-1.1zM69.2 127.4h1.1v1.1h-1.1zM91.9 114.4h1.1v1.1h-1.1zM108.6 96.7h1.1v1.1h-1.1zM102.3 104.6h1.1v1.1h-1.1zM61.7 133.1h1.1v1.1h-1.1zM75.0 122.7h1.1v1.1h-1.1zM82.8 119.4h1.1v1.1h-1.1zM76.8 126.9h1.1v1.1h-1.1zM98.2 105.5h1.1v1.1h-1.1zM77.8 120.4h1.1v1.1h-1.1zM77.7 123.3h1.1v1.1h-1.1zM83.1 119.7h1.1v1.1h-1.1zM100.2 106.1h1.1v1.1h-1.1zM91.1 116.2h1.1v1.1h-1.1zM93.9 112.4h1.1v1.1h-1.1zM99.0 102.3h1.1v1.1h-1.1zM103.9 101.8h1.1v1.1h-1.1zM100.0 107.8h1.1v1.1h-1.1zM66.7 136.4h1.1v1.1h-1.1zM76.2 120.6h1.1v1.1h-1.1zM68.1 134.9h1.1v1.1h-1.1zM108.6 94.8h1.1v1.1h-1.1zM88.4 117.9h1.1v1.1h-1.1zM100.8 101.9h1.1v1.1h-1.1zM94.4 110.2h1.1v1.1h-1.1zM77.9 126.0h1.1v1.1h-1.1zM79.0 124.2h1.1v1.1h-1.1zM74.6 125.1h1.1v1.1h-1.1zM65.1 133.0h1.1v1.1h-1.1zM76.3 123.0h1.1v1.1h-1.1zM97.8 106.6h1.1v1.1h-1.1zM95.0 112.8h1.1v1.1h-1.1zM99.9 104.2h1.1v1.1h-1.1zM94.9 108.7h1.1v1.1h-1.1zM98.6 104.7h1.1v1.1h-1.1zM60.7 135.2h1.1v1.1h-1.1zM83.9 118.9h1.1v1.1h-1.1zM99.2 106.1h1.1v1.1h-1.1zM72.1 128.7h1.1v1.1h-1.1zM85.5 118.6h1.1v1.1h-1.1zM66.3 130.1h1.1v1.1h-1.1zM75.8 127.0h1.1v1.1h-1.1zM81.0 123.1h1.1v1.1h-1.1zM94.8 113.6h1.1v1.1h-1.1zM79.2 127.3h1.1v1.1h-1.1zM71.3 131.3h1.1v1.1h-1.1zM80.9 119.4h1.1v1.1h-1.1zM67.9 132.3h1.1v1.1h-1.1zM83.5 121.0h1.1v1.1h-1.1zM72.2 130.8h1.1v1.1h-1.1zM91.9 111.2h1.1v1.1h-1.1zM105.9 99.1h1.1v1.1h-1.1zM65.9 136.6h1.1v1.1h-1.1zM114.0 91.0h1.1v1.1h-1.1zM87.9 114.1h1.1v1.1h-1.1zM93.1 112.8h1.1v1.1h-1.1zM68.9 131.6h1.1v1.1h-1.1zM61.0 134.7h1.1v1.1h-1.1zM99.4 111.0h1.1v1.1h-1.1zM79.7 122.2h1.1v1.1h-1.1zM99.5 104.4h1.1v1.1h-1.1zM75.3 120.1h1.1v1.1h-1.1zM83.4 121.7h1.1v1.1h-1.1zM86.6 116.5h1.1v1.1h-1.1zM100.2 107.6h1.1v1.1h-1.1zM90.8 114.1h1.1v1.1h-1.1zM84.8 118.2h1.1v1.1h-1.1zM75.6 127.3h1.1v1.1h-1.1zM64.4 132.0h1.1v1.1h-1.1zM89.1 115.3h1.1v1.1h-1.1zM98.3 105.6h1.1v1.1h-1.1zM99.6 107.3h1.1v1.1h-1.1zM76.6 124.4h1.1v1.1h-1.1zM72.0 129.8h1.1v1.1h-1.1zM72.4 125.2h1.1v1.1h-1.1zM77.2 123.7h1.1v1.1h-1.1zM81.8 121.8h1.1v1.1h-1.1zM95.8 109.7h1.1v1.1h-1.1zM74.2 126.8h1.1v1.1h-1.1zM107.1 96.5h1.1v1.1h-1.1zM65.8 134.5h1.1v1.1h-1.1zM74.9 127.4h1.1v1.1h-1.1zM71.3 127.1h1.1v1.1h-1.1zM77.5 126.8h1.1v1.1h-1.1zM65.3 132.2h1.1v1.1h-1.1zM81.8 122.8h1.1v1.1h-1.1zM83.0 120.6h1.1v1.1h-1.1zM87.6 118.7h1.1v1.1h-1.1zM113.8 92.6h1.1v1.1h-1.1zM60.8 135.0h1.1v1.1h-1.1zM103.1 101.2h1.1v1.1h-1.1zM87.8 115.1h1.1v1.1h-1.1zM74.4 128.4h1.1v1.1h-1.1zM63.9 136.2h1.1v1.1h-1.1zM85.8 118.8h1.1v1.1h-1.1zM69.6 133.7h1.1v1.1h-1.1zM72.2 127.4h1.1v1.1h-1.1zM76.9 127.2h1.1v1.1h-1.1zM102.2 104.0h1.1v1.1h-1.1zM70.8 129.8h1.1v1.1h-1.1zM67.6 133.6h1.1v1.1h-1.1zM64.0 134.6h1.1v1.1h-1.1zM91.4 116.6h1.1v1.1h-1.1zM91.5 109.7h1.1v1.1h-1.1zM101.1 107.1h1.1v1.1h-1.1zM83.2 119.7h1.1v1.1h-1.1zM78.2 126.2h1.1v1.1h-1.1zM73.1 129.8h1.1v1.1h-1.1zM86.6 115.6h1.1v1.1h-1.1zM74.7 129.3h1.1v1.1h-1.1zM102.8 103.5h1.1v1.1h-1.1zM105.7 101.7h1.1v1.1h-1.1zM78.1 120.5h1.1v1.1h-1.1zM107.7 96.2h1.1v1.1h-1.1zM70.8 129.2h1.1v1.1h-1.1zM65.7 137.5h1.1v1.1h-1.1zM70.4 130.0h1.1v1.1h-1.1zM98.0 106.0h1.1v1.1h-1.1zM72.9 130.1h1.1v1.1h-1.1zM104.3 103.6h1.1v1.1h-1.1zM68.3 135.8h1.1v1.1h-1.1zM76.9 121.0h1.1v1.1h-1.1zM64.1 133.8h1.1v1.1h-1.1zM78.1 126.9h1.1v1.1h-1.1zM72.8 124.5h1.1v1.1h-1.1zM104.6 100.9h1.1v1.1h-1.1zM89.3 114.7h1.1v1.1h-1.1zM100.0 104.5h1.1v1.1h-1.1zM104.1 101.0h1.1v1.1h-1.1zM90.7 115.9h1.1v1.1h-1.1zM70.5 131.3h1.1v1.1h-1.1zM90.7 110.5h1.1v1.1h-1.1zM102.6 100.4h1.1v1.1h-1.1zM100.9 103.2h1.1v1.1h-1.1zM97.1 110.3h1.1v1.1h-1.1zM67.8 130.0h1.1v1.1h-1.1zM98.9 106.8h1.1v1.1h-1.1zM109.1 93.8h1.1v1.1h-1.1zM98.2 110.7h1.1v1.1h-1.1zM69.9 129.1h1.1v1.1h-1.1zM101.3 104.0h1.1v1.1h-1.1zM68.8 133.5h1.1v1.1h-1.1zM75.6 128.3h1.1v1.1h-1.1zM68.3 130.1h1.1v1.1h-1.1zM99.3 107.4h1.1v1.1h-1.1zM107.4 97.6h1.1v1.1h-1.1zM72.3 132.5h1.1v1.1h-1.1zM88.6 113.7h1.1v1.1h-1.1zM59.7 141.4h1.1v1.1h-1.1zM106.3 101.9h1.1v1.1h-1.1zM87.3 117.3h1.1v1.1h-1.1zM96.5 111.9h1.1v1.1h-1.1zM87.7 113.8h1.1v1.1h-1.1zM97.5 109.1h1.1v1.1h-1.1zM78.9 119.7h1.1v1.1h-1.1zM94.9 107.2h1.1v1.1h-1.1zM108.4 97.0h1.1v1.1h-1.1zM88.6 120.9h1.1v1.1h-1.1zM69.7 125.4h1.1v1.1h-1.1zM106.9 98.0h1.1v1.1h-1.1zM78.7 124.9h1.1v1.1h-1.1zM94.7 106.7h1.1v1.1h-1.1zM73.3 127.3h1.1v1.1h-1.1zM88.1 110.3h1.1v1.1h-1.1zM71.5 131.1h1.1v1.1h-1.1zM63.3 136.2h1.1v1.1h-1.1zM85.3 112.3h1.1v1.1h-1.1zM85.5 116.8h1.1v1.1h-1.1zM93.2 112.3h1.1v1.1h-1.1zM100.5 106.9h1.1v1.1h-1.1zM85.6 116.2h1.1v1.1h-1.1zM93.6 107.6h1.1v1.1h-1.1zM70.4 130.5h1.1v1.1h-1.1zM72.5 129.4h1.1v1.1h-1.1zM71.5 130.3h1.1v1.1h-1.1zM65.8 133.6h1.1v1.1h-1.1zM102.3 101.1h1.1v1.1h-1.1zM94.9 108.7h1.1v1.1h-1.1zM80.0 129.3h1.1v1.1h-1.1zM71.0 129.1h1.1v1.1h-1.1zM98.9 107.2h1.1v1.1h-1.1zM83.5 120.4h1.1v1.1h-1.1zM76.2 122.0h1.1v1.1h-1.1zM81.8 125.1h1.1v1.1h-1.1zM82.6 122.8h1.1v1.1h-1.1zM99.8 105.1h1.1v1.1h-1.1zM100.4 107.7h1.1v1.1h-1.1zM72.6 129.2h1.1v1.1h-1.1zM82.7 123.0h1.1v1.1h-1.1zM87.5 121.6h1.1v1.1h-1.1zM104.7 97.0h1.1v1.1h-1.1zM67.4 129.7h1.1v1.1h-1.1zM103.9 98.3h1.1v1.1h-1.1zM95.3 109.2h1.1v1.1h-1.1zM113.2 93.6h1.1v1.1h-1.1zM69.4 127.0h1.1v1.1h-1.1zM62.4 133.5h1.1v1.1h-1.1zM89.0 112.7h1.1v1.1h-1.1zM106.4 97.7h1.1v1.1h-1.1zM93.7 113.2h1.1v1.1h-1.1zM80.7 122.3h1.1v1.1h-1.1zM101.4 100.5h1.1v1.1h-1.1zM85.9 117.1h1.1v1.1h-1.1zM97.4 105.0h1.1v1.1h-1.1zM70.2 133.7h1.1v1.1h-1.1zM88.5 120.5h1.1v1.1h-1.1zM91.7 113.4h1.1v1.1h-1.1zM70.3 131.7h1.1v1.1h-1.1zM80.4 121.0h1.1v1.1h-1.1zM79.7 127.2h1.1v1.1h-1.1zM87.2 112.0h1.1v1.1h-1.1zM101.4 107.1h1.1v1.1h-1.1zM65.1 137.0h1.1v1.1h-1.1zM75.4 122.0h1.1v1.1h-1.1zM100.3 105.3h1.1v1.1h-1.1zM76.4 121.8h1.1v1.1h-1.1zM79.5 127.3h1.1v1.1h-1.1zM96.2 106.5h1.1v1.1h-1.1zM75.4 127.6h1.1v1.1h-1.1zM93.3 115.5h1.1v1.1h-1.1zM75.7 130.5h1.1v1.1h-1.1zM60.5 131.6h1.1v1.1h-1.1zM71.4 127.1h1.1v1.1h-1.1zM66.2 132.0h1.1v1.1h-1.1zM92.1 113.1h1.1v1.1h-1.1zM95.9 106.4h1.1v1.1h-1.1zM116.5 88.3h1.1v1.1h-1.1zM92.5 115.4h1.1v1.1h-1.1zM74.4 126.9h1.1v1.1h-1.1zM89.0 110.5h1.1v1.1h-1.1zM72.6 122.6h1.1v1.1h-1.1zM78.1 120.0h1.1v1.1h-1.1zM89.6 112.7h1.1v1.1h-1.1zM78.8 123.8h1.1v1.1h-1.1zM90.1 112.8h1.1v1.1h-1.1zM110.0 98.6h1.1v1.1h-1.1zM95.7 108.4h1.1v1.1h-1.1zM81.3 116.2h1.1v1.1h-1.1zM96.2 110.1h1.1v1.1h-1.1zM100.6 102.3h1.1v1.1h-1.1zM62.7 135.5h1.1v1.1h-1.1zM79.0 125.4h1.1v1.1h-1.1zM100.8 105.6h1.1v1.1h-1.1zM81.5 118.9h1.1v1.1h-1.1zM101.9 104.5h1.1v1.1h-1.1zM76.0 124.5h1.1v1.1h-1.1zM77.4 123.4h1.1v1.1h-1.1zM71.2 128.9h1.1v1.1h-1.1zM76.3 126.7h1.1v1.1h-1.1zM71.2 131.8h1.1v1.1h-1.1zM83.2 114.7h1.1v1.1h-1.1zM77.2 124.6h1.1v1.1h-1.1zM101.3 106.9h1.1v1.1h-1.1zM87.7 118.3h1.1v1.1h-1.1zM93.9 110.5h1.1v1.1h-1.1zM92.2 110.2h1.1v1.1h-1.1zM85.4 115.5h1.1v1.1h-1.1zM65.2 137.3h1.1v1.1h-1.1zM66.1 136.7h1.1v1.1h-1.1zM98.6 109.9h1.1v1.1h-1.1zM62.4 136.2h1.1v1.1h-1.1zM87.7 116.0h1.1v1.1h-1.1zM106.1 98.4h1.1v1.1h-1.1zM78.0 121.1h1.1v1.1h-1.1zM72.7 126.4h1.1v1.1h-1.1zM96.1 107.9h1.1v1.1h-1.1zM100.3 105.3h1.1v1.1h-1.1zM109.5 97.2h1.1v1.1h-1.1zM80.8 125.0h1.1v1.1h-1.1zM71.0 126.4h1.1v1.1h-1.1zM72.0 130.1h1.1v1.1h-1.1zM66.5 130.5h1.1v1.1h-1.1zM98.1 106.4h1.1v1.1h-1.1zM84.8 119.8h1.1v1.1h-1.1zM93.0 112.1h1.1v1.1h-1.1zM68.4 128.0h1.1v1.1h-1.1zM70.5 133.7h1.1v1.1h-1.1zM89.0 114.6h1.1v1.1h-1.1zM67.3 130.8h1.1v1.1h-1.1zM78.1 122.1h1.1v1.1h-1.1zM74.7 128.5h1.1v1.1h-1.1zM110.1 97.9h1.1v1.1h-1.1zM69.6 129.0h1.1v1.1h-1.1zM90.5 113.4h1.1v1.1h-1.1zM73.1 126.3h1.1v1.1h-1.1zM97.6 106.9h1.1v1.1h-1.1zM92.9 108.3h1.1v1.1h-1.1zM90.8 115.1h1.1v1.1h-1.1zM69.5 130.4h1.1v1.1h-1.1zM86.2 114.7h1.1v1.1h-1.1zM84.3 119.8h1.1v1.1h-1.1zM92.7 112.5h1.1v1.1h-1.1zM96.1 104.2h1.1v1.1h-1.1zM67.2 130.3h1.1v1.1h-1.1zM100.8 103.6h1.1v1.1h-1.1zM89.1 111.3h1.1v1.1h-1.1zM71.7 132.9h1.1v1.1h-1.1zM65.4 134.4h1.1v1.1h-1.1zM113.7 93.5h1.1v1.1h-1.1zM82.7 123.4h1.1v1.1h-1.1zM81.5 122.3h1.1v1.1h-1.1zM111.8 98.8h1.1v1.1h-1.1zM78.7 127.4h1.1v1.1h-1.1zM85.6 115.7h1.1v1.1h-1.1zM95.5 112.7h1.1v1.1h-1.1zM68.2 137.7h1.1v1.1h-1.1zM83.2 119.1h1.1v1.1h-1.1zM89.8 111.4h1.1v1.1h-1.1zM70.7 131.6h1.1v1.1h-1.1zM66.7 135.6h1.1v1.1h-1.1zM75.6 123.6h1.1v1.1h-1.1zM102.1 106.8h1.1v1.1h-1.1zM103.6 104.8h1.1v1.1h-1.1zM82.0 117.9h1.1v1.1h-1.1zM71.8 133.8h1.1v1.1h-1.1zM82.9 122.7h1.1v1.1h-1.1zM69.7 130.5h1.1v1.1h-1.1zM85.7 123.1h1.1v1.1h-1.1zM90.1 116.9h1.1v1.1h-1.1zM104.2 104.7h1.1v1.1h-1.1zM92.8 111.4h1.1v1.1h-1.1zM77.9 126.1h1.1v1.1h-1.1zM106.3 100.1h1.1v1.1h-1.1zM64.5 136.1h1.1v1.1h-1.1z" fill="#000000" fill-opacity="0.4"/>
<path d="M91.6 117.0h1.1v1.1h-1.1zM113.7 95.3h1.1v1.1h-1.1zM99.9 108.9h1.1v1.1h-1.1zM94.8 110.8h1.1v1.1h-1.1zM91.2 110.3h1.1v1.1h-1.1zM81.2 119.4h1.1v1.1h-1.1zM63.1 139.2h1.1v1.1h-1.1zM101.3 107.2h1.1v1.1h-1.1zM112.3 91.7h1.1v1.1h-1.1zM94.9 109.9h1.1v1.1h-1.1zM93.9 111.7h1.1v1.1h-1.1zM74.2 126.9h1.1v1.1h-1.1zM94.2 113.4h1.1v1.1h-1.1zM87.3 110.9h1.1v1.1h-1.1zM88.8 114.7h1.1v1.1h-1.1zM75.6 124.6h1.1v1.1h-1.1zM85.4 117.0h1.1v1.1h-1.1zM99.4 103.3h1.1v1.1h-1.1zM104.0 103.0h1.1v1.1h-1.1zM74.6 125.2h1.1v1.1h-1.1zM65.4 135.8h1.1v1.1h-1.1zM91.6 112.0h1.1v1.1h-1.1zM105.8 101.9h1.1v1.1h-1.1zM90.6 109.7h1.1v1.1h-1.1zM86.0 123.8h1.1v1.1h-1.1zM82.9 125.4h1.1v1.1h-1.1zM90.6 117.3h1.1v1.1h-1.1zM107.4 97.1h1.1v1.1h-1.1zM80.7 125.5h1.1v1.1h-1.1zM93.5 110.5h1.1v1.1h-1.1zM96.4 106.1h1.1v1.1h-1.1zM93.0 117.0h1.1v1.1h-1.1zM108.0 101.6h1.1v1.1h-1.1zM65.2 134.4h1.1v1.1h-1.1zM74.2 131.4h1.1v1.1h-1.1zM84.6 116.6h1.1v1.1h-1.1zM96.5 108.2h1.1v1.1h-1.1zM99.1 102.8h1.1v1.1h-1.1zM88.9 116.7h1.1v1.1h-1.1zM68.4 137.8h1.1v1.1h-1.1zM75.1 126.5h1.1v1.1h-1.1zM93.1 106.7h1.1v1.1h-1.1zM104.5 101.2h1.1v1.1h-1.1zM106.4 98.7h1.1v1.1h-1.1zM73.7 126.9h1.1v1.1h-1.1zM78.7 123.3h1.1v1.1h-1.1zM91.4 110.9h1.1v1.1h-1.1zM70.6 131.4h1.1v1.1h-1.1zM78.2 126.9h1.1v1.1h-1.1zM79.4 124.6h1.1v1.1h-1.1zM119.5 88.1h1.1v1.1h-1.1zM78.2 118.1h1.1v1.1h-1.1zM101.6 104.0h1.1v1.1h-1.1zM92.6 117.7h1.1v1.1h-1.1zM104.2 103.0h1.1v1.1h-1.1zM86.2 112.5h1.1v1.1h-1.1zM67.0 131.9h1.1v1.1h-1.1zM95.4 108.7h1.1v1.1h-1.1zM104.1 105.5h1.1v1.1h-1.1zM95.4 107.5h1.1v1.1h-1.1zM91.4 114.5h1.1v1.1h-1.1zM79.5 120.5h1.1v1.1h-1.1zM86.8 118.6h1.1v1.1h-1.1zM65.0 130.8h1.1v1.1h-1.1zM64.6 133.9h1.1v1.1h-1.1zM71.6 133.4h1.1v1.1h-1.1zM102.7 100.1h1.1v1.1h-1.1zM65.7 133.4h1.1v1.1h-1.1zM69.2 131.4h1.1v1.1h-1.1zM82.7 124.0h1.1v1.1h-1.1zM103.3 104.5h1.1v1.1h-1.1zM95.5 108.4h1.1v1.1h-1.1zM76.5 127.2h1.1v1.1h-1.1zM110.7 95.7h1.1v1.1h-1.1zM81.2 120.2h1.1v1.1h-1.1zM91.2 109.9h1.1v1.1h-1.1zM90.6 112.8h1.1v1.1h-1.1zM96.0 106.4h1.1v1.1h-1.1zM87.2 115.6h1.1v1.1h-1.1zM103.0 103.1h1.1v1.1h-1.1zM69.9 132.1h1.1v1.1h-1.1zM91.0 113.9h1.1v1.1h-1.1zM92.6 113.9h1.1v1.1h-1.1zM75.0 126.1h1.1v1.1h-1.1zM99.3 105.9h1.1v1.1h-1.1zM92.7 110.2h1.1v1.1h-1.1zM85.7 119.0h1.1v1.1h-1.1zM102.5 103.7h1.1v1.1h-1.1zM105.3 101.9h1.1v1.1h-1.1zM63.1 135.9h1.1v1.1h-1.1zM87.9 116.3h1.1v1.1h-1.1zM73.8 126.6h1.1v1.1h-1.1zM81.8 124.1h1.1v1.1h-1.1zM82.4 117.4h1.1v1.1h-1.1zM99.0 104.8h1.1v1.1h-1.1zM108.8 95.4h1.1v1.1h-1.1zM73.2 130.9h1.1v1.1h-1.1zM89.9 117.2h1.1v1.1h-1.1zM80.5 124.5h1.1v1.1h-1.1zM72.5 123.7h1.1v1.1h-1.1zM96.0 111.8h1.1v1.1h-1.1zM63.9 133.5h1.1v1.1h-1.1zM80.2 122.4h1.1v1.1h-1.1zM73.5 128.0h1.1v1.1h-1.1zM83.6 122.6h1.1v1.1h-1.1zM99.5 107.8h1.1v1.1h-1.1zM83.9 121.5h1.1v1.1h-1.1zM78.9 118.0h1.1v1.1h-1.1zM95.4 112.5h1.1v1.1h-1.1zM98.0 107.3h1.1v1.1h-1.1zM111.1 95.1h1.1v1.1h-1.1zM76.8 128.0h1.1v1.1h-1.1zM97.7 107.2h1.1v1.1h-1.1zM71.2 131.6h1.1v1.1h-1.1zM65.1 131.0h1.1v1.1h-1.1zM96.1 105.6h1.1v1.1h-1.1zM69.4 130.2h1.1v1.1h-1.1zM75.9 128.8h1.1v1.1h-1.1zM73.0 132.5h1.1v1.1h-1.1zM70.1 129.4h1.1v1.1h-1.1zM91.6 112.9h1.1v1.1h-1.1zM81.1 116.2h1.1v1.1h-1.1zM64.0 132.9h1.1v1.1h-1.1zM93.4 115.1h1.1v1.1h-1.1zM91.9 114.6h1.1v1.1h-1.1zM86.6 119.0h1.1v1.1h-1.1zM61.5 138.9h1.1v1.1h-1.1zM79.1 128.2h1.1v1.1h-1.1zM84.0 116.5h1.1v1.1h-1.1zM63.8 133.4h1.1v1.1h-1.1zM93.4 110.8h1.1v1.1h-1.1zM94.7 108.6h1.1v1.1h-1.1zM87.4 117.5h1.1v1.1h-1.1zM103.2 103.4h1.1v1.1h-1.1zM65.9 131.8h1.1v1.1h-1.1zM73.3 126.5h1.1v1.1h-1.1zM85.3 117.1h1.1v1.1h-1.1zM108.8 96.5h1.1v1.1h-1.1zM81.4 124.8h1.1v1.1h-1.1zM91.1 116.0h1.1v1.1h-1.1zM72.0 134.8h1.1v1.1h-1.1zM78.1 123.7h1.1v1.1h-1.1zM87.9 114.0h1.1v1.1h-1.1zM101.5 107.3h1.1v1.1h-1.1zM81.5 121.8h1.1v1.1h-1.1zM103.4 102.9h1.1v1.1h-1.1zM100.8 105.6h1.1v1.1h-1.1zM84.5 115.5h1.1v1.1h-1.1zM97.1 110.1h1.1v1.1h-1.1zM108.9 100.4h1.1v1.1h-1.1zM95.0 110.1h1.1v1.1h-1.1zM93.7 109.0h1.1v1.1h-1.1zM100.6 102.1h1.1v1.1h-1.1zM87.0 114.7h1.1v1.1h-1.1zM75.0 124.5h1.1v1.1h-1.1zM81.2 120.0h1.1v1.1h-1.1zM94.7 108.2h1.1v1.1h-1.1zM97.9 109.8h1.1v1.1h-1.1zM78.6 123.3h1.1v1.1h-1.1zM95.2 110.9h1.1v1.1h-1.1zM69.6 132.3h1.1v1.1h-1.1zM78.1 120.2h1.1v1.1h-1.1zM85.5 120.0h1.1v1.1h-1.1zM66.6 136.2h1.1v1.1h-1.1zM89.6 110.7h1.1v1.1h-1.1zM84.4 119.9h1.1v1.1h-1.1zM110.9 95.2h1.1v1.1h-1.1zM83.6 121.2h1.1v1.1h-1.1zM95.4 105.6h1.1v1.1h-1.1zM72.7 129.0h1.1v1.1h-1.1zM84.7 116.0h1.1v1.1h-1.1zM105.0 100.9h1.1v1.1h-1.1zM99.4 105.0h1.1v1.1h-1.1zM105.5 100.4h1.1v1.1h-1.1zM73.3 128.1h1.1v1.1h-1.1zM87.1 117.7h1.1v1.1h-1.1zM82.1 120.1h1.1v1.1h-1.1zM90.0 110.0h1.1v1.1h-1.1zM85.9 119.6h1.1v1.1h-1.1zM100.5 103.5h1.1v1.1h-1.1zM71.8 128.4h1.1v1.1h-1.1zM72.3 130.7h1.1v1.1h-1.1zM104.1 100.9h1.1v1.1h-1.1zM86.0 119.9h1.1v1.1h-1.1zM91.3 112.9h1.1v1.1h-1.1zM84.5 118.2h1.1v1.1h-1.1zM84.5 119.4h1.1v1.1h-1.1zM70.6 131.3h1.1v1.1h-1.1zM68.6 128.6h1.1v1.1h-1.1zM103.0 101.4h1.1v1.1h-1.1zM88.1 111.7h1.1v1.1h-1.1zM99.3 103.8h1.1v1.1h-1.1zM72.4 129.3h1.1v1.1h-1.1zM77.7 130.9h1.1v1.1h-1.1zM98.8 105.4h1.1v1.1h-1.1zM61.4 134.8h1.1v1.1h-1.1zM98.4 107.0h1.1v1.1h-1.1zM96.8 104.8h1.1v1.1h-1.1zM91.1 113.3h1.1v1.1h-1.1zM97.2 110.2h1.1v1.1h-1.1zM66.0 129.3h1.1v1.1h-1.1zM80.6 122.0h1.1v1.1h-1.1zM89.3 119.2h1.1v1.1h-1.1zM64.7 137.5h1.1v1.1h-1.1zM83.1 120.6h1.1v1.1h-1.1zM84.9 119.5h1.1v1.1h-1.1zM93.7 110.0h1.1v1.1h-1.1zM87.0 117.3h1.1v1.1h-1.1zM63.5 133.7h1.1v1.1h-1.1zM75.0 132.0h1.1v1.1h-1.1zM104.4 102.4h1.1v1.1h-1.1zM67.6 136.3h1.1v1.1h-1.1zM81.2 117.6h1.1v1.1h-1.1zM86.2 120.3h1.1v1.1h-1.1zM103.5 103.2h1.1v1.1h-1.1zM99.1 102.2h1.1v1.1h-1.1zM90.0 116.2h1.1v1.1h-1.1zM74.0 133.2h1.1v1.1h-1.1zM104.1 104.2h1.1v1.1h-1.1zM70.1 131.8h1.1v1.1h-1.1zM80.1 122.8h1.1v1.1h-1.1zM70.7 132.0h1.1v1.1h-1.1zM80.9 121.2h1.1v1.1h-1.1zM72.0 125.9h1.1v1.1h-1.1zM79.9 121.7h1.1v1.1h-1.1zM67.5 134.6h1.1v1.1h-1.1zM107.9 101.2h1.1v1.1h-1.1zM99.4 110.0h1.1v1.1h-1.1zM67.5 132.0h1.1v1.1h-1.1zM85.4 123.3h1.1v1.1h-1.1zM68.4 133.7h1.1v1.1h-1.1zM85.9 116.9h1.1v1.1h-1.1zM86.9 117.7h1.1v1.1h-1.1zM74.1 127.0h1.1v1.1h-1.1zM79.4 122.1h1.1v1.1h-1.1zM81.8 124.6h1.1v1.1h-1.1zM74.6 130.2h1.1v1.1h-1.1zM85.1 118.4h1.1v1.1h-1.1zM79.2 120.5h1.1v1.1h-1.1zM91.1 111.6h1.1v1.1h-1.1zM90.9 110.9h1.1v1.1h-1.1zM62.9 135.6h1.1v1.1h-1.1zM80.2 118.6h1.1v1.1h-1.1zM99.6 103.3h1.1v1.1h-1.1zM106.6 102.2h1.1v1.1h-1.1zM98.4 105.6h1.1v1.1h-1.1zM70.2 129.6h1.1v1.1h-1.1zM102.2 108.3h1.1v1.1h-1.1zM96.1 108.7h1.1v1.1h-1.1zM96.1 108.5h1.1v1.1h-1.1zM113.3 91.7h1.1v1.1h-1.1zM89.6 113.5h1.1v1.1h-1.1zM64.4 137.7h1.1v1.1h-1.1zM69.4 132.0h1.1v1.1h-1.1zM66.3 137.1h1.1v1.1h-1.1zM87.5 116.3h1.1v1.1h-1.1zM85.7 113.1h1.1v1.1h-1.1zM76.4 122.0h1.1v1.1h-1.1zM81.3 117.7h1.1v1.1h-1.1zM105.3 100.5h1.1v1.1h-1.1zM111.1 96.8h1.1v1.1h-1.1zM88.8 120.3h1.1v1.1h-1.1zM112.0 98.6h1.1v1.1h-1.1zM81.2 119.8h1.1v1.1h-1.1zM73.6 125.2h1.1v1.1h-1.1zM75.5 127.8h1.1v1.1h-1.1zM95.8 105.6h1.1v1.1h-1.1zM85.6 121.0h1.1v1.1h-1.1zM81.7 115.9h1.1v1.1h-1.1zM68.2 135.6h1.1v1.1h-1.1zM85.1 121.0h1.1v1.1h-1.1zM60.8 137.2h1.1v1.1h-1.1zM78.6 123.8h1.1v1.1h-1.1zM100.3 103.6h1.1v1.1h-1.1zM100.7 104.7h1.1v1.1h-1.1zM65.2 133.6h1.1v1.1h-1.1zM92.6 112.2h1.1v1.1h-1.1zM95.1 113.5h1.1v1.1h-1.1zM82.0 123.0h1.1v1.1h-1.1zM88.1 114.8h1.1v1.1h-1.1zM110.2 97.1h1.1v1.1h-1.1zM112.3 96.2h1.1v1.1h-1.1zM82.7 117.2h1.1v1.1h-1.1zM82.0 122.7h1.1v1.1h-1.1zM85.2 118.2h1.1v1.1h-1.1zM69.9 130.1h1.1v1.1h-1.1zM84.0 121.4h1.1v1.1h-1.1zM84.2 116.3h1.1v1.1h-1.1zM79.1 121.1h1.1v1.1h-1.1zM74.7 129.4h1.1v1.1h-1.1zM78.9 119.7h1.1v1.1h-1.1zM96.2 110.8h1.1v1.1h-1.1zM97.1 106.1h1.1v1.1h-1.1zM100.6 104.5h1.1v1.1h-1.1zM67.2 129.0h1.1v1.1h-1.1zM93.3 110.7h1.1v1.1h-1.1zM91.3 114.3h1.1v1.1h-1.1zM105.7 103.4h1.1v1.1h-1.1zM100.1 107.4h1.1v1.1h-1.1zM86.0 121.4h1.1v1.1h-1.1zM100.4 102.9h1.1v1.1h-1.1zM100.7 106.6h1.1v1.1h-1.1zM92.9 108.5h1.1v1.1h-1.1zM102.9 102.1h1.1v1.1h-1.1zM77.0 124.7h1.1v1.1h-1.1zM117.6 87.4h1.1v1.1h-1.1zM85.5 116.7h1.1v1.1h-1.1zM115.0 91.4h1.1v1.1h-1.1zM111.5 95.4h1.1v1.1h-1.1zM95.5 110.1h1.1v1.1h-1.1zM104.8 102.8h1.1v1.1h-1.1zM103.2 106.0h1.1v1.1h-1.1zM103.3 101.3h1.1v1.1h-1.1zM63.8 132.6h1.1v1.1h-1.1zM100.2 105.6h1.1v1.1h-1.1zM105.3 97.7h1.1v1.1h-1.1zM84.0 125.3h1.1v1.1h-1.1zM112.6 96.0h1.1v1.1h-1.1zM102.5 103.6h1.1v1.1h-1.1zM74.1 126.1h1.1v1.1h-1.1zM80.3 122.4h1.1v1.1h-1.1zM62.7 134.1h1.1v1.1h-1.1zM89.4 113.8h1.1v1.1h-1.1zM99.2 106.0h1.1v1.1h-1.1zM70.9 133.8h1.1v1.1h-1.1zM91.5 116.0h1.1v1.1h-1.1zM105.7 99.4h1.1v1.1h-1.1zM99.7 110.7h1.1v1.1h-1.1zM99.3 108.8h1.1v1.1h-1.1zM71.6 130.4h1.1v1.1h-1.1zM110.9 96.9h1.1v1.1h-1.1zM72.1 132.5h1.1v1.1h-1.1zM80.9 122.7h1.1v1.1h-1.1zM83.4 115.6h1.1v1.1h-1.1zM92.5 111.9h1.1v1.1h-1.1zM81.2 120.3h1.1v1.1h-1.1zM73.5 121.8h1.1v1.1h-1.1zM89.7 115.1h1.1v1.1h-1.1zM83.4 117.1h1.1v1.1h-1.1zM82.1 124.5h1.1v1.1h-1.1zM110.6 96.0h1.1v1.1h-1.1zM69.1 129.3h1.1v1.1h-1.1zM87.2 118.5h1.1v1.1h-1.1zM84.6 118.6h1.1v1.1h-1.1zM68.7 131.3h1.1v1.1h-1.1zM94.3 108.2h1.1v1.1h-1.1zM79.7 127.6h1.1v1.1h-1.1zM101.3 103.2h1.1v1.1h-1.1zM86.5 115.5h1.1v1.1h-1.1zM103.2 104.7h1.1v1.1h-1.1zM80.8 123.1h1.1v1.1h-1.1zM82.3 120.3h1.1v1.1h-1.1zM94.7 108.8h1.1v1.1h-1.1zM109.4 97.8h1.1v1.1h-1.1zM76.8 126.7h1.1v1.1h-1.1zM103.1 106.0h1.1v1.1h-1.1zM71.7 124.8h1.1v1.1h-1.1zM85.8 122.1h1.1v1.1h-1.1zM67.9 134.5h1.1v1.1h-1.1zM104.5 100.9h1.1v1.1h-1.1zM89.3 116.9h1.1v1.1h-1.1zM108.9 94.8h1.1v1.1h-1.1zM101.5 105.0h1.1v1.1h-1.1zM64.3 139.3h1.1v1.1h-1.1zM62.2 136.2h1.1v1.1h-1.1zM81.5 124.8h1.1v1.1h-1.1zM87.9 112.2h1.1v1.1h-1.1zM77.5 122.8h1.1v1.1h-1.1zM87.5 118.3h1.1v1.1h-1.1zM95.6 108.9h1.1v1.1h-1.1zM67.5 134.8h1.1v1.1h-1.1zM75.9 124.9h1.1v1.1h-1.1zM68.0 137.1h1.1v1.1h-1.1zM92.1 109.3h1.1v1.1h-1.1zM100.9 105.2h1.1v1.1h-1.1zM76.0 126.8h1.1v1.1h-1.1zM96.4 108.9h1.1v1.1h-1.1zM72.8 124.1h1.1v1.1h-1.1zM65.4 130.6h1.1v1.1h-1.1zM80.9 123.7h1.1v1.1h-1.1zM91.2 112.7h1.1v1.1h-1.1zM103.0 101.0h1.1v1.1h-1.1zM76.1 123.7h1.1v1.1h-1.1zM67.8 130.6h1.1v1.1h-1.1zM75.0 129.0h1.1v1.1h-1.1zM69.1 132.6h1.1v1.1h-1.1zM67.9 131.4h1.1v1.1h-1.1zM82.7 120.2h1.1v1.1h-1.1zM73.5 123.4h1.1v1.1h-1.1zM92.9 109.6h1.1v1.1h-1.1zM87.5 114.4h1.1v1.1h-1.1zM103.9 100.3h1.1v1.1h-1.1zM94.4 106.9h1.1v1.1h-1.1zM69.4 130.6h1.1v1.1h-1.1zM92.5 110.9h1.1v1.1h-1.1zM102.7 104.1h1.1v1.1h-1.1zM112.6 95.2h1.1v1.1h-1.1zM90.9 119.4h1.1v1.1h-1.1zM90.1 114.9h1.1v1.1h-1.1zM88.4 114.9h1.1v1.1h-1.1zM76.6 122.1h1.1v1.1h-1.1zM66.0 134.7h1.1v1.1h-1.1zM71.8 129.0h1.1v1.1h-1.1zM67.9 135.3h1.1v1.1h-1.1zM78.2 122.4h1.1v1.1h-1.1zM82.4 120.1h1.1v1.1h-1.1zM98.1 104.4h1.1v1.1h-1.1zM95.3 110.2h1.1v1.1h-1.1zM88.8 117.0h1.1v1.1h-1.1zM88.0 113.5h1.1v1.1h-1.1zM84.1 117.2h1.1v1.1h-1.1zM75.8 126.2h1.1v1.1h-1.1zM87.4 118.9h1.1v1.1h-1.1zM81.0 122.9h1.1v1.1h-1.1zM63.0 135.2h1.1v1.1h-1.1zM67.6 134.4h1.1v1.1h-1.1zM94.8 111.0h1.1v1.1h-1.1zM71.0 130.7h1.1v1.1h-1.1zM66.3 129.2h1.1v1.1h-1.1zM97.1 108.3h1.1v1.1h-1.1zM100.9 101.4h1.1v1.1h-1.1zM101.5 99.4h1.1v1.1h-1.1zM81.1 118.3h1.1v1.1h-1.1zM95.2 109.8h1.1v1.1h-1.1zM75.0 129.2h1.1v1.1h-1.1zM92.2 107.6h1.1v1.1h-1.1zM86.6 120.0h1.1v1.1h-1.1zM66.5 131.7h1.1v1.1h-1.1zM76.2 127.8h1.1v1.1h-1.1zM72.5 135.0h1.1v1.1h-1.1zM77.1 125.8h1.1v1.1h-1.1zM68.1 135.1h1.1v1.1h-1.1zM89.3 110.9h1.1v1.1h-1.1zM68.9 132.2h1.1v1.1h-1.1zM97.7 104.9h1.1v1.1h-1.1zM96.3 104.9h1.1v1.1h-1.1zM105.9 98.2h1.1v1.1h-1.1zM79.3 120.4h1.1v1.1h-1.1zM64.9 130.0h1.1v1.1h-1.1zM102.2 101.0h1.1v1.1h-1.1zM78.4 129.7h1.1v1.1h-1.1zM103.5 101.0h1.1v1.1h-1.1zM94.0 114.4h1.1v1.1h-1.1zM109.4 94.8h1.1v1.1h-1.1zM66.5 133.6h1.1v1.1h-1.1zM87.1 117.7h1.1v1.1h-1.1zM83.2 118.2h1.1v1.1h-1.1zM92.8 106.3h1.1v1.1h-1.1zM83.6 121.2h1.1v1.1h-1.1zM66.0 132.1h1.1v1.1h-1.1zM87.4 115.2h1.1v1.1h-1.1zM88.3 115.9h1.1v1.1h-1.1zM94.2 109.2h1.1v1.1h-1.1zM90.1 114.7h1.1v1.1h-1.1zM63.5 132.4h1.1v1.1h-1.1zM88.7 116.7h1.1v1.1h-1.1zM77.3 124.1h1.1v1.1h-1.1zM76.3 127.0h1.1v1.1h-1.1zM68.3 132.8h1.1v1.1h-1.1zM80.3 126.0h1.1v1.1h-1.1zM84.0 123.8h1.1v1.1h-1.1zM95.8 108.7h1.1v1.1h-1.1zM63.7 138.7h1.1v1.1h-1.1zM67.2 136.1h1.1v1.1h-1.1zM87.5 111.3h1.1v1.1h-1.1zM80.2 125.5h1.1v1.1h-1.1zM100.4 105.6h1.1v1.1h-1.1zM60.1 133.0h1.1v1.1h-1.1zM109.6 99.1h1.1v1.1h-1.1zM69.8 133.3h1.1v1.1h-1.1zM75.4 131.3h1.1v1.1h-1.1zM69.0 129.3h1.1v1.1h-1.1zM76.4 124.3h1.1v1.1h-1.1zM69.2 133.7h1.1v1.1h-1.1zM74.6 123.5h1.1v1.1h-1.1zM88.2 119.6h1.1v1.1h-1.1zM74.4 127.6h1.1v1.1h-1.1zM69.4 129.2h1.1v1.1h-1.1zM66.9 133.1h1.1v1.1h-1.1zM88.5 114.6h1.1v1.1h-1.1zM78.6 123.5h1.1v1.1h-1.1zM98.3 106.4h1.1v1.1h-1.1zM86.0 121.8h1.1v1.1h-1.1zM89.2 115.5h1.1v1.1h-1.1zM70.4 134.9h1.1v1.1h-1.1zM91.0 113.4h1.1v1.1h-1.1zM99.7 102.4h1.1v1.1h-1.1zM74.7 126.0h1.1v1.1h-1.1zM69.7 130.7h1.1v1.1h-1.1zM96.3 109.4h1.1v1.1h-1.1zM67.8 129.7h1.1v1.1h-1.1zM82.3 118.3h1.1v1.1h-1.1zM68.6 130.4h1.1v1.1h-1.1zM81.6 121.3h1.1v1.1h-1.1zM61.6 133.8h1.1v1.1h-1.1zM76.5 128.5h1.1v1.1h-1.1zM114.7 94.5h1.1v1.1h-1.1zM80.6 119.4h1.1v1.1h-1.1zM112.6 96.7h1.1v1.1h-1.1zM80.4 126.9h1.1v1.1h-1.1zM89.8 118.3h1.1v1.1h-1.1zM62.2 138.8h1.1v1.1h-1.1zM110.5 100.7h1.1v1.1h-1.1zM98.2 108.0h1.1v1.1h-1.1zM69.0 133.4h1.1v1.1h-1.1zM89.5 120.2h1.1v1.1h-1.1zM73.4 124.9h1.1v1.1h-1.1zM96.5 105.1h1.1v1.1h-1.1zM88.0 114.7h1.1v1.1h-1.1zM91.9 113.4h1.1v1.1h-1.1zM84.0 118.4h1.1v1.1h-1.1zM69.5 129.7h1.1v1.1h-1.1zM101.7 103.4h1.1v1.1h-1.1zM69.0 135.8h1.1v1.1h-1.1zM89.0 118.4h1.1v1.1h-1.1zM95.5 109.7h1.1v1.1h-1.1zM76.1 126.5h1.1v1.1h-1.1zM81.2 125.9h1.1v1.1h-1.1zM77.5 127.2h1.1v1.1h-1.1zM105.4 99.2h1.1v1.1h-1.1zM103.9 103.3h1.1v1.1h-1.1zM84.3 120.1h1.1v1.1h-1.1zM80.7 126.4h1.1v1.1h-1.1zM69.2 131.8h1.1v1.1h-1.1zM84.8 118.7h1.1v1.1h-1.1zM84.2 119.6h1.1v1.1h-1.1zM97.8 108.3h1.1v1.1h-1.1zM79.8 120.9h1.1v1.1h-1.1zM74.9 127.2h1.1v1.1h-1.1zM104.2 102.5h1.1v1.1h-1.1zM75.9 121.9h1.1v1.1h-1.1zM69.0 129.0h1.1v1.1h-1.1zM106.8 100.9h1.1v1.1h-1.1zM66.9 132.8h1.1v1.1h-1.1zM93.7 108.0h1.1v1.1h-1.1zM102.7 100.5h1.1v1.1h-1.1zM74.2 129.1h1.1v1.1h-1.1zM82.1 116.7h1.1v1.1h-1.1zM87.1 119.7h1.1v1.1h-1.1zM100.4 103.1h1.1v1.1h-1.1zM107.0 102.5h1.1v1.1h-1.1zM77.6 126.8h1.1v1.1h-1.1zM65.7 134.6h1.1v1.1h-1.1zM89.3 115.4h1.1v1.1h-1.1zM88.6 114.5h1.1v1.1h-1.1zM60.8 139.3h1.1v1.1h-1.1zM118.2 85.9h1.1v1.1h-1.1zM71.0 129.6h1.1v1.1h-1.1zM86.8 115.6h1.1v1.1h-1.1zM66.9 134.8h1.1v1.1h-1.1zM83.5 122.6h1.1v1.1h-1.1zM75.6 132.1h1.1v1.1h-1.1zM96.2 113.2h1.1v1.1h-1.1zM76.9 124.3h1.1v1.1h-1.1zM94.3 112.0h1.1v1.1h-1.1zM74.0 129.5h1.1v1.1h-1.1zM82.6 121.0h1.1v1.1h-1.1zM67.6 131.8h1.1v1.1h-1.1zM85.4 118.7h1.1v1.1h-1.1zM98.6 109.5h1.1v1.1h-1.1zM79.8 117.5h1.1v1.1h-1.1zM89.9 112.1h1.1v1.1h-1.1zM75.1 128.2h1.1v1.1h-1.1zM78.8 124.3h1.1v1.1h-1.1zM72.5 124.9h1.1v1.1h-1.1zM102.0 104.5h1.1v1.1h-1.1zM104.3 106.6h1.1v1.1h-1.1zM74.8 122.9h1.1v1.1h-1.1zM76.6 131.8h1.1v1.1h-1.1zM95.9 106.1h1.1v1.1h-1.1zM80.1 121.9h1.1v1.1h-1.1zM79.9 122.7h1.1v1.1h-1.1zM65.4 131.5h1.1v1.1h-1.1zM114.5 94.5h1.1v1.1h-1.1zM73.2 124.8h1.1v1.1h-1.1zM101.1 102.8h1.1v1.1h-1.1zM89.1 114.8h1.1v1.1h-1.1zM67.6 131.4h1.1v1.1h-1.1zM98.0 104.3h1.1v1.1h-1.1zM70.4 130.1h1.1v1.1h-1.1zM86.4 117.9h1.1v1.1h-1.1zM96.4 111.1h1.1v1.1h-1.1zM88.7 119.6h1.1v1.1h-1.1zM81.9 120.9h1.1v1.1h-1.1zM92.0 110.6h1.1v1.1h-1.1zM60.4 138.9h1.1v1.1h-1.1zM72.6 126.7h1.1v1.1h-1.1zM62.2 137.4h1.1v1.1h-1.1zM85.0 117.3h1.1v1.1h-1.1zM63.4 130.8h1.1v1.1h-1.1zM73.3 126.6h1.1v1.1h-1.1zM106.7 98.2h1.1v1.1h-1.1zM80.1 122.7h1.1v1.1h-1.1zM67.7 128.3h1.1v1.1h-1.1zM82.0 116.4h1.1v1.1h-1.1zM67.4 130.9h1.1v1.1h-1.1zM77.7 121.4h1.1v1.1h-1.1zM90.5 108.9h1.1v1.1h-1.1zM75.9 130.8h1.1v1.1h-1.1zM101.7 105.7h1.1v1.1h-1.1zM77.4 123.4h1.1v1.1h-1.1zM90.0 118.4h1.1v1.1h-1.1zM66.2 133.5h1.1v1.1h-1.1zM97.7 108.6h1.1v1.1h-1.1zM93.4 109.4h1.1v1.1h-1.1zM107.4 99.4h1.1v1.1h-1.1zM100.4 101.3h1.1v1.1h-1.1zM79.4 126.8h1.1v1.1h-1.1zM115.1 93.7h1.1v1.1h-1.1zM90.6 110.5h1.1v1.1h-1.1zM72.2 125.4h1.1v1.1h-1.1zM69.0 131.5h1.1v1.1h-1.1zM99.8 104.0h1.1v1.1h-1.1zM70.1 131.9h1.1v1.1h-1.1zM64.5 132.1h1.1v1.1h-1.1zM69.0 135.0h1.1v1.1h-1.1zM77.7 126.0h1.1v1.1h-1.1zM104.2 103.3h1.1v1.1h-1.1zM92.2 114.8h1.1v1.1h-1.1zM83.1 118.8h1.1v1.1h-1.1zM77.2 121.8h1.1v1.1h-1.1zM81.1 126.0h1.1v1.1h-1.1zM84.4 118.5h1.1v1.1h-1.1zM63.4 136.5h1.1v1.1h-1.1zM61.6 132.6h1.1v1.1h-1.1zM80.1 121.9h1.1v1.1h-1.1zM94.3 110.6h1.1v1.1h-1.1zM78.7 127.0h1.1v1.1h-1.1zM66.3 135.6h1.1v1.1h-1.1zM111.6 97.0h1.1v1.1h-1.1zM65.2 135.8h1.1v1.1h-1.1zM82.7 119.0h1.1v1.1h-1.1zM82.4 122.9h1.1v1.1h-1.1zM69.7 131.3h1.1v1.1h-1.1zM89.0 116.1h1.1v1.1h-1.1zM64.6 136.1h1.1v1.1h-1.1zM94.2 105.6h1.1v1.1h-1.1zM100.8 99.6h1.1v1.1h-1.1zM95.5 109.3h1.1v1.1h-1.1zM65.3 131.1h1.1v1.1h-1.1zM97.8 108.9h1.1v1.1h-1.1zM85.6 117.6h1.1v1.1h-1.1zM109.9 96.2h1.1v1.1h-1.1zM68.5 132.2h1.1v1.1h-1.1zM76.1 130.7h1.1v1.1h-1.1zM68.6 126.8h1.1v1.1h-1.1zM66.3 133.3h1.1v1.1h-1.1zM77.7 129.7h1.1v1.1h-1.1zM111.1 97.6h1.1v1.1h-1.1zM89.6 112.0h1.1v1.1h-1.1zM76.6 124.1h1.1v1.1h-1.1zM86.9 118.4h1.1v1.1h-1.1zM75.7 127.6h1.1v1.1h-1.1zM89.1 111.3h1.1v1.1h-1.1zM75.7 131.4h1.1v1.1h-1.1zM92.9 112.7h1.1v1.1h-1.1zM80.4 120.7h1.1v1.1h-1.1zM99.1 104.1h1.1v1.1h-1.1zM84.0 122.2h1.1v1.1h-1.1zM83.5 125.3h1.1v1.1h-1.1zM109.1 95.9h1.1v1.1h-1.1zM69.9 132.2h1.1v1.1h-1.1zM72.1 130.2h1.1v1.1h-1.1zM98.3 110.7h1.1v1.1h-1.1zM109.9 95.1h1.1v1.1h-1.1zM70.3 129.7h1.1v1.1h-1.1zM101.8 102.5h1.1v1.1h-1.1zM102.3 103.7h1.1v1.1h-1.1zM67.2 131.7h1.1v1.1h-1.1zM72.5 125.9h1.1v1.1h-1.1zM110.6 94.4h1.1v1.1h-1.1zM60.9 135.5h1.1v1.1h-1.1zM75.0 126.8h1.1v1.1h-1.1zM86.0 117.3h1.1v1.1h-1.1zM81.9 120.6h1.1v1.1h-1.1zM88.8 113.6h1.1v1.1h-1.1zM82.4 123.1h1.1v1.1h-1.1zM80.5 126.5h1.1v1.1h-1.1zM100.2 108.3h1.1v1.1h-1.1zM106.0 101.1h1.1v1.1h-1.1zM86.0 120.5h1.1v1.1h-1.1zM75.3 128.9h1.1v1.1h-1.1zM83.2 125.3h1.1v1.1h-1.1zM73.4 132.3h1.1v1.1h-1.1zM86.6 120.1h1.1v1.1h-1.1zM102.3 102.1h1.1v1.1h-1.1zM88.3 116.3h1.1v1.1h-1.1zM76.5 121.5h1.1v1.1h-1.1zM77.4 123.0h1.1v1.1h-1.1zM91.9 113.6h1.1v1.1h-1.1zM94.9 109.3h1.1v1.1h-1.1zM104.7 100.8h1.1v1.1h-1.1zM80.4 120.2h1.1v1.1h-1.1zM78.8 126.8h1.1v1.1h-1.1zM97.5 107.7h1.1v1.1h-1.1zM69.5 133.9h1.1v1.1h-1.1zM73.9 127.0h1.1v1.1h-1.1zM91.4 112.8h1.1v1.1h-1.1zM74.2 127.8h1.1v1.1h-1.1zM78.6 130.5h1.1v1.1h-1.1zM108.5 102.4h1.1v1.1h-1.1zM64.9 136.0h1.1v1.1h-1.1zM92.2 116.0h1.1v1.1h-1.1zM88.6 116.3h1.1v1.1h-1.1zM97.1 111.6h1.1v1.1h-1.1zM78.7 124.6h1.1v1.1h-1.1zM112.9 95.4h1.1v1.1h-1.1zM107.0 99.9h1.1v1.1h-1.1zM91.3 113.3h1.1v1.1h-1.1zM88.8 115.5h1.1v1.1h-1.1zM115.9 92.7h1.1v1.1h-1.1zM67.3 132.6h1.1v1.1h-1.1zM92.4 111.3h1.1v1.1h-1.1zM81.1 118.7h1.1v1.1h-1.1zM105.3 100.7h1.1v1.1h-1.1zM90.7 119.8h1.1v1.1h-1.1zM85.3 119.6h1.1v1.1h-1.1zM98.5 107.2h1.1v1.1h-1.1zM87.6 113.2h1.1v1.1h-1.1zM91.5 115.6h1.1v1.1h-1.1zM68.5 132.4h1.1v1.1h-1.1zM99.0 108.4h1.1v1.1h-1.1zM98.8 109.9h1.1v1.1h-1.1zM108.6 99.8h1.1v1.1h-1.1zM79.0 123.7h1.1v1.1h-1.1zM104.1 106.5h1.1v1.1h-1.1zM94.8 108.5h1.1v1.1h-1.1zM98.5 108.8h1.1v1.1h-1.1zM97.8 110.7h1.1v1.1h-1.1zM97.1 108.1h1.1v1.1h-1.1zM70.8 129.3h1.1v1.1h-1.1zM106.3 98.6h1.1v1.1h-1.1zM76.3 124.2h1.1v1.1h-1.1zM101.4 103.0h1.1v1.1h-1.1zM83.8 118.9h1.1v1.1h-1.1zM82.5 118.1h1.1v1.1h-1.1zM101.8 107.1h1.1v1.1h-1.1zM90.2 111.3h1.1v1.1h-1.1zM81.7 117.8h1.1v1.1h-1.1zM65.3 138.1h1.1v1.1h-1.1zM79.8 122.6h1.1v1.1h-1.1zM87.1 115.5h1.1v1.1h-1.1zM98.2 109.0h1.1v1.1h-1.1zM97.8 109.7h1.1v1.1h-1.1zM74.5 129.2h1.1v1.1h-1.1zM104.8 98.3h1.1v1.1h-1.1zM86.9 116.6h1.1v1.1h-1.1zM93.2 112.0h1.1v1.1h-1.1zM95.1 110.3h1.1v1.1h-1.1zM104.8 104.1h1.1v1.1h-1.1zM97.0 108.5h1.1v1.1h-1.1zM84.8 123.3h1.1v1.1h-1.1zM86.9 116.2h1.1v1.1h-1.1zM110.2 94.8h1.1v1.1h-1.1zM94.7 111.3h1.1v1.1h-1.1zM71.0 132.2h1.1v1.1h-1.1zM107.0 98.3h1.1v1.1h-1.1zM71.0 135.7h1.1v1.1h-1.1zM87.7 120.7h1.1v1.1h-1.1zM79.0 125.4h1.1v1.1h-1.1zM110.0 97.1h1.1v1.1h-1.1zM93.0 106.4h1.1v1.1h-1.1zM97.1 103.3h1.1v1.1h-1.1zM62.3 132.4h1.1v1.1h-1.1zM87.8 110.6h1.1v1.1h-1.1zM94.3 113.8h1.1v1.1h-1.1zM83.7 118.5h1.1v1.1h-1.1zM93.9 113.6h1.1v1.1h-1.1zM87.2 113.6h1.1v1.1h-1.1zM100.4 103.5h1.1v1.1h-1.1zM101.5 100.3h1.1v1.1h-1.1zM98.4 110.6h1.1v1.1h-1.1zM81.9 122.9h1.1v1.1h-1.1zM71.1 128.9h1.1v1.1h-1.1zM78.0 125.4h1.1v1.1h-1.1zM104.1 103.3h1.1v1.1h-1.1zM90.5 114.4h1.1v1.1h-1.1zM108.0 98.0h1.1v1.1h-1.1zM66.6 137.1h1.1v1.1h-1.1zM107.9 101.1h1.1v1.1h-1.1zM111.4 94.6h1.1v1.1h-1.1zM111.8 98.1h1.1v1.1h-1.1zM66.2 132.4h1.1v1.1h-1.1zM100.8 106.9h1.1v1.1h-1.1zM113.7 94.4h1.1v1.1h-1.1zM76.9 125.2h1.1v1.1h-1.1zM69.8 131.5h1.1v1.1h-1.1zM63.7 132.0h1.1v1.1h-1.1zM103.8 102.4h1.1v1.1h-1.1zM86.1 118.7h1.1v1.1h-1.1zM86.4 122.9h1.1v1.1h-1.1zM71.3 130.7h1.1v1.1h-1.1zM78.3 127.9h1.1v1.1h-1.1zM93.5 114.8h1.1v1.1h-1.1zM72.6 128.2h1.1v1.1h-1.1zM98.7 107.9h1.1v1.1h-1.1zM96.6 111.7h1.1v1.1h-1.1zM103.5 100.8h1.1v1.1h-1.1zM71.7 131.1h1.1v1.1h-1.1zM64.4 136.9h1.1v1.1h-1.1zM89.6 115.6h1.1v1.1h-1.1zM65.3 131.2h1.1v1.1h-1.1zM68.2 130.7h1.1v1.1h-1.1zM63.0 137.8h1.1v1.1h-1.1zM87.6 114.0h1.1v1.1h-1.1zM81.1 119.8h1.1v1.1h-1.1zM70.9 133.3h1.1v1.1h-1.1zM86.2 114.8h1.1v1.1h-1.1zM91.0 114.6h1.1v1.1h-1.1zM104.8 101.8h1.1v1.1h-1.1zM72.9 130.3h1.1v1.1h-1.1zM105.1 101.2h1.1v1.1h-1.1zM82.9 124.0h1.1v1.1h-1.1zM69.7 135.3h1.1v1.1h-1.1zM78.9 121.5h1.1v1.1h-1.1zM92.5 110.3h1.1v1.1h-1.1zM73.1 128.8h1.1v1.1h-1.1zM103.5 97.8h1.1v1.1h-1.1zM80.9 123.8h1.1v1.1h-1.1zM90.4 114.6h1.1v1.1h-1.1zM73.6 123.8h1.1v1.1h-1.1zM109.0 100.7h1.1v1.1h-1.1zM88.9 113.9h1.1v1.1h-1.1zM76.2 123.5h1.1v1.1h-1.1zM92.7 109.3h1.1v1.1h-1.1zM88.2 113.4h1.1v1.1h-1.1zM86.8 119.6h1.1v1.1h-1.1zM94.3 110.9h1.1v1.1h-1.1zM67.2 132.2h1.1v1.1h-1.1zM104.9 99.7h1.1v1.1h-1.1zM83.4 115.1h1.1v1.1h-1.1zM88.2 117.9h1.1v1.1h-1.1zM94.3 106.7h1.1v1.1h-1.1zM96.7 109.2h1.1v1.1h-1.1zM81.6 119.0h1.1v1.1h-1.1zM67.7 138.0h1.1v1.1h-1.1zM77.3 125.2h1.1v1.1h-1.1zM68.4 129.2h1.1v1.1h-1.1zM83.7 120.8h1.1v1.1h-1.1zM94.8 110.0h1.1v1.1h-1.1z" fill="#000000" fill-opacity="0.4"/>
<path d="M52.5 117.7h0.9v0.9h-0.9zM52.8 99.1h0.9v0.9h-0.9zM52.5 103.7h0.9v0.9h-0.9zM52.5 118.1h0.9v0.9h-0.9zM52.7 130.2h0.9v0.9h-0.9zM52.3 108.3h0.9v0.9h-0.9zM52.4 99.3h0.9v0.9h-0.9zM52.4 99.6h0.9v0.9h-0.9zM52.4 126.5h0.9v0.9h-0.9zM52.7 119.6h0.9v0.9h-0.9zM52.4 118.1h0.9v0.9h-0.9zM52.6 119.0h0.9v0.9h-0.9zM52.4 110.9h0.9v0.9h-0.9zM52.3 106.8h0.9v0.9h-0.9zM52.6 119.3h0.9v0.9h-0.9zM52.8 110.6h0.9v0.9h-0.9zM52.7 97.1h0.9v0.9h-0.9zM52.5 119.3h0.9v0.9h-0.9zM52.7 111.5h0.9v0.9h-0.9zM52.5 129.1h0.9v0.9h-0.9zM52.4 99.1h0.9v0.9h-0.9zM52.9 117.5h0.9v0.9h-0.9z" fill="#e46a5a" fill-opacity="0.8"/>
<path d="M104.5 149.6h0.9v0.9h-0.9zM107.5 149.6h0.9v0.9h-0.9zM72.4 149.3h0.9v0.9h-0.9zM83.1 149.4h0.9v0.9h-0.9zM86.2 149.8h0.9v0.9h-0.9zM75.1 149.4h0.9v0.9h-0.9zM79.3 149.5h0.9v0.9h-0.9zM73.2 149.7h0.9v0.9h-0.9zM72.6 149.5h0.9v0.9h-0.9zM73.8 149.4h0.9v0.9h-0.9zM78.7 149.7h0.9v0.9h-0.9zM76.8 149.6h0.9v0.9h-0.9zM74.0 149.3h0.9v0.9h-0.9zM82.8 149.5h0.9v0.9h-0.9zM71.5 149.8h0.9v0.9h-0.9zM101.0 149.6h0.9v0.9h-0.9zM88.6 149.8h0.9v0.9h-0.9zM93.0 149.6h0.9v0.9h-0.9zM73.8 149.4h0.9v0.9h-0.9zM77.2 149.4h0.9v0.9h-0.9zM76.4 149.7h0.9v0.9h-0.9zM71.2 149.3h0.9v0.9h-0.9zM90.0 149.4h0.9v0.9h-0.9zM71.6 149.7h0.9v0.9h-0.9zM97.0 149.6h0.9v0.9h-0.9zM78.9 149.5h0.9v0.9h-0.9zM69.4 149.6h0.9v0.9h-0.9zM77.3 149.5h0.9v0.9h-0.9zM76.3 149.8h0.9v0.9h-0.9zM74.5 149.6h0.9v0.9h-0.9zM89.4 149.8h0.9v0.9h-0.9zM77.8 149.4h0.9v0.9h-0.9zM81.8 149.7h0.9v0.9h-0.9zM89.2 149.8h0.9v0.9h-0.9zM72.1 149.5h0.9v0.9h-0.9z" fill="#5a50b0" fill-opacity="0.8"/>
<text x="84.6" y="69.6" font-size="8.3" text-anchor="start" fill="#231f20" stroke="#231f20" stroke-width="0.25" textLength="23.2" lengthAdjust="spacingAndGlyphs" >IFITM3</text>
<line x1="102.1" y1="71.2" x2="109.8" y2="79.4" stroke="#231f20" stroke-width="1.1" />
<ellipse cx="111.1" cy="81.7" rx="1.0" ry="1.9" fill="#c81e1e"/>
<text x="182.0" y="17.6" font-size="11.4" text-anchor="start" fill="#231f20" stroke="#231f20" stroke-width="0.1" textLength="5.9" lengthAdjust="spacingAndGlyphs" >B</text>
<text x="346.3" y="21.8" font-size="8.8" text-anchor="start" fill="#231f20" stroke="#231f20" stroke-width="0.22" textLength="19.5" lengthAdjust="spacingAndGlyphs" >chr11</text>
<rect x="195.5" y="23.5" width="319.5" height="151.8" fill="#ffffff" stroke="#9a9a9a" stroke-width="0.8"/>
<rect x="195.5" y="27" width="1.3000000000000114" height="2.6" fill="#b0202a" />
<rect x="196.8" y="27" width="5.299999999999983" height="2.6" fill="#ffffff" />
<rect x="202.1" y="27" width="18.900000000000006" height="2.6" fill="#808080" />
<rect x="221" y="27" width="4.199999999999989" height="2.6" fill="#fff" />
<rect x="225.2" y="27" width="8.800000000000011" height="2.6" fill="#8c8c8c" />
<rect x="234" y="27" width="12.5" height="2.6" fill="#fff" />
<rect x="246.5" y="27" width="10.399999999999977" height="2.6" fill="#111" />
<rect x="256.9" y="27" width="3.1000000000000227" height="2.6" fill="#fff" />
<rect x="260" y="27" width="9" height="2.6" fill="#3c3c3c" />
<rect x="269" y="27" width="12" height="2.6" fill="#fff" />
<rect x="281" y="27" width="17" height="2.6" fill="#111" />
<rect x="298" y="27" width="12.800000000000011" height="2.6" fill="#fff" />
<rect x="310.8" y="27" width="7.099999999999966" height="2.6" fill="#3c3c3c" />
<rect x="317.9" y="27" width="9.600000000000023" height="2.6" fill="#ffffff" />
<rect x="327.5" y="27" width="9.600000000000023" height="2.6" fill="#3c3c3c" />
<rect x="337.1" y="27" width="3.8999999999999773" height="2.6" fill="#fff" />
<rect x="341" y="27" width="4.800000000000011" height="2.6" fill="#8c8c8c" />
<rect x="345.8" y="27" width="5.399999999999977" height="2.6" fill="#fff" />
<rect x="351.2" y="27" width="5.100000000000023" height="2.6" fill="#8c8c8c" />
<rect x="356.3" y="27" width="5.800000000000011" height="2.6" fill="#fff" />
<rect x="362.1" y="27" width="11.0" height="2.6" fill="#3c3c3c" />
<rect x="373.1" y="27" width="4.399999999999977" height="2.6" fill="#fff" />
<rect x="377.5" y="27" width="20.600000000000023" height="2.6" fill="#111" />
<rect x="398.1" y="27" width="6.099999999999966" height="2.6" fill="#fff" />
<rect x="404.2" y="27" width="11.0" height="2.6" fill="#111" />
<rect x="415.2" y="27" width="10.199999999999989" height="2.6" fill="#fff" />
<rect x="425.4" y="27" width="11.5" height="2.6" fill="#111" />
<rect x="436.9" y="27" width="2.3000000000000114" height="2.6" fill="#fff" />
<rect x="439.2" y="27" width="17.600000000000023" height="2.6" fill="#111" />
<rect x="456.8" y="27" width="4.699999999999989" height="2.6" fill="#fff" />
<rect x="461.5" y="27" width="5.300000000000011" height="2.6" fill="#8c8c8c" />
<rect x="466.8" y="27" width="14.800000000000011" height="2.6" fill="#fff" />
<rect x="481.6" y="27" width="7.2999999999999545" height="2.6" fill="#8c8c8c" />
<rect x="488.9" y="27" width="9.100000000000023" height="2.6" fill="#fff" />
<rect x="498" y="27" width="6.899999999999977" height="2.6" fill="#8c8c8c" />
<rect x="504.9" y="27" width="9.700000000000045" height="2.6" fill="#fff" />
<path d="M317.9 27 L322.7 28.3 L317.9 29.6 Z M327.5 27 L322.7 28.3 L327.5 29.6 Z" fill="#c0303a"/>
<rect x="195.8" y="26.8" width="318.9" height="3" fill="none" stroke="#9a9a9a" stroke-width="0.5"/>
<line x1="195.5" y1="30.9" x2="515" y2="30.9" stroke="#c8c8c8" stroke-width="0.6" />
<line x1="195.5" y1="36.4" x2="515" y2="36.4" stroke="#c8c8c8" stroke-width="0.6" />
<text x="0" y="0" font-size="3.7" text-anchor="middle" fill="#444" transform="translate(213.8,35.8) rotate(-38)">p15.4</text>
<text x="0" y="0" font-size="3.7" text-anchor="middle" fill="#444" transform="translate(225.3,35.8) rotate(-38)">p15.3</text>
<text x="0" y="0" font-size="3.7" text-anchor="middle" fill="#444" transform="translate(242.7,35.8) rotate(-38)">p15.1</text>
<text x="0" y="0" font-size="3.7" text-anchor="middle" fill="#444" transform="translate(254.2,35.8) rotate(-38)">p14.3</text>
<text x="0" y="0" font-size="3.7" text-anchor="middle" fill="#444" transform="translate(266.7,35.8) rotate(-38)">p14.1</text>
<text x="0" y="0" font-size="3.7" text-anchor="middle" fill="#444" transform="translate(278.2,35.8) rotate(-38)">p13</text>
<text x="0" y="0" font-size="3.7" text-anchor="middle" fill="#444" transform="translate(290.7,35.8) rotate(-38)">p12</text>
<text x="0" y="0" font-size="3.7" text-anchor="middle" fill="#444" transform="translate(306.9,35.8) rotate(-38)">p11.2</text>
<text x="0" y="0" font-size="3.7" text-anchor="middle" fill="#444" transform="translate(322.3,35.8) rotate(-38)">p11.11</text>
<text x="0" y="0" font-size="3.7" text-anchor="middle" fill="#444" transform="translate(332.8,35.8) rotate(-38)">q12.1</text>
<text x="0" y="0" font-size="3.7" text-anchor="middle" fill="#444" transform="translate(345.3,35.8) rotate(-38)">q12.3</text>
<text x="0" y="0" font-size="3.7" text-anchor="middle" fill="#444" transform="translate(356.9,35.8) rotate(-38)">q13.2</text>
<text x="0" y="0" font-size="3.7" text-anchor="middle" fill="#444" transform="translate(369.4,35.8) rotate(-38)">q13.4</text>
<text x="0" y="0" font-size="3.7" text-anchor="middle" fill="#444" transform="translate(390.3,35.8) rotate(-38)">q14.1</text>
<text x="0" y="0" font-size="3.7" text-anchor="middle" fill="#444" transform="translate(402.8,35.8) rotate(-38)">q14.3</text>
<text x="0" y="0" font-size="3.7" text-anchor="middle" fill="#444" transform="translate(422.1,35.8) rotate(-38)">q21</text>
<text x="0" y="0" font-size="3.7" text-anchor="middle" fill="#444" transform="translate(432.7,35.8) rotate(-38)">q22.1</text>
<text x="0" y="0" font-size="3.7" text-anchor="middle" fill="#444" transform="translate(449.2,35.8) rotate(-38)">q22.3</text>
<text x="0" y="0" font-size="3.7" text-anchor="middle" fill="#444" transform="translate(460.0,35.8) rotate(-38)">q23.1</text>
<text x="0" y="0" font-size="3.7" text-anchor="middle" fill="#444" transform="translate(474.5,35.8) rotate(-38)">q23.3</text>
<text x="0" y="0" font-size="3.7" text-anchor="middle" fill="#444" transform="translate(486.1,35.8) rotate(-38)">q24.1</text>
<text x="0" y="0" font-size="3.7" text-anchor="middle" fill="#444" transform="translate(503.0,35.8) rotate(-38)">q24.3</text>
<text x="0" y="0" font-size="3.7" text-anchor="middle" fill="#444" transform="translate(513.0,35.8) rotate(-38)">q25</text>
<line x1="199" y1="42.3" x2="343.8" y2="42.3" stroke="#333" stroke-width="0.9" />
<line x1="365.4" y1="42.3" x2="510" y2="42.3" stroke="#333" stroke-width="0.9" />
<path d="M195.8 42.3 L201 40.2 L201 44.4 Z" fill="#111"/>
<path d="M514.2 42.3 L509 40.2 L509 44.4 Z" fill="#111"/>
<text x="354.4" y="44.1" font-size="5.0" text-anchor="middle" fill="#666" textLength="16.4" lengthAdjust="spacingAndGlyphs" >1,411 bp</text>
<line x1="201.1" y1="49.6" x2="201.1" y2="51.6" stroke="#333" stroke-width="0.6" />
<text x="196.5" y="48.0" font-size="3.5" text-anchor="start" fill="#555" textLength="13.5" lengthAdjust="spacingAndGlyphs" >319,600 bp</text>
<line x1="223.79999999999998" y1="49.6" x2="223.79999999999998" y2="51.6" stroke="#333" stroke-width="0.6" />
<line x1="246.5" y1="49.6" x2="246.5" y2="51.6" stroke="#333" stroke-width="0.6" />
<text x="246.5" y="48.0" font-size="3.5" text-anchor="middle" fill="#555" textLength="15.5" lengthAdjust="spacingAndGlyphs" >319,800 bp</text>
<line x1="269.2" y1="49.6" x2="269.2" y2="51.6" stroke="#333" stroke-width="0.6" />
<line x1="291.9" y1="49.6" x2="291.9" y2="51.6" stroke="#333" stroke-width="0.6" />
<text x="291.9" y="48.0" font-size="3.5" text-anchor="middle" fill="#555" textLength="15.5" lengthAdjust="spacingAndGlyphs" >320,000 bp</text>
<line x1="314.6" y1="49.6" x2="314.6" y2="51.6" stroke="#333" stroke-width="0.6" />
<line x1="337.29999999999995" y1="49.6" x2="337.29999999999995" y2="51.6" stroke="#333" stroke-width="0.6" />
<text x="337.29999999999995" y="48.0" font-size="3.5" text-anchor="middle" fill="#555" textLength="15.5" lengthAdjust="spacingAndGlyphs" >320,200 bp</text>
<line x1="360.0" y1="49.6" x2="360.0" y2="51.6" stroke="#333" stroke-width="0.6" />
<line x1="382.7" y1="49.6" x2="382.7" y2="51.6" stroke="#333" stroke-width="0.6" />
<text x="382.7" y="48.0" font-size="3.5" text-anchor="middle" fill="#555" textLength="15.5" lengthAdjust="spacingAndGlyphs" >320,400 bp</text>
<line x1="405.4" y1="49.6" x2="405.4" y2="51.6" stroke="#333" stroke-width="0.6" />
<line x1="428.1" y1="49.6" x2="428.1" y2="51.6" stroke="#333" stroke-width="0.6" />
<text x="428.1" y="48.0" font-size="3.5" text-anchor="middle" fill="#555" textLength="15.5" lengthAdjust="spacingAndGlyphs" >320,600 bp</text>
<line x1="450.79999999999995" y1="49.6" x2="450.79999999999995" y2="51.6" stroke="#333" stroke-width="0.6" />
<line x1="473.5" y1="49.6" x2="473.5" y2="51.6" stroke="#333" stroke-width="0.6" />
<text x="473.5" y="48.0" font-size="3.5" text-anchor="middle" fill="#555" textLength="15.5" lengthAdjust="spacingAndGlyphs" >320,800 bp</text>
<line x1="496.19999999999993" y1="49.6" x2="496.19999999999993" y2="51.6" stroke="#333" stroke-width="0.6" />
<line x1="195.5" y1="51.8" x2="515" y2="51.8" stroke="#888" stroke-width="0.7" />
<rect x="195.5" y="52.4" width="319.5" height="2.2" fill="#d6d6d6" />
<line x1="195.5" y1="54.8" x2="515" y2="54.8" stroke="#999" stroke-width="0.7" />
<rect x="196" y="55.2" width="318.6" height="48.2" fill="#f9f8f5" />
<rect x="196" y="104.4" width="318.6" height="48.0" fill="#f9f8f5" />
<text x="199" y="65.0" font-size="8.4" text-anchor="start" fill="#222" stroke="#222" stroke-width="0.22" textLength="26.8" lengthAdjust="spacingAndGlyphs" >Healthy</text>
<text x="199" y="112.0" font-size="8.4" text-anchor="start" fill="#222" stroke="#222" stroke-width="0.22" textLength="32.5" lengthAdjust="spacingAndGlyphs" >Influenza</text>
<path d="M224.5 103.6 L226.0 102.6 L240.0 102.4 L250.0 102.3 L256.0 101.8 L260.0 101.4 L266.0 101.3 L269.0 102.0 L271.0 103.6 Z" fill="#3c3c7c"/>
<path d="M287.0 103.6 L288.4 102.6 L289.8 103.6 Z" fill="#3c3c7c"/>
<path d="M419.0 103.6 L419.5 102.1 L428.0 102.0 L434.0 101.7 L439.0 100.8 L443.0 99.8 L447.0 100.2 L452.0 101.0 L458.0 101.7 L463.0 102.3 L466.0 103.2 L468.0 103.1 L469.5 102.1 L477.0 102.0 L480.0 102.6 L481.5 103.6 Z" fill="#3c3c7c"/>
<path d="M218.3 152.3 L219.2 151.0 L220.2 149.7 L221.1 148.5 L222.1 147.2 L223.0 145.8 L223.9 145.1 L224.7 142.6 L225.6 140.8 L226.5 138.6 L227.3 138.3 L228.2 135.4 L229.1 135.8 L229.9 135.7 L230.8 134.5 L231.7 133.1 L232.5 131.8 L233.4 131.0 L234.2 128.7 L235.1 127.6 L236.0 128.5 L236.8 127.3 L237.7 128.3 L238.6 128.0 L239.5 128.6 L240.3 127.6 L241.2 128.6 L242.0 130.6 L242.9 130.6 L243.7 132.1 L244.6 133.7 L245.5 136.0 L246.3 133.8 L247.2 134.3 L248.1 132.9 L248.9 133.4 L249.8 132.8 L250.6 131.9 L251.5 131.3 L252.4 131.0 L253.2 131.9 L254.1 130.4 L255.0 130.9 L255.9 129.9 L256.7 128.9 L257.6 128.4 L258.5 128.1 L259.3 128.3 L260.2 129.0 L261.1 128.5 L261.9 127.0 L262.8 125.5 L263.9 125.6 L265.0 126.9 L266.1 126.3 L267.1 128.9 L268.0 131.7 L268.8 132.7 L269.7 135.1 L270.6 137.7 L271.4 141.6 L272.3 143.3 L273.2 146.3 L274.0 149.3 L274.9 152.3 Z" fill="#5f6092"/>
<path d="M286.2 152.3 L288.3 141.0 L288.8 140.2 L289.6 152.3 Z" fill="#5f6092"/>
<path d="M419.5 152.3 L419.9 140.4 L421.2 133.5 L422.1 130.6 L422.9 129.6 L423.8 128.6 L424.7 128.5 L425.6 129.1 L426.4 129.2 L427.3 129.9 L428.2 129.0 L429.0 129.6 L429.9 130.4 L430.8 132.2 L431.6 133.3 L432.5 131.1 L433.3 130.4 L434.2 129.3 L435.1 126.3 L435.9 123.7 L436.8 120.3 L437.7 119.1 L438.5 117.5 L439.4 115.1 L440.3 113.8 L441.1 110.1 L442.0 107.7 L442.9 104.7 L443.8 104.9 L444.6 106.2 L445.5 105.9 L446.4 108.0 L447.2 109.3 L448.1 111.9 L449.0 112.1 L449.8 116.2 L450.7 117.3 L451.5 121.3 L452.4 123.7 L453.3 125.5 L454.1 124.9 L455.0 126.7 L455.9 127.2 L456.8 128.7 L457.6 129.2 L458.5 129.6 L459.4 128.5 L460.2 129.4 L461.0 130.5 L461.9 130.0 L462.8 130.1 L463.6 131.4 L464.5 132.3 L465.4 132.3 L466.2 130.8 L467.1 130.4 L468.0 129.0 L468.9 126.9 L469.7 126.1 L470.6 123.6 L471.5 124.3 L472.3 126.1 L473.2 125.2 L474.1 126.6 L474.9 130.0 L475.8 131.9 L476.7 134.0 L477.5 134.1 L478.4 137.6 L479.2 141.5 L480.1 142.8 L481.0 145.9 L481.8 150.0 L482.7 148.9 L483.6 150.9 L484.4 149.4 L485.3 151.8 L486.2 151.1 L487.2 151.5 L488.3 151.9 L489.3 152.3 Z" fill="#5f6092"/>
<line x1="196" y1="103.6" x2="514.6" y2="103.6" stroke="#555" stroke-width="1.1" />
<line x1="196" y1="152.5" x2="514.6" y2="152.5" stroke="#444" stroke-width="1.0" />
<rect x="196" y="153.0" width="318.6" height="3.4" fill="#ffffff" />
<line x1="196" y1="156.7" x2="514.6" y2="156.7" stroke="#aaa" stroke-width="0.6" />
<rect x="196" y="157.9" width="318.6" height="3.4" fill="#6a5070" />
<rect x="196.0" y="157.9" width="1.0" height="3.4" fill="#9a8a3a" fill-opacity="0.85"/>
<rect x="197.0" y="157.9" width="1.0" height="3.4" fill="#b08040" fill-opacity="0.85"/>
<rect x="198.0" y="157.9" width="1.0" height="3.4" fill="#8a6a4a" fill-opacity="0.85"/>
<rect x="199.0" y="157.9" width="1.0" height="3.4" fill="#5a4a8a" fill-opacity="0.85"/>
<rect x="200.0" y="157.9" width="1.0" height="3.4" fill="#a85a5a" fill-opacity="0.85"/>
<rect x="201.0" y="157.9" width="1.0" height="3.4" fill="#6a8a4a" fill-opacity="0.85"/>
<rect x="202.0" y="157.9" width="1.0" height="3.4" fill="#7a5a8a" fill-opacity="0.85"/>
<rect x="203.0" y="157.9" width="1.0" height="3.4" fill="#5a4a8a" fill-opacity="0.85"/>
<rect x="204.0" y="157.9" width="1.0" height="3.4" fill="#a85a5a" fill-opacity="0.85"/>
<rect x="205.0" y="157.9" width="1.0" height="3.4" fill="#6a4a8a" fill-opacity="0.85"/>
<rect x="206.0" y="157.9" width="1.0" height="3.4" fill="#7a5a8a" fill-opacity="0.85"/>
<rect x="207.0" y="157.9" width="1.0" height="3.4" fill="#6a8a4a" fill-opacity="0.85"/>
<rect x="208.0" y="157.9" width="1.0" height="3.4" fill="#7a5a8a" fill-opacity="0.85"/>
<rect x="209.0" y="157.9" width="1.0" height="3.4" fill="#9a6a9a" fill-opacity="0.85"/>
<rect x="210.0" y="157.9" width="1.0" height="3.4" fill="#9a6a9a" fill-opacity="0.85"/>
<rect x="211.0" y="157.9" width="1.0" height="3.4" fill="#6a8a4a" fill-opacity="0.85"/>
<rect x="212.0" y="157.9" width="1.0" height="3.4" fill="#6a4a8a" fill-opacity="0.85"/>
<rect x="213.0" y="157.9" width="1.0" height="3.4" fill="#a85a5a" fill-opacity="0.85"/>
<rect x="214.0" y="157.9" width="1.0" height="3.4" fill="#c0703a" fill-opacity="0.85"/>
<rect x="215.0" y="157.9" width="1.0" height="3.4" fill="#6a8a4a" fill-opacity="0.85"/>
<rect x="216.0" y="157.9" width="1.0" height="3.4" fill="#a85a5a" fill-opacity="0.85"/>
<rect x="217.0" y="157.9" width="1.0" height="3.4" fill="#6a8a4a" fill-opacity="0.85"/>
<rect x="218.0" y="157.9" width="1.0" height="3.4" fill="#c0703a" fill-opacity="0.85"/>
<rect x="219.0" y="157.9" width="1.0" height="3.4" fill="#9a6a9a" fill-opacity="0.85"/>
<rect x="220.0" y="157.9" width="1.0" height="3.4" fill="#7a5a8a" fill-opacity="0.85"/>
<rect x="221.0" y="157.9" width="1.0" height="3.4" fill="#5a4a8a" fill-opacity="0.85"/>
<rect x="222.0" y="157.9" width="1.0" height="3.4" fill="#6a4a8a" fill-opacity="0.85"/>
<rect x="223.0" y="157.9" width="1.0" height="3.4" fill="#9a6a9a" fill-opacity="0.85"/>
<rect x="224.0" y="157.9" width="1.0" height="3.4" fill="#c0703a" fill-opacity="0.85"/>
<rect x="225.0" y="157.9" width="1.0" height="3.4" fill="#6a8a4a" fill-opacity="0.85"/>
<rect x="226.0" y="157.9" width="1.0" height="3.4" fill="#6a4a8a" fill-opacity="0.85"/>
<rect x="227.0" y="157.9" width="1.0" height="3.4" fill="#5a4a8a" fill-opacity="0.85"/>
<rect x="228.0" y="157.9" width="1.0" height="3.4" fill="#6a4a8a" fill-opacity="0.85"/>
<rect x="229.0" y="157.9" width="1.0" height="3.4" fill="#8a6a4a" fill-opacity="0.85"/>
<rect x="230.0" y="157.9" width="1.0" height="3.4" fill="#9a8a3a" fill-opacity="0.85"/>
<rect x="231.0" y="157.9" width="1.0" height="3.4" fill="#8a6a4a" fill-opacity="0.85"/>
<rect x="232.0" y="157.9" width="1.0" height="3.4" fill="#a85a5a" fill-opacity="0.85"/>
<rect x="233.0" y="157.9" width="1.0" height="3.4" fill="#7a5a8a" fill-opacity="0.85"/>
<rect x="234.0" y="157.9" width="1.0" height="3.4" fill="#8a6a4a" fill-opacity="0.85"/>
<rect x="235.0" y="157.9" width="1.0" height="3.4" fill="#a85a5a" fill-opacity="0.85"/>
<rect x="236.0" y="157.9" width="1.0" height="3.4" fill="#6a4a8a" fill-opacity="0.85"/>
<rect x="237.0" y="157.9" width="1.0" height="3.4" fill="#8a6a4a" fill-opacity="0.85"/>
<rect x="238.0" y="157.9" width="1.0" height="3.4" fill="#5a4a8a" fill-opacity="0.85"/>
<rect x="239.0" y="157.9" width="1.0" height="3.4" fill="#9a8a3a" fill-opacity="0.85"/>
<rect x="240.0" y="157.9" width="1.0" height="3.4" fill="#a85a5a" fill-opacity="0.85"/>
<rect x="241.0" y="157.9" width="1.0" height="3.4" fill="#6a4a8a" fill-opacity="0.85"/>
<rect x="242.0" y="157.9" width="1.0" height="3.4" fill="#c0703a" fill-opacity="0.85"/>
<rect x="243.0" y="157.9" width="1.0" height="3.4" fill="#6a8a4a" fill-opacity="0.85"/>
<rect x="244.0" y="157.9" width="1.0" height="3.4" fill="#c0703a" fill-opacity="0.85"/>
<rect x="245.0" y="157.9" width="1.0" height="3.4" fill="#6a4a8a" fill-opacity="0.85"/>
<rect x="246.0" y="157.9" width="1.0" height="3.4" fill="#6a8a4a" fill-opacity="0.85"/>
<rect x="247.0" y="157.9" width="1.0" height="3.4" fill="#6a4a8a" fill-opacity="0.85"/>
<rect x="248.0" y="157.9" width="1.0" height="3.4" fill="#8a6a4a" fill-opacity="0.85"/>
<rect x="249.0" y="157.9" width="1.0" height="3.4" fill="#5a4a8a" fill-opacity="0.85"/>
<rect x="250.0" y="157.9" width="1.0" height="3.4" fill="#a85a5a" fill-opacity="0.85"/>
<rect x="251.0" y="157.9" width="1.0" height="3.4" fill="#a85a5a" fill-opacity="0.85"/>
<rect x="252.0" y="157.9" width="1.0" height="3.4" fill="#7a5a8a" fill-opacity="0.85"/>
<rect x="253.0" y="157.9" width="1.0" height="3.4" fill="#c0703a" fill-opacity="0.85"/>
<rect x="254.0" y="157.9" width="1.0" height="3.4" fill="#c0703a" fill-opacity="0.85"/>
<rect x="255.0" y="157.9" width="1.0" height="3.4" fill="#9a8a3a" fill-opacity="0.85"/>
<rect x="256.0" y="157.9" width="1.0" height="3.4" fill="#7a5a8a" fill-opacity="0.85"/>
<rect x="257.0" y="157.9" width="1.0" height="3.4" fill="#c0703a" fill-opacity="0.85"/>
<rect x="258.0" y="157.9" width="1.0" height="3.4" fill="#6a4a8a" fill-opacity="0.85"/>
<rect x="259.0" y="157.9" width="1.0" height="3.4" fill="#b08040" fill-opacity="0.85"/>
<rect x="260.0" y="157.9" width="1.0" height="3.4" fill="#6a4a8a" fill-opacity="0.85"/>
<rect x="261.0" y="157.9" width="1.0" height="3.4" fill="#c0703a" fill-opacity="0.85"/>
<rect x="262.0" y="157.9" width="1.0" height="3.4" fill="#8a6a4a" fill-opacity="0.85"/>
<rect x="263.0" y="157.9" width="1.0" height="3.4" fill="#8a6a4a" fill-opacity="0.85"/>
<rect x="264.0" y="157.9" width="1.0" height="3.4" fill="#9a8a3a" fill-opacity="0.85"/>
<rect x="265.0" y="157.9" width="1.0" height="3.4" fill="#6a8a4a" fill-opacity="0.85"/>
<rect x="266.0" y="157.9" width="1.0" height="3.4" fill="#9a6a9a" fill-opacity="0.85"/>
<rect x="267.0" y="157.9" width="1.0" height="3.4" fill="#7a5a8a" fill-opacity="0.85"/>
<rect x="268.0" y="157.9" width="1.0" height="3.4" fill="#9a6a9a" fill-opacity="0.85"/>
<rect x="269.0" y="157.9" width="1.0" height="3.4" fill="#7a5a8a" fill-opacity="0.85"/>
<rect x="270.0" y="157.9" width="1.0" height="3.4" fill="#7a5a8a" fill-opacity="0.85"/>
<rect x="271.0" y="157.9" width="1.0" height="3.4" fill="#a85a5a" fill-opacity="0.85"/>
<rect x="272.0" y="157.9" width="1.0" height="3.4" fill="#9a8a3a" fill-opacity="0.85"/>
<rect x="273.0" y="157.9" width="1.0" height="3.4" fill="#c0703a" fill-opacity="0.85"/>
<rect x="274.0" y="157.9" width="1.0" height="3.4" fill="#8a6a4a" fill-opacity="0.85"/>
<rect x="275.0" y="157.9" width="1.0" height="3.4" fill="#6a8a4a" fill-opacity="0.85"/>
<rect x="276.0" y="157.9" width="1.0" height="3.4" fill="#9a6a9a" fill-opacity="0.85"/>
<rect x="277.0" y="157.9" width="1.0" height="3.4" fill="#a85a5a" fill-opacity="0.85"/>
<rect x="278.0" y="157.9" width="1.0" height="3.4" fill="#6a8a4a" fill-opacity="0.85"/>
<rect x="279.0" y="157.9" width="1.0" height="3.4" fill="#6a4a8a" fill-opacity="0.85"/>
<rect x="280.0" y="157.9" width="1.0" height="3.4" fill="#6a8a4a" fill-opacity="0.85"/>
<rect x="281.0" y="157.9" width="1.0" height="3.4" fill="#9a8a3a" fill-opacity="0.85"/>
<rect x="282.0" y="157.9" width="1.0" height="3.4" fill="#9a6a9a" fill-opacity="0.85"/>
<rect x="283.0" y="157.9" width="1.0" height="3.4" fill="#a85a5a" fill-opacity="0.85"/>
<rect x="284.0" y="157.9" width="1.0" height="3.4" fill="#8a6a4a" fill-opacity="0.85"/>
<rect x="285.0" y="157.9" width="1.0" height="3.4" fill="#9a8a3a" fill-opacity="0.85"/>
<rect x="286.0" y="157.9" width="1.0" height="3.4" fill="#b08040" fill-opacity="0.85"/>
<rect x="287.0" y="157.9" width="1.0" height="3.4" fill="#c0703a" fill-opacity="0.85"/>
<rect x="288.0" y="157.9" width="1.0" height="3.4" fill="#5a4a8a" fill-opacity="0.85"/>
<rect x="289.0" y="157.9" width="1.0" height="3.4" fill="#9a6a9a" fill-opacity="0.85"/>
<rect x="290.0" y="157.9" width="1.0" height="3.4" fill="#c0703a" fill-opacity="0.85"/>
<rect x="291.0" y="157.9" width="1.0" height="3.4" fill="#b08040" fill-opacity="0.85"/>
<rect x="292.0" y="157.9" width="1.0" height="3.4" fill="#9a8a3a" fill-opacity="0.85"/>
<rect x="293.0" y="157.9" width="1.0" height="3.4" fill="#9a8a3a" fill-opacity="0.85"/>
<rect x="294.0" y="157.9" width="1.0" height="3.4" fill="#9a8a3a" fill-opacity="0.85"/>
<rect x="295.0" y="157.9" width="1.0" height="3.4" fill="#5a4a8a" fill-opacity="0.85"/>
<rect x="296.0" y="157.9" width="1.0" height="3.4" fill="#5a4a8a" fill-opacity="0.85"/>
<rect x="297.0" y="157.9" width="1.0" height="3.4" fill="#9a6a9a" fill-opacity="0.85"/>
<rect x="298.0" y="157.9" width="1.0" height="3.4" fill="#9a6a9a" fill-opacity="0.85"/>
<rect x="299.0" y="157.9" width="1.0" height="3.4" fill="#6a4a8a" fill-opacity="0.85"/>
<rect x="300.0" y="157.9" width="1.0" height="3.4" fill="#5a4a8a" fill-opacity="0.85"/>
<rect x="301.0" y="157.9" width="1.0" height="3.4" fill="#c0703a" fill-opacity="0.85"/>
<rect x="302.0" y="157.9" width="1.0" height="3.4" fill="#5a4a8a" fill-opacity="0.85"/>
<rect x="303.0" y="157.9" width="1.0" height="3.4" fill="#6a8a4a" fill-opacity="0.85"/>
<rect x="304.0" y="157.9" width="1.0" height="3.4" fill="#7a5a8a" fill-opacity="0.85"/>
<rect x="305.0" y="157.9" width="1.0" height="3.4" fill="#9a6a9a" fill-opacity="0.85"/>
<rect x="306.0" y="157.9" width="1.0" height="3.4" fill="#8a6a4a" fill-opacity="0.85"/>
<rect x="307.0" y="157.9" width="1.0" height="3.4" fill="#6a4a8a" fill-opacity="0.85"/>
<rect x="308.0" y="157.9" width="1.0" height="3.4" fill="#6a8a4a" fill-opacity="0.85"/>
<rect x="309.0" y="157.9" width="1.0" height="3.4" fill="#9a6a9a" fill-opacity="0.85"/>
<rect x="310.0" y="157.9" width="1.0" height="3.4" fill="#5a4a8a" fill-opacity="0.85"/>
<rect x="311.0" y="157.9" width="1.0" height="3.4" fill="#8a6a4a" fill-opacity="0.85"/>
<rect x="312.0" y="157.9" width="1.0" height="3.4" fill="#b08040" fill-opacity="0.85"/>
<rect x="313.0" y="157.9" width="1.0" height="3.4" fill="#6a8a4a" fill-opacity="0.85"/>
<rect x="314.0" y="157.9" width="1.0" height="3.4" fill="#c0703a" fill-opacity="0.85"/>
<rect x="315.0" y="157.9" width="1.0" height="3.4" fill="#6a4a8a" fill-opacity="0.85"/>
<rect x="316.0" y="157.9" width="1.0" height="3.4" fill="#b08040" fill-opacity="0.85"/>
<rect x="317.0" y="157.9" width="1.0" height="3.4" fill="#b08040" fill-opacity="0.85"/>
<rect x="318.0" y="157.9" width="1.0" height="3.4" fill="#c0703a" fill-opacity="0.85"/>
<rect x="319.0" y="157.9" width="1.0" height="3.4" fill="#b08040" fill-opacity="0.85"/>
<rect x="320.0" y="157.9" width="1.0" height="3.4" fill="#c0703a" fill-opacity="0.85"/>
<rect x="321.0" y="157.9" width="1.0" height="3.4" fill="#5a4a8a" fill-opacity="0.85"/>
<rect x="322.0" y="157.9" width="1.0" height="3.4" fill="#5a4a8a" fill-opacity="0.85"/>
<rect x="323.0" y="157.9" width="1.0" height="3.4" fill="#7a5a8a" fill-opacity="0.85"/>
<rect x="324.0" y="157.9" width="1.0" height="3.4" fill="#6a4a8a" fill-opacity="0.85"/>
<rect x="325.0" y="157.9" width="1.0" height="3.4" fill="#5a4a8a" fill-opacity="0.85"/>
<rect x="326.0" y="157.9" width="1.0" height="3.4" fill="#8a6a4a" fill-opacity="0.85"/>
<rect x="327.0" y="157.9" width="1.0" height="3.4" fill="#b08040" fill-opacity="0.85"/>
<rect x="328.0" y="157.9" width="1.0" height="3.4" fill="#6a4a8a" fill-opacity="0.85"/>
<rect x="329.0" y="157.9" width="1.0" height="3.4" fill="#7a5a8a" fill-opacity="0.85"/>
<rect x="330.0" y="157.9" width="1.0" height="3.4" fill="#8a6a4a" fill-opacity="0.85"/>
<rect x="331.0" y="157.9" width="1.0" height="3.4" fill="#b08040" fill-opacity="0.85"/>
<rect x="332.0" y="157.9" width="1.0" height="3.4" fill="#5a4a8a" fill-opacity="0.85"/>
<rect x="333.0" y="157.9" width="1.0" height="3.4" fill="#9a6a9a" fill-opacity="0.85"/>
<rect x="334.0" y="157.9" width="1.0" height="3.4" fill="#c0703a" fill-opacity="0.85"/>
<rect x="335.0" y="157.9" width="1.0" height="3.4" fill="#8a6a4a" fill-opacity="0.85"/>
<rect x="336.0" y="157.9" width="1.0" height="3.4" fill="#9a6a9a" fill-opacity="0.85"/>
<rect x="337.0" y="157.9" width="1.0" height="3.4" fill="#c0703a" fill-opacity="0.85"/>
<rect x="338.0" y="157.9" width="1.0" height="3.4" fill="#9a6a9a" fill-opacity="0.85"/>
<rect x="339.0" y="157.9" width="1.0" height="3.4" fill="#6a8a4a" fill-opacity="0.85"/>
<rect x="340.0" y="157.9" width="1.0" height="3.4" fill="#9a8a3a" fill-opacity="0.85"/>
<rect x="341.0" y="157.9" width="1.0" height="3.4" fill="#6a4a8a" fill-opacity="0.85"/>
<rect x="342.0" y="157.9" width="1.0" height="3.4" fill="#a85a5a" fill-opacity="0.85"/>
<rect x="343.0" y="157.9" width="1.0" height="3.4" fill="#7a5a8a" fill-opacity="0.85"/>
<rect x="344.0" y="157.9" width="1.0" height="3.4" fill="#a85a5a" fill-opacity="0.85"/>
<rect x="345.0" y="157.9" width="1.0" height="3.4" fill="#6a8a4a" fill-opacity="0.85"/>
<rect x="346.0" y="157.9" width="1.0" height="3.4" fill="#5a4a8a" fill-opacity="0.85"/>
<rect x="347.0" y="157.9" width="1.0" height="3.4" fill="#7a5a8a" fill-opacity="0.85"/>
<rect x="348.0" y="157.9" width="1.0" height="3.4" fill="#6a4a8a" fill-opacity="0.85"/>
<rect x="349.0" y="157.9" width="1.0" height="3.4" fill="#7a5a8a" fill-opacity="0.85"/>
<rect x="350.0" y="157.9" width="1.0" height="3.4" fill="#7a5a8a" fill-opacity="0.85"/>
<rect x="351.0" y="157.9" width="1.0" height="3.4" fill="#9a6a9a" fill-opacity="0.85"/>
<rect x="352.0" y="157.9" width="1.0" height="3.4" fill="#9a6a9a" fill-opacity="0.85"/>
<rect x="353.0" y="157.9" width="1.0" height="3.4" fill="#c0703a" fill-opacity="0.85"/>
<rect x="354.0" y="157.9" width="1.0" height="3.4" fill="#c0703a" fill-opacity="0.85"/>
<rect x="355.0" y="157.9" width="1.0" height="3.4" fill="#9a6a9a" fill-opacity="0.85"/>
<rect x="356.0" y="157.9" width="1.0" height="3.4" fill="#a85a5a" fill-opacity="0.85"/>
<rect x="357.0" y="157.9" width="1.0" height="3.4" fill="#6a8a4a" fill-opacity="0.85"/>
<rect x="358.0" y="157.9" width="1.0" height="3.4" fill="#b08040" fill-opacity="0.85"/>
<rect x="359.0" y="157.9" width="1.0" height="3.4" fill="#c0703a" fill-opacity="0.85"/>
<rect x="360.0" y="157.9" width="1.0" height="3.4" fill="#c0703a" fill-opacity="0.85"/>
<rect x="361.0" y="157.9" width="1.0" height="3.4" fill="#9a8a3a" fill-opacity="0.85"/>
<rect x="362.0" y="157.9" width="1.0" height="3.4" fill="#7a5a8a" fill-opacity="0.85"/>
<rect x="363.0" y="157.9" width="1.0" height="3.4" fill="#5a4a8a" fill-opacity="0.85"/>
<rect x="364.0" y="157.9" width="1.0" height="3.4" fill="#7a5a8a" fill-opacity="0.85"/>
<rect x="365.0" y="157.9" width="1.0" height="3.4" fill="#5a4a8a" fill-opacity="0.85"/>
<rect x="366.0" y="157.9" width="1.0" height="3.4" fill="#8a6a4a" fill-opacity="0.85"/>
<rect x="367.0" y="157.9" width="1.0" height="3.4" fill="#a85a5a" fill-opacity="0.85"/>
<rect x="368.0" y="157.9" width="1.0" height="3.4" fill="#9a8a3a" fill-opacity="0.85"/>
<rect x="369.0" y="157.9" width="1.0" height="3.4" fill="#c0703a" fill-opacity="0.85"/>
<rect x="370.0" y="157.9" width="1.0" height="3.4" fill="#7a5a8a" fill-opacity="0.85"/>
<rect x="371.0" y="157.9" width="1.0" height="3.4" fill="#b08040" fill-opacity="0.85"/>
<rect x="372.0" y="157.9" width="1.0" height="3.4" fill="#6a8a4a" fill-opacity="0.85"/>
<rect x="373.0" y="157.9" width="1.0" height="3.4" fill="#c0703a" fill-opacity="0.85"/>
<rect x="374.0" y="157.9" width="1.0" height="3.4" fill="#b08040" fill-opacity="0.85"/>
<rect x="375.0" y="157.9" width="1.0" height="3.4" fill="#9a6a9a" fill-opacity="0.85"/>
<rect x="376.0" y="157.9" width="1.0" height="3.4" fill="#6a8a4a" fill-opacity="0.85"/>
<rect x="377.0" y="157.9" width="1.0" height="3.4" fill="#7a5a8a" fill-opacity="0.85"/>
<rect x="378.0" y="157.9" width="1.0" height="3.4" fill="#5a4a8a" fill-opacity="0.85"/>
<rect x="379.0" y="157.9" width="1.0" height="3.4" fill="#7a5a8a" fill-opacity="0.85"/>
<rect x="380.0" y="157.9" width="1.0" height="3.4" fill="#b08040" fill-opacity="0.85"/>
<rect x="381.0" y="157.9" width="1.0" height="3.4" fill="#6a8a4a" fill-opacity="0.85"/>
<rect x="382.0" y="157.9" width="1.0" height="3.4" fill="#b08040" fill-opacity="0.85"/>
<rect x="383.0" y="157.9" width="1.0" height="3.4" fill="#5a4a8a" fill-opacity="0.85"/>
<rect x="384.0" y="157.9" width="1.0" height="3.4" fill="#6a8a4a" fill-opacity="0.85"/>
<rect x="385.0" y="157.9" width="1.0" height="3.4" fill="#b08040" fill-opacity="0.85"/>
<rect x="386.0" y="157.9" width="1.0" height="3.4" fill="#c0703a" fill-opacity="0.85"/>
<rect x="387.0" y="157.9" width="1.0" height="3.4" fill="#b08040" fill-opacity="0.85"/>
<rect x="388.0" y="157.9" width="1.0" height="3.4" fill="#9a8a3a" fill-opacity="0.85"/>
<rect x="389.0" y="157.9" width="1.0" height="3.4" fill="#c0703a" fill-opacity="0.85"/>
<rect x="390.0" y="157.9" width="1.0" height="3.4" fill="#5a4a8a" fill-opacity="0.85"/>
<rect x="391.0" y="157.9" width="1.0" height="3.4" fill="#6a4a8a" fill-opacity="0.85"/>
<rect x="392.0" y="157.9" width="1.0" height="3.4" fill="#8a6a4a" fill-opacity="0.85"/>
<rect x="393.0" y="157.9" width="1.0" height="3.4" fill="#c0703a" fill-opacity="0.85"/>
<rect x="394.0" y="157.9" width="1.0" height="3.4" fill="#6a8a4a" fill-opacity="0.85"/>
<rect x="395.0" y="157.9" width="1.0" height="3.4" fill="#7a5a8a" fill-opacity="0.85"/>
<rect x="396.0" y="157.9" width="1.0" height="3.4" fill="#5a4a8a" fill-opacity="0.85"/>
<rect x="397.0" y="157.9" width="1.0" height="3.4" fill="#c0703a" fill-opacity="0.85"/>
<rect x="398.0" y="157.9" width="1.0" height="3.4" fill="#8a6a4a" fill-opacity="0.85"/>
<rect x="399.0" y="157.9" width="1.0" height="3.4" fill="#b08040" fill-opacity="0.85"/>
<rect x="400.0" y="157.9" width="1.0" height="3.4" fill="#9a8a3a" fill-opacity="0.85"/>
<rect x="401.0" y="157.9" width="1.0" height="3.4" fill="#9a8a3a" fill-opacity="0.85"/>
<rect x="402.0" y="157.9" width="1.0" height="3.4" fill="#7a5a8a" fill-opacity="0.85"/>
<rect x="403.0" y="157.9" width="1.0" height="3.4" fill="#a85a5a" fill-opacity="0.85"/>
<rect x="404.0" y="157.9" width="1.0" height="3.4" fill="#6a4a8a" fill-opacity="0.85"/>
<rect x="405.0" y="157.9" width="1.0" height="3.4" fill="#b08040" fill-opacity="0.85"/>
<rect x="406.0" y="157.9" width="1.0" height="3.4" fill="#8a6a4a" fill-opacity="0.85"/>
<rect x="407.0" y="157.9" width="1.0" height="3.4" fill="#9a6a9a" fill-opacity="0.85"/>
<rect x="408.0" y="157.9" width="1.0" height="3.4" fill="#9a8a3a" fill-opacity="0.85"/>
<rect x="409.0" y="157.9" width="1.0" height="3.4" fill="#c0703a" fill-opacity="0.85"/>
<rect x="410.0" y="157.9" width="1.0" height="3.4" fill="#6a4a8a" fill-opacity="0.85"/>
<rect x="411.0" y="157.9" width="1.0" height="3.4" fill="#5a4a8a" fill-opacity="0.85"/>
<rect x="412.0" y="157.9" width="1.0" height="3.4" fill="#9a8a3a" fill-opacity="0.85"/>
<rect x="413.0" y="157.9" width="1.0" height="3.4" fill="#a85a5a" fill-opacity="0.85"/>
<rect x="414.0" y="157.9" width="1.0" height="3.4" fill="#5a4a8a" fill-opacity="0.85"/>
<rect x="415.0" y="157.9" width="1.0" height="3.4" fill="#a85a5a" fill-opacity="0.85"/>
<rect x="416.0" y="157.9" width="1.0" height="3.4" fill="#8a6a4a" fill-opacity="0.85"/>
<rect x="417.0" y="157.9" width="1.0" height="3.4" fill="#6a8a4a" fill-opacity="0.85"/>
<rect x="418.0" y="157.9" width="1.0" height="3.4" fill="#a85a5a" fill-opacity="0.85"/>
<rect x="419.0" y="157.9" width="1.0" height="3.4" fill="#b08040" fill-opacity="0.85"/>
<rect x="420.0" y="157.9" width="1.0" height="3.4" fill="#6a4a8a" fill-opacity="0.85"/>
<rect x="421.0" y="157.9" width="1.0" height="3.4" fill="#c0703a" fill-opacity="0.85"/>
<rect x="422.0" y="157.9" width="1.0" height="3.4" fill="#9a6a9a" fill-opacity="0.85"/>
<rect x="423.0" y="157.9" width="1.0" height="3.4" fill="#5a4a8a" fill-opacity="0.85"/>
<rect x="424.0" y="157.9" width="1.0" height="3.4" fill="#6a4a8a" fill-opacity="0.85"/>
<rect x="425.0" y="157.9" width="1.0" height="3.4" fill="#7a5a8a" fill-opacity="0.85"/>
<rect x="426.0" y="157.9" width="1.0" height="3.4" fill="#5a4a8a" fill-opacity="0.85"/>
<rect x="427.0" y="157.9" width="1.0" height="3.4" fill="#c0703a" fill-opacity="0.85"/>
<rect x="428.0" y="157.9" width="1.0" height="3.4" fill="#6a4a8a" fill-opacity="0.85"/>
<rect x="429.0" y="157.9" width="1.0" height="3.4" fill="#9a6a9a" fill-opacity="0.85"/>
<rect x="430.0" y="157.9" width="1.0" height="3.4" fill="#9a8a3a" fill-opacity="0.85"/>
<rect x="431.0" y="157.9" width="1.0" height="3.4" fill="#a85a5a" fill-opacity="0.85"/>
<rect x="432.0" y="157.9" width="1.0" height="3.4" fill="#5a4a8a" fill-opacity="0.85"/>
<rect x="433.0" y="157.9" width="1.0" height="3.4" fill="#6a4a8a" fill-opacity="0.85"/>
<rect x="434.0" y="157.9" width="1.0" height="3.4" fill="#a85a5a" fill-opacity="0.85"/>
<rect x="435.0" y="157.9" width="1.0" height="3.4" fill="#7a5a8a" fill-opacity="0.85"/>
<rect x="436.0" y="157.9" width="1.0" height="3.4" fill="#7a5a8a" fill-opacity="0.85"/>
<rect x="437.0" y="157.9" width="1.0" height="3.4" fill="#6a8a4a" fill-opacity="0.85"/>
<rect x="438.0" y="157.9" width="1.0" height="3.4" fill="#9a6a9a" fill-opacity="0.85"/>
<rect x="439.0" y="157.9" width="1.0" height="3.4" fill="#6a8a4a" fill-opacity="0.85"/>
<rect x="440.0" y="157.9" width="1.0" height="3.4" fill="#9a6a9a" fill-opacity="0.85"/>
<rect x="441.0" y="157.9" width="1.0" height="3.4" fill="#7a5a8a" fill-opacity="0.85"/>
<rect x="442.0" y="157.9" width="1.0" height="3.4" fill="#9a6a9a" fill-opacity="0.85"/>
<rect x="443.0" y="157.9" width="1.0" height="3.4" fill="#a85a5a" fill-opacity="0.85"/>
<rect x="444.0" y="157.9" width="1.0" height="3.4" fill="#7a5a8a" fill-opacity="0.85"/>
<rect x="445.0" y="157.9" width="1.0" height="3.4" fill="#6a8a4a" fill-opacity="0.85"/>
<rect x="446.0" y="157.9" width="1.0" height="3.4" fill="#a85a5a" fill-opacity="0.85"/>
<rect x="447.0" y="157.9" width="1.0" height="3.4" fill="#9a8a3a" fill-opacity="0.85"/>
<rect x="448.0" y="157.9" width="1.0" height="3.4" fill="#5a4a8a" fill-opacity="0.85"/>
<rect x="449.0" y="157.9" width="1.0" height="3.4" fill="#b08040" fill-opacity="0.85"/>
<rect x="450.0" y="157.9" width="1.0" height="3.4" fill="#9a6a9a" fill-opacity="0.85"/>
<rect x="451.0" y="157.9" width="1.0" height="3.4" fill="#c0703a" fill-opacity="0.85"/>
<rect x="452.0" y="157.9" width="1.0" height="3.4" fill="#b08040" fill-opacity="0.85"/>
<rect x="453.0" y="157.9" width="1.0" height="3.4" fill="#c0703a" fill-opacity="0.85"/>
<rect x="454.0" y="157.9" width="1.0" height="3.4" fill="#6a8a4a" fill-opacity="0.85"/>
<rect x="455.0" y="157.9" width="1.0" height="3.4" fill="#b08040" fill-opacity="0.85"/>
<rect x="456.0" y="157.9" width="1.0" height="3.4" fill="#a85a5a" fill-opacity="0.85"/>
<rect x="457.0" y="157.9" width="1.0" height="3.4" fill="#b08040" fill-opacity="0.85"/>
<rect x="458.0" y="157.9" width="1.0" height="3.4" fill="#6a8a4a" fill-opacity="0.85"/>
<rect x="459.0" y="157.9" width="1.0" height="3.4" fill="#9a8a3a" fill-opacity="0.85"/>
<rect x="460.0" y="157.9" width="1.0" height="3.4" fill="#9a6a9a" fill-opacity="0.85"/>
<rect x="461.0" y="157.9" width="1.0" height="3.4" fill="#c0703a" fill-opacity="0.85"/>
<rect x="462.0" y="157.9" width="1.0" height="3.4" fill="#c0703a" fill-opacity="0.85"/>
<rect x="463.0" y="157.9" width="1.0" height="3.4" fill="#a85a5a" fill-opacity="0.85"/>
<rect x="464.0" y="157.9" width="1.0" height="3.4" fill="#5a4a8a" fill-opacity="0.85"/>
<rect x="465.0" y="157.9" width="1.0" height="3.4" fill="#9a8a3a" fill-opacity="0.85"/>
<rect x="466.0" y="157.9" width="1.0" height="3.4" fill="#5a4a8a" fill-opacity="0.85"/>
<rect x="467.0" y="157.9" width="1.0" height="3.4" fill="#9a8a3a" fill-opacity="0.85"/>
<rect x="468.0" y="157.9" width="1.0" height="3.4" fill="#9a8a3a" fill-opacity="0.85"/>
<rect x="469.0" y="157.9" width="1.0" height="3.4" fill="#7a5a8a" fill-opacity="0.85"/>
<rect x="470.0" y="157.9" width="1.0" height="3.4" fill="#7a5a8a" fill-opacity="0.85"/>
<rect x="471.0" y="157.9" width="1.0" height="3.4" fill="#a85a5a" fill-opacity="0.85"/>
<rect x="472.0" y="157.9" width="1.0" height="3.4" fill="#9a8a3a" fill-opacity="0.85"/>
<rect x="473.0" y="157.9" width="1.0" height="3.4" fill="#a85a5a" fill-opacity="0.85"/>
<rect x="474.0" y="157.9" width="1.0" height="3.4" fill="#a85a5a" fill-opacity="0.85"/>
<rect x="475.0" y="157.9" width="1.0" height="3.4" fill="#9a8a3a" fill-opacity="0.85"/>
<rect x="476.0" y="157.9" width="1.0" height="3.4" fill="#b08040" fill-opacity="0.85"/>
<rect x="477.0" y="157.9" width="1.0" height="3.4" fill="#6a8a4a" fill-opacity="0.85"/>
<rect x="478.0" y="157.9" width="1.0" height="3.4" fill="#b08040" fill-opacity="0.85"/>
<rect x="479.0" y="157.9" width="1.0" height="3.4" fill="#5a4a8a" fill-opacity="0.85"/>
<rect x="480.0" y="157.9" width="1.0" height="3.4" fill="#9a6a9a" fill-opacity="0.85"/>
<rect x="481.0" y="157.9" width="1.0" height="3.4" fill="#5a4a8a" fill-opacity="0.85"/>
<rect x="482.0" y="157.9" width="1.0" height="3.4" fill="#9a6a9a" fill-opacity="0.85"/>
<rect x="483.0" y="157.9" width="1.0" height="3.4" fill="#c0703a" fill-opacity="0.85"/>
<rect x="484.0" y="157.9" width="1.0" height="3.4" fill="#6a8a4a" fill-opacity="0.85"/>
<rect x="485.0" y="157.9" width="1.0" height="3.4" fill="#a85a5a" fill-opacity="0.85"/>
<rect x="486.0" y="157.9" width="1.0" height="3.4" fill="#c0703a" fill-opacity="0.85"/>
<rect x="487.0" y="157.9" width="1.0" height="3.4" fill="#9a8a3a" fill-opacity="0.85"/>
<rect x="488.0" y="157.9" width="1.0" height="3.4" fill="#9a6a9a" fill-opacity="0.85"/>
<rect x="489.0" y="157.9" width="1.0" height="3.4" fill="#6a8a4a" fill-opacity="0.85"/>
<rect x="490.0" y="157.9" width="1.0" height="3.4" fill="#7a5a8a" fill-opacity="0.85"/>
<rect x="491.0" y="157.9" width="1.0" height="3.4" fill="#a85a5a" fill-opacity="0.85"/>
<rect x="492.0" y="157.9" width="1.0" height="3.4" fill="#9a6a9a" fill-opacity="0.85"/>
<rect x="493.0" y="157.9" width="1.0" height="3.4" fill="#5a4a8a" fill-opacity="0.85"/>
<rect x="494.0" y="157.9" width="1.0" height="3.4" fill="#c0703a" fill-opacity="0.85"/>
<rect x="495.0" y="157.9" width="1.0" height="3.4" fill="#a85a5a" fill-opacity="0.85"/>
<rect x="496.0" y="157.9" width="1.0" height="3.4" fill="#9a8a3a" fill-opacity="0.85"/>
<rect x="497.0" y="157.9" width="1.0" height="3.4" fill="#a85a5a" fill-opacity="0.85"/>
<rect x="498.0" y="157.9" width="1.0" height="3.4" fill="#a85a5a" fill-opacity="0.85"/>
<rect x="499.0" y="157.9" width="1.0" height="3.4" fill="#a85a5a" fill-opacity="0.85"/>
<rect x="500.0" y="157.9" width="1.0" height="3.4" fill="#9a6a9a" fill-opacity="0.85"/>
<rect x="501.0" y="157.9" width="1.0" height="3.4" fill="#a85a5a" fill-opacity="0.85"/>
<rect x="502.0" y="157.9" width="1.0" height="3.4" fill="#5a4a8a" fill-opacity="0.85"/>
<rect x="503.0" y="157.9" width="1.0" height="3.4" fill="#6a8a4a" fill-opacity="0.85"/>
<rect x="504.0" y="157.9" width="1.0" height="3.4" fill="#b08040" fill-opacity="0.85"/>
<rect x="505.0" y="157.9" width="1.0" height="3.4" fill="#9a8a3a" fill-opacity="0.85"/>
<rect x="506.0" y="157.9" width="1.0" height="3.4" fill="#5a4a8a" fill-opacity="0.85"/>
<rect x="507.0" y="157.9" width="1.0" height="3.4" fill="#6a4a8a" fill-opacity="0.85"/>
<rect x="508.0" y="157.9" width="1.0" height="3.4" fill="#9a8a3a" fill-opacity="0.85"/>
<rect x="509.0" y="157.9" width="1.0" height="3.4" fill="#6a8a4a" fill-opacity="0.85"/>
<rect x="510.0" y="157.9" width="1.0" height="3.4" fill="#6a8a4a" fill-opacity="0.85"/>
<rect x="511.0" y="157.9" width="1.0" height="3.4" fill="#b08040" fill-opacity="0.85"/>
<rect x="512.0" y="157.9" width="1.0" height="3.4" fill="#a85a5a" fill-opacity="0.85"/>
<rect x="513.0" y="157.9" width="1.0" height="3.4" fill="#6a4a8a" fill-opacity="0.85"/>
<rect x="514.0" y="157.9" width="1.0" height="3.4" fill="#9a6a9a" fill-opacity="0.85"/>
<line x1="196" y1="157.9" x2="514.6" y2="157.9" stroke="#555" stroke-width="0.7" />
<line x1="196" y1="161.3" x2="514.6" y2="161.3" stroke="#555" stroke-width="0.7" />
<line x1="196" y1="162.0" x2="514.6" y2="162.0" stroke="#aaa" stroke-width="0.6" />
<text x="207.8" y="173.2" font-size="7.4" text-anchor="start" fill="#333" >3'</text>
<text x="504.0" y="173.2" font-size="7.4" text-anchor="start" fill="#333" font-style="italic">5'</text>
<rect x="217.7" y="169.2" width="37.1" height="2.4" fill="#3d2a80" />
<rect x="254.8" y="167.9" width="35" height="5.2" fill="#3d2a80" />
<line x1="289.8" y1="170.4" x2="419.3" y2="170.4" stroke="#3d2a80" stroke-width="0.9" />
<rect x="419.3" y="167.9" width="56.5" height="5.2" fill="#3d2a80" />
<rect x="475.8" y="169.2" width="23" height="2.4" fill="#3d2a80" />
<rect x="224" y="170.1" width="0.8" height="0.6" fill="#b8b0e0" />
<rect x="231" y="170.1" width="0.8" height="0.6" fill="#b8b0e0" />
<rect x="238" y="170.1" width="0.8" height="0.6" fill="#b8b0e0" />
<rect x="245" y="170.1" width="0.8" height="0.6" fill="#b8b0e0" />
<rect x="262" y="170.1" width="0.8" height="0.6" fill="#b8b0e0" />
<rect x="269" y="170.1" width="0.8" height="0.6" fill="#b8b0e0" />
<rect x="276" y="170.1" width="0.8" height="0.6" fill="#b8b0e0" />
<rect x="283" y="170.1" width="0.8" height="0.6" fill="#b8b0e0" />
<rect x="426" y="170.1" width="0.8" height="0.6" fill="#b8b0e0" />
<rect x="433" y="170.1" width="0.8" height="0.6" fill="#b8b0e0" />
<rect x="440" y="170.1" width="0.8" height="0.6" fill="#b8b0e0" />
<rect x="447" y="170.1" width="0.8" height="0.6" fill="#b8b0e0" />
<rect x="454" y="170.1" width="0.8" height="0.6" fill="#b8b0e0" />
<rect x="461" y="170.1" width="0.8" height="0.6" fill="#b8b0e0" />
<rect x="468" y="170.1" width="0.8" height="0.6" fill="#b8b0e0" />
<rect x="481" y="170.1" width="0.8" height="0.6" fill="#b8b0e0" />
<rect x="488" y="170.1" width="0.8" height="0.6" fill="#b8b0e0" />
<rect x="495" y="170.1" width="0.8" height="0.6" fill="#b8b0e0" />
<path d="M294.1 169.3L293.0 170.4L294.1 171.5M301.4 169.3L300.3 170.4L301.4 171.5M308.7 169.3L307.6 170.4L308.7 171.5M316.0 169.3L314.9 170.4L316.0 171.5M323.3 169.3L322.2 170.4L323.3 171.5M330.6 169.3L329.5 170.4L330.6 171.5M337.9 169.3L336.8 170.4L337.9 171.5M345.2 169.3L344.1 170.4L345.2 171.5M352.5 169.3L351.4 170.4L352.5 171.5M359.8 169.3L358.7 170.4L359.8 171.5M367.1 169.3L366.0 170.4L367.1 171.5M374.4 169.3L373.3 170.4L374.4 171.5M381.7 169.3L380.6 170.4L381.7 171.5M389.0 169.3L387.9 170.4L389.0 171.5M396.3 169.3L395.2 170.4L396.3 171.5M403.6 169.3L402.5 170.4L403.6 171.5M410.9 169.3L409.8 170.4L410.9 171.5M418.2 169.3L417.1 170.4L418.2 171.5" fill="none" stroke="#3d2a80" stroke-width="0.7"/>
<text x="346.2" y="185.3" font-size="8.0" text-anchor="start" fill="#222" stroke="#222" stroke-width="0.1" textLength="23.4" lengthAdjust="spacingAndGlyphs" >IFITM3</text>
<text x="267.2" y="202.0" font-size="7.8" text-anchor="end" fill="#231f20" stroke="#231f20" stroke-width="0.22" textLength="23.4" lengthAdjust="spacingAndGlyphs" >IFITM3</text>
<text x="267.2" y="219.8" font-size="7.8" text-anchor="end" fill="#231f20" stroke="#231f20" stroke-width="0.22" textLength="24.8" lengthAdjust="spacingAndGlyphs" >&#946;-actin</text>
<rect x="270.5" y="192.3" width="20.2" height="13.8" fill="#d1cecf" />
<rect x="292.6" y="192.3" width="21.9" height="13.8" fill="#d1cecf" />
<rect x="270.5" y="209.6" width="20.2" height="14.3" fill="#d1cecf" />
<rect x="292.6" y="209.6" width="21.9" height="14.3" fill="#d1cecf" />
<rect x="297.5" y="194.5" width="12.8" height="9.6" rx="4.6" fill="#111"/>
<ellipse cx="280.0" cy="217.1" rx="5.5" ry="2.1" fill="#111"/>
<ellipse cx="304.2" cy="217.1" rx="5.5" ry="2.1" fill="#111"/>
<text x="8.8" y="235.0" font-size="11.4" text-anchor="start" fill="#231f20" stroke="#231f20" stroke-width="0.1" textLength="6.5" lengthAdjust="spacingAndGlyphs" >C</text>
<text x="56.6" y="247.3" font-size="6.8" text-anchor="start" fill="#231f20" stroke="#231f20" stroke-width="0.08" textLength="34.3" lengthAdjust="spacingAndGlyphs" >p = 0.0468</text>
<line x1="58.7" y1="255.4" x2="88.9" y2="255.4" stroke="#231f20" stroke-width="1" />
<line x1="58.7" y1="252.3" x2="58.7" y2="258.4" stroke="#231f20" stroke-width="1" />
<line x1="88.9" y1="252.3" x2="88.9" y2="258.4" stroke="#231f20" stroke-width="1" />
<line x1="48.6" y1="253" x2="48.6" y2="345.8" stroke="#231f20" stroke-width="1.1" />
<line x1="45.2" y1="255.5" x2="48.6" y2="255.5" stroke="#231f20" stroke-width="1" />
<text x="42.7" y="258.1" font-size="8.2" text-anchor="end" fill="#231f20" stroke="#231f20" stroke-width="0.08" >50</text>
<line x1="45.2" y1="273.0" x2="48.6" y2="273.0" stroke="#231f20" stroke-width="1" />
<text x="42.7" y="275.6" font-size="8.2" text-anchor="end" fill="#231f20" stroke="#231f20" stroke-width="0.08" >40</text>
<line x1="45.2" y1="290.5" x2="48.6" y2="290.5" stroke="#231f20" stroke-width="1" />
<text x="42.7" y="293.1" font-size="8.2" text-anchor="end" fill="#231f20" stroke="#231f20" stroke-width="0.08" >30</text>
<line x1="45.2" y1="308.0" x2="48.6" y2="308.0" stroke="#231f20" stroke-width="1" />
<text x="42.7" y="310.6" font-size="8.2" text-anchor="end" fill="#231f20" stroke="#231f20" stroke-width="0.08" >20</text>
<line x1="45.2" y1="325.5" x2="48.6" y2="325.5" stroke="#231f20" stroke-width="1" />
<text x="42.7" y="328.1" font-size="8.2" text-anchor="end" fill="#231f20" stroke="#231f20" stroke-width="0.08" >10</text>
<line x1="45.2" y1="343.0" x2="48.6" y2="343.0" stroke="#231f20" stroke-width="1" />
<text x="42.7" y="345.6" font-size="8.2" text-anchor="end" fill="#231f20" stroke="#231f20" stroke-width="0.08" >0</text>
<text x="0" y="0" font-size="9.2" text-anchor="middle" fill="#231f20" stroke="#231f20" stroke-width="0.22" textLength="56.4" lengthAdjust="spacingAndGlyphs" transform="translate(27.2,299.6) rotate(-90)">IFN&#945; (pg/mL)</text>
<line x1="53.2" y1="343" x2="69.7" y2="343" stroke="#231f20" stroke-width="1.2" />
<line x1="61.8" y1="343" x2="61.8" y2="339.4" stroke="#231f20" stroke-width="1" />
<line x1="59" y1="339.4" x2="64.7" y2="339.4" stroke="#231f20" stroke-width="1" />
<line x1="86.8" y1="323.8" x2="86.8" y2="271.3" stroke="#231f20" stroke-width="1" />
<line x1="82.3" y1="271.3" x2="91.3" y2="271.3" stroke="#231f20" stroke-width="1.2" />
<rect x="78.2" y="323.8" width="17.3" height="19.2" fill="#9e3644" />
<line x1="78.2" y1="341.6" x2="95.5" y2="341.6" stroke="#3a0a10" stroke-width="1.3" />
<text x="0" y="0" font-size="8.0" text-anchor="middle" fill="#231f20" stroke="#231f20" stroke-width="0.22" textLength="26.5" lengthAdjust="spacingAndGlyphs" transform="translate(57.1,364.9) rotate(-44)">Healthy</text>
<text x="0" y="0" font-size="8.0" text-anchor="middle" fill="#231f20" stroke="#231f20" stroke-width="0.22" textLength="33.5" lengthAdjust="spacingAndGlyphs" transform="translate(82.1,365.5) rotate(-44)">Influenza</text>
<text x="112.8" y="234.9" font-size="11.4" text-anchor="start" fill="#231f20" stroke="#231f20" stroke-width="0.1" textLength="7.3" lengthAdjust="spacingAndGlyphs" >D</text>
<text x="166.9" y="247.6" font-size="6.8" text-anchor="start" fill="#231f20" stroke="#231f20" stroke-width="0.08" textLength="30.2" lengthAdjust="spacingAndGlyphs" >p&lt;0.0001</text>
<line x1="167.2" y1="255.8" x2="197.7" y2="255.8" stroke="#231f20" stroke-width="1.1" />
<line x1="167.2" y1="252.9" x2="167.2" y2="258.9" stroke="#231f20" stroke-width="1" />
<line x1="197.7" y1="252.9" x2="197.7" y2="258.9" stroke="#231f20" stroke-width="1" />
<line x1="159.0" y1="253" x2="159.0" y2="345.8" stroke="#231f20" stroke-width="1.1" />
<line x1="155.6" y1="255.5" x2="159.0" y2="255.5" stroke="#231f20" stroke-width="1" />
<text x="152.7" y="258.1" font-size="8.2" text-anchor="end" fill="#231f20" stroke="#231f20" stroke-width="0.08" >500</text>
<line x1="155.6" y1="273.0" x2="159.0" y2="273.0" stroke="#231f20" stroke-width="1" />
<text x="152.7" y="275.6" font-size="8.2" text-anchor="end" fill="#231f20" stroke="#231f20" stroke-width="0.08" >400</text>
<line x1="155.6" y1="290.5" x2="159.0" y2="290.5" stroke="#231f20" stroke-width="1" />
<text x="152.7" y="293.1" font-size="8.2" text-anchor="end" fill="#231f20" stroke="#231f20" stroke-width="0.08" >300</text>
<line x1="155.6" y1="308.0" x2="159.0" y2="308.0" stroke="#231f20" stroke-width="1" />
<text x="152.7" y="310.6" font-size="8.2" text-anchor="end" fill="#231f20" stroke="#231f20" stroke-width="0.08" >200</text>
<line x1="155.6" y1="325.5" x2="159.0" y2="325.5" stroke="#231f20" stroke-width="1" />
<text x="152.7" y="328.1" font-size="8.2" text-anchor="end" fill="#231f20" stroke="#231f20" stroke-width="0.08" >100</text>
<line x1="155.6" y1="343.0" x2="159.0" y2="343.0" stroke="#231f20" stroke-width="1" />
<text x="152.7" y="345.6" font-size="8.2" text-anchor="end" fill="#231f20" stroke="#231f20" stroke-width="0.08" >0</text>
<text x="0" y="0" font-size="9.0" text-anchor="middle" fill="#231f20" stroke="#231f20" stroke-width="0.22" textLength="104.5" lengthAdjust="spacingAndGlyphs" transform="translate(119.8,299.2) rotate(-90)">IFITM3 mRNA expression</text>
<text x="0" y="0" font-size="9.0" text-anchor="middle" fill="#231f20" stroke="#231f20" stroke-width="0.22" textLength="98" lengthAdjust="spacingAndGlyphs" transform="translate(131.4,299.5) rotate(-90)">(normalized to GADPH)</text>
<line x1="163.6" y1="343" x2="180.2" y2="343" stroke="#333" stroke-width="1.3" />
<line x1="197" y1="273" x2="197" y2="342" stroke="#666" stroke-width="1.1" />
<rect x="188.2" y="319.3" width="17.8" height="13.8" fill="#9e3644" />
<line x1="188.2" y1="329.3" x2="206" y2="329.3" stroke="#3a0a10" stroke-width="1.3" />
<rect x="194.5" y="269.8" width="4.8" height="4.6" fill="#111" />
<line x1="192.6" y1="274.0" x2="201.6" y2="274.0" stroke="#111" stroke-width="1.1" />
<rect x="194.5" y="339.9" width="4.8" height="4.6" fill="#111" />
<line x1="192.6" y1="340.5" x2="201.6" y2="340.5" stroke="#111" stroke-width="1.1" />
<text x="0" y="0" font-size="8.0" text-anchor="middle" fill="#231f20" stroke="#231f20" stroke-width="0.22" textLength="26.5" lengthAdjust="spacingAndGlyphs" transform="translate(165.8,364.9) rotate(-44)">Healthy</text>
<text x="0" y="0" font-size="8.0" text-anchor="middle" fill="#231f20" stroke="#231f20" stroke-width="0.22" textLength="33.5" lengthAdjust="spacingAndGlyphs" transform="translate(190.8,365.5) rotate(-44)">Influenza</text>
<text x="223.0" y="234.9" font-size="11.4" text-anchor="start" fill="#231f20" stroke="#231f20" stroke-width="0.1" textLength="5.4" lengthAdjust="spacingAndGlyphs" >E</text>
<text x="276.8" y="247.6" font-size="6.8" text-anchor="start" fill="#231f20" stroke="#231f20" stroke-width="0.08" textLength="26" lengthAdjust="spacingAndGlyphs" >p&lt;0.001</text>
<line x1="274.7" y1="255.5" x2="305.3" y2="255.5" stroke="#231f20" stroke-width="1" />
<line x1="274.7" y1="252.4" x2="274.7" y2="258.6" stroke="#231f20" stroke-width="1" />
<line x1="305.3" y1="252.4" x2="305.3" y2="258.6" stroke="#231f20" stroke-width="1" />
<line x1="268.4" y1="253" x2="268.4" y2="345.8" stroke="#231f20" stroke-width="1.1" />
<line x1="265.0" y1="255.5" x2="268.4" y2="255.5" stroke="#231f20" stroke-width="1" />
<text x="262.3" y="258.1" font-size="8.2" text-anchor="end" fill="#231f20" stroke="#231f20" stroke-width="0.08" >250</text>
<line x1="265.0" y1="273.0" x2="268.4" y2="273.0" stroke="#231f20" stroke-width="1" />
<text x="262.3" y="275.6" font-size="8.2" text-anchor="end" fill="#231f20" stroke="#231f20" stroke-width="0.08" >200</text>
<line x1="265.0" y1="290.5" x2="268.4" y2="290.5" stroke="#231f20" stroke-width="1" />
<text x="262.3" y="293.1" font-size="8.2" text-anchor="end" fill="#231f20" stroke="#231f20" stroke-width="0.08" >150</text>
<line x1="265.0" y1="308.0" x2="268.4" y2="308.0" stroke="#231f20" stroke-width="1" />
<text x="262.3" y="310.6" font-size="8.2" text-anchor="end" fill="#231f20" stroke="#231f20" stroke-width="0.08" >100</text>
<line x1="265.0" y1="325.5" x2="268.4" y2="325.5" stroke="#231f20" stroke-width="1" />
<text x="262.3" y="328.1" font-size="8.2" text-anchor="end" fill="#231f20" stroke="#231f20" stroke-width="0.08" >50</text>
<line x1="265.0" y1="343.0" x2="268.4" y2="343.0" stroke="#231f20" stroke-width="1" />
<text x="262.3" y="345.6" font-size="8.2" text-anchor="end" fill="#231f20" stroke="#231f20" stroke-width="0.08" >0</text>
<text x="0" y="0" font-size="8.6" text-anchor="middle" fill="#231f20" stroke="#231f20" stroke-width="0.22" textLength="78" lengthAdjust="spacingAndGlyphs" transform="translate(243.5,294.4) rotate(-90)">IFITM3 / &#946;-actin (AU)</text>
<line x1="280.9" y1="342" x2="280.9" y2="329.3" stroke="#666" stroke-width="1.1" />
<line x1="277.6" y1="329.6" x2="284.6" y2="329.6" stroke="#111" stroke-width="1.1" />
<circle cx="280.9" cy="329.3" r="2.5" fill="#111"/>
<line x1="272.1" y1="341.9" x2="290.2" y2="341.9" stroke="#4a6c9c" stroke-width="2.2" />
<line x1="306" y1="272" x2="306" y2="342" stroke="#666" stroke-width="1.1" />
<rect x="297.2" y="321.8" width="17.5" height="10.8" fill="#9e3644" />
<line x1="297.2" y1="328.8" x2="314.7" y2="328.8" stroke="#3a0a10" stroke-width="1.3" />
<rect x="303.7" y="267.3" width="4.8" height="4.6" fill="#111" />
<line x1="302.0" y1="271.5" x2="310.0" y2="271.5" stroke="#111" stroke-width="1.1" />
<rect x="303.7" y="340.0" width="4.8" height="4.6" fill="#111" />
<line x1="302.0" y1="340.6" x2="310.0" y2="340.6" stroke="#111" stroke-width="1.1" />
<text x="0" y="0" font-size="8.0" text-anchor="middle" fill="#231f20" stroke="#231f20" stroke-width="0.22" textLength="26.5" lengthAdjust="spacingAndGlyphs" transform="translate(274.6,364.9) rotate(-44)">Healthy</text>
<text x="0" y="0" font-size="8.0" text-anchor="middle" fill="#231f20" stroke="#231f20" stroke-width="0.22" textLength="33.5" lengthAdjust="spacingAndGlyphs" transform="translate(299.6,365.5) rotate(-44)">Influenza</text>
<text x="331.9" y="210.6" font-size="11.4" text-anchor="start" fill="#231f20" stroke="#231f20" stroke-width="0.1" textLength="5.2" lengthAdjust="spacingAndGlyphs" >F</text>
<line x1="366.4" y1="218.1" x2="366.4" y2="345.8" stroke="#231f20" stroke-width="1.1" />
<line x1="363" y1="230.3" x2="366.4" y2="230.3" stroke="#231f20" stroke-width="1" />
<text x="359.9" y="232.9" font-size="8.2" text-anchor="end" fill="#231f20" stroke="#231f20" stroke-width="0.08" >150</text>
<line x1="363" y1="249.1" x2="366.4" y2="249.1" stroke="#231f20" stroke-width="1" />
<text x="359.9" y="251.7" font-size="8.2" text-anchor="end" fill="#231f20" stroke="#231f20" stroke-width="0.08" >125</text>
<line x1="363" y1="267.9" x2="366.4" y2="267.9" stroke="#231f20" stroke-width="1" />
<text x="359.9" y="270.5" font-size="8.2" text-anchor="end" fill="#231f20" stroke="#231f20" stroke-width="0.08" >100</text>
<line x1="363" y1="286.7" x2="366.4" y2="286.7" stroke="#231f20" stroke-width="1" />
<text x="359.9" y="289.3" font-size="8.2" text-anchor="end" fill="#231f20" stroke="#231f20" stroke-width="0.08" >75</text>
<line x1="363" y1="305.4" x2="366.4" y2="305.4" stroke="#231f20" stroke-width="1" />
<text x="359.9" y="308.0" font-size="8.2" text-anchor="end" fill="#231f20" stroke="#231f20" stroke-width="0.08" >50</text>
<line x1="363" y1="324.2" x2="366.4" y2="324.2" stroke="#231f20" stroke-width="1" />
<text x="359.9" y="326.8" font-size="8.2" text-anchor="end" fill="#231f20" stroke="#231f20" stroke-width="0.08" >25</text>
<line x1="363" y1="343" x2="366.4" y2="343" stroke="#231f20" stroke-width="1" />
<text x="359.9" y="345.6" font-size="8.2" text-anchor="end" fill="#231f20" stroke="#231f20" stroke-width="0.08" >0</text>
<text x="0" y="0" font-size="8.9" text-anchor="middle" fill="#231f20" stroke="#231f20" stroke-width="0.22" textLength="82" lengthAdjust="spacingAndGlyphs" transform="translate(340.4,281.2) rotate(-90)">IFITM3 protein (AU)</text>
<line x1="374.6" y1="341.7" x2="453.3" y2="341.7" stroke="#3a4262" stroke-width="1.1" stroke-dasharray="1 1.1"/>
<line x1="374.4" y1="341.3" x2="374.4" y2="345" stroke="#231f20" stroke-width="1" />
<line x1="413.7" y1="341.3" x2="413.7" y2="345" stroke="#231f20" stroke-width="1" />
<line x1="453.1" y1="341.3" x2="453.1" y2="345" stroke="#231f20" stroke-width="1" />
<text x="374.4" y="356.8" font-size="7.9" text-anchor="middle" fill="#231f20" stroke="#231f20" stroke-width="0.22" >1</text>
<text x="413.7" y="356.8" font-size="7.9" text-anchor="middle" fill="#231f20" stroke="#231f20" stroke-width="0.22" >4</text>
<text x="453.1" y="356.8" font-size="7.9" text-anchor="middle" fill="#231f20" stroke="#231f20" stroke-width="0.22" >8</text>
<text x="397" y="371" font-size="9.2" text-anchor="start" fill="#231f20" stroke="#231f20" stroke-width="0.22" textLength="32.5" lengthAdjust="spacingAndGlyphs" >ICU day</text>
<line x1="374.4" y1="303.5" x2="413.7" y2="305.7" stroke="#b02a3a" stroke-width="1.4" stroke-dasharray="3 2"/>
<line x1="413.7" y1="305.7" x2="453.1" y2="313.7" stroke="#b02a3a" stroke-width="1.4" stroke-dasharray="3 2"/>
<line x1="374.4" y1="311.2" x2="413.7" y2="293.8" stroke="#3c5a8e" stroke-width="1.6" />
<line x1="413.7" y1="293.8" x2="453.1" y2="260.8" stroke="#3c5a8e" stroke-width="1.6" />
<line x1="374.4" y1="308.6" x2="374.4" y2="313.6" stroke="#3c5a8e" stroke-width="1" />
<line x1="371.29999999999995" y1="308.6" x2="377.5" y2="308.6" stroke="#3c5a8e" stroke-width="1" />
<line x1="371.29999999999995" y1="313.6" x2="377.5" y2="313.6" stroke="#3c5a8e" stroke-width="1" />
<line x1="413.7" y1="278.6" x2="413.7" y2="310.3" stroke="#3c5a8e" stroke-width="1" />
<line x1="410.59999999999997" y1="278.6" x2="416.8" y2="278.6" stroke="#3c5a8e" stroke-width="1" />
<line x1="410.59999999999997" y1="310.3" x2="416.8" y2="310.3" stroke="#3c5a8e" stroke-width="1" />
<line x1="453.1" y1="234.9" x2="453.1" y2="285.3" stroke="#3c5a8e" stroke-width="1" />
<line x1="450.0" y1="234.9" x2="456.20000000000005" y2="234.9" stroke="#3c5a8e" stroke-width="1" />
<line x1="450.0" y1="285.3" x2="456.20000000000005" y2="285.3" stroke="#3c5a8e" stroke-width="1" />
<line x1="374.4" y1="297.6" x2="374.4" y2="309" stroke="#b02a3a" stroke-width="1" />
<line x1="371.9" y1="297.6" x2="376.9" y2="297.6" stroke="#b02a3a" stroke-width="1" />
<line x1="371.9" y1="309" x2="376.9" y2="309" stroke="#b02a3a" stroke-width="1" />
<line x1="413.7" y1="303.2" x2="413.7" y2="308.2" stroke="#b02a3a" stroke-width="1" />
<line x1="411.2" y1="303.2" x2="416.2" y2="303.2" stroke="#b02a3a" stroke-width="1" />
<line x1="411.2" y1="308.2" x2="416.2" y2="308.2" stroke="#b02a3a" stroke-width="1" />
<line x1="453.1" y1="308.2" x2="453.1" y2="319.2" stroke="#b02a3a" stroke-width="1" />
<line x1="450.6" y1="308.2" x2="455.6" y2="308.2" stroke="#b02a3a" stroke-width="1" />
<line x1="450.6" y1="319.2" x2="455.6" y2="319.2" stroke="#b02a3a" stroke-width="1" />
<rect x="371.5" y="308.3" width="5.8" height="5.8" fill="#9aa6c4" stroke="#3c5a8e" stroke-width="0.9"/>
<rect x="410.8" y="290.90000000000003" width="5.8" height="5.8" fill="#9aa6c4" stroke="#3c5a8e" stroke-width="0.9"/>
<rect x="450.20000000000005" y="257.90000000000003" width="5.8" height="5.8" fill="#9aa6c4" stroke="#3c5a8e" stroke-width="0.9"/>
<circle cx="374.4" cy="303.5" r="2.6" fill="none" stroke="#b02a3a" stroke-width="1"/>
<circle cx="453.1" cy="313.7" r="2.6" fill="none" stroke="#b02a3a" stroke-width="1"/>
<circle cx="413.7" cy="305.7" r="2.6" fill="#b02a3a"/>
<line x1="411.2" y1="305.7" x2="416.2" y2="305.7" stroke="#e8b0b8" stroke-width="0.8" />
<text x="442.7" y="229.2" font-size="7.6" text-anchor="start" fill="#231f20" stroke="#231f20" stroke-width="0.22" textLength="25" lengthAdjust="spacingAndGlyphs" >p=0.03</text>
<text x="460.8" y="257.2" font-size="7.5" text-anchor="start" fill="#4a5c8c" stroke="#4a5c8c" stroke-width="0.1" textLength="50.6" lengthAdjust="spacingAndGlyphs" >H1N1 influenza</text>
<text x="460.8" y="266.5" font-size="7.5" text-anchor="start" fill="#4a5c8c" stroke="#4a5c8c" stroke-width="0.1" textLength="48.4" lengthAdjust="spacingAndGlyphs" >survivors (n=5)</text>
<text x="460.8" y="301.2" font-size="7.5" text-anchor="start" fill="#111" stroke="#111" stroke-width="0.12" textLength="50.6" lengthAdjust="spacingAndGlyphs" >H1N1 influenza</text>
<text x="460.8" y="310.4" font-size="7.5" text-anchor="start" fill="#111" stroke="#111" stroke-width="0.12" textLength="45" lengthAdjust="spacingAndGlyphs" >non-survivors</text>
<text x="460.8" y="319.9" font-size="7.5" text-anchor="start" fill="#111" stroke="#111" stroke-width="0.12" textLength="17.5" lengthAdjust="spacingAndGlyphs" >(n=5)</text>
<text x="460.8" y="344.6" font-size="7.5" text-anchor="start" fill="#8a8a8a" stroke="#8a8a8a" stroke-width="0.1" textLength="54" lengthAdjust="spacingAndGlyphs" >Healthy controls</text>
<text x="460.8" y="354.2" font-size="7.5" text-anchor="start" fill="#8a8a8a" stroke="#8a8a8a" stroke-width="0.1" textLength="21" lengthAdjust="spacingAndGlyphs" >(n=14)</text>
<rect x="0" y="0" width="520" height="1.6" fill="#4a4a4a" />
<rect x="0" y="0" width="1.6" height="387" fill="#4a4a4a" />
<rect x="518.8" y="0" width="1.2" height="387" fill="#000" />
<rect x="0" y="385.2" width="520" height="1.8" fill="#4a4a4a" />
</svg>
</body></html>
